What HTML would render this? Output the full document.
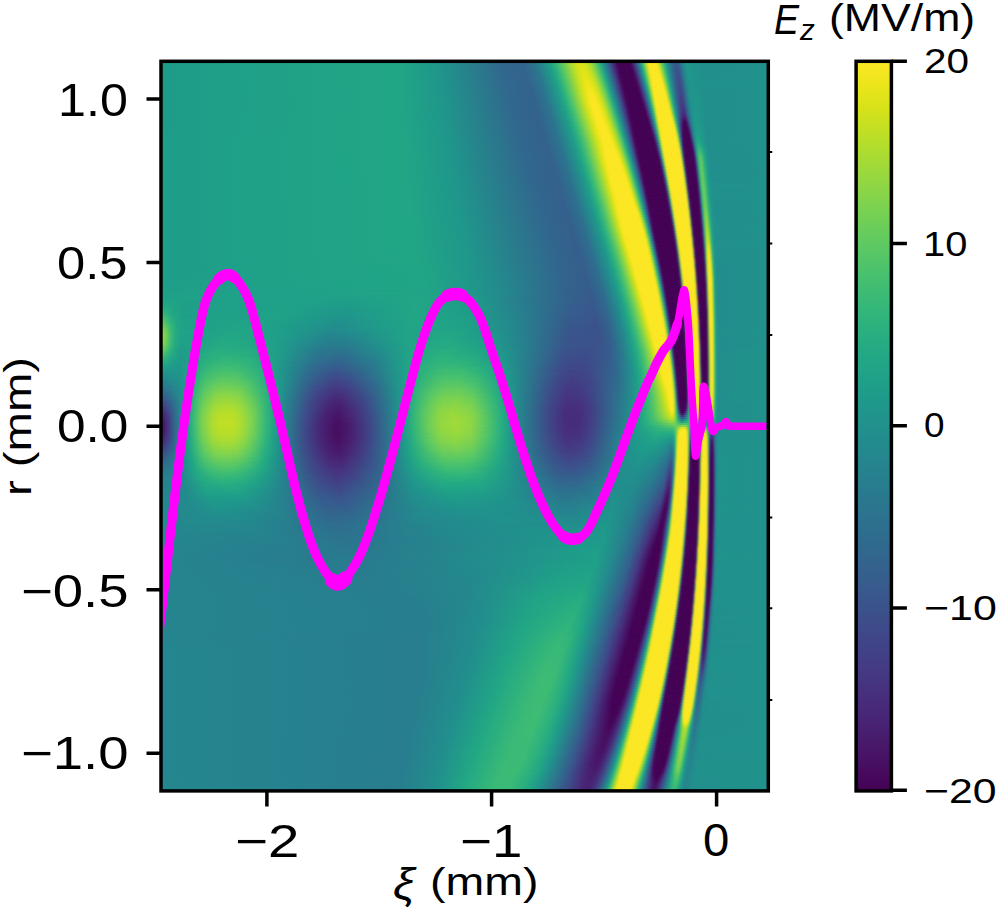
<!DOCTYPE html>
<html><head><meta charset="utf-8"><style>
html,body{margin:0;padding:0;background:#fff}
body{width:1000px;height:910px;position:relative;overflow:hidden;font-family:"Liberation Sans",sans-serif;color:#000}
#hm{position:absolute;left:161px;top:61px;width:608px;height:731px;overflow:hidden}
#hm i{display:block;width:100%}
.t{position:absolute;white-space:nowrap;line-height:1}
.yl{font-size:44px;right:0}
.xl{font-size:44px}
.cl{font-size:35px}
svg{position:absolute;left:0;top:0}
</style></head><body>
<div id="hm">
<i style="height:2px;background:linear-gradient(90deg,#1e9c89 0px,#21a685 236px,#1f958b 278px,#31688e 339px,#33638d 360px,#2b758e 373px,#1fa088 388px,#2cb07e 393px,#48c06e 398px,#a5db36 409px,#cfe11d 415px,#dae319 419px,#d2e21b 423px,#b8de29 427px,#8cd646 431px,#39b876 437px,#26aa82 439px,#21918c 442px,#38588c 448px,#462c7a 452px,#450458 456px,#440154 467px,#450658 469px,#462a78 472px,#375a8c 475px,#24888c 478px,#239888 479px,#29a882 480px,#39b677 481px,#72ce54 483px,#b7de2d 485px,#d6e222 486px,#ede520 487px,#f8e622 488px,#fde725 491px,#fce724 494px,#f6e622 495px,#e6e420 496px,#cee023 497px,#94d641 499px,#44be70 502px,#26a882 504px,#21948b 506px,#31688e 511px,#39568c 515px,#365c8c 517px,#238a8d 522px,#1f968b 525px,#21908c 541px,#21918c 607px)"></i>
<i style="height:2px;background:linear-gradient(90deg,#1e9c89 0px,#21a685 236px,#1f968b 277px,#31678e 341px,#32648e 362px,#2a768e 374px,#1f9e88 388px,#28ae80 393px,#4cc26c 399px,#a9dc33 410px,#d2e21c 416px,#dce319 420px,#d2e21c 424px,#b6de2a 428px,#88d448 432px,#34b679 438px,#24a784 440px,#228d8c 443px,#3a528a 449px,#46327d 452px,#46085a 456px,#440154 460px,#440456 469px,#471466 471px,#404285 474px,#2d728e 477px,#23918a 479px,#25a085 480px,#31b07c 481px,#48be6e 482px,#88d448 484px,#cce024 486px,#e7e420 487px,#f6e622 488px,#fde725 490px,#fae724 495px,#f0e620 496px,#dce220 497px,#c0de28 498px,#4ec26a 502px,#2aac80 504px,#22a286 505px,#26828e 508px,#365c8d 513px,#39568c 516px,#34618d 518px,#24888d 522px,#1f968b 525px,#21908c 541px,#21918c 607px)"></i>
<i style="height:2px;background:linear-gradient(90deg,#1e9c89 0px,#21a685 236px,#1f968b 277px,#31688e 341px,#32648e 362px,#2a788e 376px,#1f9e88 389px,#2ab07f 394px,#4ec46a 400px,#b5de2c 412px,#d6e21a 417px,#dee318 421px,#d3e21c 425px,#b4de2c 429px,#84d44a 433px,#3dba74 438px,#28ac81 440px,#209c88 442px,#2e6d8e 447px,#404286 451px,#482071 454px,#450458 457px,#440154 468px,#450558 470px,#47196a 472px,#3e4887 475px,#2a788e 478px,#249988 480px,#2aa881 481px,#3cb776 482px,#79d051 484px,#c0de2a 486px,#dfe321 487px,#f3e622 488px,#fce724 489px,#fce724 495px,#f8e622 496px,#e9e420 497px,#d1e223 498px,#94d640 500px,#5ac664 502px,#30b27c 504px,#25a684 505px,#22908c 507px,#33638d 512px,#39558c 515px,#38568c 517px,#228c8d 523px,#1f978b 526px,#21908d 540px,#21918c 607px)"></i>
<i style="height:2px;background:linear-gradient(90deg,#1e9c89 0px,#21a685 236px,#1f958b 279px,#31688e 340px,#33638d 362px,#2b758e 375px,#1fa088 390px,#2cb07e 395px,#51c46a 401px,#b1dd2e 412px,#d9e219 418px,#dfe318 422px,#d2e21c 426px,#b3dd2c 430px,#72cf56 435px,#39b876 439px,#26aa82 441px,#22908c 444px,#3a548b 450px,#472676 454px,#45075a 457px,#440154 461px,#440256 470px,#461163 472px,#423e83 475px,#2e708e 478px,#24908a 480px,#26a185 481px,#32b07c 482px,#4abe6d 483px,#b2dc30 486px,#d4e223 487px,#ede520 488px,#f9e623 489px,#fde725 493px,#fce724 496px,#f4e622 497px,#e0e420 498px,#c5e028 499px,#68cb5c 502px,#38b678 504px,#29ab81 505px,#21948b 507px,#32648d 512px,#3a548c 515px,#3a548c 517px,#32648d 519px,#238a8d 523px,#1f968b 526px,#21908d 540px,#21918c 607px)"></i>
<i style="height:2px;background:linear-gradient(90deg,#1e9c89 0px,#21a685 236px,#1f968b 278px,#31688e 342px,#33638d 363px,#2a788e 377px,#20a088 391px,#2db27e 396px,#54c668 402px,#bddf26 414px,#dce319 419px,#e0e318 423px,#d2e21c 427px,#b1dc2e 431px,#5ec962 437px,#2aae7f 441px,#209e88 443px,#2a788e 447px,#404486 452px,#471668 456px,#450458 458px,#440254 470px,#460a5c 472px,#44367e 475px,#31678d 478px,#24888c 480px,#249888 481px,#2aa980 482px,#3eb874 483px,#5ac663 484px,#a3da38 486px,#c8e027 487px,#e5e420 488px,#f6e622 489px,#fde725 491px,#f9e623 497px,#eee520 498px,#d6e222 499px,#b7dd2d 500px,#59c664 503px,#40bb72 504px,#2eb07d 505px,#24a484 506px,#228d8c 508px,#355e8d 513px,#3b528b 516px,#38568c 518px,#24888d 523px,#1f968b 526px,#21908c 541px,#21918c 607px)"></i>
<i style="height:2px;background:linear-gradient(90deg,#1e9c89 0px,#21a685 236px,#1f968b 278px,#31678e 343px,#33648d 364px,#2a788e 378px,#1f9e88 391px,#2ab07e 396px,#4fc46a 402px,#b1dd2e 413px,#d6e21a 418px,#e2e418 422px,#dce319 426px,#c3e023 430px,#95d840 434px,#4cc16c 439px,#28ac81 442px,#209a8a 444px,#306a8e 449px,#423e84 453px,#461062 457px,#440256 459px,#440255 471px,#460e60 473px,#423c82 476px,#2e6f8e 479px,#24908a 481px,#26a185 482px,#33b07a 483px,#4cc06c 484px,#bade2d 487px,#dce222 488px,#f2e622 489px,#fce724 490px,#fce724 497px,#f6e622 498px,#e4e420 499px,#c8e026 500px,#66ca5c 503px,#35b479 505px,#28a882 506px,#229c88 507px,#30688e 512px,#3b518b 516px,#3a548b 518px,#228c8d 524px,#1f978b 527px,#21908c 541px,#21918c 607px)"></i>
<i style="height:2px;background:linear-gradient(90deg,#1e9c89 0px,#21a685 236px,#1f968b 278px,#31678e 344px,#33638d 364px,#2b748e 377px,#1fa088 392px,#2cb07e 397px,#52c468 403px,#b5de2c 414px,#dae21a 419px,#e4e419 423px,#dde319 427px,#c2e024 431px,#92d742 435px,#46bf6f 440px,#2eb17d 442px,#20988a 445px,#365c8c 451px,#462e7b 455px,#460b5e 458px,#440254 460px,#440256 472px,#461264 474px,#404485 477px,#2b768e 480px,#249888 482px,#2ca980 483px,#3fb874 484px,#83d24a 486px,#abda34 487px,#d0e025 488px,#ebe421 489px,#f9e623 490px,#fde725 494px,#fae724 498px,#f0e622 499px,#d9e222 500px,#bade2c 501px,#58c565 504px,#3eba74 505px,#2cae7e 506px,#24a186 507px,#24898d 509px,#375a8c 514px,#3c4f8a 517px,#38588c 519px,#238a8d 524px,#1f968b 527px,#21908c 541px,#21918c 607px)"></i>
<i style="height:2px;background:linear-gradient(90deg,#1e9c89 0px,#21a685 236px,#1f968b 279px,#31688e 342px,#33638d 365px,#2a788e 379px,#20a088 393px,#2db27d 398px,#55c667 404px,#b9de28 415px,#dce319 420px,#e6e419 424px,#dee319 428px,#c0df24 432px,#8ed644 436px,#42bd72 441px,#2aae7f 443px,#209d88 445px,#2e6c8e 450px,#424084 454px,#461062 458px,#440256 460px,#450456 473px,#471869 475px,#423a80 477px,#2e6e8d 480px,#24908a 482px,#26a185 483px,#34b17a 484px,#4ec06a 485px,#c2de2a 488px,#e2e422 489px,#f5e622 490px,#fde725 492px,#fce724 498px,#f8e622 499px,#e8e421 500px,#cce026 501px,#86d349 503px,#48be6e 505px,#33b27a 506px,#26a684 507px,#228d8c 509px,#365c8c 514px,#3c4e8a 517px,#3a548b 519px,#24888d 524px,#1f968b 527px,#21908c 541px,#21918c 607px)"></i>
<i style="height:2px;background:linear-gradient(90deg,#1e9c89 0px,#21a685 237px,#20948c 282px,#31688e 344px,#33648d 366px,#2a788e 380px,#1f9e88 393px,#2ab07e 398px,#50c46a 404px,#acdc31 414px,#d4e21b 419px,#e7e419 423px,#e5e419 427px,#d1e21c 431px,#a7dc34 435px,#4cc26c 441px,#28ab81 444px,#209a8a 446px,#365e8c 452px,#443a82 455px,#460b5e 459px,#440254 461px,#440255 473px,#461062 475px,#404084 478px,#2b768d 481px,#249888 483px,#2caa80 484px,#42ba72 485px,#62c85e 486px,#b3dc31 488px,#d8e224 489px,#f0e622 490px,#fbe724 491px,#fce724 499px,#f2e622 500px,#dce222 501px,#bcde2c 502px,#55c466 505px,#3cb876 506px,#2aab80 507px,#229e88 508px,#2a7a8e 511px,#39568c 515px,#3d4d8a 518px,#365a8c 520px,#24868e 524px,#1f968b 527px,#20938c 533px,#21918c 607px)"></i>
<i style="height:2px;background:linear-gradient(90deg,#1e9c89 0px,#21a685 237px,#1f968b 279px,#31678e 345px,#33648d 367px,#2a778e 380px,#1fa088 394px,#2cb27e 399px,#53c668 405px,#c2e024 417px,#dee319 421px,#eae51a 424px,#e3e419 429px,#c7e021 433px,#96d840 437px,#46bf6e 442px,#25a883 445px,#20968a 447px,#32648d 452px,#424185 455px,#471c6d 458px,#45075a 460px,#440154 464px,#440456 474px,#46095c 475px,#462474 477px,#3e4887 479px,#287e8d 482px,#24908a 483px,#27a184 484px,#36b279 485px,#52c268 486px,#a3d939 488px,#cce028 489px,#eae422 490px,#f8e623 491px,#fde725 495px,#fce724 499px,#f8e623 500px,#eae422 501px,#cee026 502px,#86d34a 504px,#46be70 506px,#30b07c 507px,#25a384 508px,#24898d 510px,#355e8d 514px,#3d4d8a 517px,#3c4e8a 519px,#228a8d 525px,#1f978b 528px,#21908c 541px,#21918c 607px)"></i>
<i style="height:2px;background:linear-gradient(90deg,#1e9c89 0px,#21a685 237px,#1f958b 281px,#31688e 344px,#33638d 367px,#2a788e 381px,#20a188 395px,#2eb27c 400px,#57c666 406px,#bedf26 417px,#dce319 421px,#ece51b 425px,#e8e41a 429px,#cfe11d 433px,#a0da39 437px,#51c468 442px,#2aae80 445px,#209c88 447px,#2c748e 451px,#3e4888 455px,#472272 458px,#460b5e 460px,#440254 462px,#440254 474px,#460d5f 476px,#413e82 479px,#2c748d 482px,#249888 484px,#2eaa7f 485px,#45bb70 486px,#68ca5c 487px,#bcde2e 489px,#e0e322 490px,#f5e622 491px,#fde725 493px,#fce724 500px,#f4e622 501px,#dfe422 502px,#bede2c 503px,#52c268 506px,#38b677 507px,#28a882 508px,#229a88 509px,#306a8e 513px,#3b528b 516px,#3e4b89 518px,#3a538b 520px,#24888d 525px,#1f968b 528px,#21908c 541px,#21918c 607px)"></i>
<i style="height:2px;background:linear-gradient(90deg,#1e9c89 0px,#21a685 237px,#1f968b 280px,#31688e 344px,#33638d 368px,#2a788e 382px,#1f9e88 395px,#2bb07e 400px,#52c468 406px,#b0dd2e 416px,#d3e21c 420px,#ebe51a 424px,#eee51c 428px,#dee319 432px,#c3e023 435px,#8dd645 439px,#3eba74 444px,#28aa82 446px,#20988a 448px,#32668d 453px,#404286 456px,#471c6e 459px,#45075a 461px,#440154 465px,#440255 475px,#45075a 476px,#462271 478px,#3e4686 480px,#287e8d 483px,#24908a 484px,#28a284 485px,#38b378 486px,#58c465 487px,#acda35 489px,#d4e226 490px,#f0e523 491px,#fbe724 492px,#fae624 501px,#ede522 502px,#d2e126 503px,#addb34 504px,#61c860 506px,#42bc72 507px,#2eae7e 508px,#24a086 509px,#26858d 511px,#375a8c 515px,#3e4a89 518px,#3c4f8a 520px,#24868e 525px,#1f968b 528px,#21918c 544px,#21918c 607px)"></i>
<i style="height:2px;background:linear-gradient(90deg,#1e9c89 0px,#21a685 237px,#1f968b 280px,#31688e 346px,#33638d 368px,#2b748e 381px,#1fa088 396px,#2cb27e 401px,#55c666 407px,#b6de2b 417px,#d8e21a 421px,#eee51b 425px,#efe51c 429px,#dde31a 433px,#c1e024 436px,#88d448 440px,#39b877 445px,#25a884 447px,#21948b 449px,#3a548b 455px,#46307c 458px,#460b5e 461px,#440254 463px,#440456 476px,#460a5c 477px,#462976 479px,#3c4e88 481px,#26868c 484px,#269888 485px,#2fab7e 486px,#48bc6e 487px,#9ad73e 489px,#c7e02a 490px,#e8e423 491px,#f8e624 492px,#fde725 495px,#fce724 501px,#f6e622 502px,#e2e423 503px,#c1de2c 504px,#71cd56 506px,#4ec06a 507px,#35b47a 508px,#27a484 509px,#22968a 510px,#32668d 514px,#3d4e8a 517px,#3f4989 519px,#39568b 521px,#26848e 525px,#20958b 528px,#20938c 534px,#21918c 607px)"></i>
<i style="height:2px;background:linear-gradient(90deg,#1e9c89 0px,#21a685 237px,#1f968b 280px,#31678e 347px,#33638d 369px,#2c738e 381px,#1f9e88 396px,#2ab080 401px,#48c06e 406px,#9cd93b 415px,#cce11e 420px,#e3e419 423px,#f2e61e 427px,#ede51c 431px,#d4e21c 435px,#b2dc2e 438px,#62ca60 443px,#34b57a 446px,#22a486 448px,#22908c 450px,#365b8c 455px,#443680 458px,#45075a 462px,#440154 466px,#440255 476px,#460f61 478px,#404485 481px,#297c8d 484px,#25908a 485px,#29a283 486px,#3cb576 487px,#5dc562 488px,#b6dc31 490px,#dde224 491px,#f4e623 492px,#fce724 493px,#fae724 502px,#efe623 503px,#d4e226 504px,#addb34 505px,#5ec662 507px,#3fb874 508px,#2caa80 509px,#239c88 510px,#2c748e 513px,#39558b 516px,#3f4888 519px,#3a528a 521px,#238a8d 526px,#1f968b 529px,#21908c 542px,#21918c 607px)"></i>
<i style="height:2px;background:linear-gradient(90deg,#1e9c89 0px,#21a685 237px,#1f968b 281px,#31688e 347px,#33638d 370px,#2a768e 383px,#1f9f88 397px,#2cb07e 402px,#54c668 408px,#bfdf25 419px,#e0e319 423px,#f4e61e 427px,#f2e61e 431px,#dce31a 435px,#bcde28 438px,#7ed24e 442px,#3cba74 446px,#26aa82 448px,#20968a 450px,#34628d 455px,#423d84 458px,#460b5e 462px,#440254 464px,#440256 477px,#461466 479px,#423880 481px,#34608c 483px,#26868c 485px,#269a87 486px,#31ac7c 487px,#4cbe6c 488px,#75ce54 489px,#a4d93a 490px,#d0e028 491px,#eee524 492px,#fae724 493px,#fce724 502px,#f6e623 503px,#e4e423 504px,#c2de2c 505px,#6ecc57 507px,#4cbe6c 508px,#32b07c 509px,#26a285 510px,#26848d 512px,#38568c 516px,#404688 519px,#3c4e8a 521px,#287e8e 525px,#20938c 528px,#1f968b 532px,#21908c 542px,#21918c 607px)"></i>
<i style="height:2px;background:linear-gradient(90deg,#1e9c89 0px,#21a685 237px,#1f968b 281px,#31678e 348px,#33638d 371px,#2a768e 384px,#1fa088 398px,#2db27e 403px,#58c666 409px,#c4e022 420px,#e4e419 424px,#f6e620 428px,#f2e61e 432px,#dae21a 436px,#b8de2a 439px,#68cc5c 444px,#38b878 447px,#24a684 449px,#24888d 452px,#3b508a 457px,#462a78 460px,#45075a 463px,#440154 467px,#450457 478px,#460c5e 479px,#404184 482px,#30688d 484px,#25908a 486px,#2aa482 487px,#3fb674 488px,#62c75e 489px,#c0de2e 491px,#e6e424 492px,#f8e624 493px,#fde725 496px,#fbe724 503px,#f0e623 504px,#d6e226 505px,#aedb34 506px,#5ac464 508px,#3cb676 509px,#29a882 510px,#239888 511px,#2e6e8e 514px,#3c508a 517px,#404688 520px,#3a548b 522px,#25848e 526px,#1f958b 529px,#1f968b 533px,#21908c 542px,#21918c 607px)"></i>
<i style="height:2px;background:linear-gradient(90deg,#1e9c89 0px,#21a685 238px,#1f968b 281px,#31688e 348px,#33628d 370px,#2c738e 383px,#1f9e88 398px,#2ab07e 403px,#4ac26d 408px,#96d83f 416px,#d1e21c 422px,#e8e41a 425px,#f8e621 429px,#f2e61e 433px,#e1e419 436px,#c2e024 439px,#74d054 444px,#33b47a 448px,#22a286 450px,#26848e 453px,#3e4b88 458px,#472474 461px,#460c5e 463px,#440254 465px,#440255 478px,#450759 479px,#462271 481px,#3d4a87 483px,#26868c 486px,#269a87 487px,#34ae7c 488px,#52c068 489px,#aedb35 491px,#dae226 492px,#f2e623 493px,#fce724 494px,#fce724 503px,#f8e624 504px,#e6e424 505px,#c4de2c 506px,#6cca5a 508px,#48bc6e 509px,#2fae7e 510px,#249e86 511px,#287f8e 513px,#3b518b 517px,#414487 520px,#3c508a 522px,#26828e 526px,#20948c 529px,#1f958c 534px,#21908c 543px,#21918c 607px)"></i>
<i style="height:2px;background:linear-gradient(90deg,#1e9c89 0px,#21a685 238px,#1f958b 283px,#31688e 347px,#33628d 371px,#2a768e 385px,#1fa088 399px,#2cb17e 404px,#56c666 410px,#c4e022 421px,#dee319 424px,#f6e620 428px,#f8e622 432px,#e8e41a 436px,#cce01f 439px,#a2da38 442px,#4bc16c 447px,#2eb27d 449px,#219e88 451px,#2c748e 455px,#404586 459px,#471e6e 462px,#45075a 464px,#440154 468px,#440456 479px,#460a5c 480px,#462a77 482px,#3a548a 484px,#297c8d 486px,#26908a 487px,#2ca482 488px,#42b872 489px,#6aca5a 490px,#9cd63e 491px,#cce02a 492px,#ede524 493px,#fae724 494px,#fce724 504px,#f1e623 505px,#d6e226 506px,#addb36 507px,#56c266 509px,#38b478 510px,#27a484 511px,#23938a 512px,#365c8c 516px,#404587 519px,#404487 521px,#38588c 523px,#24888d 527px,#1f968b 530px,#21908c 543px,#21918c 607px)"></i>
<i style="height:2px;background:linear-gradient(90deg,#1e9c89 0px,#21a685 238px,#1f968b 282px,#31688e 349px,#33628d 372px,#2b748e 385px,#1f9d89 399px,#2aae80 404px,#50c46a 410px,#bedf26 421px,#e2e419 425px,#f9e622 429px,#fae622 433px,#e6e41a 437px,#d4e21c 439px,#acdc30 442px,#56c566 447px,#2aae7f 450px,#219a88 452px,#2e708e 456px,#423f84 460px,#471668 463px,#450458 465px,#440154 478px,#450558 480px,#461f6e 482px,#3e4886 484px,#2d728d 486px,#26868c 487px,#289c86 488px,#36b07a 489px,#58c264 490px,#bbdd31 492px,#e4e425 493px,#f7e624 494px,#fde725 496px,#fce724 504px,#f8e624 505px,#e6e424 506px,#c3de2d 507px,#67c85c 509px,#43ba71 510px,#2caa80 511px,#249888 512px,#306b8e 515px,#3e4b89 518px,#424086 520px,#404788 522px,#287b8e 526px,#20928c 529px,#1f978b 533px,#21908c 543px,#21918c 607px)"></i>
<i style="height:2px;background:linear-gradient(90deg,#1e9c89 0px,#21a685 238px,#1f968b 282px,#31688e 348px,#33628d 372px,#2c748e 385px,#1f9a8a 399px,#26ac81 404px,#44be70 409px,#8fd644 417px,#cde11e 423px,#e6e41a 426px,#fbe723 430px,#fae722 434px,#e4e41a 438px,#c4e022 441px,#86d44a 445px,#40bc73 449px,#27aa82 451px,#21968a 453px,#34608c 458px,#443881 461px,#45075a 465px,#440154 469px,#440256 480px,#45085a 481px,#462775 483px,#3a5288 485px,#2a7c8d 487px,#26928a 488px,#2ea680 489px,#48ba6e 490px,#73cc55 491px,#a7d93a 492px,#d6e227 493px,#f2e623 494px,#fce724 495px,#fce724 505px,#f2e623 506px,#d7e227 507px,#abda36 508px,#51c069 510px,#34b07a 511px,#269e86 512px,#287e8e 514px,#39568b 517px,#404487 519px,#423e85 521px,#3c4e8a 523px,#26828e 527px,#20948b 530px,#1f958c 535px,#21908c 544px,#21918c 607px)"></i>
<i style="height:2px;background:linear-gradient(90deg,#1e9c89 0px,#21a685 238px,#1f968b 282px,#31678e 351px,#33628d 373px,#2c748e 386px,#1fa088 401px,#2cb27e 406px,#58c666 412px,#bedf26 422px,#e3e419 426px,#fae722 430px,#fae722 435px,#e3e41a 439px,#c2e024 442px,#80d24d 446px,#3ab876 450px,#25a684 452px,#22928c 454px,#375a8c 459px,#45327d 462px,#460b5e 465px,#440254 467px,#440457 481px,#460c5e 482px,#44307a 484px,#365c8a 486px,#26868c 488px,#289c85 489px,#3ab277 490px,#60c560 491px,#c6de2d 493px,#ebe424 494px,#fae724 495px,#fde725 502px,#fde724 505px,#f8e624 506px,#e8e424 507px,#c2de2e 508px,#62c65e 510px,#3eb674 511px,#2aa582 512px,#24948a 513px,#32658d 516px,#404587 519px,#433d84 521px,#424086 522px,#38588b 524px,#277f8e 527px,#20948c 530px,#1f968b 534px,#21908c 544px,#21918c 607px)"></i>
<i style="height:2px;background:linear-gradient(90deg,#1e9c89 0px,#21a685 238px,#1f968b 283px,#31688e 349px,#33628d 373px,#2b748e 387px,#1f9e89 401px,#26ac82 405px,#42be72 410px,#78d152 416px,#cce11e 424px,#e6e41a 427px,#fce724 431px,#fae722 436px,#e1e41a 440px,#bcde26 443px,#67cb5c 448px,#34b679 451px,#22a286 453px,#26838e 456px,#3a548a 460px,#462c79 463px,#45075a 466px,#440154 469px,#440255 481px,#450659 482px,#461264 483px,#423a80 485px,#32668c 487px,#269288 489px,#30a87e 490px,#4ebd6c 491px,#7dce50 492px,#b3db35 493px,#e0e226 494px,#f6e624 495px,#fde725 497px,#fce724 506px,#f2e624 507px,#d7e227 508px,#aada38 509px,#76ce53 510px,#4cbe6c 511px,#30ac7e 512px,#249a88 513px,#30688d 516px,#404587 519px,#443b84 521px,#433c84 522px,#3a528a 524px,#287c8e 527px,#20928c 530px,#1f978b 534px,#21908c 544px,#21918c 607px)"></i>
<i style="height:2px;background:linear-gradient(90deg,#1e9c89 0px,#21a685 238px,#1f968b 283px,#31678e 351px,#33628d 374px,#2b768e 388px,#1f9e88 402px,#2cb07e 407px,#4cc26c 412px,#9cd93b 420px,#d0e11c 425px,#e9e41a 428px,#fae722 431px,#fce724 436px,#efe51c 439px,#d3e21c 442px,#a9dc33 445px,#4ec26a 450px,#30b27c 452px,#229e88 454px,#287e8e 457px,#3c4e8a 461px,#472474 464px,#460b5e 466px,#440254 468px,#440456 482px,#450a5c 483px,#442e78 485px,#365a8a 487px,#28888c 489px,#2a9e84 490px,#3eb474 491px,#68c85c 492px,#9ed63e 493px,#d1e02a 494px,#f0e524 495px,#fce724 496px,#fde725 506px,#f9e624 507px,#e8e426 508px,#c2de2f 509px,#5dc462 511px,#3ab378 512px,#28a084 513px,#258e8b 514px,#3b508a 518px,#433e84 520px,#443982 522px,#423f84 523px,#2a788e 527px,#20928c 530px,#1f978b 534px,#21908c 544px,#21918c 607px)"></i>
<i style="height:2px;background:linear-gradient(90deg,#1e9c89 0px,#21a685 238px,#1f978b 281px,#31688e 350px,#33628d 375px,#2a788e 390px,#1fa088 403px,#2db27e 408px,#58c865 414px,#cae020 425px,#e5e41a 428px,#fce724 432px,#fce724 437px,#ede51c 440px,#cfe11e 443px,#a3da37 446px,#48c06e 451px,#2cae7f 453px,#219a89 455px,#2e6e8e 459px,#3e4888 462px,#471e6e 465px,#450659 467px,#440154 470px,#440254 482px,#450558 483px,#461061 484px,#42377e 486px,#32658c 488px,#289488 490px,#34aa7c 491px,#55c066 492px,#c0de30 494px,#e8e426 495px,#fae624 496px,#fde725 503px,#fce724 507px,#f2e624 508px,#d6e228 509px,#a6d83a 510px,#72cb56 511px,#46ba70 512px,#2da780 513px,#25948a 514px,#34608c 517px,#433d84 520px,#453680 522px,#443a82 523px,#2c748e 527px,#238a8d 529px,#1f978b 532px,#21908c 545px,#21918c 607px)"></i>
<i style="height:2px;background:linear-gradient(90deg,#1e9c89 0px,#21a685 238px,#1f968b 284px,#31678e 352px,#33628d 376px,#2a788e 390px,#20a287 404px,#2fb47c 409px,#54c668 414px,#c4e022 425px,#e0e31a 428px,#fae622 432px,#fce724 437px,#f2e61e 440px,#d8e21c 443px,#bede26 445px,#65cb5e 450px,#32b47a 453px,#22a086 455px,#26808e 458px,#3c4f8a 462px,#44337e 464px,#460a5d 467px,#440254 469px,#440256 483px,#45085a 484px,#461666 485px,#3f4282 487px,#2e718c 489px,#28888a 490px,#2ca082 491px,#44b671 492px,#72ca56 493px,#acd939 494px,#dce228 495px,#f6e624 496px,#fce724 497px,#fde725 507px,#f9e624 508px,#e8e426 509px,#bfdd30 510px,#57c266 512px,#36ae7a 513px,#269a86 514px,#2c748d 516px,#3f4888 519px,#453681 521px,#453680 523px,#3b508a 525px,#287d8e 528px,#20938c 531px,#1f988b 534px,#21908c 545px,#21918c 607px)"></i>
<i style="height:2px;background:linear-gradient(90deg,#1e9c89 0px,#21a685 238px,#1f968b 284px,#31688e 351px,#33628d 376px,#2c748e 389px,#1f9f88 404px,#2cb17e 409px,#4ec26b 414px,#93d841 421px,#d2e21c 427px,#eae41b 430px,#fae723 433px,#fae722 439px,#dfe31a 443px,#b8de2a 446px,#5ec862 451px,#2eb07d 454px,#219c88 456px,#2e708e 460px,#423a82 464px,#461062 467px,#440255 469px,#440456 484px,#460c5e 485px,#42347c 487px,#3c4c87 488px,#2a7d8c 490px,#289587 491px,#38ac7a 492px,#5ec262 493px,#96d443 494px,#cce02c 495px,#eee524 496px,#fbe724 497px,#fce724 508px,#f2e624 509px,#d5e129 510px,#a3d83d 511px,#6cc95a 512px,#42b673 513px,#2aa283 514px,#268d8a 515px,#38578b 518px,#433c84 520px,#46307d 522px,#46307d 523px,#443881 524px,#306b8e 527px,#228c8d 530px,#1f988b 533px,#21908c 545px,#21918c 607px)"></i>
<i style="height:2px;background:linear-gradient(90deg,#1e9c89 0px,#21a685 236px,#1f988b 280px,#31678e 354px,#33628d 376px,#2c728e 389px,#1f9c89 404px,#29ae80 409px,#48c06e 414px,#8cd646 421px,#cce01f 427px,#e6e41a 430px,#fce724 434px,#fce724 439px,#eee51c 442px,#d0e21e 445px,#a2da38 448px,#45be70 453px,#2aac80 455px,#21988a 457px,#365d8c 462px,#44337e 465px,#460a5c 468px,#440254 470px,#440255 484px,#450659 485px,#461264 486px,#404082 488px,#2e718c 490px,#28898a 491px,#2ea280 492px,#4cba6d 493px,#7ece50 494px,#badc34 495px,#e6e427 496px,#f9e625 497px,#fde725 501px,#fde725 508px,#f9e624 509px,#e8e426 510px,#bedd32 511px,#52be69 513px,#32a97e 514px,#269488 515px,#306b8d 517px,#433c82 520px,#472b7a 522px,#472a79 523px,#46307c 524px,#32658c 527px,#238a8d 530px,#1f978b 533px,#21908c 546px,#21918c 607px)"></i>
<i style="height:2px;background:linear-gradient(90deg,#1e9c89 0px,#21a685 236px,#1f988b 281px,#31678e 354px,#33628d 377px,#2c738e 390px,#1f9e88 405px,#2ab07e 410px,#4cc26c 415px,#9bd93c 423px,#cee11e 428px,#e8e41a 431px,#fae722 434px,#fce724 440px,#ece51c 443px,#cce01f 446px,#8ad547 450px,#3ebb74 454px,#26a882 456px,#21948b 458px,#38568b 463px,#462b78 466px,#460e61 468px,#440255 470px,#440456 485px,#450a5c 486px,#461a6a 487px,#3c4a86 489px,#2a7e8c 491px,#2a9786 492px,#3db076 493px,#69c65c 494px,#a4d83e 495px,#dae22a 496px,#f4e624 497px,#fce724 498px,#fce724 509px,#f2e624 510px,#d6e12a 511px,#a2d73e 512px,#68c75c 513px,#3eb276 514px,#299b85 515px,#28848c 516px,#3e4a88 519px,#462d7b 521px,#482273 523px,#472675 524px,#44347d 525px,#365d8c 527px,#287c8e 529px,#21908c 531px,#1f988a 534px,#21908d 545px,#21918c 607px)"></i>
<i style="height:2px;background:linear-gradient(90deg,#1e9c89 0px,#21a685 236px,#1f988b 281px,#31678e 355px,#33628d 378px,#2a788e 393px,#1fa088 406px,#2cb27e 411px,#4ec46a 416px,#aadc33 425px,#d2e21c 429px,#f2e61e 433px,#fde724 436px,#fae723 441px,#eae41b 444px,#d4e21c 446px,#a8dc34 449px,#4ac06e 454px,#2cae7f 456px,#219a8a 458px,#306a8e 462px,#404285 465px,#461466 468px,#440256 470px,#440254 485px,#450558 486px,#461061 487px,#403c80 489px,#385689 490px,#298b8a 492px,#32a57e 493px,#55be68 494px,#8ed248 495px,#c8de2e 496px,#eee524 497px,#fae724 498px,#fde725 509px,#fae624 510px,#e8e426 511px,#bfdc32 512px,#84cf4d 513px,#4ebb6b 514px,#2fa480 515px,#288c8a 516px,#355e8c 518px,#472877 521px,#48186a 523px,#471a6c 524px,#462774 525px,#395489 527px,#2a788e 529px,#228e8d 531px,#1f998a 534px,#21908c 546px,#21918c 607px)"></i>
<i style="height:2px;background:linear-gradient(90deg,#1e9c89 0px,#21a685 236px,#1f988b 281px,#31678e 355px,#33628d 378px,#2b748e 392px,#1f9e89 406px,#2aaf80 411px,#4ac16e 416px,#8dd645 423px,#cce11e 429px,#e6e41a 432px,#fce724 436px,#fae722 442px,#e7e41a 445px,#d1e21d 447px,#a2da37 450px,#55c566 454px,#33b47a 456px,#22a086 458px,#248a8d 460px,#38578b 464px,#462a78 467px,#460c5f 469px,#440254 471px,#440255 486px,#45085a 487px,#461666 488px,#3d4884 490px,#2a7e8b 492px,#2c9984 493px,#44b472 494px,#78ca54 495px,#b6db36 496px,#e6e428 497px,#fae625 498px,#fde725 505px,#fce724 510px,#f4e625 511px,#d9e12b 512px,#a3d63f 513px,#66c45e 514px,#3aac78 515px,#2a9387 516px,#2b7a8c 517px,#3d4a87 519px,#472473 521px,#460e60 523px,#460e60 524px,#461868 525px,#3d4784 527px,#2d718e 529px,#238a8d 531px,#1f9a8a 534px,#21908d 545px,#21918c 607px)"></i>
<i style="height:2px;background:linear-gradient(90deg,#1e9c89 0px,#21a685 236px,#1f998a 280px,#31678e 356px,#33628d 379px,#2b768e 393px,#1f9e88 407px,#2cb07e 412px,#4cc26c 417px,#a6db34 426px,#d0e11c 430px,#e9e41a 433px,#fae722 436px,#fce724 442px,#eee51c 445px,#cde11f 448px,#8ad547 452px,#3cba74 456px,#25a684 458px,#22908c 460px,#355e8c 464px,#45317c 467px,#45075a 470px,#440154 473px,#440456 487px,#450c5e 488px,#451f6e 489px,#385588 491px,#2e718c 492px,#2a8d88 493px,#38a87b 494px,#62c261 495px,#a0d642 496px,#d9e22c 497px,#f6e625 498px,#fce724 499px,#fae725 511px,#eae426 512px,#c0dc32 513px,#82cd4f 514px,#4bb66e 515px,#2e9c82 516px,#2a818b 517px,#3c4c87 519px,#461f6f 521px,#450659 523px,#440457 524px,#450c5d 525px,#441e6c 526px,#395388 528px,#297a8e 530px,#21908c 532px,#1f9a8a 534px,#21908d 546px,#21918c 607px)"></i>
<i style="height:2px;background:linear-gradient(90deg,#1e9c89 0px,#21a685 236px,#1f998a 280px,#31678e 356px,#33628d 380px,#2b748e 393px,#1f9c89 407px,#28ae80 412px,#47c06e 417px,#95d840 425px,#d3e21c 431px,#f2e61e 435px,#fde724 438px,#fce724 443px,#ece51c 446px,#d6e21c 448px,#a8dc34 451px,#5ac764 455px,#36b678 457px,#23a286 459px,#248a8c 461px,#38578b 465px,#443980 467px,#460b5e 470px,#440254 472px,#440254 487px,#450659 488px,#451364 489px,#3d4682 491px,#34628a 492px,#2b808a 493px,#309c82 494px,#4eb86c 495px,#88cf4c 496px,#c6de30 497px,#eee426 498px,#fae724 499px,#fce725 511px,#f5e625 512px,#dae12c 513px,#a2d540 514px,#62c061 515px,#37a67c 516px,#2a8988 517px,#306c8b 518px,#3a5087 519px,#461c6c 521px,#450b5d 522px,#440254 524px,#440558 525px,#451262 526px,#3d4684 528px,#2c748e 530px,#228e8c 532px,#1f9a8a 534px,#1f988b 538px,#21908d 546px,#21918c 607px)"></i>
<i style="height:2px;background:linear-gradient(90deg,#1e9c89 0px,#21a685 236px,#1f998a 280px,#31678e 356px,#33628d 380px,#2c738e 393px,#1f9e89 408px,#2ab07e 413px,#4ac26d 418px,#99d83d 426px,#cee11e 431px,#efe51c 435px,#fce724 438px,#fce724 444px,#e8e41b 447px,#d2e21d 449px,#a3da37 452px,#53c468 456px,#31b27c 458px,#229e88 460px,#2a798e 463px,#3c508a 466px,#45307c 468px,#461062 470px,#450658 471px,#440154 475px,#440256 488px,#450a5c 489px,#451c6a 490px,#385487 492px,#2e728b 493px,#2c9087 494px,#3ead76 495px,#70c658 496px,#b2da39 497px,#e4e429 498px,#f9e625 499px,#fde725 503px,#fae725 512px,#ebe427 513px,#c0dc34 514px,#7eca52 515px,#46b072 516px,#2e9285 517px,#2e738b 518px,#385487 519px,#451a6a 521px,#450a5c 522px,#440154 524px,#450a5c 526px,#441c6a 527px,#385588 529px,#287e8d 531px,#20958b 533px,#1f9c89 536px,#21908d 544px,#21918c 607px)"></i>
<i style="height:2px;background:linear-gradient(90deg,#1e9c89 0px,#21a685 236px,#1f988b 282px,#31688e 355px,#33628d 381px,#2a788e 396px,#1f9e88 409px,#2cb07e 414px,#4dc26c 419px,#9dda3a 427px,#d2e21c 432px,#eae41b 435px,#fae722 438px,#fae722 445px,#e6e41a 448px,#cee11e 450px,#9cd93b 453px,#4cc16c 457px,#2cae7e 459px,#21988a 461px,#32668d 465px,#443880 468px,#46095c 471px,#440254 473px,#440254 488px,#440457 489px,#451061 490px,#442672 491px,#3e4381 492px,#34628a 493px,#2c828a 494px,#34a07e 495px,#5bbc65 496px,#9bd444 497px,#d7e12d 498px,#f6e625 499px,#fce725 500px,#fce725 512px,#f6e626 513px,#dae12c 514px,#9ed444 515px,#5cbc65 516px,#359c7f 517px,#2e7b8a 518px,#365887 519px,#451b69 521px,#45095b 522px,#440154 524px,#440456 526px,#451060 527px,#422872 528px,#3c4882 529px,#32648c 530px,#24888d 532px,#1f9a8a 534px,#1f9c89 537px,#21908d 545px,#21918c 607px)"></i>
<i style="height:2px;background:linear-gradient(90deg,#1e9c89 0px,#21a685 236px,#1f988b 283px,#31678e 357px,#33628d 381px,#2b748e 395px,#1f9c89 409px,#29ae80 414px,#48c06e 419px,#96d83f 427px,#cbe01f 432px,#e6e41a 435px,#fce724 439px,#fae622 446px,#e3e41a 449px,#cae020 451px,#96d83f 454px,#44be70 458px,#28aa81 460px,#22938a 462px,#355e8c 466px,#423f84 468px,#460e60 471px,#450558 472px,#440154 480px,#440255 489px,#45085a 490px,#451868 491px,#395286 493px,#2f728a 494px,#2e9284 495px,#48b170 496px,#82cc50 497px,#c4dc32 498px,#ece426 499px,#fae724 500px,#fae725 513px,#eae427 514px,#bcda36 515px,#78c656 516px,#41a876 517px,#2f8487 518px,#346088 519px,#441c6a 521px,#45095b 522px,#440154 524px,#440255 526px,#45085a 527px,#441a68 528px,#40397c 529px,#365888 530px,#26848d 532px,#1f9a8a 534px,#1f9e88 537px,#21908d 545px,#21918c 607px)"></i>
<i style="height:2px;background:linear-gradient(90deg,#1e9c89 0px,#21a685 240px,#1f968b 287px,#31688e 356px,#33628d 382px,#2b768e 396px,#1f9e88 410px,#2ab07e 415px,#4cc26c 420px,#90d644 427px,#cee11e 433px,#e8e41a 436px,#fae722 439px,#fce724 446px,#eae41c 449px,#d4e21c 451px,#a2da37 454px,#50c36a 458px,#2fb07d 460px,#25a684 461px,#228e8c 463px,#38578b 467px,#44367f 469px,#461466 471px,#45085a 472px,#440154 474px,#440456 490px,#450d5e 491px,#44236e 492px,#3e4280 493px,#346389 494px,#2d8488 495px,#3aa47a 496px,#68c25e 497px,#acd83c 498px,#e2e22a 499px,#f8e626 500px,#fde725 503px,#fce725 513px,#f5e626 514px,#d6e02f 515px,#96d048 516px,#54b46b 517px,#349082 518px,#346888 519px,#3e407e 520px,#441e6b 521px,#450a5c 522px,#440154 524px,#440456 527px,#441060 528px,#422a72 529px,#3b4c84 530px,#30688c 531px,#287e8d 532px,#20988a 534px,#1fa088 537px,#21908c 544px,#21918c 607px)"></i>
<i style="height:2px;background:linear-gradient(90deg,#1e9d89 0px,#21a685 240px,#1f978b 285px,#31678e 358px,#33628d 382px,#2c728e 395px,#1f9c8a 410px,#28ae80 415px,#4ec36b 421px,#9eda3a 429px,#d2e21c 434px,#f2e61e 438px,#fde724 441px,#fce724 447px,#e8e41b 450px,#d0e21e 452px,#9cd83b 455px,#49c06e 459px,#2aac80 461px,#22948a 463px,#355f8c 467px,#423e83 469px,#460c5e 472px,#440254 474px,#440255 490px,#450659 491px,#451565 492px,#385285 494px,#2f748a 495px,#329682 496px,#54b76a 497px,#94d049 498px,#d4e02f 499px,#f4e626 500px,#fce725 501px,#fae625 514px,#e7e428 515px,#b4d83a 516px,#6dbf5c 517px,#3c9c7b 518px,#327286 519px,#3c4780 520px,#43226c 521px,#450b5c 522px,#440355 523px,#440255 527px,#44085a 528px,#441c6a 529px,#345e89 531px,#2a788d 532px,#20978a 534px,#20a287 536px,#21908d 546px,#21918c 607px)"></i>
<i style="height:2px;background:linear-gradient(90deg,#1e9d89 0px,#21a685 241px,#1f978b 285px,#31678e 359px,#33628d 383px,#2b758e 397px,#1f9e89 411px,#2aaf80 416px,#49c06e 421px,#8dd645 428px,#cce11e 434px,#e6e41a 437px,#fce724 441px,#fae723 448px,#e5e41a 451px,#cce020 453px,#95d840 456px,#42bc72 460px,#26a883 462px,#228f8c 464px,#38578b 468px,#44357e 470px,#461264 472px,#45065a 473px,#440154 476px,#440456 491px,#450c5e 492px,#44206e 493px,#3e407f 494px,#346488 495px,#2f8786 496px,#42aa76 497px,#7ac854 498px,#bedc34 499px,#ebe426 500px,#fae724 501px,#fce725 514px,#f3e626 515px,#d0de32 516px,#8aca50 517px,#4ca872 518px,#347e84 519px,#3a5080 520px,#422870 521px,#440d5e 522px,#440356 523px,#440456 528px,#441262 529px,#412e74 530px,#385285 531px,#2e708c 532px,#26868c 533px,#209e88 535px,#20a486 537px,#21908c 545px,#21918c 607px)"></i>
<i style="height:2px;background:linear-gradient(90deg,#1e9d89 0px,#21a685 241px,#1f958b 289px,#31678e 359px,#33628d 384px,#2a788e 399px,#1f9e88 412px,#2cb07e 417px,#4cc26c 422px,#a6db34 431px,#d0e11c 435px,#eae41a 438px,#fce724 442px,#fae622 449px,#e2e41a 452px,#c6e022 454px,#78d052 458px,#3ab876 461px,#24a286 463px,#248a8c 465px,#355f8c 468px,#423e82 470px,#460a5d 473px,#440254 475px,#440254 491px,#440658 492px,#441463 493px,#422f76 494px,#385284 495px,#307788 496px,#379b7e 497px,#61bc62 498px,#a6d540 499px,#e0e22c 500px,#f8e626 501px,#fde725 503px,#fde725 514px,#f9e626 515px,#e2e22b 516px,#a8d340 517px,#61b564 518px,#3a8a80 519px,#385b82 520px,#402e72 521px,#441060 522px,#440456 523px,#440256 528px,#440a5c 529px,#42206c 530px,#3c447f 531px,#31668a 532px,#28808c 533px,#22928b 534px,#20a486 536px,#20a188 539px,#21908c 545px,#21918c 607px)"></i>
<i style="height:2px;background:linear-gradient(90deg,#1e9d89 0px,#21a685 241px,#1f968b 288px,#31678e 360px,#33628d 384px,#2b748e 398px,#1fa088 413px,#2db27e 418px,#58c665 424px,#c0df25 434px,#dce31a 437px,#f8e622 441px,#fde725 446px,#f8e622 450px,#eae41c 452px,#d0e21e 454px,#afdc30 456px,#5ac664 460px,#34b47a 462px,#28a982 463px,#22908c 465px,#38578a 469px,#44347e 471px,#461062 473px,#450658 474px,#440154 480px,#440256 492px,#450a5c 493px,#44206c 494px,#3e407e 495px,#346688 496px,#328c84 497px,#4cb070 498px,#8ccc4e 499px,#d0de31 500px,#f3e626 501px,#fce725 502px,#fce725 515px,#f0e427 516px,#c6da36 517px,#7cc258 518px,#449878 519px,#376782 520px,#3e3676 521px,#441362 522px,#440456 523px,#440254 528px,#440558 529px,#441564 530px,#355b87 532px,#2a798c 533px,#238e8b 534px,#209c88 535px,#22a684 537px,#21908d 546px,#21918c 607px)"></i>
<i style="height:2px;background:linear-gradient(90deg,#1e9d89 0px,#21a685 241px,#1f978b 286px,#31678e 361px,#33628d 385px,#2b768e 399px,#1f9e88 413px,#2ab07e 418px,#4ac26d 423px,#9ad83d 431px,#cee11e 436px,#e8e41a 439px,#fae722 442px,#fce724 450px,#f0e61e 452px,#dae21c 454px,#bbde28 456px,#68cb5c 460px,#3eba74 462px,#2eb07d 463px,#22988a 465px,#2e6e8e 468px,#423c82 471px,#461768 473px,#45095c 474px,#440154 476px,#440254 492px,#440558 493px,#441262 494px,#412e74 495px,#385484 496px,#307a87 497px,#3ea07a 498px,#72c25a 499px,#b8d938 500px,#e9e427 501px,#fae725 502px,#fde725 515px,#f7e626 516px,#dae02f 517px,#98cc4a 518px,#54a66d 519px,#397480 520px,#3c3e78 521px,#421662 522px,#440557 523px,#440154 528px,#440456 529px,#440d5e 530px,#422770 531px,#394c82 532px,#2d708a 533px,#248a8b 534px,#219a89 535px,#24a884 537px,#20a286 540px,#20918c 545px,#21918c 607px)"></i>
<i style="height:2px;background:linear-gradient(90deg,#1e9d89 0px,#21a685 241px,#1f968b 289px,#31678e 361px,#33628d 385px,#2b748e 399px,#1fa088 414px,#2cb17e 419px,#4ec26b 424px,#9eda3a 432px,#d2e21c 437px,#f2e61e 441px,#fde724 444px,#fae723 451px,#eee51d 453px,#d6e21c 455px,#b6de2c 457px,#5fc861 461px,#37b678 463px,#2aab80 464px,#229f87 465px,#26848d 467px,#38578a 470px,#44327c 472px,#460e60 474px,#450558 475px,#440154 483px,#440256 493px,#450a5c 494px,#441e6a 495px,#3d407d 496px,#336886 497px,#369080 498px,#5ab668 499px,#9ed245 500px,#dce12e 501px,#f8e626 502px,#fde725 504px,#fae725 516px,#eae428 517px,#b8d63c 518px,#6eb660 519px,#40827a 520px,#3c4978 521px,#421a64 522px,#440657 523px,#440154 527px,#440658 530px,#431865 531px,#3d3c7a 532px,#326488 533px,#27838b 534px,#229889 535px,#24a584 536px,#27ad81 538px,#1f988a 543px,#218f8d 548px,#21918c 607px)"></i>
<i style="height:2px;background:linear-gradient(90deg,#1e9d89 0px,#21a685 241px,#1f968b 289px,#30688e 359px,#33628d 386px,#2c738e 399px,#1f9a8a 413px,#26ac82 418px,#41be72 423px,#82d44c 430px,#cee11e 437px,#e8e41a 440px,#fae723 443px,#fae722 452px,#ece51c 454px,#d3e21e 456px,#b0dc2f 458px,#56c666 462px,#31b27c 464px,#26a684 465px,#248c8c 467px,#345f8c 470px,#423c81 472px,#461566 474px,#45085a 475px,#440154 477px,#440254 493px,#440457 494px,#441261 495px,#412e74 496px,#385584 497px,#327e86 498px,#48a774 499px,#85c852 500px,#ccdd33 501px,#f2e626 502px,#fce725 503px,#fce725 516px,#f4e627 517px,#d0dc34 518px,#89c253 519px,#4c9273 520px,#3b5678 521px,#402167 522px,#440858 523px,#440154 525px,#440456 530px,#440f5e 531px,#402c72 532px,#365583 533px,#2a7a8a 534px,#249589 535px,#26a584 536px,#2cb17e 538px,#209f88 542px,#21908c 546px,#21918c 607px)"></i>
<i style="height:2px;background:linear-gradient(90deg,#1e9d89 0px,#21a685 241px,#1f978b 287px,#31678e 362px,#33628d 387px,#2b768e 401px,#1f9e88 415px,#2cb07e 420px,#4cc26c 425px,#92d742 432px,#d3e21c 438px,#ede51c 441px,#fce724 444px,#fae722 453px,#eae41c 455px,#cfe11f 457px,#93d741 460px,#3ab876 464px,#2cac7f 465px,#24a086 466px,#26858d 468px,#38568a 471px,#44307c 473px,#460c5e 475px,#440456 476px,#440255 494px,#440a5b 495px,#441e6a 496px,#3d427c 497px,#346c86 498px,#3c967d 499px,#6abc5e 500px,#b3d73b 501px,#e7e428 502px,#fae625 503px,#fde725 510px,#fde725 516px,#f9e626 517px,#e3e12c 518px,#a8ce42 519px,#60a367 520px,#3f6678 521px,#402c6c 522px,#440c5c 523px,#440355 524px,#440254 530px,#440859 531px,#421c67 532px,#3a447c 533px,#2e6f88 534px,#269089 535px,#28a583 536px,#2eb07e 537px,#31b47b 539px,#209d88 543px,#21908d 547px,#21918c 607px)"></i>
<i style="height:2px;background:linear-gradient(90deg,#1e9d89 0px,#21a685 242px,#1f968b 290px,#31678e 362px,#33628d 387px,#2c728e 400px,#1f988a 414px,#24aa82 419px,#40bc72 424px,#78d053 430px,#cee11e 438px,#eae41b 441px,#fce724 444px,#fce724 453px,#f2e61f 455px,#dae21c 457px,#b8de2b 459px,#5cc863 463px,#34b47a 465px,#27a882 466px,#229a88 467px,#2e6f8e 470px,#3c4d88 472px,#462674 474px,#45075a 476px,#440154 479px,#440254 494px,#440456 495px,#441261 496px,#402e74 497px,#385883 498px,#368482 499px,#54ae6c 500px,#98ce49 501px,#dae030 502px,#f7e626 503px,#fde725 505px,#fce725 517px,#f1e428 518px,#c4d73a 519px,#79b35d 520px,#487675 521px,#403870 522px,#44125f 523px,#440456 524px,#440254 530px,#440456 531px,#441361 532px,#3e3575 533px,#326285 534px,#288988 535px,#2aa483 536px,#32b27c 537px,#39b976 538px,#33b67a 540px,#20a088 543px,#21908c 547px,#21918c 607px)"></i>
<i style="height:2px;background:linear-gradient(90deg,#1e9d89 0px,#21a685 242px,#1f968b 290px,#31688e 361px,#33628d 387px,#2c738e 401px,#1f9e88 416px,#2ab07e 421px,#4cc26c 426px,#9eda3a 434px,#d4e21c 439px,#efe51c 442px,#fde724 445px,#fce724 454px,#f1e61e 456px,#d6e21d 458px,#b0dc2e 460px,#54c468 464px,#2eae7e 466px,#24a285 467px,#25868d 469px,#38568a 472px,#442e7a 474px,#450b5d 476px,#440254 478px,#440255 495px,#440a5a 496px,#431e6a 497px,#3c447c 498px,#347184 499px,#449e78 500px,#7ec457 501px,#c8dc36 502px,#f1e427 503px,#fce725 504px,#fde725 517px,#f7e626 518px,#d7de32 519px,#93c14e 520px,#548a6e 521px,#414872 522px,#421862 523px,#440557 524px,#440154 530px,#440255 531px,#440a5c 532px,#40256c 533px,#36527f 534px,#2b8088 535px,#2aa083 536px,#35b37a 537px,#40bc73 538px,#42be72 539px,#22a486 543px,#20908c 547px,#21918c 607px)"></i>
<i style="height:2px;background:linear-gradient(90deg,#1e9d89 0px,#21a685 242px,#1f968b 290px,#31678e 363px,#33628d 389px,#2a788e 404px,#1fa088 417px,#2cb27e 422px,#50c46a 427px,#a4da37 435px,#d0e11d 439px,#ece51c 442px,#fce724 445px,#fce724 455px,#efe51e 457px,#d2e21e 459px,#aadc32 461px,#4ac06c 465px,#28aa81 467px,#229c88 468px,#287f8d 470px,#3c4c88 473px,#462472 475px,#461162 476px,#450658 477px,#440154 481px,#440254 495px,#440456 496px,#441261 497px,#403074 498px,#375c82 499px,#3a8b7e 500px,#64b663 501px,#acd43e 502px,#e4e22a 503px,#fae625 504px,#fde725 511px,#fae625 518px,#e9e22a 519px,#b1cd41 520px,#679c65 521px,#435772 522px,#411f63 523px,#440657 524px,#440154 527px,#440658 532px,#421a64 533px,#39447a 534px,#2e7586 535px,#2c9a83 536px,#38b279 537px,#46be70 538px,#4bc26c 539px,#3bb976 541px,#24a884 543px,#20948c 546px,#218f8d 551px,#21918c 607px)"></i>
<i style="height:2px;background:linear-gradient(90deg,#1e9d89 0px,#21a685 242px,#1f968b 290px,#31678e 364px,#33628d 389px,#2b748e 403px,#1f9e89 417px,#26ac82 421px,#42be72 426px,#7cd250 432px,#cce01f 439px,#e8e41a 442px,#fce724 445px,#fce724 456px,#ece51e 458px,#cde020 460px,#a2da38 462px,#42bc72 466px,#30b07c 467px,#25a484 468px,#24878c 470px,#39568a 473px,#442e78 475px,#450a5c 477px,#440154 479px,#440255 496px,#440a5a 497px,#42206a 498px,#3b487c 499px,#367782 500px,#4ea671 501px,#90ca4e 502px,#d5df32 503px,#f6e626 504px,#fde725 505px,#fce725 518px,#f2e428 519px,#c7d63b 520px,#7cad5c 521px,#4a686e 522px,#412864 523px,#430858 524px,#440154 526px,#440456 532px,#431261 533px,#3d3874 534px,#326884 535px,#2c9484 536px,#38b079 537px,#49bf6e 538px,#52c468 539px,#4fc36a 540px,#28ab81 543px,#1f9c89 545px,#21908c 548px,#21918c 607px)"></i>
<i style="height:2px;background:linear-gradient(90deg,#1e9d89 0px,#21a685 242px,#1f968b 291px,#31678e 364px,#33628d 390px,#2b768e 404px,#1f9e88 418px,#2cb07e 423px,#4ec46a 428px,#98d83e 435px,#d1e21c 440px,#eee51c 443px,#fde724 446px,#fae724 457px,#eae41c 459px,#c8e022 461px,#68cb5c 465px,#3ab876 467px,#2aab80 468px,#249e87 469px,#27808d 471px,#3c4c88 474px,#462270 476px,#460f62 477px,#450558 478px,#440154 486px,#440456 497px,#441262 498px,#3f3475 499px,#386282 500px,#42937a 501px,#76be5c 502px,#c1d938 503px,#efe428 504px,#fce725 505px,#fde725 518px,#f7e626 519px,#d8dc32 520px,#95bc4d 521px,#577c68 522px,#433769 523px,#430f5c 524px,#440456 525px,#440256 532px,#440c5c 533px,#3f2a6c 534px,#345a7f 535px,#2e8b84 536px,#36ac7a 537px,#4abe6e 538px,#56c666 539px,#56c666 540px,#2cae7e 543px,#209e88 545px,#21908c 548px,#21918c 607px)"></i>
<i style="height:2px;background:linear-gradient(90deg,#1e9d89 0px,#21a685 242px,#1f968b 291px,#31688e 363px,#33628d 390px,#2c748e 404px,#1f9c89 418px,#2aae80 423px,#4ac26e 428px,#86d449 434px,#cce01f 440px,#eae41b 443px,#fce724 446px,#fce724 457px,#f2e61f 459px,#d4e21e 461px,#aadc33 463px,#5ec862 466px,#32b27a 468px,#26a583 469px,#24888c 471px,#39558a 474px,#442c77 476px,#45085b 478px,#440154 480px,#440256 497px,#440a5c 498px,#42226c 499px,#3a4c7e 500px,#3a7e80 501px,#5cae68 502px,#a3d044 503px,#e0e12c 504px,#f8e626 505px,#fde725 508px,#fae625 519px,#e9e12a 520px,#b2ca42 521px,#679264 522px,#464a6f 523px,#431861 524px,#440456 525px,#440254 532px,#440658 533px,#401e66 534px,#374e7a 535px,#2e8284 536px,#34a67c 537px,#48bc70 538px,#57c666 539px,#5ac864 540px,#3fbb74 542px,#24a884 544px,#20948c 547px,#218f8d 552px,#21918c 607px)"></i>
<i style="height:2px;background:linear-gradient(90deg,#1e9d89 0px,#21a685 243px,#1f978b 289px,#31678e 366px,#34618d 390px,#2c728e 404px,#1f9a8a 418px,#26ac82 423px,#45c070 428px,#80d24d 434px,#d1e21c 441px,#eee51c 444px,#fde724 447px,#fce724 458px,#eee51e 460px,#cee020 462px,#a0da38 464px,#54c468 467px,#2cac7f 469px,#249f86 470px,#27808d 472px,#3d4a87 475px,#46206e 477px,#460e60 478px,#440456 479px,#440254 497px,#440558 498px,#441462 499px,#3e3876 500px,#386a81 501px,#4a9c75 502px,#86c454 503px,#d0dc34 504px,#f4e627 505px,#fce725 506px,#fce725 519px,#f2e42a 520px,#c4d33c 521px,#78a45f 522px,#4a5e6e 523px,#422163 524px,#440657 525px,#440154 528px,#440657 533px,#421864 534px,#3a4378 535px,#307684 536px,#32a080 537px,#44b972 538px,#56c566 539px,#5cc863 540px,#54c468 541px,#26aa82 544px,#1f9a8a 546px,#218e8d 550px,#21918c 607px)"></i>
<i style="height:2px;background:linear-gradient(90deg,#1e9d89 0px,#21a685 243px,#1f948c 294px,#31688e 364px,#34618d 391px,#2c748e 405px,#1f9c8a 419px,#28ae80 424px,#48c06e 429px,#86d44a 435px,#cce01f 441px,#eae41c 444px,#fae622 446px,#fde724 458px,#f6e621 460px,#dbe21e 462px,#b0dc2f 464px,#4ac06d 468px,#35b47a 469px,#28a683 470px,#24898c 472px,#39548a 475px,#452a76 477px,#461566 478px,#45075a 479px,#440154 482px,#440356 498px,#440c5c 499px,#42276e 500px,#3a547e 501px,#3f887c 502px,#6db660 503px,#b8d63b 504px,#eae428 505px,#fae725 506px,#fde725 519px,#f6e628 520px,#d2da34 521px,#8eb551 522px,#547067 523px,#422a62 524px,#430958 525px,#440154 527px,#440456 533px,#431260 534px,#3e3774 535px,#326a82 536px,#309881 537px,#40b574 538px,#54c468 539px,#5ec962 540px,#58c666 541px,#29ac80 544px,#209a8a 546px,#218f8d 550px,#21918c 607px)"></i>
<i style="height:2px;background:linear-gradient(90deg,#1e9d89 0px,#21a685 243px,#1f968b 292px,#31678e 367px,#34618d 392px,#2b748e 406px,#1f9e89 420px,#26ac82 424px,#3cba74 428px,#7ed24e 435px,#d0e21c 442px,#efe51c 445px,#fde724 448px,#fae724 460px,#e6e41d 462px,#d4e21e 463px,#a8db34 465px,#58c665 468px,#2eae7e 470px,#24a086 471px,#27818d 473px,#3d4a86 476px,#461e6d 478px,#450c5e 479px,#440254 481px,#440254 498px,#440658 499px,#421864 500px,#3d3f78 501px,#3a7280 502px,#55a66e 503px,#99cc4a 504px,#dae030 505px,#f7e626 506px,#fde725 508px,#fae626 520px,#e5e02c 521px,#abc343 522px,#648462 523px,#463b68 524px,#44105c 525px,#440456 526px,#440255 533px,#440c5c 534px,#3e2a6c 535px,#345e7e 536px,#2f8e82 537px,#3cb077 538px,#51c26a 539px,#5ec962 540px,#5bc864 541px,#2cae7e 544px,#22a485 545px,#20928c 548px,#218f8d 554px,#21918c 607px)"></i>
<i style="height:2px;background:linear-gradient(90deg,#1e9d89 0px,#21a685 243px,#1f968b 292px,#31678e 367px,#34618d 392px,#2c738e 406px,#1f9e88 421px,#2cb17e 426px,#50c46a 431px,#9cd93c 438px,#cce01f 442px,#eae41c 445px,#fce724 448px,#fce724 460px,#f0e61e 462px,#cee021 464px,#9ed93a 466px,#4ec26b 469px,#38b678 470px,#28a882 471px,#239988 472px,#2a798d 474px,#39548a 476px,#452874 478px,#461364 479px,#450759 480px,#440154 483px,#440456 499px,#440f5e 500px,#402d70 501px,#3a5e7f 502px,#469278 503px,#7ebf59 504px,#c9da38 505px,#f2e528 506px,#fce725 507px,#fce725 520px,#f0e32a 521px,#bece3f 522px,#729961 523px,#49506e 524px,#431a61 525px,#440656 526px,#440154 530px,#440254 533px,#430758 534px,#401f66 535px,#36507a 536px,#308483 537px,#38aa7a 538px,#4ec06c 539px,#5ec862 540px,#5ec962 541px,#52c468 542px,#2eb07c 544px,#24a684 545px,#20938c 548px,#218f8d 554px,#21918c 607px)"></i>
<i style="height:2px;background:linear-gradient(90deg,#1e9d89 0px,#21a685 243px,#1f958b 294px,#31678e 368px,#34618d 393px,#2c748e 407px,#1fa088 422px,#2eb27c 427px,#54c668 432px,#a2da38 439px,#d0e21c 443px,#efe51e 446px,#fce724 448px,#fce724 461px,#f7e622 462px,#dbe21e 464px,#aedc31 466px,#5cc762 469px,#30b07c 471px,#25a185 472px,#26828d 474px,#355e8c 476px,#44327b 478px,#450a5d 480px,#440154 482px,#440254 499px,#440859 500px,#421c67 501px,#3c477a 502px,#3e7c7e 503px,#64af65 504px,#aed23f 505px,#e6e22a 506px,#fae625 507px,#fce725 520px,#f4e428 521px,#ccd738 522px,#84ac58 523px,#50646a 524px,#432462 525px,#440857 526px,#440154 528px,#440657 534px,#421a64 535px,#3a4678 536px,#307a83 537px,#36a47c 538px,#4abc6e 539px,#5cc862 540px,#60ca60 541px,#44be70 543px,#26a882 545px,#1f988a 547px,#218e8d 551px,#21918c 607px)"></i>
<i style="height:2px;background:linear-gradient(90deg,#1e9d89 0px,#21a685 243px,#1f978b 291px,#31678e 368px,#34618d 394px,#2b748e 408px,#1f9e88 422px,#2cb07e 427px,#4ec46a 432px,#9ad83c 439px,#d6e21c 444px,#f4e620 447px,#fde725 450px,#fae724 462px,#f4e620 463px,#d4e21f 465px,#a4da36 467px,#51c269 470px,#3ab776 471px,#2aa981 472px,#249a88 473px,#2a798d 475px,#3a5289 477px,#452672 479px,#461162 480px,#450658 481px,#440154 485px,#440254 499px,#440456 500px,#441260 501px,#3f3473 502px,#3a667f 503px,#4f9c71 504px,#90c74f 505px,#d6de32 506px,#f6e626 507px,#fde725 508px,#fde725 520px,#f8e626 521px,#dede2e 522px,#a0bc47 523px,#5e7661 524px,#442d62 525px,#430a58 526px,#440254 527px,#440154 533px,#440456 534px,#431461 535px,#3c3a74 536px,#326f82 537px,#329c7e 538px,#46b970 539px,#5ac664 540px,#62ca60 541px,#59c764 542px,#28aa82 545px,#1f9a8a 547px,#218e8d 551px,#21918c 607px)"></i>
<i style="height:2px;background:linear-gradient(90deg,#1e9d89 0px,#21a685 244px,#1f968b 293px,#31678e 369px,#34618d 394px,#2c718e 407px,#20948c 420px,#24aa82 426px,#41be72 431px,#7cd24f 437px,#d0e21d 444px,#e6e41a 446px,#fce724 449px,#fce724 462px,#f0e620 464px,#e1e41d 465px,#cce022 466px,#99d83e 468px,#46be6f 471px,#32b17c 472px,#26a384 473px,#23938a 474px,#355c8c 477px,#44307a 479px,#450a5c 481px,#440154 483px,#440255 500px,#440a5a 501px,#42226a 502px,#3b507c 503px,#44887a 504px,#77b95d 505px,#c3d83a 506px,#f0e428 507px,#fce725 508px,#fce725 521px,#ede22a 522px,#b8c840 523px,#6c8a60 524px,#473e67 525px,#44105c 526px,#440456 527px,#440356 534px,#440e5c 535px,#3e2e6e 536px,#34627f 537px,#309480 538px,#41b474 539px,#58c466 540px,#62ca5f 541px,#5cc862 542px,#2aac80 545px,#209a8a 547px,#218f8d 550px,#21918c 607px)"></i>
<i style="height:2px;background:linear-gradient(90deg,#1e9d89 0px,#21a685 244px,#1f958b 295px,#31678e 369px,#34618d 395px,#2c728e 408px,#1f9a8a 422px,#26ac82 427px,#45c070 432px,#82d44c 438px,#cae020 444px,#eae41c 447px,#fae722 449px,#fde725 462px,#f8e622 464px,#ece51e 465px,#dae21e 466px,#c4e026 467px,#71ce56 470px,#3cb875 472px,#2caa80 473px,#249b88 474px,#2a7a8d 476px,#3a5288 478px,#452471 480px,#461062 481px,#450558 482px,#440154 490px,#440254 500px,#440556 501px,#421662 502px,#3e3c76 503px,#3c727e 504px,#5ea868 505px,#a6cf43 506px,#e2e12c 507px,#f9e626 508px,#fde725 512px,#fce725 521px,#f2e42a 522px,#c4d23c 523px,#7a9e5d 524px,#4c546c 525px,#441c60 526px,#440656 527px,#440154 533px,#430858 535px,#3f2266 536px,#35567b 537px,#308a82 538px,#3dae76 539px,#54c268 540px,#62ca60 541px,#60c960 542px,#3dba74 544px,#2cae7e 545px,#23a485 546px,#20928c 549px,#21908d 555px,#21918c 607px)"></i>
<i style="height:2px;background:linear-gradient(90deg,#1e9d89 0px,#21a685 244px,#1f958c 296px,#31678e 370px,#34618d 395px,#2c728e 409px,#1f9e88 424px,#2cb27e 429px,#52c469 434px,#93d841 440px,#d0e11e 445px,#f0e51e 448px,#fce724 450px,#fce724 464px,#f4e620 465px,#d2e220 467px,#9fd93a 469px,#4abf6d 472px,#34b27a 473px,#27a484 474px,#23948a 475px,#365c8b 478px,#3e4685 479px,#461868 481px,#45095b 482px,#440154 484px,#440356 501px,#440d5c 502px,#402a6e 503px,#3b5c7c 504px,#4c9474 505px,#89c254 506px,#d1dc34 507px,#f5e628 508px,#fde725 509px,#fde725 521px,#f6e628 522px,#d4da34 523px,#92b150 524px,#586866 525px,#442561 526px,#440857 527px,#440154 529px,#440254 534px,#440657 535px,#401c64 536px,#384c7a 537px,#308082 538px,#39a87a 539px,#50c06a 540px,#61ca60 541px,#62ca60 542px,#55c566 543px,#2fb07c 545px,#209d88 547px,#21908c 550px,#21918c 607px)"></i>
<i style="height:2px;background:linear-gradient(90deg,#1e9d89 0px,#21a685 244px,#1f978b 292px,#31678e 371px,#34618d 396px,#2c728e 409px,#1f988a 423px,#26ac82 428px,#44be70 433px,#80d34d 439px,#cae020 445px,#e1e41a 447px,#fae723 450px,#fae622 465px,#f0e620 466px,#e0e41e 467px,#cae024 468px,#94d641 470px,#3fba74 473px,#2cac7f 474px,#249c87 475px,#2a7a8d 477px,#3a5188 479px,#452270 481px,#450e60 482px,#440457 483px,#440254 501px,#440658 502px,#421a64 503px,#3c4678 504px,#427e7b 505px,#70b360 506px,#bcd63c 507px,#eee428 508px,#fce725 509px,#fae626 522px,#e7df2b 523px,#afbf42 524px,#667a5e 525px,#462f60 526px,#430a58 527px,#440254 528px,#440254 534px,#440557 535px,#421662 536px,#3b4077 537px,#327682 538px,#36a27c 539px,#4bbc6d 540px,#60c861 541px,#64cb5e 542px,#59c664 543px,#32b27a 545px,#26a883 546px,#1f988a 548px,#218e8d 552px,#21918c 607px)"></i>
<i style="height:2px;background:linear-gradient(90deg,#1e9d89 0px,#21a685 244px,#1f968b 295px,#31678e 371px,#34618d 396px,#2d708e 409px,#1f968b 423px,#24aa83 428px,#3fbc73 433px,#6ece58 438px,#d0e11e 446px,#f1e61e 449px,#fce724 451px,#fce724 465px,#f8e622 466px,#ece41e 467px,#d8e220 468px,#c0de27 469px,#68cb5a 472px,#36b37a 474px,#28a483 475px,#23948a 476px,#365c8a 479px,#3e4484 480px,#461666 482px,#45085a 483px,#440154 485px,#440456 502px,#441160 503px,#403472 504px,#3c687c 505px,#59a16b 506px,#9ecb46 507px,#dee02e 508px,#f8e626 509px,#fde725 511px,#fce725 522px,#f0e22a 523px,#beca40 524px,#708d5e 525px,#494066 526px,#44125c 527px,#440456 528px,#440456 535px,#43105f 536px,#3e3572 537px,#326a80 538px,#349a7e 539px,#47b870 540px,#5dc862 541px,#65cb5e 542px,#5cc862 543px,#28aa82 546px,#1f988a 548px,#218e8d 552px,#21918c 607px)"></i>
<i style="height:2px;background:linear-gradient(90deg,#1e9d89 0px,#21a685 245px,#1f978b 293px,#31678e 372px,#34618d 397px,#2d708e 410px,#1f9c8a 425px,#29ae80 430px,#4bc26c 435px,#8cd646 441px,#cae020 446px,#e1e41a 448px,#fae723 451px,#fbe724 466px,#f4e620 467px,#e6e41e 468px,#d0e221 469px,#98d83e 471px,#41ba72 474px,#2ead7e 475px,#249d87 476px,#2a798d 478px,#3b5088 480px,#451f6e 482px,#450c5e 483px,#440456 484px,#440255 502px,#44095a 503px,#412168 504px,#3c527a 505px,#4a8c76 506px,#84be58 507px,#cddc37 508px,#f4e528 509px,#fce725 510px,#fce725 522px,#f3e428 523px,#c9d43a 524px,#80a259 525px,#505669 526px,#451c60 527px,#440656 528px,#440154 534px,#440255 535px,#430a5a 536px,#3e286a 537px,#345e7c 538px,#329280 539px,#42b473 540px,#5ac664 541px,#65cb5e 542px,#60c960 543px,#2aac80 546px,#22a286 547px,#20918c 550px,#21918c 594px,#21918c 607px)"></i>
<i style="height:2px;background:linear-gradient(90deg,#1e9d89 0px,#21a685 245px,#1f958b 297px,#31678e 372px,#34608d 397px,#2c728e 411px,#1f9a8a 425px,#26ac82 430px,#3ebc74 434px,#78d152 440px,#d0e11e 447px,#e6e41b 449px,#f8e622 451px,#fde725 457px,#fae622 467px,#f0e620 468px,#dee31e 469px,#c7e024 470px,#8cd545 472px,#50c26a 474px,#38b478 475px,#28a583 476px,#24948a 477px,#2e708d 479px,#3f4283 481px,#461464 483px,#450659 484px,#440154 488px,#440254 502px,#440456 503px,#421562 504px,#3e3e74 505px,#42767a 506px,#6cae63 507px,#b8d43e 508px,#ece32a 509px,#fbe725 510px,#fde725 522px,#f8e626 523px,#dbdc30 524px,#9cb44a 525px,#5e6a62 526px,#462660 527px,#440857 528px,#440154 530px,#440254 535px,#430658 536px,#402066 537px,#36527a 538px,#318882 539px,#3eae76 540px,#56c466 541px,#65cb5e 542px,#62ca60 543px,#2cae7e 546px,#22a486 547px,#20918c 550px,#21918c 607px)"></i>
<i style="height:2px;background:linear-gradient(90deg,#1e9d89 0px,#21a685 245px,#1f968b 296px,#31678e 373px,#34608d 398px,#2d708e 411px,#1f988b 425px,#24aa82 430px,#41be72 435px,#7ed24e 441px,#d6e21c 448px,#f5e620 451px,#fde725 454px,#fce724 467px,#f8e622 468px,#eae41f 469px,#d6e220 470px,#9ed93a 472px,#44bc71 475px,#2fae7e 476px,#259e86 477px,#2a788d 479px,#3b4e87 481px,#451c6c 483px,#450b5d 484px,#440154 486px,#440356 503px,#440d5c 504px,#402b6c 505px,#3c607a 506px,#569b6d 507px,#9ac84a 508px,#dbe02f 509px,#f8e626 510px,#fde725 512px,#fce625 523px,#ece02a 524px,#b6c140 525px,#6b7b5c 526px,#463060 527px,#430a58 528px,#440254 529px,#440254 535px,#440657 536px,#401a64 537px,#394878 538px,#328082 539px,#3aa87a 540px,#52c069 541px,#64ca5e 542px,#64cb5e 543px,#56c666 544px,#2eb07e 546px,#24a484 547px,#20928c 550px,#21918c 607px)"></i>
<i style="height:2px;background:linear-gradient(90deg,#1e9d89 0px,#21a685 245px,#1f968b 296px,#31678e 373px,#34608d 398px,#2d718e 412px,#1f9c89 427px,#26ac82 431px,#44bf70 436px,#84d44b 442px,#cfe11e 448px,#e6e41b 450px,#f8e622 452px,#fde725 458px,#fbe724 468px,#f4e620 469px,#e4e41f 470px,#cde023 471px,#92d642 473px,#53c268 475px,#3ab677 476px,#2aa682 477px,#249589 478px,#2e6e8d 480px,#404082 482px,#451162 484px,#450558 485px,#440154 493px,#440254 503px,#440658 504px,#421b64 505px,#3e4a77 506px,#488676 507px,#80ba5a 508px,#cada38 509px,#f4e528 510px,#fce725 511px,#fce725 523px,#f0e22a 524px,#c0cc3e 525px,#728e5c 526px,#4a4064 527px,#44105a 528px,#440456 529px,#440254 535px,#440456 536px,#421662 537px,#3c3e76 538px,#327482 539px,#37a27c 540px,#4dbd6c 541px,#62ca60 542px,#66cc5d 543px,#5ac664 544px,#32b27c 546px,#26a684 547px,#20968b 549px,#218f8d 553px,#21918c 607px)"></i>
<i style="height:2px;background:linear-gradient(90deg,#1e9d89 0px,#21a685 245px,#1f968b 297px,#31678e 374px,#34608d 399px,#2c728e 413px,#1f9e88 428px,#2cb27e 433px,#52c468 438px,#a2da38 445px,#d6e21c 449px,#f5e620 452px,#fde725 455px,#fce724 468px,#f9e622 469px,#eee520 470px,#dce220 471px,#c2df27 472px,#64ca5e 475px,#46bd6f 476px,#30ae7c 477px,#269e86 478px,#248c8c 479px,#33648c 481px,#42337a 483px,#451a6a 484px,#45095c 485px,#440154 487px,#440456 504px,#441260 505px,#403672 506px,#406f7a 507px,#68aa64 508px,#b4d23e 509px,#eae22a 510px,#fae625 511px,#fce725 523px,#f4e428 524px,#ccd538 525px,#84a356 526px,#545666 527px,#461c60 528px,#440656 529px,#440154 533px,#440456 536px,#43105e 537px,#3e3370 538px,#336980 539px,#349a7e 540px,#49b96f 541px,#60c860 542px,#67cc5c 543px,#5ec862 544px,#35b47a 546px,#26a882 547px,#20988a 549px,#218f8d 552px,#21918c 607px)"></i>
<i style="height:2px;background:linear-gradient(90deg,#1e9d89 0px,#21a685 245px,#1f978b 295px,#31678e 375px,#34608d 400px,#2c728e 414px,#1f9c89 428px,#2aae80 433px,#4cc26c 438px,#8ed644 444px,#cee11e 449px,#e6e41b 451px,#f8e622 453px,#fde725 459px,#fce724 469px,#f6e622 470px,#e9e41f 471px,#d3e221 472px,#b7dd2c 473px,#56c466 476px,#3bb676 477px,#2aa682 478px,#249589 479px,#2e6e8d 481px,#403e80 483px,#450e60 485px,#440456 486px,#440154 499px,#440255 504px,#440a5a 505px,#402468 506px,#3d5878 507px,#54966e 508px,#96c64c 509px,#d9de30 510px,#f7e626 511px,#fde725 513px,#fde725 523px,#f8e626 524px,#dfdc2e 525px,#a3b547 526px,#626a60 527px,#462660 528px,#440857 529px,#440154 531px,#440255 536px,#430a5a 537px,#3e2668 538px,#345d7c 539px,#32927f 540px,#45b572 541px,#5dc662 542px,#68cc5c 543px,#61ca60 544px,#28aa81 547px,#21a087 548px,#21908c 551px,#21918c 607px)"></i>
<i style="height:2px;background:linear-gradient(90deg,#1e9d89 0px,#21a685 246px,#1f968b 297px,#31678e 375px,#34608d 401px,#2c728e 414px,#1f9a8a 428px,#26ac81 433px,#3fbc74 437px,#7cd250 443px,#d4e21c 450px,#f5e620 453px,#fde725 456px,#fbe724 470px,#f3e620 471px,#e2e41f 472px,#c8e024 473px,#89d447 475px,#49be6e 477px,#32af7c 478px,#269e86 479px,#258c8c 480px,#33628c 482px,#3c4a85 483px,#451767 485px,#45085a 486px,#440154 488px,#440254 504px,#440657 505px,#421862 506px,#3e4475 507px,#488076 508px,#7eb75c 509px,#c9d939 510px,#f3e428 511px,#fce725 512px,#fce625 524px,#eee02a 525px,#bac240 526px,#6d7b5c 527px,#472f5f 528px,#430a57 529px,#440254 530px,#440254 536px,#430658 537px,#3f2065 538px,#36537a 539px,#328a80 540px,#41b074 541px,#5ac464 542px,#68cc5c 543px,#64ca5e 544px,#2bac80 547px,#22a286 548px,#21918c 551px,#21918c 607px)"></i>
<i style="height:2px;background:linear-gradient(90deg,#1e9d89 0px,#21a685 246px,#1f968b 298px,#31678e 376px,#34608d 401px,#2c728e 415px,#1f988a 428px,#24aa82 433px,#42be72 438px,#80d34d 444px,#cee11e 450px,#e6e41b 452px,#f8e622 454px,#fde725 460px,#fce724 470px,#f9e622 471px,#eee520 472px,#d9e220 473px,#bdde2a 474px,#5ac564 477px,#3eb874 478px,#2ba881 479px,#249689 480px,#2f6c8c 482px,#403b7e 484px,#44206e 485px,#450c5e 486px,#440456 487px,#440456 505px,#440e5e 506px,#40306e 507px,#426978 508px,#68a665 509px,#b3d03f 510px,#eae22a 511px,#fae625 512px,#fce725 524px,#f1e22a 525px,#c0cb3e 526px,#728c5a 527px,#4a3d62 528px,#440f5a 529px,#440255 530px,#440254 536px,#440657 537px,#401b64 538px,#384a79 539px,#328182 540px,#3daa78 541px,#56c266 542px,#68cc5c 543px,#67cc5c 544px,#41bb72 546px,#2eae7e 547px,#23a486 548px,#20918c 551px,#21918c 595px,#21918c 607px)"></i>
<i style="height:2px;background:linear-gradient(90deg,#1e9d89 0px,#21a685 246px,#1f968b 298px,#31678e 376px,#34608d 402px,#2c728e 416px,#1f9c89 430px,#26ac82 434px,#3ebc74 438px,#6ece58 443px,#c8e021 450px,#e0e41b 452px,#f5e620 454px,#fde725 457px,#fce724 471px,#f6e622 472px,#e8e420 473px,#d0e123 474px,#b1dc30 475px,#4cbf6c 478px,#34b07b 479px,#279e85 480px,#268c8b 481px,#34608b 483px,#3d4784 484px,#451464 486px,#450659 487px,#440154 491px,#440254 505px,#440758 506px,#411f66 507px,#3e5276 508px,#54916e 509px,#95c44c 510px,#d8de30 511px,#f7e626 512px,#fde725 514px,#fce725 524px,#f4e428 525px,#ccd438 526px,#86a255 527px,#545364 528px,#461a5e 529px,#440556 530px,#440254 536px,#440457 537px,#421662 538px,#3c4076 539px,#337882 540px,#3aa47a 541px,#52c06a 542px,#66cb5c 543px,#6acc5b 544px,#5bc863 545px,#30b07c 547px,#24a684 548px,#20928c 551px,#21908d 557px,#21918c 607px)"></i>
<i style="height:2px;background:linear-gradient(90deg,#1e9d89 0px,#21a685 246px,#1f978b 296px,#31678e 377px,#34608d 403px,#2c748e 417px,#1f9e88 431px,#2cb27e 436px,#4ac26d 440px,#8cd646 446px,#cee11e 451px,#e6e41b 453px,#f8e622 455px,#fde725 461px,#fae724 472px,#f2e620 473px,#e0e420 474px,#c4e027 475px,#80d24c 477px,#40b973 479px,#2ca880 480px,#259688 481px,#306b8c 483px,#395288 484px,#451d6c 486px,#450a5c 487px,#440154 489px,#440254 505px,#440456 506px,#421461 507px,#403e72 508px,#497c76 509px,#7db55c 510px,#c8d83a 511px,#f3e428 512px,#fce725 513px,#fde725 524px,#f8e626 525px,#e0dc2e 526px,#a5b446 527px,#646860 528px,#482460 529px,#440857 530px,#440154 532px,#440456 537px,#43105f 538px,#3e3572 539px,#346c80 540px,#369e7c 541px,#4ebc6c 542px,#66ca5e 543px,#6ccd5a 544px,#60c960 545px,#34b47a 547px,#26a683 548px,#20968b 550px,#218e8d 553px,#21918c 607px)"></i>
<i style="height:2px;background:linear-gradient(90deg,#1e9d89 0px,#21a685 246px,#1f968b 299px,#31678e 377px,#34608d 403px,#2d708e 416px,#20948b 429px,#22a884 434px,#35b878 438px,#62ca5f 443px,#d4e21c 452px,#f5e620 455px,#fde725 458px,#fce724 472px,#f9e622 473px,#ede520 474px,#d6e222 475px,#b8dd2c 476px,#72ce56 478px,#50c06a 479px,#36b17a 480px,#279f85 481px,#268c8a 482px,#355e8a 484px,#3e4382 485px,#451060 487px,#440457 488px,#440154 501px,#440255 506px,#440c5c 507px,#402a6a 508px,#426476 509px,#68a364 510px,#b4d040 511px,#eae22a 512px,#fbe625 513px,#fce625 525px,#eee02a 526px,#bac040 527px,#6e785c 528px,#482d5f 529px,#430a57 530px,#440254 531px,#440255 537px,#430a5a 538px,#3e2a6a 539px,#34617c 540px,#34967e 541px,#4ab86e 542px,#64c95e 543px,#6ece58 544px,#65ca5e 545px,#38b678 547px,#28aa82 548px,#20978a 550px,#218f8d 554px,#21918c 607px)"></i>
<i style="height:2px;background:linear-gradient(90deg,#1e9d89 0px,#21a685 247px,#1f968b 299px,#31678e 378px,#34608d 404px,#2d718e 417px,#1f9a8a 431px,#28ad80 436px,#49c06e 441px,#8bd646 447px,#cee11e 452px,#e6e41b 454px,#fae622 456px,#fde725 470px,#fce724 473px,#f6e622 474px,#e6e420 475px,#cde024 476px,#acdb33 477px,#62c85f 479px,#42ba72 480px,#2da880 481px,#269688 482px,#31688c 484px,#3a4e86 485px,#451868 487px,#45085a 488px,#440154 490px,#440254 506px,#440658 507px,#421c64 508px,#404e74 509px,#568e6d 510px,#98c44c 511px,#dade30 512px,#f7e626 513px,#fde725 515px,#fce725 525px,#f1e22a 526px,#bfc93f 527px,#71885a 528px,#483860 529px,#440c58 530px,#440254 531px,#440254 537px,#430858 538px,#3e2266 539px,#36567a 540px,#348e7e 541px,#46b471 542px,#62c860 543px,#70ce57 544px,#6acc5a 545px,#2aac80 548px,#22a087 549px,#21908c 552px,#21918c 607px)"></i>
<i style="height:2px;background:linear-gradient(90deg,#1e9d89 0px,#21a685 247px,#1f978b 297px,#31678e 379px,#34608d 404px,#2d708e 417px,#1f988a 431px,#26aa82 436px,#3cba74 440px,#6cce59 445px,#d4e21c 453px,#f6e620 456px,#fde724 458px,#fbe724 474px,#f2e622 475px,#dfe320 476px,#c2df29 477px,#54c267 480px,#38b279 481px,#28a084 482px,#268a8a 483px,#365a8a 485px,#403e80 486px,#44216e 487px,#450c5e 488px,#440356 489px,#440456 507px,#441260 508px,#403970 509px,#4a7874 510px,#7eb45b 511px,#cad83a 512px,#f3e428 513px,#fce725 514px,#fce725 525px,#f3e428 526px,#cad239 527px,#829c55 528px,#534c62 529px,#46165c 530px,#440456 531px,#440154 536px,#440657 538px,#401d64 539px,#384e79 540px,#348680 541px,#44b074 542px,#60c660 543px,#72ce56 544px,#6ece58 545px,#5cc663 546px,#2dae7e 548px,#22a286 549px,#21908c 552px,#21918c 607px)"></i>
<i style="height:2px;background:linear-gradient(90deg,#1e9d89 0px,#21a685 247px,#1f968b 300px,#31678e 379px,#34608d 405px,#2d708e 418px,#1f968b 431px,#24a884 436px,#3fbc73 441px,#72cf56 446px,#cee11e 453px,#e8e41c 455px,#fae622 457px,#fde725 471px,#fae624 475px,#eee521 476px,#d6e223 477px,#b5dd2f 478px,#68ca5b 480px,#46bb70 481px,#2eaa7e 482px,#269588 483px,#32668c 485px,#3c4984 486px,#451262 488px,#440558 489px,#440154 497px,#440254 507px,#440a59 508px,#412667 509px,#436074 510px,#6ba264 511px,#b8d03f 512px,#ece229 513px,#fce725 514px,#fde725 525px,#f8e626 526px,#ddda30 527px,#a1af48 528px,#636260 529px,#48205f 530px,#440657 531px,#440154 534px,#440557 538px,#421863 539px,#3a4578 540px,#347d80 541px,#40aa76 542px,#5dc462 543px,#72cf56 544px,#73d055 545px,#62c95f 546px,#30b07c 548px,#24a485 549px,#20948b 551px,#218f8d 556px,#21918c 607px)"></i>
<i style="height:2px;background:linear-gradient(90deg,#1e9d89 0px,#21a685 247px,#1f968b 300px,#31678e 380px,#34608d 405px,#2e6d8e 417px,#20948c 431px,#22a685 436px,#34b67a 440px,#60ca60 445px,#d4e21c 454px,#f6e620 457px,#fde724 459px,#fce724 475px,#f7e622 476px,#e8e421 477px,#cce026 478px,#a7da36 479px,#58c464 481px,#3ab477 482px,#29a084 483px,#268a8a 484px,#385588 486px,#451a6a 488px,#45095b 489px,#440154 491px,#440254 507px,#440657 508px,#421a62 509px,#414a72 510px,#5a8d6a 511px,#9dc448 512px,#dedf2e 513px,#f8e626 514px,#fde725 516px,#fce625 526px,#eddf2a 527px,#b9bd40 528px,#6e745c 529px,#482a5f 530px,#440857 531px,#440154 533px,#440456 538px,#431360 539px,#3c3b74 540px,#357480 541px,#3ea478 542px,#5ac264 543px,#73ce55 544px,#78d052 545px,#68cc5c 546px,#34b27a 548px,#26a684 549px,#20958b 551px,#218f8d 555px,#21918c 607px)"></i>
<i style="height:2px;background:linear-gradient(90deg,#1e9d89 0px,#21a685 247px,#1f968b 299px,#31678e 380px,#34608d 406px,#2d708e 419px,#1f9c89 434px,#26ac82 438px,#46c06f 443px,#8ad647 449px,#cee11e 454px,#e8e41c 456px,#fae722 458px,#fde725 472px,#fce724 476px,#f4e622 477px,#e0e322 478px,#bfde2b 479px,#6ecc58 481px,#4abc6e 482px,#30aa7e 483px,#269488 484px,#33628a 486px,#3d4481 487px,#442470 488px,#450e5f 489px,#440456 490px,#440456 508px,#43105d 509px,#42346c 510px,#4e7670 511px,#84b458 512px,#ccd938 513px,#f4e528 514px,#fde725 515px,#fce725 526px,#f0e22a 527px,#bec640 528px,#6f825b 529px,#48335e 530px,#430a57 531px,#440254 532px,#440356 538px,#430e5c 539px,#3e2f6d 540px,#35687c 541px,#3a9e7a 542px,#57be66 543px,#74ce55 544px,#7cd250 545px,#6fce57 546px,#39b677 548px,#28a882 549px,#20968b 551px,#218e8d 554px,#21918c 607px)"></i>
<i style="height:2px;background:linear-gradient(90deg,#1e9d89 0px,#21a685 248px,#1f968b 301px,#31678e 381px,#345f8d 406px,#2d708e 420px,#1f9a8a 434px,#28ae80 439px,#4ac26c 444px,#82d44c 449px,#c6e022 454px,#e2e41b 456px,#f7e620 458px,#fde725 462px,#fae624 477px,#eee522 478px,#d5e224 479px,#b0dc32 480px,#5ec562 482px,#3cb476 483px,#2aa084 484px,#28888a 485px,#2f6e8c 486px,#395086 487px,#441464 489px,#440658 490px,#440154 494px,#440254 508px,#430858 509px,#412365 510px,#455e72 511px,#70a262 512px,#bed13f 513px,#f0e42a 514px,#fce725 515px,#fce725 526px,#f2e42a 527px,#c4cf3c 528px,#7a9356 529px,#4e415f 530px,#451059 531px,#440255 532px,#440254 538px,#430858 539px,#3e2566 540px,#355e7a 541px,#38967a 542px,#54bb68 543px,#74ce55 544px,#81d34c 545px,#77d052 546px,#3eb874 548px,#2aaa80 549px,#229e88 550px,#218f8d 553px,#21918c 607px)"></i>
<i style="height:2px;background:linear-gradient(90deg,#1e9d89 0px,#21a685 248px,#1f968b 302px,#31678e 381px,#345f8d 407px,#2e6f8e 420px,#1f988a 434px,#26ac82 439px,#3dbc74 443px,#70ce57 448px,#cee11e 455px,#e8e41c 457px,#fae722 459px,#fde725 466px,#fce724 477px,#f6e622 478px,#e6e422 479px,#c8e028 480px,#a0d83a 481px,#4dbe6c 483px,#32aa7d 484px,#289388 485px,#2b7a8c 486px,#355d89 487px,#3f3d7e 488px,#441e6c 489px,#450a5c 490px,#440154 492px,#440254 508px,#440456 509px,#421861 510px,#434870 511px,#608d68 512px,#a6c645 513px,#e2e02c 514px,#f9e626 515px,#fde725 519px,#fde725 526px,#f6e527 527px,#d6d832 528px,#96a74c 529px,#5e5860 530px,#481b5e 531px,#440656 532px,#440154 536px,#430757 539px,#3f2065 540px,#365579 541px,#388f7c 542px,#50b76a 543px,#73cc55 544px,#85d44a 545px,#7ed24e 546px,#65ca5d 547px,#45bc70 548px,#2dac7e 549px,#22a086 550px,#20928c 552px,#218f8d 556px,#21918c 607px)"></i>
<i style="height:2px;background:linear-gradient(90deg,#1e9d89 0px,#21a685 248px,#1f978b 300px,#31678e 382px,#34608d 408px,#2e6e8e 420px,#1f968b 434px,#24a884 439px,#39b976 443px,#69cc5b 448px,#d4e21c 456px,#eee51e 458px,#fce724 460px,#fce724 478px,#f2e622 479px,#dce224 480px,#b9dd2e 481px,#62c65e 483px,#3fb474 484px,#2a9f84 485px,#28868a 486px,#306a8b 487px,#3b4a83 488px,#422972 489px,#441060 490px,#440456 491px,#440256 509px,#430e5c 510px,#423269 511px,#52756c 512px,#8ab654 513px,#d0da36 514px,#f5e628 515px,#fde725 516px,#fae625 527px,#eade2b 528px,#b4b741 529px,#6e6b5c 530px,#49265f 531px,#440857 532px,#440154 534px,#440254 538px,#440657 539px,#401c64 540px,#394d78 541px,#38877e 542px,#4eb36e 543px,#72cc56 544px,#88d448 545px,#86d44a 546px,#6dcc58 547px,#4cbe6c 548px,#31b07c 549px,#24a286 550px,#20938c 552px,#218f8d 556px,#21918c 607px)"></i>
<i style="height:2px;background:linear-gradient(90deg,#1e9d89 0px,#21a685 248px,#1f978b 300px,#31678e 383px,#355f8d 408px,#2e6e8e 421px,#1f988b 435px,#24aa82 440px,#3cba74 444px,#6ece58 449px,#cde11f 456px,#e8e41c 458px,#fae722 460px,#fde724 478px,#f9e624 479px,#ece422 480px,#d0e126 481px,#a8da37 482px,#50be69 484px,#34aa7c 485px,#289288 486px,#2c778b 487px,#365887 488px,#441866 490px,#440759 491px,#440154 494px,#440254 509px,#440858 510px,#422264 511px,#485e70 512px,#75a460 513px,#c2d23e 514px,#f1e42a 515px,#fce725 516px,#fce725 527px,#f0e02a 528px,#bec240 529px,#707a5c 530px,#482e5f 531px,#430a57 532px,#440254 533px,#440557 539px,#421762 540px,#3c4476 541px,#387e7e 542px,#4aae70 543px,#70ca57 544px,#8bd546 545px,#8cd645 546px,#76ce53 547px,#35b27a 549px,#25a484 550px,#20948c 552px,#218e8d 555px,#21918c 607px)"></i>
<i style="height:2px;background:linear-gradient(90deg,#1e9d89 0px,#21a685 249px,#1f968b 303px,#31678e 383px,#355f8d 409px,#2d708e 422px,#1f988a 436px,#26ac82 441px,#40bc73 445px,#74d055 450px,#d4e21c 457px,#eee51e 459px,#fce724 461px,#fce724 479px,#f6e623 480px,#e4e423 481px,#c1de2c 482px,#66c85c 484px,#41b574 485px,#2c9e83 486px,#2a848a 487px,#32668a 488px,#3c4480 489px,#44236e 490px,#450c5d 491px,#440356 492px,#440254 509px,#440456 510px,#421861 511px,#45486e 512px,#668f64 513px,#b0c842 514px,#e8e12a 515px,#fae625 516px,#fce725 527px,#f1e22a 528px,#c0ca3e 529px,#728858 530px,#48385e 531px,#440c57 532px,#440254 533px,#440456 539px,#431260 540px,#3e3972 541px,#38747c 542px,#47a872 543px,#6ec858 544px,#8ed544 545px,#92d641 546px,#7ed14e 547px,#3ab576 549px,#27a682 550px,#20948b 552px,#218f8d 557px,#21918c 607px)"></i>
<i style="height:2px;background:linear-gradient(90deg,#1e9d89 0px,#21a685 249px,#1f978b 301px,#31678e 384px,#345f8d 410px,#2d708e 423px,#1f9a8a 437px,#24aa82 441px,#3bba76 445px,#6dce59 450px,#cde11f 457px,#e8e41c 459px,#fae722 461px,#fbe724 480px,#f0e623 481px,#d7e225 482px,#aedb34 483px,#53c068 485px,#34aa7c 486px,#299088 487px,#2d748b 488px,#385285 489px,#441262 491px,#440458 492px,#440154 499px,#440255 510px,#430d5a 511px,#443267 512px,#577768 513px,#94b94e 514px,#d6dc32 515px,#f6e626 516px,#fde725 517px,#fce725 527px,#f4e428 528px,#ccd238 529px,#869a52 530px,#56485e 531px,#47125a 532px,#440456 533px,#440255 539px,#430c5b 540px,#3e2e6b 541px,#386a7a 542px,#44a273 543px,#6ac55a 544px,#8fd544 545px,#9ad83d 546px,#88d448 547px,#40b873 549px,#2aa882 550px,#219c88 551px,#218f8d 554px,#21918c 607px)"></i>
<i style="height:2px;background:linear-gradient(90deg,#1e9d89 0px,#21a685 249px,#1f978b 301px,#31678e 385px,#345f8d 411px,#2d718e 424px,#1f9c8a 438px,#26ac82 442px,#3ebc74 446px,#72d056 451px,#d3e21c 458px,#eee51e 460px,#fce724 462px,#fce724 480px,#f8e624 481px,#e8e423 482px,#c7df2a 483px,#69c85a 485px,#42b573 486px,#2c9d83 487px,#2a828a 488px,#336288 489px,#3e3e7d 490px,#441d6a 491px,#45095b 492px,#440154 494px,#440254 510px,#440858 511px,#422363 512px,#4b616e 513px,#7ba85d 514px,#c6d53c 515px,#f2e429 516px,#fce725 517px,#fde725 527px,#f8e626 528px,#e0da2e 529px,#a6ad45 530px,#685d5c 531px,#4a1e5e 532px,#440656 533px,#440154 538px,#430858 540px,#3e2666 541px,#376077 542px,#419c74 543px,#68c25c 544px,#90d442 545px,#a0da39 546px,#90d642 547px,#46bb6f 549px,#2cac80 550px,#229e88 551px,#21918c 553px,#21918c 597px,#21918c 607px)"></i>
<i style="height:2px;background:linear-gradient(90deg,#1e9d89 0px,#21a685 249px,#1f968b 304px,#31678e 385px,#355f8d 411px,#2d708e 424px,#1f9a8a 438px,#28ae80 443px,#4bc26c 448px,#85d44a 453px,#cce020 458px,#e8e41c 460px,#fae722 462px,#fde725 469px,#fce724 481px,#f4e623 482px,#dce225 483px,#b4dc32 484px,#54c068 486px,#34a97c 487px,#2a8e88 488px,#2f708a 489px,#3a4d83 490px,#422a72 491px,#440e5f 492px,#440456 493px,#440254 510px,#440556 511px,#421861 512px,#464c6e 513px,#6c9463 514px,#b9cb40 515px,#eee22a 516px,#fce725 517px,#fce625 528px,#eedf2a 529px,#bcba40 530px,#726f5c 531px,#4a285f 532px,#440857 533px,#440154 535px,#440254 539px,#430757 540px,#3f2164 541px,#385877 542px,#409477 543px,#64bf5e 544px,#90d442 545px,#a5da35 546px,#9ad83c 547px,#78ce51 548px,#4ebe6a 549px,#30ae7d 550px,#23a086 551px,#20928c 553px,#21908c 559px,#21918c 607px)"></i>
<i style="height:2px;background:linear-gradient(90deg,#1e9d89 0px,#21a685 249px,#1f978b 302px,#31678e 386px,#355f8d 412px,#2e6e8e 424px,#20948c 437px,#22a684 442px,#36b878 446px,#5ac864 450px,#a6db34 456px,#d2e21e 459px,#eee51e 461px,#fce724 463px,#fde724 481px,#f9e624 482px,#ece423 483px,#cce02a 484px,#9dd63e 485px,#6bc85a 486px,#42b472 487px,#2c9c84 488px,#2c7e8a 489px,#355c87 490px,#441765 492px,#440658 493px,#440154 496px,#440256 511px,#430e5c 512px,#443567 513px,#5e7c64 514px,#a0be48 515px,#dede2e 516px,#f8e626 517px,#fde725 519px,#fce725 528px,#f1e12a 529px,#bec340 530px,#707e5c 531px,#48305e 532px,#430a57 533px,#440254 534px,#440254 539px,#440657 540px,#401d64 541px,#3a5077 542px,#3e8d78 543px,#61bb61 544px,#90d243 545px,#aadb32 546px,#a4da36 547px,#83d14a 548px,#56c266 549px,#34b07a 550px,#24a286 551px,#20928c 553px,#218f8d 557px,#21918c 607px)"></i>
<i style="height:2px;background:linear-gradient(90deg,#1e9d89 0px,#21a685 250px,#1f968b 305px,#31678e 386px,#355f8d 412px,#2e6f8e 425px,#1f9c89 440px,#2cb07e 445px,#54c568 450px,#90d643 455px,#cae020 459px,#e6e41c 461px,#fae622 463px,#fde725 477px,#fce724 482px,#f5e623 483px,#dee224 484px,#b6dc32 485px,#54bf67 487px,#34a87c 488px,#2a8c88 489px,#306c8a 490px,#3b4780 491px,#42246e 492px,#440c5d 493px,#440356 494px,#440254 511px,#430858 512px,#422662 513px,#50666a 514px,#84ae58 515px,#ccd838 516px,#f4e428 517px,#fce725 518px,#fce725 528px,#f2e22a 529px,#c1cc3d 530px,#748b57 531px,#4a395c 532px,#440c56 533px,#440254 534px,#440557 540px,#421862 541px,#3c4776 542px,#3e847a 543px,#5db664 544px,#8ed244 545px,#aedc30 546px,#addc30 547px,#8ed444 548px,#5fc460 549px,#38b378 550px,#26a484 551px,#20928c 553px,#218f8d 557px,#21918c 607px)"></i>
<i style="height:2px;background:linear-gradient(90deg,#1e9d89 0px,#21a685 250px,#1f968b 305px,#31678e 387px,#355f8d 413px,#2d708e 426px,#1f9a8a 440px,#24aa82 444px,#3cba75 448px,#63ca5f 452px,#c2e024 459px,#dfe31b 461px,#f6e620 463px,#fde724 465px,#fae724 483px,#ede424 484px,#cee02a 485px,#9ed63d 486px,#6bc85a 487px,#42b474 488px,#2c9a84 489px,#2c7a8a 490px,#365786 491px,#403276 492px,#441362 493px,#440457 494px,#440154 507px,#440657 512px,#431b62 513px,#48526e 514px,#729a62 515px,#bfce3f 516px,#f0e42a 517px,#fce725 518px,#fde725 528px,#f4e428 529px,#cfd436 530px,#8b9c4e 531px,#59485b 532px,#471259 533px,#440456 534px,#440456 540px,#431460 541px,#3e3e72 542px,#3e7c79 543px,#5ab166 544px,#8cd045 545px,#b2dc2e 546px,#b6dd2b 547px,#98d63e 548px,#68c85a 549px,#3eb674 550px,#28a682 551px,#20938c 553px,#218f8d 557px,#21918c 607px)"></i>
<i style="height:2px;background:linear-gradient(90deg,#1e9d89 0px,#21a685 250px,#1f978b 303px,#31678e 387px,#355f8d 413px,#2e6c8e 425px,#20908c 438px,#22a884 444px,#37b878 448px,#68cc5c 453px,#c8e021 460px,#e4e41c 462px,#f9e622 464px,#fde725 472px,#fce724 483px,#f6e623 484px,#e0e324 485px,#b7dc32 486px,#53be68 488px,#34a67d 489px,#2b8a88 490px,#326788 491px,#3c427e 492px,#431e6a 493px,#440a5b 494px,#440154 496px,#440456 512px,#44105c 513px,#463c68 514px,#668462 515px,#aec442 516px,#e7e02b 517px,#fae625 518px,#fde725 528px,#f9e626 529px,#e3da2c 530px,#acae42 531px,#6b5d5b 532px,#4a1e5d 533px,#440656 534px,#440154 539px,#440356 540px,#430e5c 541px,#3e326c 542px,#3c7177 543px,#56ac68 544px,#8ace46 545px,#b4dc2c 546px,#bede27 547px,#a2d838 548px,#44b871 550px,#2aa882 551px,#219c88 552px,#218e8d 555px,#21918c 607px)"></i>
<i style="height:2px;background:linear-gradient(90deg,#1e9d89 0px,#21a685 250px,#1f978b 304px,#31678e 388px,#355f8d 414px,#2e6d8e 426px,#1f968b 440px,#24aa83 445px,#3aba76 449px,#6cce59 454px,#cee11f 461px,#eae41c 463px,#fae724 465px,#fae724 484px,#eee524 485px,#cde02a 486px,#9dd63e 487px,#69c85a 488px,#40b274 489px,#2c9684 490px,#2d778a 491px,#385284 492px,#412c73 493px,#441060 494px,#440456 495px,#440254 512px,#430958 513px,#442a62 514px,#566e66 515px,#91b550 516px,#d4da34 517px,#f6e628 518px,#fde725 519px,#fce625 529px,#f0de2a 530px,#beba40 531px,#726e5c 532px,#4a275f 533px,#440857 534px,#440154 536px,#440254 540px,#430958 541px,#3e2966 542px,#3b6774 543px,#51a46a 544px,#86cb4a 545px,#b6dc2c 546px,#c5e024 547px,#adda32 548px,#4abc6d 550px,#2caa80 551px,#229c88 552px,#21908c 554px,#21918c 607px)"></i>
<i style="height:2px;background:linear-gradient(90deg,#1e9d89 0px,#21a685 251px,#1f968b 306px,#31678e 388px,#355f8d 414px,#2f6c8e 426px,#20948c 440px,#22a784 445px,#36b878 449px,#66cc5d 454px,#c6e022 461px,#e2e41b 463px,#f8e622 465px,#fde725 470px,#fce724 484px,#f6e623 485px,#dfe224 486px,#b6dc32 487px,#51bc6a 489px,#32a47e 490px,#2b8688 491px,#336288 492px,#3e3c7b 493px,#441a67 494px,#440859 495px,#440154 497px,#440254 512px,#440657 513px,#431f62 514px,#4b5a6d 515px,#78a35e 516px,#c5d33d 517px,#f2e42a 518px,#fce725 519px,#fce725 529px,#f1e02a 530px,#bec340 531px,#707c5c 532px,#482f5e 533px,#430a57 534px,#440254 535px,#440254 540px,#430857 541px,#3e2464 542px,#3a6075 543px,#4e9e6e 544px,#83c84c 545px,#b9dc2c 546px,#cde020 547px,#b9dc2c 548px,#52be68 550px,#30ac7e 551px,#229e87 552px,#21908c 554px,#21918c 607px)"></i>
<i style="height:2px;background:linear-gradient(90deg,#1e9d89 0px,#21a685 251px,#1f968b 305px,#31678e 389px,#355e8d 414px,#2e6c8e 427px,#1f998a 442px,#24a884 446px,#39b976 450px,#6acc5a 455px,#cce020 462px,#e8e41c 464px,#fae722 466px,#fae724 485px,#ece424 486px,#cce02a 487px,#9ad640 488px,#66c65c 489px,#3eb076 490px,#2c9485 491px,#2e738a 492px,#3a4e82 493px,#422870 494px,#440e5e 495px,#440456 496px,#440154 512px,#440456 513px,#44145f 514px,#47446c 515px,#6c8e62 516px,#b9c940 517px,#eee22a 518px,#fce725 519px,#fce725 529px,#f2e22a 530px,#c0cb3e 531px,#728a57 532px,#4a385c 533px,#440c56 534px,#440254 535px,#440254 540px,#430657 541px,#402064 542px,#3b5875 543px,#4c9870 544px,#80c64e 545px,#bcdb2d 546px,#d6e220 547px,#c7de27 548px,#96d441 549px,#5cc262 550px,#34af7a 551px,#24a086 552px,#21918c 554px,#21918c 598px,#21918c 607px)"></i>
<i style="height:2px;background:linear-gradient(90deg,#1e9d89 0px,#21a685 251px,#1f978b 305px,#31668e 392px,#355e8d 415px,#2e6e8e 428px,#1f968b 442px,#24aa82 447px,#3cba74 451px,#64ca5f 455px,#b4de2c 461px,#d2e21e 463px,#ede51e 465px,#fce724 467px,#fce724 485px,#f4e623 486px,#dde226 487px,#b2db34 488px,#7dce50 489px,#4eba6c 490px,#31a180 491px,#2c8289 492px,#345e86 493px,#441664 495px,#440658 496px,#440154 500px,#440255 513px,#440c5a 514px,#443164 515px,#5f7862 516px,#a2bc46 517px,#dfde2e 518px,#f8e626 519px,#fde725 521px,#fce725 529px,#f4e428 530px,#ccd236 531px,#88984d 532px,#564358 533px,#471057 534px,#440254 535px,#440254 540px,#440657 541px,#421c64 542px,#3c5075 543px,#4a9171 544px,#7ec250 545px,#bedb30 546px,#e0e222 547px,#d6e225 548px,#a6d73a 549px,#68c65c 550px,#3ab277 551px,#26a285 552px,#21918c 554px,#21918c 598px,#21918c 607px)"></i>
<i style="height:2px;background:linear-gradient(90deg,#1e9d89 0px,#21a685 251px,#1f968b 308px,#31678e 390px,#355e8d 416px,#2f6c8e 428px,#228e8d 440px,#20a486 446px,#31b47c 450px,#5cc862 455px,#acdc32 461px,#d7e21c 464px,#f2e61e 466px,#fce724 468px,#fde725 485px,#fae624 486px,#ebe424 487px,#c8df2c 488px,#96d442 489px,#62c460 490px,#3bad78 491px,#2c9086 492px,#306e89 493px,#3b4880 494px,#42236d 495px,#440c5c 496px,#440356 497px,#440254 513px,#440857 514px,#432462 515px,#50656a 516px,#85ad57 517px,#cdd838 518px,#f4e428 519px,#fce725 520px,#fde725 529px,#f8e626 530px,#e2da2d 531px,#aaa941 532px,#6a5658 533px,#4b1a5b 534px,#450456 535px,#440254 540px,#440456 541px,#421662 542px,#3e4672 543px,#4a8872 544px,#7ebe54 545px,#c0da32 546px,#e8e424 547px,#e4e425 548px,#b7da35 549px,#74c956 550px,#40b574 551px,#27a484 552px,#21928c 554px,#21908c 559px,#21918c 607px)"></i>
<i style="height:2px;background:linear-gradient(90deg,#1e9d89 0px,#21a685 252px,#1f978b 306px,#31668e 393px,#355e8d 417px,#2e6d8e 429px,#20928c 442px,#22a685 447px,#33b67a 451px,#61ca60 456px,#c0df25 463px,#dee31b 465px,#f5e620 467px,#fde724 469px,#fce724 486px,#f4e623 487px,#dbe226 488px,#aeda36 489px,#79cc52 490px,#4ab86e 491px,#309e82 492px,#2c7e89 493px,#365985 494px,#403276 495px,#441362 496px,#440456 497px,#440154 510px,#440657 514px,#431a62 515px,#49526e 516px,#739a61 517px,#c0d03f 518px,#f1e42a 519px,#fce725 520px,#fce625 530px,#f0de2a 531px,#bfb640 532px,#75685b 533px,#4c235e 534px,#440657 535px,#440154 538px,#440456 541px,#43105e 542px,#403a6c 543px,#4a7e70 544px,#7bba55 545px,#c0da33 546px,#eae425 547px,#ece425 548px,#c6de32 549px,#82cd50 550px,#47b870 551px,#2aa682 552px,#21988a 553px,#218e8d 556px,#21918c 607px)"></i>
<i style="height:2px;background:linear-gradient(90deg,#1e9d89 0px,#21a685 252px,#1f978b 306px,#31678e 391px,#355e8d 417px,#2e6e8e 430px,#1f988b 444px,#26ac82 449px,#3ebc74 453px,#66cc5d 457px,#b8de2a 463px,#d5e21c 465px,#f0e51e 467px,#fce724 469px,#fde724 486px,#f9e624 487px,#e9e424 488px,#c5de2d 489px,#91d444 490px,#5cc262 491px,#38aa7a 492px,#2c8c87 493px,#316988 494px,#3c427d 495px,#431e6a 496px,#440a5a 497px,#440154 499px,#440456 514px,#44105c 515px,#463c68 516px,#688662 517px,#b2c542 518px,#eae12a 519px,#fbe625 520px,#fce725 530px,#f1e02b 531px,#c0bf41 532px,#72765d 533px,#482c5f 534px,#440857 535px,#440154 537px,#440254 541px,#430b59 542px,#402f66 543px,#48746c 544px,#78b456 545px,#bfd834 546px,#ece426 547px,#f2e526 548px,#d2e031 549px,#90d04c 550px,#50bb6c 551px,#2ca880 552px,#229a89 553px,#218f8d 555px,#21918c 607px)"></i>
<i style="height:2px;background:linear-gradient(90deg,#1e9d89 0px,#21a685 252px,#1f968b 309px,#31668e 394px,#355e8d 418px,#2e6e8e 431px,#1f9a8a 445px,#24a884 449px,#39ba76 453px,#6bcd5a 458px,#cce020 465px,#e9e41c 467px,#fae723 469px,#fce724 487px,#f2e623 488px,#d7e227 489px,#a8d938 490px,#72ca56 491px,#46b571 492px,#2e9a83 493px,#2d7989 494px,#385384 495px,#412c73 496px,#441060 497px,#440456 498px,#440254 514px,#430958 515px,#442b62 516px,#5a7264 517px,#98b84c 518px,#d9dc31 519px,#f7e626 520px,#fde725 522px,#fce725 530px,#f1e22a 531px,#bec73f 532px,#70845a 533px,#48345e 534px,#430a56 535px,#440254 536px,#440254 541px,#430857 542px,#402963 543px,#476c6c 544px,#75b058 545px,#bdd636 546px,#ece426 547px,#f4e626 548px,#dae12f 549px,#9cd446 550px,#58be66 551px,#30aa7e 552px,#229c88 553px,#218f8d 555px,#21918c 607px)"></i>
<i style="height:2px;background:linear-gradient(90deg,#1e9d89 0px,#21a685 252px,#1f978b 307px,#31678e 392px,#355e8d 419px,#2d708e 432px,#1f9a8a 446px,#25aa82 450px,#3cbb74 454px,#70ce57 459px,#d2e21e 466px,#eee51e 468px,#fce724 470px,#fce724 487px,#f8e624 488px,#e6e424 489px,#c0dd2f 490px,#8ad248 491px,#57c066 492px,#36a67c 493px,#2c8888 494px,#326488 495px,#3d3c7a 496px,#431966 497px,#440759 498px,#440154 501px,#440254 514px,#440657 515px,#432262 516px,#4e606c 517px,#7ea85b 518px,#c8d53b 519px,#f3e428 520px,#fce725 521px,#fce725 530px,#f3e428 531px,#c7cf39 532px,#7e9150 533px,#503c58 534px,#450c56 535px,#440254 536px,#440254 541px,#430857 542px,#402563 543px,#46656e 544px,#72aa5c 545px,#bad438 546px,#ece426 547px,#f6e625 548px,#e0e22b 549px,#a7d63f 550px,#62c260 551px,#34ac7b 552px,#249c88 553px,#218f8d 555px,#21918c 607px)"></i>
<i style="height:2px;background:linear-gradient(90deg,#1e9d89 0px,#21a685 253px,#1f968b 310px,#31668e 395px,#355e8d 420px,#2d708e 433px,#1f988a 446px,#26ac82 451px,#40bc72 455px,#75d054 460px,#cae020 466px,#e6e41c 468px,#fae722 470px,#fde725 477px,#fce724 488px,#f0e624 489px,#d3e128 490px,#a3d83b 491px,#6cc859 492px,#42b274 493px,#2d9684 494px,#2e7489 495px,#394d82 496px,#422870 497px,#440e5e 498px,#440456 499px,#440254 514px,#440456 515px,#431860 516px,#484c6d 517px,#709562 518px,#becd40 519px,#f0e22a 520px,#fce725 521px,#fde725 530px,#f7e526 531px,#dad62e 532px,#9e9e40 533px,#644650 534px,#4a1056 535px,#440254 536px,#440254 541px,#440657 542px,#422163 543px,#465e6f 544px,#6ea45e 545px,#b7d23a 546px,#eae326 547px,#f8e624 548px,#e7e428 549px,#b4d938 550px,#6dc55a 551px,#39b078 552px,#249e86 553px,#218f8d 555px,#21918c 607px)"></i>
<i style="height:2px;background:linear-gradient(90deg,#1e9d89 0px,#21a685 253px,#1f968b 310px,#31668e 395px,#355e8d 420px,#2e6f8e 433px,#1f968b 446px,#24aa82 451px,#3bba76 455px,#6ece58 460px,#d0e21e 467px,#ece51d 469px,#fce724 471px,#fce724 488px,#f6e624 489px,#e2e424 490px,#badc31 491px,#84d04c 492px,#52bc69 493px,#33a27e 494px,#2c8288 495px,#345d86 496px,#3f3677 497px,#441464 498px,#440558 499px,#440154 507px,#440356 515px,#440e5c 516px,#463866 517px,#668161 518px,#aec242 519px,#e7e02b 520px,#fae625 521px,#fce625 531px,#eddb29 532px,#bcac3c 533px,#765854 534px,#4e1a5a 535px,#450456 536px,#440254 541px,#440657 542px,#421c62 543px,#46546e 544px,#6a9c60 545px,#b3cf3a 546px,#eae227 547px,#f8e624 548px,#eee426 549px,#c2dc34 550px,#79c856 551px,#3eb276 552px,#26a086 553px,#218f8c 555px,#21918c 607px)"></i>
<i style="height:2px;background:linear-gradient(90deg,#1e9d89 0px,#21a685 253px,#1f968b 311px,#31678e 393px,#355e8d 421px,#2d708e 434px,#1f988a 447px,#26ac82 452px,#3ebc74 456px,#73d055 461px,#c8e021 467px,#e4e41c 469px,#f9e622 471px,#fde725 479px,#fae724 489px,#eee524 490px,#cee02a 491px,#9cd63f 492px,#66c55d 493px,#3dae77 494px,#2c9086 495px,#306e88 496px,#3b467f 497px,#42226c 498px,#440a5c 499px,#440256 500px,#440254 515px,#430858 516px,#442a62 517px,#586e66 518px,#93b64e 519px,#d6db32 520px,#f6e627 521px,#fde725 522px,#fce625 531px,#f2de2a 532px,#c2b740 533px,#76695c 534px,#4c245e 535px,#440657 536px,#440154 539px,#440456 542px,#441660 543px,#46496c 544px,#669460 545px,#afcb3c 546px,#e8e228 547px,#f9e625 548px,#f3e527 549px,#cdde35 550px,#84cc54 551px,#44b472 552px,#28a284 553px,#21968b 554px,#218e8d 557px,#21918c 607px)"></i>
<i style="height:2px;background:linear-gradient(90deg,#1e9d89 0px,#21a685 254px,#1f968b 311px,#31668e 396px,#355e8d 421px,#2e6c8e 433px,#1f9a8a 448px,#28ae80 453px,#4bc26c 458px,#93d841 464px,#cee11f 468px,#eae41c 470px,#fae724 472px,#fce724 489px,#f6e623 490px,#dee226 491px,#b3db34 492px,#7ccd50 493px,#4cb86d 494px,#309e80 495px,#2c7c89 496px,#365784 497px,#403074 498px,#441261 499px,#440456 500px,#440154 513px,#440657 516px,#432062 517px,#4c5e6c 518px,#7ca65c 519px,#c7d43c 520px,#f2e429 521px,#fce725 522px,#fce725 531px,#f1e02b 532px,#bfc041 533px,#71785c 534px,#482c5f 535px,#440857 536px,#440154 538px,#440356 542px,#44105c 543px,#443d65 544px,#62895e 545px,#aac73e 546px,#e5e128 547px,#f9e625 548px,#f5e627 549px,#d2df34 550px,#8cce50 551px,#4ab770 552px,#2aa282 553px,#21968a 554px,#218e8d 556px,#21918c 607px)"></i>
<i style="height:2px;background:linear-gradient(90deg,#1e9d89 0px,#20a386 172px,#20a586 262px,#20928c 320px,#31668e 396px,#355e8d 421px,#2e6d8e 434px,#1f988b 448px,#26aa82 453px,#3dbc74 457px,#71ce56 462px,#d4e21c 469px,#f0e51e 471px,#fce724 473px,#fae724 490px,#ece424 491px,#c8df2c 492px,#94d443 493px,#5ec261 494px,#38aa7a 495px,#2c8b87 496px,#326788 497px,#3d3f7c 498px,#431b68 499px,#44085a 500px,#440154 502px,#440456 516px,#441860 517px,#484b6d 518px,#6f9462 519px,#bdcc40 520px,#f0e22a 521px,#fce725 522px,#fce725 531px,#f1e22a 532px,#bfc83e 533px,#708659 534px,#48355d 535px,#440a56 536px,#440254 537px,#440254 542px,#430b58 543px,#433460 544px,#60805c 545px,#a6c340 546px,#e2e02a 547px,#f8e625 548px,#f6e627 549px,#d7e031 550px,#94d04b 551px,#50ba6c 552px,#2ca482 553px,#22978a 554px,#218e8d 556px,#21918c 607px)"></i>
<i style="height:2px;background:linear-gradient(90deg,#1e9d89 0px,#20a386 172px,#20a586 262px,#20928c 320px,#32668e 397px,#355e8d 422px,#2f6c8e 434px,#20948b 448px,#24a884 453px,#38b876 457px,#6acc5b 462px,#cce020 469px,#e8e41c 471px,#fae723 473px,#fce724 490px,#f3e623 491px,#d9e227 492px,#abda38 493px,#74ca54 494px,#46b470 495px,#2e9883 496px,#2e7689 497px,#385082 498px,#422a71 499px,#440e5e 500px,#440456 501px,#440356 516px,#440e5c 517px,#463866 518px,#668161 519px,#aec242 520px,#e8e02b 521px,#fae625 522px,#fce725 531px,#f3e428 532px,#cad138 533px,#84934c 534px,#543e56 535px,#460c54 536px,#440254 537px,#440254 542px,#430a57 543px,#432f60 544px,#5c7a5e 545px,#a0bf44 546px,#dfde2c 547px,#f8e626 548px,#f7e626 549px,#dce12e 550px,#9cd246 551px,#56bc68 552px,#2ea680 553px,#229889 554px,#218e8d 556px,#21918c 607px)"></i>
<i style="height:2px;background:linear-gradient(90deg,#1e9d89 0px,#20a386 172px,#20a586 263px,#20928c 321px,#31668e 397px,#355e8d 423px,#2e6e8e 436px,#1f9a8a 450px,#24aa82 454px,#3cba75 458px,#63ca5f 462px,#b4de2c 468px,#e0e41b 471px,#f7e622 473px,#fde725 477px,#fde724 490px,#f9e624 491px,#e8e424 492px,#c1de2f 493px,#8cd248 494px,#58be66 495px,#36a57d 496px,#2c8488 497px,#346086 498px,#3e3778 499px,#441664 500px,#440658 501px,#440154 507px,#440254 516px,#430858 517px,#442a62 518px,#586f65 519px,#94b64e 520px,#d6dc32 521px,#f6e626 522px,#fde725 523px,#fde725 531px,#f8e626 532px,#e0d72c 533px,#a69e3a 534px,#68444b 535px,#4a0e53 536px,#440254 537px,#440254 542px,#430957 543px,#432c60 544px,#5a7462 545px,#9bba48 546px,#dbde2f 547px,#f7e626 548px,#f8e626 549px,#e0e22b 550px,#a5d440 551px,#5ebe63 552px,#30a87e 553px,#229989 554px,#218e8d 556px,#21918c 607px)"></i>
<i style="height:2px;background:linear-gradient(90deg,#1e9d89 0px,#20a386 171px,#20a586 263px,#20928c 321px,#31668e 397px,#365d8d 423px,#2f6c8e 435px,#228e8d 447px,#20a486 453px,#30b47c 457px,#52c468 461px,#8fd644 466px,#cae020 470px,#e6e41c 472px,#fae722 474px,#fde725 481px,#fce724 491px,#f1e623 492px,#d4e128 493px,#a3d83c 494px,#6cc859 495px,#40b074 496px,#2d9285 497px,#306f88 498px,#3b477f 499px,#42226c 500px,#440a5c 501px,#440256 502px,#440254 516px,#440657 517px,#432162 518px,#4d5f6c 519px,#7ea75c 520px,#c8d53b 521px,#f3e428 522px,#fce725 523px,#fce625 532px,#f0da28 533px,#c1a838 534px,#7a504f 535px,#4e1457 536px,#450455 537px,#440254 542px,#430857 543px,#442861 544px,#586e64 545px,#94b64d 546px,#d7dc32 547px,#f6e627 548px,#f9e625 549px,#e5e328 550px,#aed63b 551px,#65c15f 552px,#34aa7c 553px,#239a88 554px,#218e8d 556px,#21918c 607px)"></i>
<i style="height:2px;background:linear-gradient(90deg,#1e9d89 0px,#20a387 171px,#20a586 264px,#20928c 322px,#31668e 397px,#365d8d 424px,#2f6c8e 436px,#1f9a8a 451px,#28ae80 456px,#42be71 460px,#7ad251 465px,#d0e21e 471px,#ece51e 473px,#fce724 475px,#fce724 491px,#f8e624 492px,#e4e425 493px,#badc32 494px,#83cf4c 495px,#50ba6a 496px,#329f80 497px,#2c7e88 498px,#365784 499px,#403074 500px,#441160 501px,#440456 502px,#440254 516px,#440556 517px,#431861 518px,#484e6e 519px,#709662 520px,#becd40 521px,#f0e22a 522px,#fce725 523px,#fce625 532px,#f2de2a 533px,#c4b23f 534px,#7a6259 535px,#4e205d 536px,#440656 537px,#440154 541px,#440757 543px,#442461 544px,#566666 545px,#8eb052 546px,#d2da35 547px,#f5e528 548px,#fae625 549px,#eae426 550px,#b7d838 551px,#6cc45c 552px,#36ac7a 553px,#249a88 554px,#218e8d 556px,#21918c 607px)"></i>
<i style="height:2px;background:linear-gradient(90deg,#1e9d89 0px,#20a387 163px,#20a586 264px,#20928c 322px,#32658e 400px,#365d8d 425px,#2e6f8e 438px,#1f988b 451px,#26ac82 456px,#3ebc74 460px,#66cc5d 464px,#b9de29 470px,#d7e21c 472px,#f2e61e 474px,#fce724 476px,#fae724 492px,#eee524 493px,#cee02a 494px,#9bd63f 495px,#64c45e 496px,#3cab78 497px,#2c8c86 498px,#326788 499px,#3d3e7b 500px,#431a66 501px,#440859 502px,#440154 504px,#440456 517px,#44105c 518px,#463a68 519px,#698461 520px,#b4c441 521px,#ebe02a 522px,#fbe625 523px,#fce625 532px,#f1e02b 533px,#c0bc41 534px,#74725c 535px,#4a295f 536px,#440857 537px,#440154 539px,#440254 542px,#440657 543px,#452061 544px,#545f68 545px,#88aa56 546px,#ced838 547px,#f4e528 548px,#fae725 549px,#eee426 550px,#c0da36 551px,#73c65a 552px,#3aae78 553px,#249c87 554px,#218e8d 556px,#21918c 607px)"></i>
<i style="height:2px;background:linear-gradient(90deg,#1e9d89 0px,#20a287 156px,#20a586 264px,#20938c 321px,#32658e 399px,#365c8d 425px,#2e6e8e 438px,#20968b 451px,#24a984 456px,#3aba76 460px,#60ca60 464px,#b0dc2e 470px,#cee11e 472px,#ebe41c 474px,#fce724 476px,#fce724 492px,#f6e624 493px,#dfe226 494px,#b3db34 495px,#7acc51 496px,#4ab66e 497px,#309982 498px,#2e7689 499px,#394e82 500px,#422870 501px,#440e5e 502px,#440456 503px,#440254 517px,#430958 518px,#442c62 519px,#5c7262 520px,#9cb949 521px,#dcdc30 522px,#f8e626 523px,#fde725 525px,#fce725 532px,#f1e22a 533px,#bec540 534px,#6f805b 535px,#47325e 536px,#430a57 537px,#440254 538px,#440254 542px,#440657 543px,#451c60 544px,#525669 545px,#82a35a 546px,#c9d43a 547px,#f3e429 548px,#fce725 549px,#f2e528 550px,#c7dc38 551px,#7ac859 552px,#3daf78 553px,#259c87 554px,#218e8d 556px,#21918c 607px)"></i>
<i style="height:2px;background:linear-gradient(90deg,#1f9e89 0px,#1fa287 152px,#20a586 265px,#20928c 323px,#32658e 400px,#365c8d 426px,#2e6e8e 439px,#1f9a8a 453px,#26aa82 457px,#3dbc74 461px,#71ce56 466px,#d5e21c 473px,#f8e622 476px,#fde725 480px,#fae724 493px,#ece424 494px,#c8df2c 495px,#92d444 496px,#5cc063 497px,#37a57c 498px,#2d8488 499px,#345e86 500px,#3f3476 501px,#441462 502px,#440457 503px,#440154 516px,#440757 518px,#432362 519px,#50636a 520px,#84ac58 521px,#ccd839 522px,#f4e428 523px,#fce725 524px,#fce725 532px,#f2e42a 533px,#c3cd3b 534px,#788e54 535px,#4d3a5a 536px,#440c56 537px,#440254 538px,#440456 543px,#45165e 544px,#4f4c67 545px,#7a9b5b 546px,#c5d23c 547px,#f2e429 548px,#fce725 549px,#f4e528 550px,#ccdd38 551px,#7fc958 552px,#40b076 553px,#269e86 554px,#218e8d 556px,#21918c 607px)"></i>
<i style="height:2px;background:linear-gradient(90deg,#1f9e89 0px,#1fa287 152px,#20a586 265px,#20938c 322px,#32648e 402px,#365c8d 427px,#2c728e 441px,#1f9c89 454px,#2cb07e 459px,#54c668 464px,#92d742 469px,#cce020 473px,#e9e41c 475px,#fae723 477px,#fce724 493px,#f4e624 494px,#dae227 495px,#aad938 496px,#71c956 497px,#43b174 498px,#2e9284 499px,#306d88 500px,#3b447d 501px,#421e69 502px,#44085a 503px,#440154 505px,#440254 517px,#440657 518px,#431b62 519px,#49536e 520px,#749c61 521px,#c1d03f 522px,#f2e42a 523px,#fce725 524px,#fde725 532px,#f6e427 533px,#d4d431 534px,#949943 535px,#5e4050 536px,#480e54 537px,#440254 538px,#440355 543px,#44115b 544px,#4b4263 545px,#74925a 546px,#c1ce3e 547px,#f1e32a 548px,#fce725 549px,#f4e528 550px,#cede37 551px,#82ca56 552px,#42b274 553px,#269e86 554px,#21938b 555px,#218e8d 558px,#21918c 607px)"></i>
<i style="height:2px;background:linear-gradient(90deg,#1f9e89 0px,#1fa287 153px,#20a586 266px,#20928c 324px,#32648e 402px,#365c8d 427px,#2f6c8e 439px,#1f968b 453px,#24aa82 458px,#3cba74 462px,#64ca5f 466px,#c4e023 473px,#e2e41b 475px,#f8e622 477px,#fde725 482px,#fde725 493px,#f9e624 494px,#e8e426 495px,#c0dd30 496px,#88d04a 497px,#54bc68 498px,#339f7f 499px,#2e7c88 500px,#375483 501px,#412b72 502px,#440e5f 503px,#440456 504px,#440456 518px,#44135e 519px,#48426a 520px,#6d8c62 521px,#bbc841 522px,#efe22a 523px,#fce725 524px,#fae625 533px,#e9d828 534px,#b6a035 535px,#724648 536px,#4d0f52 537px,#450254 538px,#440254 543px,#440c58 544px,#48395e 545px,#6f8a5a 546px,#becb3e 547px,#f1e32a 548px,#fce725 549px,#f5e628 550px,#d0de36 551px,#86cc54 552px,#44b474 553px,#289f85 554px,#21948b 555px,#218e8d 558px,#21918c 607px)"></i>
<i style="height:2px;background:linear-gradient(90deg,#1f9e89 0px,#1fa287 152px,#20a586 266px,#20938c 323px,#33648d 403px,#365c8d 427px,#306a8e 439px,#20948c 453px,#23a884 458px,#38b878 462px,#68cc5b 467px,#bcde28 473px,#dae21c 475px,#f3e620 477px,#fde724 479px,#fce724 494px,#f1e624 495px,#d4e129 496px,#a0d63d 497px,#68c55c 498px,#3dab78 499px,#2e8a86 500px,#336386 501px,#3e3878 502px,#431664 503px,#440658 504px,#440154 510px,#440254 518px,#440c59 519px,#463263 520px,#647a60 521px,#aabe43 522px,#e4df2c 523px,#fae626 524px,#fde725 531px,#fce625 533px,#f2db28 534px,#c5a838 535px,#7c514f 536px,#4f1557 537px,#450455 538px,#440254 543px,#430b57 544px,#46355e 545px,#6c855a 546px,#bcc83f 547px,#f0e22a 548px,#fce725 549px,#f5e628 550px,#d2de34 551px,#8acd52 552px,#47b472 553px,#28a084 554px,#21948b 555px,#218e8d 558px,#21918c 607px)"></i>
<i style="height:2px;background:linear-gradient(90deg,#1f9e89 0px,#1fa287 146px,#21a685 224px,#1fa287 283px,#23898e 341px,#33638d 403px,#365c8d 428px,#2f6b8e 440px,#1f968b 454px,#24aa82 459px,#3bba76 463px,#6ece58 468px,#d1e21e 475px,#eee51e 477px,#fce724 479px,#fce724 494px,#f8e624 495px,#e4e426 496px,#b8dc33 497px,#7ecd4f 498px,#4bb66e 499px,#309882 500px,#307288 501px,#3a487e 502px,#42206b 503px,#440a5b 504px,#440154 506px,#440254 518px,#430857 519px,#442762 520px,#566c66 521px,#90b350 522px,#d4da34 523px,#f6e628 524px,#fde725 525px,#fce625 533px,#f2de2a 534px,#c4b23f 535px,#7a615a 536px,#4e205d 537px,#440656 538px,#440154 542px,#440254 543px,#430a57 544px,#46325e 545px,#6a805a 546px,#b8c53e 547px,#ede128 548px,#fbe625 549px,#f6e627 550px,#d4df34 551px,#8dce50 552px,#4ab670 553px,#29a184 554px,#21948b 555px,#228e8d 557px,#21918c 607px)"></i>
<i style="height:2px;background:linear-gradient(90deg,#1f9f88 0px,#1fa188 158px,#21a585 264px,#1f958c 320px,#33628d 405px,#365b8d 429px,#2e6e8e 442px,#1f988a 455px,#26ac82 460px,#3ebc74 464px,#73d055 469px,#c9e021 475px,#e6e41c 477px,#fae722 479px,#fde725 486px,#fae724 495px,#eee524 496px,#cce02c 497px,#96d443 498px,#5dc063 499px,#38a47c 500px,#2e8088 501px,#365884 502px,#402e72 503px,#441060 504px,#440456 505px,#440254 518px,#440657 519px,#432062 520px,#4d5e6d 521px,#7ca65c 522px,#c7d43c 523px,#f2e429 524px,#fce725 525px,#fce625 533px,#f2e02b 534px,#c1bc41 535px,#74705c 536px,#4a285f 537px,#440857 538px,#440154 540px,#440254 543px,#430a57 544px,#45305e 545px,#677c5a 546px,#b2c23c 547px,#e9e028 548px,#fae625 549px,#f6e627 550px,#d6e032 551px,#91d04d 552px,#4cb86e 553px,#2aa283 554px,#22958a 555px,#218e8d 557px,#21918c 607px)"></i>
<i style="height:2px;background:linear-gradient(90deg,#1f9f88 0px,#1fa188 150px,#20a486 220px,#20a387 279px,#228d8d 335px,#33628d 405px,#365b8d 430px,#2e6f8e 443px,#1f9a8a 456px,#28ae80 461px,#42be72 465px,#79d152 470px,#cfe11e 476px,#ece51c 478px,#fce724 480px,#fce724 495px,#f6e624 496px,#dde227 497px,#aeda38 498px,#72c956 499px,#44b074 500px,#2f8e84 501px,#326786 502px,#3d3c78 503px,#431764 504px,#440658 505px,#440154 509px,#440254 518px,#440556 519px,#431962 520px,#484e6e 521px,#709862 522px,#bece40 523px,#f0e32a 524px,#fce725 525px,#fce725 533px,#f1e22a 534px,#bec440 535px,#6f7e5c 536px,#48305e 537px,#430a57 538px,#440254 539px,#440254 543px,#430957 544px,#452c5f 545px,#64775c 546px,#aabe3e 547px,#e5df2a 548px,#f9e625 549px,#f6e627 550px,#d8e030 551px,#95d04a 552px,#50b86c 553px,#2ba382 554px,#22968a 555px,#218e8d 557px,#21918c 607px)"></i>
<i style="height:2px;background:linear-gradient(90deg,#1fa088 0px,#1fa088 157px,#21a685 230px,#1fa188 289px,#24868e 348px,#33628d 405px,#375a8c 429px,#306a8e 441px,#20948c 455px,#22a784 460px,#36b878 464px,#66cc5d 469px,#b8de2a 475px,#d6e21c 477px,#f0e61e 479px,#fce724 481px,#fde725 495px,#fae724 496px,#eae425 497px,#c3de2f 498px,#8ad049 499px,#54ba69 500px,#349c80 501px,#307687 502px,#394b80 503px,#42236c 504px,#440a5c 505px,#440256 506px,#440456 519px,#44115e 520px,#473e69 521px,#6a8861 522px,#b6c640 523px,#ece22a 524px,#fce625 525px,#fce725 533px,#f2e22a 534px,#c0cc3d 535px,#738a57 536px,#4a385c 537px,#440c56 538px,#440254 539px,#440254 543px,#430857 544px,#452a60 545px,#62725e 546px,#a4ba43 547px,#e0de2c 548px,#f8e626 549px,#f7e626 550px,#dae130 551px,#99d248 552px,#53ba6a 553px,#2ca482 554px,#22968a 555px,#218e8d 557px,#21918c 607px)"></i>
<i style="height:2px;background:linear-gradient(90deg,#1fa188 0px,#1fa088 150px,#1fa287 205px,#20a586 268px,#20928c 326px,#34618d 407px,#375a8d 431px,#2e6e8e 444px,#1f9c89 458px,#28ad80 462px,#42be72 466px,#78d052 471px,#cee11f 477px,#eae41c 479px,#fae724 481px,#fce724 496px,#f2e624 497px,#d6e128 498px,#a2d63d 499px,#67c45d 500px,#3ca878 501px,#2e8486 502px,#355b84 503px,#403074 504px,#441060 505px,#440456 506px,#440254 519px,#440b59 520px,#442f63 521px,#607861 522px,#a3bc45 523px,#e0de2d 524px,#f8e626 525px,#fde725 528px,#fce725 533px,#f4e428 534px,#ccd236 535px,#86964b 536px,#563e54 537px,#460d54 538px,#440254 539px,#440254 543px,#440857 544px,#452760 545px,#5e6c61 546px,#9eb648 547px,#dcdc2e 548px,#f7e626 549px,#f7e626 550px,#dce12e 551px,#9dd246 552px,#56bb68 553px,#2ea580 554px,#22968a 555px,#218e8d 557px,#21918c 607px)"></i>
<i style="height:2px;background:linear-gradient(90deg,#20a287 0px,#1fa088 41px,#1fa088 145px,#1fa088 200px,#21a685 258px,#1f988b 316px,#2b748e 373px,#34608d 411px,#375a8c 430px,#2f6a8e 443px,#1f968b 457px,#26aa82 462px,#3dbc74 466px,#70ce57 471px,#c5e023 477px,#e3e41c 479px,#f8e622 481px,#fde725 485px,#fde724 496px,#f8e624 497px,#e5e426 498px,#b8dc34 499px,#7dcc50 500px,#4ab470 501px,#319283 502px,#326a86 503px,#3c3e7a 504px,#421864 505px,#440658 506px,#440154 510px,#440254 519px,#430857 520px,#432662 521px,#546a68 522px,#8cb252 523px,#d2da35 524px,#f5e528 525px,#fde725 526px,#fde725 533px,#f8e626 534px,#ded62c 535px,#a49c3a 536px,#68434a 537px,#4a0e52 538px,#440254 539px,#440254 543px,#440757 544px,#462460 545px,#5c6864 546px,#98b24c 547px,#d8da32 548px,#f6e627 549px,#f8e626 550px,#dee22c 551px,#a1d442 552px,#5abc66 553px,#2ea680 554px,#22978a 555px,#218e8d 557px,#21918c 607px)"></i>
<i style="height:2px;background:linear-gradient(90deg,#20a486 0px,#1fa088 32px,#1fa088 141px,#1f9f88 197px,#21a685 258px,#1f988b 316px,#2b758e 372px,#345f8d 412px,#375a8c 431px,#2f6c8e 444px,#20948c 457px,#24a884 462px,#39b976 466px,#6acc5b 471px,#bcde27 477px,#dae21c 479px,#f4e620 481px,#fde724 483px,#fae724 497px,#efe524 498px,#ccdf2c 499px,#94d244 500px,#5abe64 501px,#369f7e 502px,#307987 503px,#394d80 504px,#42246c 505px,#440b5c 506px,#440256 507px,#440254 519px,#440657 520px,#432062 521px,#4c5e6e 522px,#7aa65e 523px,#c6d43c 524px,#f2e429 525px,#fce725 526px,#fce625 534px,#eeda27 535px,#bea233 536px,#784848 537px,#4e1053 538px,#450254 539px,#440254 543px,#440657 544px,#462161 545px,#5a6266 546px,#92ad50 547px,#d3d934 548px,#f5e528 549px,#f8e626 550px,#e0e22b 551px,#a5d440 552px,#5dbe64 553px,#30a67e 554px,#229889 555px,#218e8d 557px,#21918c 607px)"></i>
<i style="height:2px;background:linear-gradient(90deg,#21a686 0px,#1f9f88 27px,#1fa188 132px,#1f9e89 191px,#21a685 258px,#1f988b 317px,#2b768e 371px,#345f8d 410px,#37598c 432px,#2e6c8e 445px,#1f968b 458px,#24aa82 463px,#44bf70 468px,#7cd250 473px,#d2e21e 479px,#eee51e 481px,#fce724 483px,#fce724 497px,#f6e624 498px,#dee228 499px,#acd83a 500px,#70c758 501px,#40ab76 502px,#308885 503px,#355d84 504px,#403174 505px,#441260 506px,#440456 507px,#440254 519px,#440657 520px,#431a62 521px,#48506f 522px,#709864 523px,#bece40 524px,#f0e32a 525px,#fce725 526px,#fce625 534px,#f2dc2a 535px,#c6aa3a 536px,#7c5552 537px,#4f1859 538px,#450456 539px,#440254 543px,#440657 544px,#461d60 545px,#585a66 546px,#8ca854 547px,#d0d836 548px,#f4e528 549px,#f8e625 550px,#e2e22a 551px,#a9d63e 552px,#60be62 553px,#31a87e 554px,#239889 555px,#218e8d 557px,#21918c 607px)"></i>
<i style="height:2px;background:linear-gradient(90deg,#22a884 0px,#1f9f88 24px,#1fa188 130px,#1e9c89 188px,#21a685 258px,#1f998a 315px,#2a788e 369px,#355f8d 409px,#38588c 432px,#30688e 444px,#21908c 457px,#20a486 462px,#31b47a 466px,#5ec862 471px,#9dda3a 476px,#cae020 479px,#e7e41c 481px,#fae722 483px,#fde725 497px,#fae724 498px,#eae426 499px,#c1dd30 500px,#86ce4c 501px,#4fb66c 502px,#329582 503px,#326c86 504px,#3c3e7a 505px,#421864 506px,#440658 507px,#440154 511px,#440456 520px,#44145f 521px,#46426c 522px,#6a8b62 523px,#b6c740 524px,#ece22a 525px,#fce625 526px,#fce625 534px,#f2de2a 535px,#c4b440 536px,#78645a 537px,#4d215e 538px,#440656 539px,#440154 542px,#440556 544px,#461a60 545px,#565466 546px,#86a256 547px,#ccd638 548px,#f4e428 549px,#f9e625 550px,#e4e328 551px,#add63c 552px,#63c060 553px,#32a87d 554px,#239889 555px,#218e8d 557px,#21918c 607px)"></i>
<i style="height:2px;background:linear-gradient(90deg,#24aa82 0px,#1f9f88 23px,#1fa188 128px,#1e9b8a 188px,#21a685 258px,#1f998a 316px,#297a8e 366px,#355e8d 410px,#38588c 432px,#31688e 444px,#228e8d 457px,#22a685 463px,#34b67a 467px,#62ca5f 472px,#a4da36 477px,#d1e21e 480px,#ede51e 482px,#fce724 484px,#fce724 498px,#f2e624 499px,#d4e02a 500px,#9ed640 501px,#62c060 502px,#3aa27b 503px,#307b86 504px,#384e7f 505px,#42246c 506px,#440a5c 507px,#440256 508px,#440255 520px,#440e5b 521px,#443466 522px,#5f7c62 523px,#a2be45 524px,#e0de2c 525px,#f8e626 526px,#fde725 529px,#fce625 534px,#f1e02b 535px,#c0bc41 536px,#74705c 537px,#4a285f 538px,#440857 539px,#440154 541px,#440456 544px,#46165e 545px,#524d64 546px,#809c58 547px,#c8d23a 548px,#f3e429 549px,#f9e625 550px,#e6e328 551px,#b1d73a 552px,#66c15e 553px,#34a97c 554px,#239989 555px,#218e8d 557px,#21918c 607px)"></i>
<i style="height:2px;background:linear-gradient(90deg,#28ae80 0px,#1f9f88 20px,#1fa188 126px,#1f9a8a 186px,#21a685 258px,#1f9a8a 315px,#287c8e 364px,#355e8d 409px,#38588c 433px,#30688e 445px,#228c8d 457px,#20a486 463px,#31b47b 467px,#5cc863 472px,#9cd93c 477px,#c9e021 480px,#e6e41c 482px,#fae622 484px,#fde724 498px,#f8e624 499px,#e4e427 500px,#b4da36 501px,#76c954 502px,#44ae73 503px,#308a84 504px,#355e84 505px,#403174 506px,#441060 507px,#440456 508px,#440254 520px,#430858 521px,#422a62 522px,#546f68 523px,#8eb551 524px,#d3db34 525px,#f6e628 526px,#fde725 527px,#fce725 534px,#f1e02a 535px,#bec240 536px,#6f7c5c 537px,#482f5f 538px,#430a57 539px,#440254 540px,#440456 544px,#46125b 545px,#4f4562 546px,#7a9658 547px,#c4d03c 548px,#f2e429 549px,#fae625 550px,#e8e426 551px,#b5d838 552px,#6ac25c 553px,#36aa7b 554px,#239a88 555px,#218e8d 557px,#21918c 607px)"></i>
<i style="height:2px;background:linear-gradient(90deg,#2cb17e 0px,#1fa088 16px,#1fa088 129px,#1f988a 185px,#21a685 257px,#1e9b8a 313px,#287d8e 363px,#365d8d 409px,#38578c 433px,#31668e 445px,#20928c 459px,#22a685 464px,#34b67a 468px,#61ca60 473px,#b1dc2e 479px,#dee31b 482px,#f6e620 484px,#fde724 486px,#fae724 499px,#ede424 500px,#c8de2e 501px,#8ed048 502px,#54b869 503px,#349680 504px,#326c86 505px,#3c3e79 506px,#421764 507px,#440658 508px,#440154 514px,#440254 520px,#430857 521px,#422462 522px,#4c646d 523px,#7eaa5c 524px,#c8d63b 525px,#f4e429 526px,#fce725 527px,#fce725 534px,#f1e22a 535px,#bec83f 536px,#6f865a 537px,#48365e 538px,#430b56 539px,#440254 540px,#440254 544px,#440e58 545px,#4b3e5d 546px,#759057 547px,#c2ce3c 548px,#f1e32a 549px,#fae625 550px,#eae426 551px,#b9d936 552px,#6ec35b 553px,#36ab7a 554px,#249a88 555px,#218e8d 557px,#21918c 607px)"></i>
<i style="height:2px;background:linear-gradient(90deg,#32b57a 0px,#20a386 14px,#1f9f88 32px,#1fa287 121px,#1f978b 181px,#21a685 257px,#1e9b8a 314px,#287c8e 365px,#365c8d 409px,#38578c 434px,#31688e 446px,#228c8d 458px,#20a486 464px,#37b878 469px,#66cc5d 474px,#b8de2a 480px,#d6e21c 482px,#f0e61e 484px,#fce724 486px,#fce724 499px,#f4e624 500px,#dae228 501px,#a5d63d 502px,#67c25e 503px,#3ca37a 504px,#307c86 505px,#384d7e 506px,#42226b 507px,#440a5b 508px,#440154 510px,#440254 520px,#440657 521px,#421e63 522px,#485870 523px,#72a062 524px,#c0d13f 525px,#f2e42a 526px,#fce725 527px,#fce725 534px,#f2e42a 535px,#c4ce3a 536px,#799052 537px,#4e3b59 538px,#440c56 539px,#440254 540px,#440254 544px,#440c56 545px,#48395c 546px,#718c58 547px,#c0cc3e 548px,#f1e32a 549px,#fae625 550px,#ece426 551px,#bdda36 552px,#70c45a 553px,#38ac7a 554px,#249a88 555px,#218e8d 557px,#21918c 607px)"></i>
<i style="height:2px;background:linear-gradient(90deg,#39b976 0px,#22a685 12px,#1f9f88 24px,#1fa287 121px,#1f968b 180px,#21a685 255px,#1e9c89 312px,#287d8e 364px,#365c8d 409px,#39568c 434px,#32668e 446px,#228a8d 458px,#20a287 464px,#2eb27c 468px,#56c666 473px,#a1da38 479px,#cee11f 482px,#eae41c 484px,#fce724 486px,#fde725 499px,#fae624 500px,#e8e426 501px,#bbdc34 502px,#7cca51 503px,#48af71 504px,#328a83 505px,#365d82 506px,#403072 507px,#441060 508px,#440456 509px,#440254 520px,#440557 521px,#431962 522px,#464d70 523px,#6c9464 524px,#bacc40 525px,#eee22a 526px,#fce725 527px,#fde725 534px,#f4e428 535px,#d0d334 536px,#8c9848 537px,#594052 538px,#470d54 539px,#440254 540px,#440254 544px,#430b56 545px,#47375d 546px,#6e8958 547px,#beca3e 548px,#f0e32a 549px,#fae625 550px,#eee426 551px,#c0da36 552px,#74c55a 553px,#3aac79 554px,#249b88 555px,#218e8d 557px,#21918c 607px)"></i>
<i style="height:2px;background:linear-gradient(90deg,#42be72 0px,#24aa83 11px,#1f9f88 22px,#1fa287 118px,#20948c 179px,#21a685 255px,#1e9d89 311px,#277e8e 363px,#365b8d 409px,#39568c 434px,#32648e 446px,#228c8d 459px,#20a486 465px,#30b47c 469px,#5bc864 474px,#9ad83d 479px,#d5e21c 483px,#f9e622 486px,#fde725 494px,#fce724 500px,#f0e524 501px,#cedf2c 502px,#93d246 503px,#58ba67 504px,#36977f 505px,#326c84 506px,#3c3c78 507px,#421663 508px,#440557 509px,#440154 517px,#440456 521px,#441460 522px,#45416d 523px,#628864 524px,#aac442 525px,#e5e02a 526px,#fae625 527px,#fde725 534px,#f8e526 535px,#ded62c 536px,#a49d3a 537px,#67444a 538px,#4a0e52 539px,#440254 540px,#440254 544px,#430b57 545px,#46365e 546px,#6d865a 547px,#bdc840 548px,#f0e22a 549px,#fbe625 550px,#f0e527 551px,#c4db37 552px,#77c65a 553px,#3aae79 554px,#249b87 555px,#218e8d 557px,#21918c 607px)"></i>
<i style="height:2px;background:linear-gradient(90deg,#4cc26c 0px,#26ac82 11px,#1f9f88 21px,#1fa287 116px,#20938c 179px,#21a685 255px,#1f9e89 310px,#26818e 360px,#365b8d 407px,#39558c 435px,#32668e 447px,#228a8d 459px,#20a287 465px,#2eb27c 469px,#56c666 474px,#92d742 479px,#cde11f 483px,#eae41c 485px,#fae724 487px,#fce724 500px,#f6e624 501px,#dee228 502px,#aad83c 503px,#6ac35c 504px,#3ea478 505px,#317a84 506px,#394a7c 507px,#422069 508px,#44085a 509px,#440154 511px,#440356 521px,#440e5c 522px,#443668 523px,#5a7c67 524px,#98bd4b 525px,#dadd30 526px,#f7e626 527px,#fde725 529px,#fae625 535px,#ebda27 536px,#baa334 537px,#754a49 538px,#4e1154 539px,#450354 540px,#440254 544px,#430a57 545px,#46345e 546px,#6d835c 547px,#bdc640 548px,#f0e22a 549px,#fbe725 550px,#f2e528 551px,#c8dc38 552px,#7ac759 553px,#3cae78 554px,#259c87 555px,#218e8d 557px,#21918c 607px)"></i>
<i style="height:2px;background:linear-gradient(90deg,#57c766 0px,#2ab07f 10px,#1fa287 18px,#20a287 51px,#1fa088 123px,#20928c 178px,#21a685 254px,#1f9f88 307px,#25838e 357px,#375a8c 408px,#3a548c 435px,#32648e 447px,#24888e 459px,#20a486 466px,#37b878 471px,#66cc5d 476px,#b6de2b 482px,#d4e21c 484px,#f0e51e 486px,#fce724 488px,#fde725 500px,#fae724 501px,#e9e426 502px,#bedc32 503px,#80cb4f 504px,#4ab070 505px,#328882 506px,#365a82 507px,#402c71 508px,#440e5e 509px,#440456 510px,#440254 521px,#430a58 522px,#422b64 523px,#506f6a 524px,#88b455 525px,#d0da36 526px,#f4e528 527px,#fde725 528px,#fce625 535px,#f2dc28 536px,#c5ab3a 537px,#7c5652 538px,#4f185a 539px,#450456 540px,#440254 544px,#430a57 545px,#46325f 546px,#6d805c 547px,#bdc640 548px,#f0e22a 549px,#fce725 550px,#f4e528 551px,#cadc38 552px,#7cc859 553px,#3eaf78 554px,#259c87 555px,#218e8d 557px,#21918c 607px)"></i>
<i style="height:2px;background:linear-gradient(90deg,#63cb5f 0px,#2cb27e 10px,#20a486 16px,#1f9f88 27px,#20a486 94px,#1e9c8a 133px,#20908c 180px,#21a685 254px,#1fa088 307px,#25858e 355px,#375a8c 407px,#3a548b 435px,#33628d 447px,#228a8d 460px,#20a287 466px,#2eb27c 470px,#4bc26c 474px,#84d44b 479px,#cde120 484px,#e9e41c 486px,#fae723 488px,#fce724 501px,#f1e624 502px,#d0e02b 503px,#96d244 504px,#5aba66 505px,#36967e 506px,#346a84 507px,#3d3976 508px,#431462 509px,#440456 510px,#440154 520px,#430857 522px,#412563 523px,#4a656e 524px,#7bab5d 525px,#c7d63c 526px,#f2e429 527px,#fce725 528px,#fce625 535px,#f2de2a 536px,#c4b23f 537px,#7a625a 538px,#4e205e 539px,#450656 540px,#440254 544px,#430a57 545px,#46305f 546px,#6e7e5c 547px,#bcc440 548px,#f0e12a 549px,#fbe625 550px,#f4e528 551px,#ccdd38 552px,#7ec858 553px,#3fb077 554px,#269d86 555px,#21928c 556px,#218e8d 559px,#21918c 607px)"></i>
<i style="height:2px;background:linear-gradient(90deg,#70ce57 0px,#30b47c 10px,#21a586 16px,#1f9f88 28px,#20a486 95px,#1e9c8a 131px,#218e8d 179px,#21a685 253px,#1fa188 305px,#24868e 355px,#37598c 407px,#3a538b 436px,#32648e 448px,#24888e 460px,#20a486 467px,#30b47c 471px,#50c46a 475px,#8ad646 480px,#d4e21d 485px,#f0e51e 487px,#fce724 489px,#fce724 501px,#f7e624 502px,#e0e228 503px,#add83a 504px,#6dc35b 505px,#3ea378 506px,#327884 507px,#3a467b 508px,#421c66 509px,#440758 510px,#440154 513px,#440254 521px,#430657 522px,#412063 523px,#465c70 524px,#72a262 525px,#c0d23f 526px,#f2e42a 527px,#fce725 528px,#fce625 535px,#f2de2a 536px,#c2b840 537px,#766c5c 538px,#4c265f 539px,#440857 540px,#440154 542px,#440254 544px,#430957 545px,#472e5f 546px,#6c7a5b 547px,#b8c13e 548px,#eee028 549px,#fbe625 550px,#f4e528 551px,#ccdd38 552px,#80c958 553px,#40b076 554px,#269d86 555px,#218e8d 557px,#21918c 607px)"></i>
<i style="height:2px;background:linear-gradient(90deg,#7cd250 0px,#57c666 5px,#32b67a 10px,#21a685 16px,#1f9f88 26px,#20a486 88px,#1e9d89 127px,#228d8d 175px,#1f9f88 228px,#22a785 270px,#1e9b8a 321px,#287e8e 364px,#38588c 408px,#3a528b 435px,#34608d 447px,#24868e 460px,#20a287 467px,#2eb27c 471px,#4bc26c 475px,#84d44b 480px,#cce020 485px,#e8e41c 487px,#fae723 489px,#fae724 502px,#ebe426 503px,#c1dd31 504px,#82cc4e 505px,#4aae70 506px,#348682 507px,#37567f 508px,#40286d 509px,#440c5c 510px,#440356 511px,#440254 521px,#440657 522px,#421c63 523px,#445271 524px,#6b9864 525px,#bace40 526px,#eee22a 527px,#fce725 528px,#fce725 535px,#f1e02b 536px,#c0be41 537px,#72755d 538px,#482b5f 539px,#440857 540px,#440154 542px,#440254 544px,#430957 545px,#472c5f 546px,#6a775a 547px,#b5be3c 548px,#eae028 549px,#fae625 550px,#f4e528 551px,#cddd37 552px,#82ca56 553px,#41b176 554px,#269e86 555px,#218e8d 557px,#21918c 607px)"></i>
<i style="height:2px;background:linear-gradient(90deg,#87d449 0px,#68cc5c 4px,#35b778 10px,#23a884 15px,#1f9f88 25px,#21a586 87px,#1e9c89 127px,#228c8d 175px,#1e9d89 225px,#22a785 262px,#1f9f88 313px,#25838e 358px,#38578c 408px,#3a528b 436px,#34628d 448px,#24888e 461px,#1fa088 467px,#30b47c 472px,#5ac864 477px,#98d83e 482px,#d3e21e 486px,#eee51e 488px,#fce724 490px,#fce724 502px,#f2e624 503px,#d4e02c 504px,#99d244 505px,#5aba66 506px,#38947e 507px,#346482 508px,#3e3474 509px,#441260 510px,#440456 511px,#440254 521px,#440557 522px,#431862 523px,#444970 524px,#638e66 525px,#acc840 526px,#e6e02a 527px,#fae625 528px,#fde725 534px,#fce725 535px,#f1e12b 536px,#bec340 537px,#6e7d5c 538px,#47305f 539px,#430a57 540px,#440254 541px,#440254 544px,#430957 545px,#472b5f 546px,#68745a 547px,#b1bc3c 548px,#e8df28 549px,#fae625 550px,#f4e528 551px,#cede37 552px,#82ca56 553px,#42b275 554px,#269e86 555px,#218e8d 557px,#21918c 607px)"></i>
<i style="height:2px;background:linear-gradient(90deg,#92d842 0px,#6fce58 4px,#38b878 10px,#23a984 15px,#1f9f88 25px,#21a685 83px,#1e9c89 126px,#238a8d 173px,#1f9a8a 221px,#21a685 255px,#20a287 304px,#23888e 353px,#38578c 407px,#3a528b 437px,#33628d 449px,#228a8d 462px,#20a287 468px,#2eb27d 472px,#4ac26c 476px,#83d44c 481px,#cbe020 486px,#e8e41c 488px,#fae723 490px,#fde725 502px,#f8e625 503px,#e2e229 504px,#afd83a 505px,#6ec25a 506px,#3ea078 507px,#337483 508px,#3c4078 509px,#421864 510px,#440657 511px,#440154 517px,#440456 522px,#441360 523px,#44406e 524px,#5b8469 525px,#9cc148 526px,#dcde2e 527px,#f8e626 528px,#fde725 530px,#fce725 535px,#f0e22a 536px,#bdc840 537px,#6e845a 538px,#46345e 539px,#430a57 540px,#440254 541px,#440254 544px,#430857 545px,#472a5f 546px,#66715c 547px,#adba3e 548px,#e6de29 549px,#f9e625 550px,#f4e528 551px,#cede36 552px,#84cb55 553px,#43b274 554px,#279e85 555px,#218e8d 557px,#21918c 607px)"></i>
<i style="height:2px;background:linear-gradient(90deg,#9ad83c 0px,#80d34d 3px,#42be72 9px,#29af80 13px,#1fa287 19px,#1fa287 38px,#21a685 89px,#1e9b8a 127px,#24888e 173px,#1f988b 218px,#21a685 253px,#20a486 299px,#218e8d 346px,#39568c 408px,#3b528b 437px,#34628d 449px,#228c8d 463px,#21a486 469px,#30b47c 473px,#59c864 478px,#97d83e 483px,#d1e21e 487px,#eee51e 489px,#fce724 491px,#fae724 503px,#ece426 504px,#c3dd30 505px,#82cb4e 506px,#4aac70 507px,#348282 508px,#384e7c 509px,#412068 510px,#440859 511px,#440154 513px,#440356 522px,#440f5d 523px,#42366b 524px,#547a6c 525px,#8eba52 526px,#d3dc34 527px,#f6e628 528px,#fde725 529px,#fce725 535px,#f1e32a 536px,#c0cc3e 537px,#728c57 538px,#49395c 539px,#440c56 540px,#440254 541px,#440254 544px,#440857 545px,#47285f 546px,#666e5c 547px,#a9b840 548px,#e3de2a 549px,#f8e625 550px,#f5e628 551px,#d0de36 552px,#86cc54 553px,#44b374 554px,#279f85 555px,#21938b 556px,#228d8d 558px,#21918c 574px,#21918c 607px)"></i>
<i style="height:2px;background:linear-gradient(90deg,#a0da38 0px,#85d44a 3px,#43be71 9px,#2aaf7f 13px,#1fa287 19px,#1fa088 33px,#22a784 79px,#1e9c8a 125px,#24868e 169px,#228b8d 195px,#20a486 246px,#22a785 291px,#1f958c 336px,#2a798e 369px,#39558c 409px,#3a528b 438px,#32658e 451px,#20928c 465px,#22a684 470px,#33b67a 474px,#5ec862 479px,#9dda3a 484px,#d8e21c 488px,#f2e620 490px,#fde724 492px,#fce724 503px,#f4e624 504px,#d5e02c 505px,#9ad244 506px,#5ab866 507px,#38907e 508px,#365e80 509px,#402d70 510px,#440e5e 511px,#440456 512px,#440255 522px,#440b5a 523px,#422d66 524px,#4d706e 525px,#82b358 526px,#ccd939 527px,#f4e528 528px,#fde725 529px,#fce725 535px,#f2e429 536px,#c6d03a 537px,#7c9252 538px,#4e3c58 539px,#450c56 540px,#440254 541px,#440254 544px,#440857 545px,#472660 546px,#646c5e 547px,#a5b644 548px,#e0dc2c 549px,#f8e626 550px,#f5e628 551px,#d0de35 552px,#88cc53 553px,#46b473 554px,#289f85 555px,#21938b 556px,#228d8d 558px,#21918c 574px,#21918c 607px)"></i>
<i style="height:2px;background:linear-gradient(90deg,#a4da36 0px,#88d548 3px,#44bf70 9px,#2aaf7f 13px,#20a387 18px,#1f9f88 28px,#22a884 73px,#1e9c89 124px,#25848e 168px,#23888e 194px,#20a386 243px,#22a884 289px,#1f968b 335px,#287d8e 365px,#39558c 408px,#3b528b 438px,#32648e 451px,#20948b 466px,#24a884 471px,#36b878 475px,#62ca5f 480px,#c1df25 487px,#dfe31c 489px,#f6e620 491px,#fde725 494px,#fde725 503px,#f8e625 504px,#e2e229 505px,#afd83a 506px,#6cc15b 507px,#3e9c79 508px,#346c82 509px,#3d3a76 510px,#431462 511px,#440456 512px,#440254 522px,#430858 523px,#402664 524px,#48676e 525px,#79ac5e 526px,#c6d63c 527px,#f2e429 528px,#fce725 529px,#fde725 535px,#f4e428 536px,#cdd236 537px,#88964a 538px,#564054 539px,#460d54 540px,#440254 541px,#440254 544px,#440757 545px,#472460 546px,#626860 547px,#a1b446 548px,#dedc2e 549px,#f7e626 550px,#f5e628 551px,#d1de35 552px,#88cc52 553px,#46b472 554px,#28a084 555px,#21948b 556px,#218e8d 559px,#21918c 607px)"></i>
<i style="height:2px;background:linear-gradient(90deg,#a4db36 0px,#94d741 2px,#44bf70 9px,#2aaf7f 13px,#20a387 18px,#1f9e89 27px,#23a884 66px,#1f9e89 121px,#24868e 160px,#26828e 184px,#20a287 241px,#23a984 285px,#1e9b8a 328px,#27808e 363px,#39558c 407px,#3b528b 437px,#34608d 449px,#25848e 462px,#20a286 470px,#2db27e 474px,#53c468 479px,#8ed644 484px,#c8e021 488px,#e5e41c 490px,#fae622 492px,#fde725 503px,#fae724 504px,#ece426 505px,#c2dc31 506px,#81ca50 507px,#49a972 508px,#357a82 509px,#3a4679 510px,#421a64 511px,#440658 512px,#440154 518px,#440254 522px,#430757 523px,#402264 524px,#456071 525px,#72a462 526px,#c0d23e 527px,#f2e42a 528px,#fce725 529px,#fde725 535px,#f6e527 536px,#d6d630 537px,#969c42 538px,#5f4450 539px,#480e54 540px,#440254 541px,#440254 544px,#440757 545px,#472360 546px,#606662 547px,#9db249 548px,#dbdb30 549px,#f6e626 550px,#f5e628 551px,#d2df34 552px,#8acd52 553px,#47b472 554px,#28a084 555px,#21948b 556px,#218e8d 559px,#21918c 607px)"></i>
<i style="height:2px;background:linear-gradient(90deg,#a0da38 0px,#86d44a 3px,#42be71 9px,#29af80 13px,#1fa188 19px,#1fa187 33px,#24aa83 71px,#1e9c8a 123px,#25848e 160px,#26808e 184px,#1fa088 237px,#24aa83 282px,#1e9d89 325px,#26818e 362px,#3a548c 407px,#3b528b 438px,#34618d 450px,#24868e 463px,#20a188 470px,#30b47c 475px,#58c666 480px,#94d840 485px,#cee11e 489px,#ebe41c 491px,#fce724 493px,#fce724 504px,#f4e624 505px,#d4e02c 506px,#98d146 507px,#58b468 508px,#38887e 509px,#38547c 510px,#402369 511px,#44095a 512px,#440154 514px,#440254 522px,#440657 523px,#411f64 524px,#435872 525px,#6a9e64 526px,#b8cf3e 527px,#eee228 528px,#fce725 529px,#fde725 535px,#f8e626 536px,#ded82c 537px,#a4a33e 538px,#684c52 539px,#4b1457 540px,#450455 541px,#440254 544px,#440657 545px,#472260 546px,#5e6262 547px,#99b04c 548px,#d8da32 549px,#f6e527 550px,#f5e628 551px,#d2df34 552px,#48b571 554px,#28a084 555px,#21948b 556px,#218e8d 559px,#21918c 607px)"></i>
<i style="height:2px;background:linear-gradient(90deg,#9bd93c 0px,#76d054 4px,#40bd72 9px,#28ae80 13px,#1fa088 19px,#1fa187 33px,#24aa82 66px,#1fa287 109px,#20948c 132px,#277e8e 168px,#26808e 189px,#1fa287 242px,#24aa83 284px,#1e9e89 326px,#26828e 361px,#3a538b 408px,#3a538b 440px,#31668e 453px,#1f988b 468px,#24aa82 473px,#41be72 478px,#74d055 483px,#d5e21c 490px,#f0e61e 492px,#fce724 494px,#fde725 504px,#f8e625 505px,#e2e229 506px,#acd73c 507px,#6abe5e 508px,#3d967a 509px,#366380 510px,#3e3070 511px,#44105e 512px,#440456 513px,#440254 522px,#440657 523px,#421c63 524px,#425272 525px,#629665 526px,#acca40 527px,#e6e228 528px,#fae625 529px,#fde725 535px,#fae625 536px,#e5da29 537px,#b0aa3c 538px,#6f5756 539px,#4c1a5a 540px,#450456 541px,#440254 544px,#440657 545px,#472060 546px,#5c6064 547px,#96ad4e 548px,#d6da33 549px,#f6e527 550px,#f5e627 551px,#d3df34 552px,#8cce50 553px,#49b670 554px,#29a084 555px,#22948b 556px,#218e8d 559px,#21918c 607px)"></i>
<i style="height:2px;background:linear-gradient(90deg,#94d841 0px,#70ce57 4px,#3ebc74 9px,#27ad81 13px,#1f9e89 21px,#25ab82 66px,#1fa287 109px,#21908c 135px,#287c8e 170px,#26808e 194px,#1fa287 243px,#25ab82 285px,#1f9e88 325px,#25838e 360px,#3a538b 407px,#3a538b 440px,#32668e 453px,#20928c 467px,#24a884 473px,#36b878 477px,#62ca60 482px,#a1da38 487px,#cde11f 490px,#eae41c 492px,#fae724 494px,#fae724 505px,#ebe426 506px,#c0dc32 507px,#7cc752 508px,#46a374 509px,#367281 510px,#3c3c76 511px,#421562 512px,#440456 513px,#440254 522px,#440557 523px,#421962 524px,#424a72 525px,#5a8e69 526px,#9fc646 527px,#dee02c 528px,#f8e626 529px,#fde725 532px,#fbe625 536px,#ecdc28 537px,#b9b03c 538px,#736058 539px,#4c1f5d 540px,#450656 541px,#440254 544px,#440657 545px,#471e60 546px,#5c5e64 547px,#92aa50 548px,#d4d834 549px,#f5e528 550px,#f5e627 551px,#d4df33 552px,#8ece4f 553px,#4ab670 554px,#29a184 555px,#22948b 556px,#218e8d 559px,#21918c 607px)"></i>
<i style="height:2px;background:linear-gradient(90deg,#89d647 0px,#72d056 3px,#3aba76 9px,#26ac82 13px,#1f9e89 20px,#20a486 36px,#26ac82 71px,#1f9e89 118px,#287e8e 159px,#297a8e 184px,#1f968b 226px,#23a984 260px,#23a984 304px,#20938c 343px,#29798e 369px,#3b528b 408px,#3b528b 438px,#34618d 451px,#238a8d 465px,#20a386 472px,#2eb27d 476px,#52c468 481px,#8cd646 486px,#d5e21c 491px,#f0e51e 493px,#fce724 495px,#fce724 505px,#f2e625 506px,#d1df2e 507px,#92ce48 508px,#54ae6c 509px,#38807f 510px,#3a4878 511px,#421a64 512px,#440657 513px,#440154 519px,#440456 523px,#431662 524px,#424472 525px,#56876d 526px,#94c04e 527px,#d8de31 528px,#f6e626 529px,#fde725 530px,#fce625 536px,#f0de2a 537px,#c0b63f 538px,#76685b 539px,#4c235e 540px,#440757 541px,#440154 543px,#440657 545px,#471e60 546px,#5a5a66 547px,#8ea852 548px,#d2d836 549px,#f4e528 550px,#f5e627 551px,#d4df33 552px,#8ece4e 553px,#4bb66f 554px,#2aa183 555px,#22948b 556px,#218e8d 559px,#21918c 607px)"></i>
<i style="height:2px;background:linear-gradient(90deg,#7dd24f 0px,#60c961 4px,#36b878 9px,#22a884 14px,#1e9c89 22px,#26ad81 59px,#22a785 98px,#1f978b 125px,#297a8e 161px,#2a778e 183px,#21908c 221px,#21a586 250px,#26ac81 290px,#1f9e88 328px,#26828e 361px,#3a528b 405px,#3c508b 430px,#375a8c 447px,#2a788e 460px,#1f9e88 471px,#2cb07e 476px,#45c070 480px,#78d152 485px,#cde11f 491px,#e9e41c 493px,#fae723 495px,#fde725 505px,#f8e625 506px,#e0e22b 507px,#a7d440 508px,#64ba62 509px,#3c8e7c 510px,#38567b 511px,#402368 512px,#44095a 513px,#440154 515px,#440456 523px,#441260 524px,#423c70 525px,#517f70 526px,#8abc54 527px,#d2dc35 528px,#f6e628 529px,#fde725 530px,#fce625 536px,#f1df2a 537px,#c1ba41 538px,#746e5d 539px,#4a275f 540px,#440857 541px,#440154 543px,#440657 545px,#471c60 546px,#585866 547px,#8ba654 548px,#d0d637 549px,#f4e528 550px,#f5e627 551px,#d5e032 552px,#90cf4e 553px,#4cb76e 554px,#2aa183 555px,#22948b 556px,#218e8d 559px,#21918c 607px)"></i>
<i style="height:2px;background:linear-gradient(90deg,#70cf57 0px,#56c666 4px,#2cb27e 10px,#1fa287 16px,#1e9d89 25px,#28ae80 56px,#24aa83 94px,#1f968b 125px,#2a788e 160px,#2b748e 183px,#218f8d 221px,#21a685 251px,#28ae80 289px,#1fa287 325px,#25848e 360px,#3b528b 405px,#3c508b 431px,#365b8d 448px,#297a8e 461px,#1fa088 472px,#2eb27c 477px,#52c468 482px,#7fd24e 486px,#d4e21c 492px,#eee51e 494px,#fce724 496px,#fae724 506px,#e9e427 507px,#bada36 508px,#75c256 509px,#429a76 510px,#37657e 511px,#3e3070 512px,#440e5e 513px,#440456 514px,#440356 523px,#44105e 524px,#42366d 525px,#4d7871 526px,#82b659 527px,#ccda38 528px,#f4e528 529px,#fde725 530px,#fce725 536px,#f1e02b 537px,#c0be41 538px,#72745d 539px,#492a5f 540px,#440857 541px,#440154 543px,#440557 545px,#471a60 546px,#565666 547px,#88a455 548px,#ced638 549px,#f4e528 550px,#f5e627 551px,#d5e032 552px,#90cf4d 553px,#4cb76e 554px,#2aa283 555px,#22958b 556px,#228d8d 558px,#21918c 578px,#21918c 607px)"></i>
<i style="height:2px;background:linear-gradient(90deg,#62ca5f 0px,#2db27d 9px,#20a287 15px,#1e9c89 24px,#28ae80 53px,#27ad81 86px,#1f9a8a 122px,#297a8e 155px,#2c718e 180px,#23898e 216px,#20a287 245px,#29af80 281px,#21a685 319px,#218e8d 351px,#3b518b 405px,#3c4e8a 427px,#375a8c 447px,#2c738e 459px,#1f9e88 472px,#2cb07e 477px,#4ec36a 482px,#86d44a 487px,#cde120 492px,#e8e41c 494px,#fae723 496px,#fce724 506px,#f0e525 507px,#ccde2f 508px,#89ca4d 509px,#4da770 510px,#38747f 511px,#3d3d75 512px,#421462 513px,#440456 514px,#440154 522px,#440355 523px,#440c5c 524px,#41306a 525px,#497072 526px,#7cb15d 527px,#c8d83c 528px,#f3e529 529px,#fce725 530px,#fce725 536px,#f1e02b 537px,#bec041 538px,#70785d 539px,#482d5f 540px,#430957 541px,#440154 543px,#440556 545px,#471a5f 546px,#565466 547px,#86a256 548px,#ccd539 549px,#f3e429 550px,#f6e627 551px,#d6e032 552px,#92d04c 553px,#4db86e 554px,#2aa283 555px,#22958a 556px,#228d8d 558px,#21918c 578px,#21918c 607px)"></i>
<i style="height:2px;background:linear-gradient(90deg,#54c667 0px,#26ac82 10px,#1e9d89 18px,#1f9f88 28px,#2ab07f 52px,#2ab07f 83px,#1e9b8a 120px,#2a768e 156px,#2e6e8e 181px,#24888e 216px,#1fa287 245px,#2ab07f 281px,#22a784 319px,#20918c 348px,#3c508b 405px,#3d4e8a 426px,#365b8d 448px,#2a788e 461px,#1fa188 473px,#2eb27c 478px,#53c568 483px,#9ad83d 489px,#d4e21c 493px,#eee51e 495px,#fce724 497px,#fce725 506px,#f6e625 507px,#dae12c 508px,#9ed244 509px,#5bb268 510px,#3a827e 511px,#3a4978 512px,#421a64 513px,#440657 514px,#440154 520px,#440255 523px,#430a59 524px,#402a66 525px,#466971 526px,#76ac60 527px,#c4d63e 528px,#f2e429 529px,#fce725 530px,#fce725 536px,#f1e12b 537px,#bec341 538px,#6e7d5c 539px,#47305f 540px,#430a57 541px,#440254 542px,#440556 545px,#46185f 546px,#545267 547px,#84a058 548px,#cad43a 549px,#f3e429 550px,#f6e627 551px,#d6e032 552px,#92d04c 553px,#4eb86d 554px,#2ba282 555px,#22958a 556px,#228d8d 558px,#21918c 578px,#21918c 607px)"></i>
<i style="height:2px;background:linear-gradient(90deg,#48c06e 0px,#24aa84 10px,#1e9a8a 20px,#26ac82 42px,#2eb37c 68px,#22a884 100px,#1f968b 124px,#2c748e 157px,#2e6c8e 181px,#25848e 215px,#1fa287 245px,#2cb17e 280px,#24aa83 316px,#1f948c 345px,#3c4f8a 405px,#3d4c8a 425px,#375b8d 448px,#2a778e 461px,#1fa088 473px,#2cb17e 478px,#46c070 482px,#7ad251 487px,#cde11f 493px,#e9e41c 495px,#fae723 497px,#fde725 506px,#fae625 507px,#e4e329 508px,#b0d73a 509px,#6bbc5e 510px,#3e8e79 511px,#38567a 512px,#402266 513px,#440858 514px,#440154 516px,#440254 523px,#430858 524px,#402464 525px,#446271 526px,#70a662 527px,#bed33e 528px,#f0e428 529px,#fce725 530px,#fce725 536px,#f0e22a 537px,#bdc640 538px,#6e815c 539px,#46325f 540px,#430a57 541px,#440254 542px,#440556 545px,#46185f 546px,#535067 547px,#819e58 548px,#c8d43a 549px,#f2e429 550px,#f6e627 551px,#d7e031 552px,#93d04c 553px,#4eb86d 554px,#2ba282 555px,#22958a 556px,#228d8d 558px,#21918c 578px,#21918c 607px)"></i>
<i style="height:2px;background:linear-gradient(90deg,#3cba74 0px,#22a684 10px,#1f9a8a 20px,#24aa83 38px,#30b47c 63px,#2ab07f 89px,#1e9c89 119px,#2c748e 154px,#30688e 179px,#26808e 212px,#1fa188 243px,#2cb27d 278px,#28ae80 309px,#1f9a8a 339px,#297a8e 367px,#3c4e8a 405px,#3d4c8a 426px,#365c8d 449px,#297a8e 462px,#1f9e88 473px,#2ab07e 478px,#4bc26c 483px,#80d34d 488px,#d4e21c 494px,#f0e51e 496px,#fce724 498px,#fae724 507px,#ece426 508px,#c2db32 509px,#7cc454 510px,#469c74 511px,#38647c 512px,#3f2e6e 513px,#440e5c 514px,#440356 515px,#440254 523px,#430757 524px,#402264 525px,#425e72 526px,#68a262 527px,#b5d03c 528px,#ebe228 529px,#fbe725 530px,#fce725 536px,#f0e22a 537px,#bdc840 538px,#6d845b 539px,#46345e 540px,#430b57 541px,#440254 542px,#440456 545px,#46175e 546px,#524e66 547px,#7e9d59 548px,#c7d33b 549px,#f2e429 550px,#f6e627 551px,#d7e031 552px,#94d04b 553px,#4fb96c 554px,#2ba382 555px,#22958a 556px,#228d8d 558px,#21918c 578px,#21918c 607px)"></i>
<i style="height:2px;background:linear-gradient(90deg,#32b67a 0px,#1fa088 12px,#1f9a8a 22px,#25ac82 38px,#33b67a 63px,#2cb27e 87px,#1f9f88 115px,#2c748e 151px,#32668e 179px,#277e8e 212px,#1fa187 244px,#2eb47c 278px,#2ab07e 309px,#1e9b8a 339px,#277f8e 364px,#3d4d8a 404px,#3e4a89 425px,#365c8d 449px,#287c8e 463px,#1fa088 474px,#2eb27d 479px,#50c46a 484px,#94d840 490px,#cee11e 494px,#eae41c 496px,#fae723 498px,#fce724 507px,#f4e625 508px,#d2df2e 509px,#90cc4b 510px,#51a86e 511px,#3a727e 512px,#3e3a74 513px,#431461 514px,#440456 515px,#440254 523px,#430757 524px,#402064 525px,#405972 526px,#629c64 527px,#accd3e 528px,#e6e228 529px,#fae625 530px,#fce725 536px,#f1e22a 537px,#beca3f 538px,#6e885a 539px,#46365d 540px,#430b56 541px,#440254 542px,#440456 545px,#46165e 546px,#504c66 547px,#7c9c5a 548px,#c6d23c 549px,#f2e429 550px,#f6e627 551px,#d8e031 552px,#95d04a 553px,#50b96c 554px,#2ba382 555px,#22958a 556px,#228d8d 558px,#21918c 578px,#21918c 607px)"></i>
<i style="height:2px;background:linear-gradient(90deg,#2ab07f 0px,#1e9c8a 14px,#1e9b8a 24px,#2ab07e 43px,#36b878 64px,#2eb37c 87px,#1fa088 113px,#26808e 138px,#32668e 167px,#32648e 183px,#26808e 215px,#1fa188 243px,#30b47c 277px,#2eb27d 307px,#1e9c8a 339px,#287c8e 366px,#3e4b8a 405px,#3e4a89 425px,#365c8d 449px,#287c8e 463px,#1fa088 474px,#2cb07e 479px,#4dc26c 484px,#82d44c 489px,#d6e21c 495px,#f0e61e 497px,#fce724 499px,#fde725 507px,#f8e626 508px,#dee22c 509px,#a2d242 510px,#5eb266 511px,#3c807c 512px,#3c4678 513px,#421964 514px,#440657 515px,#440154 521px,#440657 524px,#411e64 525px,#405473 526px,#5d9867 527px,#a4ca42 528px,#e2e12a 529px,#f9e625 530px,#fde725 534px,#fce725 536px,#f1e32a 537px,#becc3e 538px,#708b58 539px,#48385c 540px,#440c56 541px,#440254 542px,#440456 545px,#46155e 546px,#504a66 547px,#7b9a5a 548px,#c5d23c 549px,#f2e429 550px,#f6e627 551px,#d8e030 552px,#96d14a 553px,#50b96c 554px,#2ca382 555px,#22958a 556px,#228d8d 558px,#21918c 578px,#21918c 607px)"></i>
<i style="height:2px;background:linear-gradient(90deg,#24aa83 0px,#1f988b 18px,#24aa83 35px,#38b878 56px,#36b878 80px,#1fa187 112px,#238a8d 130px,#306a8e 158px,#34608d 179px,#287a8e 212px,#1fa088 242px,#30b47b 274px,#34b67a 296px,#22a884 326px,#1f948c 347px,#3c508b 398px,#404688 416px,#3a548c 441px,#31678e 455px,#218e8d 469px,#21a586 476px,#34b679 481px,#5cc863 486px,#96d83f 491px,#d0e11e 495px,#ebe41c 497px,#fce724 499px,#fde725 507px,#fae625 508px,#e6e428 509px,#b2d739 510px,#6dbc5c 511px,#408d78 512px,#385278 513px,#401e64 514px,#430658 515px,#440154 518px,#440254 523px,#440657 524px,#421c63 525px,#405074 526px,#59926a 527px,#9dc747 528px,#dde02d 529px,#f8e626 530px,#fde725 532px,#fce725 536px,#f2e32a 537px,#c1ce3c 538px,#748f56 539px,#4b3c5c 540px,#440c56 541px,#440254 542px,#440456 545px,#46145d 546px,#4e4a66 547px,#7a985b 548px,#c4d13c 549px,#f2e42a 550px,#f6e627 551px,#d8e030 552px,#96d14a 553px,#51b96b 554px,#2ca382 555px,#22958a 556px,#228d8d 558px,#21918c 578px,#21918c 607px)"></i>
<i style="height:2px;background:linear-gradient(90deg,#20a486 0px,#1f978b 18px,#23a983 34px,#39ba76 53px,#3cba74 75px,#25ab82 101px,#1f988b 121px,#2e6c8e 152px,#365c8d 177px,#2a788e 211px,#1f9f88 242px,#32b67a 272px,#37b878 293px,#28ae80 319px,#1e9c8a 341px,#2a788e 368px,#3f4889 405px,#3f4889 426px,#34618d 452px,#25848e 466px,#1fa088 475px,#2cb27e 480px,#4ec46a 485px,#84d44b 490px,#c9e020 495px,#e4e41b 497px,#f9e622 499px,#fde725 507px,#fbe724 508px,#eee426 509px,#c3db32 510px,#7ec453 511px,#469974 512px,#385f7a 513px,#3f286a 514px,#440a5a 515px,#440255 516px,#440254 523px,#440557 524px,#421a63 525px,#404b73 526px,#568e6c 527px,#96c44b 528px,#dade30 529px,#f7e626 530px,#fde725 532px,#fce725 536px,#f2e429 537px,#c4d03c 538px,#7a9456 539px,#4e425f 540px,#461059 541px,#440355 542px,#440456 545px,#45145d 546px,#4e4866 547px,#78985b 548px,#c3d03d 549px,#f1e42a 550px,#f6e627 551px,#d8e030 552px,#96d14a 553px,#52ba6b 554px,#2ca482 555px,#22968a 556px,#228d8d 558px,#21918c 578px,#21918c 607px)"></i>
<i style="height:2px;background:linear-gradient(90deg,#1f9f88 0px,#1f968b 19px,#24aa83 34px,#3aba76 51px,#41be72 69px,#32b67a 90px,#20a386 110px,#218e8d 126px,#32668e 156px,#38598c 177px,#2b748e 210px,#1f9e89 241px,#2cb17e 262px,#3aba76 287px,#30b47c 314px,#1f9f88 338px,#26818e 362px,#3f4888 404px,#3f4888 426px,#33638d 453px,#24868e 467px,#20a386 476px,#30b47c 481px,#53c668 486px,#8ad647 491px,#d0e21e 496px,#ebe51c 498px,#fbe724 500px,#fce724 508px,#f4e626 509px,#d2df30 510px,#90cc4c 511px,#50a46e 512px,#3a6e7c 513px,#3e3470 514px,#44105f 515px,#440456 516px,#440254 523px,#440557 524px,#421862 525px,#404773 526px,#53896e 527px,#91c14f 528px,#d6de32 529px,#f6e627 530px,#fde725 531px,#fce725 536px,#f3e429 537px,#c7d23a 538px,#7f9a56 539px,#524862 540px,#46145c 541px,#440456 542px,#440456 545px,#45145d 546px,#4d4766 547px,#77965c 548px,#c2d03d 549px,#f1e42a 550px,#f6e627 551px,#d9e130 552px,#97d149 553px,#52ba6a 554px,#2ca481 555px,#22968a 556px,#228d8d 558px,#21918c 578px,#21918c 607px)"></i>
<i style="height:2px;background:linear-gradient(90deg,#1f9a8a 0px,#1f968b 20px,#24a983 33px,#3ebc74 51px,#45c070 69px,#38b878 88px,#20a486 110px,#228c8d 127px,#32658e 155px,#39568c 177px,#2c728e 209px,#1f9e89 241px,#2ab07f 259px,#3cbc74 283px,#3aba76 303px,#23a884 330px,#1f958c 348px,#3b508b 395px,#414387 412px,#3e4b8a 430px,#33638d 453px,#24868e 467px,#20a287 476px,#2eb27c 481px,#50c46a 486px,#79d152 490px,#cae020 496px,#e4e41b 498px,#f8e622 500px,#fde725 506px,#fde725 508px,#f8e626 509px,#dde22d 510px,#a0d244 511px,#5cb067 512px,#3c7b7c 513px,#3c4076 514px,#421662 515px,#440457 516px,#440154 523px,#440456 524px,#431662 525px,#414272 526px,#508470 527px,#8cbe53 528px,#d2dc34 529px,#f6e627 530px,#fde725 531px,#fde725 536px,#f4e429 537px,#cad43a 538px,#849e56 539px,#544e64 540px,#47165e 541px,#440456 542px,#440456 545px,#45135d 546px,#4c4666 547px,#76965c 548px,#c2cf3e 549px,#f1e32a 550px,#f6e627 551px,#d9e130 552px,#97d149 553px,#52ba6a 554px,#2ca481 555px,#22968a 556px,#228d8d 558px,#21918c 578px,#21918c 607px)"></i>
<i style="height:2px;background:linear-gradient(90deg,#20958c 0px,#1f968b 20px,#23a884 32px,#3ebc74 48px,#49c26e 63px,#43be72 81px,#21a586 109px,#218f8d 125px,#32648e 154px,#3a528b 176px,#31668e 202px,#1f9b8a 239px,#27ad81 255px,#40bc72 282px,#3dbc74 303px,#23a884 331px,#20948c 349px,#3b508b 394px,#414286 411px,#3f4989 429px,#32658e 454px,#228c8d 469px,#20a486 477px,#36b878 483px,#68cc5c 489px,#b4de2c 495px,#dee31b 498px,#f4e620 500px,#fde724 502px,#fae625 509px,#e4e329 510px,#b0d63b 511px,#6ab85e 512px,#408779 513px,#3a4c78 514px,#401b64 515px,#440657 516px,#440154 520px,#440456 524px,#431460 525px,#413e71 526px,#4e8072 527px,#87bb56 528px,#d0dc36 529px,#f5e528 530px,#fde725 531px,#fde725 536px,#f4e528 537px,#ced638 538px,#89a354 539px,#585465 540px,#471a5f 541px,#440556 542px,#440154 544px,#440456 545px,#45135d 546px,#4c4666 547px,#75955c 548px,#c1cf3e 549px,#f1e32a 550px,#f6e627 551px,#d9e130 552px,#97d149 553px,#52ba6a 554px,#2ca481 555px,#22968a 556px,#228d8d 558px,#21918c 578px,#21918c 607px)"></i>
<i style="height:2px;background:linear-gradient(90deg,#20908c 0px,#1f968b 21px,#24a983 32px,#3ebc74 46px,#4ec26b 60px,#4ac26e 78px,#28ae80 102px,#1e9c89 117px,#2e6e8e 144px,#3a528b 170px,#3a528b 183px,#2b748e 214px,#1f9e89 242px,#2bb07e 258px,#43be70 283px,#41be72 302px,#2bb07e 324px,#1e9c89 343px,#2f6c8e 375px,#414487 405px,#414387 423px,#32658e 454px,#20918c 471px,#22a685 478px,#34b778 483px,#5ac864 488px,#92d742 493px,#c8e021 497px,#e3e41b 499px,#f8e622 501px,#fde725 506px,#fae724 509px,#ece426 510px,#beda34 511px,#78c056 512px,#449375 513px,#395678 514px,#402066 515px,#430858 516px,#440154 518px,#440456 524px,#44125f 525px,#413a70 526px,#4c7b72 527px,#83b859 528px,#ccda38 529px,#f4e528 530px,#fde725 531px,#fde725 536px,#f5e528 537px,#d0d736 538px,#8ea752 539px,#5a5865 540px,#471c60 541px,#440657 542px,#440154 544px,#440456 545px,#45135d 546px,#4b4666 547px,#74945d 548px,#c0cf3e 549px,#f1e32a 550px,#f6e627 551px,#d9e130 552px,#97d149 553px,#52ba6a 554px,#2ca481 555px,#22968a 556px,#228d8d 558px,#21918c 578px,#21918c 607px)"></i>
<i style="height:2px;background:linear-gradient(90deg,#228c8d 0px,#1f968b 21px,#24aa83 32px,#42be72 46px,#52c468 60px,#4fc46a 77px,#32b67a 96px,#20a486 111px,#228c8d 126px,#355e8d 154px,#3e4c8a 176px,#365e8d 198px,#1f988a 238px,#25ab82 252px,#45c070 279px,#47c06e 297px,#38b878 316px,#1fa287 339px,#25848e 360px,#404688 401px,#424086 417px,#3e4b89 431px,#31688e 455px,#1f968b 473px,#26ac82 480px,#40bc73 485px,#69cc5b 490px,#cfe11e 498px,#e8e41c 500px,#fae722 502px,#fce724 509px,#f2e525 510px,#ccde30 511px,#87c84f 512px,#4c9e70 513px,#39627a 514px,#3f2a6a 515px,#440b5b 516px,#440255 517px,#440356 524px,#44105e 525px,#41366e 526px,#4a7773 527px,#7fb55c 528px,#cad93a 529px,#f4e528 530px,#fde725 531px,#fde725 536px,#f6e527 537px,#d4d834 538px,#92aa50 539px,#5c5d64 540px,#471e60 541px,#440657 542px,#440154 544px,#440456 545px,#45135d 546px,#4b4567 547px,#73945d 548px,#c0ce3e 549px,#f1e32a 550px,#f6e627 551px,#d8e130 552px,#97d149 553px,#52ba6a 554px,#2ca581 555px,#22968a 556px,#228d8d 558px,#21918c 578px,#21918c 607px)"></i>
<i style="height:2px;background:linear-gradient(90deg,#24878e 0px,#1f968b 22px,#25ab82 32px,#45c070 46px,#56c666 58px,#56c666 75px,#39ba76 94px,#21a685 109px,#218f8d 124px,#365e8d 153px,#3e4989 175px,#3a548c 191px,#2a788e 218px,#1f9e89 242px,#2ab07e 256px,#49c26e 281px,#4bc26c 297px,#3cbc74 315px,#20a486 338px,#23898d 357px,#3d4c8a 395px,#433e85 410px,#404688 428px,#306a8e 456px,#1f998a 474px,#26ab82 480px,#44be70 486px,#70ce58 491px,#c8e021 498px,#e2e41b 500px,#f6e620 502px,#fde724 504px,#fce725 509px,#f6e626 510px,#d8e02e 511px,#97ce48 512px,#55a86c 513px,#3b707b 514px,#3e3670 515px,#44105f 516px,#440456 517px,#440356 524px,#440e5c 525px,#41336c 526px,#487373 527px,#7cb25e 528px,#c8d83b 529px,#f3e529 530px,#fce725 531px,#fde725 536px,#f6e527 537px,#d6da32 538px,#96ae4e 539px,#5d6164 540px,#472060 541px,#440657 542px,#440154 544px,#440456 545px,#45135d 546px,#4a4567 547px,#73945e 548px,#c0ce3f 549px,#f1e32a 550px,#f6e627 551px,#d8e030 552px,#96d14a 553px,#52ba6b 554px,#2ca581 555px,#22968a 556px,#228d8d 558px,#21918c 578px,#21918c 607px)"></i>
<i style="height:2px;background:linear-gradient(90deg,#26828e 0px,#1f968b 22px,#24aa83 31px,#48c06e 45px,#5cc862 59px,#5bc864 75px,#3ebc74 93px,#22a884 108px,#21908c 123px,#365c8d 152px,#404688 173px,#3e4b8a 186px,#2d708e 214px,#1f9e89 242px,#28ae80 254px,#4cc26c 279px,#50c46a 296px,#40bc72 315px,#21a685 337px,#228b8d 356px,#3e4b8a 395px,#433e84 410px,#404588 428px,#2e6c8e 457px,#1f9b8a 475px,#28ae80 481px,#48c06e 487px,#76d054 492px,#cee11e 499px,#e6e41b 501px,#f8e622 503px,#fde725 508px,#f8e626 510px,#e0e22b 511px,#a5d341 512px,#61b164 513px,#3e7c7a 514px,#3e4175 515px,#421662 516px,#440457 517px,#440154 523px,#440355 524px,#440c5c 525px,#412f6a 526px,#486f73 527px,#78b05e 528px,#c6d63c 529px,#f3e429 530px,#fce725 531px,#fde725 536px,#f7e627 537px,#d8da31 538px,#9ab04c 539px,#5e6462 540px,#472260 541px,#440757 542px,#440154 544px,#440456 545px,#44145e 546px,#4a4668 547px,#72945e 548px,#bfce3f 549px,#f0e32a 550px,#f6e627 551px,#d8e031 552px,#96d14a 553px,#51ba6b 554px,#2ca481 555px,#22968a 556px,#228d8d 558px,#21918c 578px,#21918c 607px)"></i>
<i style="height:2px;background:linear-gradient(90deg,#287e8e 0px,#1f968b 22px,#24aa83 31px,#49c26e 44px,#60ca61 56px,#62ca5f 72px,#50c46a 86px,#24aa83 107px,#1f968b 120px,#375a8c 152px,#414286 174px,#3e4989 187px,#2d708e 215px,#1f9f88 243px,#2eb37c 257px,#51c469 281px,#54c668 297px,#43be70 315px,#21a685 338px,#228b8d 356px,#3d4c8a 393px,#433c84 409px,#414287 427px,#38588c 443px,#2c738e 460px,#1f9e89 476px,#2ab07f 482px,#4cc26c 488px,#7cd250 493px,#d4e21c 500px,#eae41c 502px,#fae722 504px,#fde725 509px,#fae625 510px,#e6e328 511px,#b2d73a 512px,#6cb95d 513px,#418878 514px,#3c4c77 515px,#411b64 516px,#440657 517px,#440154 523px,#440255 524px,#440a5a 525px,#402c68 526px,#466b72 527px,#76ad60 528px,#c4d63d 529px,#f2e429 530px,#fce725 531px,#fde725 536px,#f7e626 537px,#dbdc30 538px,#9db248 539px,#606862 540px,#462460 541px,#440757 542px,#440154 544px,#440456 545px,#44145e 546px,#4a4668 547px,#72935f 548px,#bfce3f 549px,#f0e32a 550px,#f6e627 551px,#d7e031 552px,#94d14b 553px,#50ba6c 554px,#2ca481 555px,#22968a 556px,#228d8d 558px,#21918c 578px,#21918c 607px)"></i>
<i style="height:2px;background:linear-gradient(90deg,#2a798e 0px,#1f968b 22px,#23a884 30px,#4ac26c 43px,#66cc5e 56px,#69cc5b 71px,#57c666 85px,#26ac82 106px,#1f9a8a 118px,#32648e 144px,#424286 170px,#424086 181px,#31668e 211px,#1f9c89 241px,#28ae80 253px,#52c468 277px,#59c864 294px,#49c16e 314px,#22a884 337px,#228b8d 356px,#3e4c8a 393px,#443c84 408px,#424186 426px,#2c728e 459px,#1fa088 477px,#2db27d 483px,#51c46a 489px,#8ed645 495px,#cde11e 500px,#eee51c 503px,#fae723 505px,#fae724 510px,#ece426 511px,#beda34 512px,#78c056 513px,#459275 514px,#3a5577 515px,#401f64 516px,#430657 517px,#440154 520px,#440255 524px,#430a58 525px,#402866 526px,#446872 527px,#72aa60 528px,#c0d43c 529px,#f0e428 530px,#fce725 531px,#fde725 536px,#f8e626 537px,#dedc2e 538px,#a0b446 539px,#606a60 540px,#462660 541px,#440857 542px,#440154 544px,#440456 545px,#44145e 546px,#494669 547px,#70935f 548px,#becd3f 549px,#f0e32a 550px,#f5e627 551px,#d7e031 552px,#94d14b 553px,#50ba6c 554px,#2ca481 555px,#22968a 556px,#228d8d 558px,#21918c 578px,#21918c 607px)"></i>
<i style="height:2px;background:linear-gradient(90deg,#2c748e 0px,#228e8d 18px,#22a685 29px,#3aba76 37px,#5eca62 49px,#6ece58 60px,#6cce59 74px,#57c666 87px,#25ab82 107px,#1f968b 120px,#3a548c 152px,#443c84 174px,#414387 187px,#306a8e 214px,#1f9d89 242px,#2bb07e 254px,#55c666 277px,#5dc862 290px,#56c666 307px,#26ac82 335px,#1f988b 348px,#3b508b 389px,#443a84 407px,#423f85 425px,#355e8d 447px,#287d8e 464px,#1fa088 477px,#2cb17e 483px,#4ec36a 489px,#7dd24f 494px,#d2e21c 501px,#f1e61e 504px,#fde724 507px,#fce724 510px,#f0e525 511px,#cadd30 512px,#86c650 513px,#4a9c71 514px,#395e78 515px,#3f2667 516px,#430959 517px,#440154 519px,#440254 524px,#430858 525px,#402664 526px,#426471 527px,#6ea860 528px,#bcd33c 529px,#eee428 530px,#fce725 531px,#fde725 536px,#f8e626 537px,#dedd2c 538px,#a2b644 539px,#626c5f 540px,#462760 541px,#440857 542px,#440154 544px,#440456 545px,#44145e 546px,#49476a 547px,#70935f 548px,#bccd3e 549px,#eee329 550px,#f5e627 551px,#d6e032 552px,#92d04c 553px,#4fba6c 554px,#2ca482 555px,#22968a 556px,#228d8d 558px,#21918c 578px,#21918c 607px)"></i>
<i style="height:2px;background:linear-gradient(90deg,#2e6f8e 0px,#20918c 20px,#22a784 29px,#38b877 36px,#5ec962 47px,#74d055 58px,#74d055 73px,#62ca60 84px,#2cb17e 104px,#1f9f88 115px,#297a8e 132px,#3e4a89 158px,#453882 176px,#404487 190px,#306a8e 215px,#1f9d89 242px,#2ab07f 253px,#58c766 276px,#62ca60 287px,#5ec962 303px,#50c46a 314px,#24aa83 337px,#1f968b 350px,#3c508b 389px,#443a83 406px,#433c84 422px,#2e6c8e 456px,#1f9c89 476px,#28ae80 482px,#45bf70 488px,#6ece58 493px,#cce01f 501px,#ece51c 504px,#fde724 507px,#fce724 510px,#f5e626 511px,#d4e02e 512px,#93cc4a 513px,#53a56c 514px,#3a6a7a 515px,#3f306c 516px,#440e5d 517px,#440356 518px,#440254 524px,#430857 525px,#3f2464 526px,#426271 527px,#6aa661 528px,#b7d23b 529px,#ece327 530px,#fbe724 531px,#fde725 536px,#f9e625 537px,#e0dd2c 538px,#a4b842 539px,#62705e 540px,#462860 541px,#430857 542px,#440154 544px,#440456 545px,#44155f 546px,#48486a 547px,#6e935f 548px,#b9cc3c 549px,#ede228 550px,#f4e627 551px,#d6e032 552px,#92d04d 553px,#4eb96d 554px,#2ba482 555px,#22968a 556px,#228d8d 558px,#21918c 578px,#21918c 607px)"></i>
<i style="height:2px;background:linear-gradient(90deg,#306a8e 0px,#1f978b 23px,#27ad81 31px,#57c666 43px,#76d054 55px,#7cd250 68px,#70ce57 80px,#44bf70 96px,#25ab82 108px,#1f958b 120px,#3c508b 152px,#453682 172px,#453782 182px,#34608d 210px,#1f978b 239px,#25ac82 250px,#53c568 271px,#65cc5e 284px,#66cc5e 299px,#56c666 313px,#23a983 338px,#20928c 352px,#3c508b 388px,#443882 406px,#443b84 422px,#3d4d8a 434px,#2c738e 459px,#1f9f88 477px,#2ab07f 483px,#4ac16e 489px,#7fd24e 495px,#d0e21c 502px,#e6e41a 504px,#fce724 507px,#fde725 510px,#f8e626 511px,#dce22d 512px,#9fd144 513px,#5cad67 514px,#3e767a 515px,#3e3a72 516px,#431260 517px,#440456 518px,#440254 524px,#430757 525px,#3f2364 526px,#406072 527px,#66a362 528px,#b2d03c 529px,#eae227 530px,#fbe724 531px,#fde725 536px,#f9e625 537px,#e2de2b 538px,#a6ba42 539px,#63725d 540px,#462a5f 541px,#430857 542px,#440154 544px,#440456 545px,#441660 546px,#48486b 547px,#6b935f 548px,#b6cc3c 549px,#ece228 550px,#f4e527 551px,#d4e032 552px,#90d04e 553px,#4db96e 554px,#2ba482 555px,#22968a 556px,#228d8d 558px,#21918c 578px,#21918c 607px)"></i>
<i style="height:2px;background:linear-gradient(90deg,#32648e 0px,#25848e 15px,#1fa088 26px,#2bb07e 32px,#5eca62 44px,#7cd250 55px,#82d44c 69px,#74d055 81px,#3aba76 100px,#22a884 110px,#228d8d 123px,#3d4c8a 153px,#46327e 173px,#453680 184px,#34628d 212px,#1f978b 239px,#24aa83 249px,#50c46a 268px,#69cc5c 283px,#6bce5a 297px,#5dc862 311px,#28ae80 335px,#1f9d89 346px,#2e6e8e 371px,#443a83 402px,#453681 417px,#404488 430px,#2b768e 460px,#1f9f88 477px,#2db27d 484px,#4ec36a 490px,#86d44a 496px,#cce01f 502px,#eae41c 505px,#fde724 508px,#f9e625 511px,#e2e22a 512px,#aad43e 513px,#66b462 514px,#40807a 515px,#3d4376 516px,#421762 517px,#440557 518px,#440154 523px,#430757 525px,#3f2264 526px,#405e72 527px,#64a062 528px,#aecf3c 529px,#e8e228 530px,#fae725 531px,#fde725 536px,#f9e625 537px,#e3de2a 538px,#a8bc40 539px,#64745c 540px,#462a5f 541px,#430957 542px,#440154 544px,#440456 545px,#441660 546px,#46496c 547px,#689460 548px,#b3cc3c 549px,#eae227 550px,#f3e527 551px,#d4df33 552px,#8ecf4e 553px,#4cb86e 554px,#2aa482 555px,#22968a 556px,#228d8d 558px,#21918c 574px,#21918c 607px)"></i>
<i style="height:2px;background:linear-gradient(90deg,#355e8d 0px,#238a8d 18px,#21a685 28px,#3aba76 35px,#63ca5f 44px,#82d44c 55px,#89d648 66px,#7ed24f 79px,#4dc26c 95px,#28ae80 107px,#1f9b8a 117px,#33628d 141px,#443a84 163px,#472e7c 178px,#404688 198px,#25858e 230px,#20a287 245px,#32b57a 255px,#62ca60 275px,#6ece58 284px,#6ece58 300px,#5ec962 313px,#26ac81 337px,#1f9a8a 348px,#34608d 378px,#453682 404px,#453882 420px,#404688 431px,#287c8e 463px,#1fa187 478px,#30b47b 485px,#54c668 491px,#8cd646 497px,#d0e11c 503px,#eee51d 506px,#fce724 508px,#fae725 511px,#e7e428 512px,#b4d838 513px,#6eba5c 514px,#428978 515px,#3c4c77 516px,#411b64 517px,#440657 518px,#440154 523px,#430757 525px,#402264 526px,#3f5c72 527px,#60a064 528px,#abce3e 529px,#e6e228 530px,#fae625 531px,#fde725 536px,#f9e625 537px,#e4de2a 538px,#a9bc40 539px,#64745c 540px,#452c5f 541px,#430957 542px,#440254 543px,#440556 545px,#441760 546px,#464a6d 547px,#669460 548px,#b0cb3c 549px,#e8e228 550px,#f3e527 551px,#d2df34 552px,#8ccf50 553px,#4ab86f 554px,#2aa382 555px,#22968a 556px,#228d8d 558px,#21918c 570px,#21918c 607px)"></i>
<i style="height:2px;background:linear-gradient(90deg,#38588c 0px,#287e8e 14px,#1fa088 26px,#2db27d 32px,#5eca62 42px,#82d44c 53px,#8ed644 62px,#8ad647 74px,#76d054 84px,#36b878 102px,#22a784 111px,#228c8d 123px,#3e4c8a 151px,#472e7c 171px,#472d7c 181px,#38588c 209px,#1f968b 239px,#25ab82 249px,#56c666 268px,#70cf57 281px,#76d054 296px,#66cc5d 311px,#2cb27d 334px,#1fa088 345px,#29798e 365px,#414387 394px,#463480 408px,#443a83 424px,#34618d 448px,#218f8d 471px,#21a685 480px,#39ba76 487px,#62ca60 493px,#aadc32 500px,#d4e21c 504px,#eae41c 506px,#fce724 508px,#fae724 511px,#ebe426 512px,#bdda34 513px,#78c056 514px,#459175 515px,#3a5477 516px,#401f64 517px,#430657 518px,#440154 521px,#440254 524px,#430757 525px,#402164 526px,#3f5a73 527px,#5e9e66 528px,#a7cc40 529px,#e4e12a 530px,#f9e625 531px,#fde725 535px,#f9e625 537px,#e4df29 538px,#a9bd3f 539px,#64765c 540px,#452c5f 541px,#430957 542px,#440254 543px,#440557 545px,#431861 546px,#454c6e 547px,#649462 548px,#accb3e 549px,#e6e128 550px,#f2e527 551px,#d2df34 552px,#4ab770 554px,#2aa383 555px,#22968a 556px,#228d8d 558px,#21918c 570px,#21918c 607px)"></i>
<i style="height:2px;background:linear-gradient(90deg,#3b528b 0px,#277e8e 15px,#1fa088 26px,#2eb37c 32px,#62ca60 42px,#8cd646 54px,#95d840 65px,#8cd646 77px,#6acd5a 89px,#2eb37c 105px,#1fa187 114px,#277f8e 128px,#404688 153px,#472c7a 171px,#482a78 180px,#3a528b 207px,#1f988b 240px,#25ab82 249px,#56c666 267px,#74d055 280px,#7bd250 295px,#6acd5a 311px,#2eb37c 334px,#1fa088 345px,#287d8e 363px,#414487 393px,#46327f 407px,#453782 422px,#3f4788 432px,#277f8e 464px,#1fa187 478px,#2cb17e 484px,#4ac16e 490px,#7cd250 496px,#d0e11c 504px,#e5e41b 506px,#fae723 508px,#fbe724 511px,#eee524 512px,#c5dc30 513px,#81c550 514px,#489972 515px,#395c77 516px,#3f2466 517px,#430858 518px,#440154 520px,#440254 524px,#430757 525px,#402164 526px,#3e5a74 527px,#5b9c68 528px,#a3cc42 529px,#e1e12a 530px,#f9e625 531px,#fde725 535px,#f9e625 537px,#e4df2a 538px,#a8be40 539px,#62785c 540px,#452e5f 541px,#430957 542px,#440254 543px,#440557 545px,#431962 546px,#444c70 547px,#629464 548px,#a8ca40 549px,#e4e129 550px,#f1e528 551px,#d0de34 552px,#89ce52 553px,#48b770 554px,#29a383 555px,#21968a 556px,#228d8d 558px,#21918c 570px,#21918c 607px)"></i>
<i style="height:2px;background:linear-gradient(90deg,#3e4b8a 0px,#2e6e8e 11px,#1f9a8a 24px,#27ad81 30px,#4cc26c 37px,#77d053 46px,#94d840 56px,#9ad93c 68px,#8fd644 78px,#66cc5c 91px,#2cb17e 106px,#1f9f88 115px,#2b748e 132px,#433c84 157px,#482676 173px,#482878 182px,#3a548c 209px,#1f988b 240px,#25ac82 249px,#5cc864 268px,#7ad251 282px,#80d34e 295px,#6fce58 311px,#30b47c 334px,#1fa088 345px,#287d8e 363px,#414387 393px,#46317e 407px,#453782 423px,#3f4889 433px,#27808e 464px,#1fa187 478px,#2bb07e 484px,#48c16e 490px,#78d152 496px,#cce11e 504px,#ede51e 507px,#fce724 509px,#fce724 511px,#f0e524 512px,#ccde2e 513px,#89c94c 514px,#4ea16e 515px,#3a677a 516px,#3f2d6c 517px,#440c5c 518px,#440256 519px,#440254 524px,#430758 525px,#3f2264 526px,#3c5a74 527px,#589c6a 528px,#9ecb46 529px,#dee02c 530px,#f8e626 531px,#fde725 533px,#f9e625 537px,#e2df2a 538px,#a6be41 539px,#617a5e 540px,#453062 541px,#430a58 542px,#440254 543px,#440557 545px,#421a62 546px,#424e70 547px,#5e9566 548px,#a4ca42 549px,#e0e12a 550px,#efe427 551px,#ccde34 552px,#86cc52 553px,#46b672 554px,#28a284 555px,#21968a 556px,#228d8d 558px,#21918c 570px,#21918c 607px)"></i>
<i style="height:2px;background:linear-gradient(90deg,#404487 0px,#32638e 9px,#1f9a8a 24px,#25aa82 29px,#40bd72 35px,#6ece58 43px,#98d83e 55px,#a1da38 67px,#94d840 78px,#6acd5a 91px,#30b47c 105px,#1fa287 114px,#26828e 126px,#404688 151px,#482676 171px,#482474 180px,#3e4889 204px,#23888e 233px,#20a386 245px,#33b67a 254px,#6acd5b 272px,#7ed24e 282px,#84d44a 295px,#73d056 311px,#30b47b 334px,#1fa188 345px,#287d8e 363px,#414286 393px,#46307e 407px,#453580 422px,#424186 430px,#2d708e 456px,#1f9c89 476px,#25ab82 482px,#41be72 489px,#6ece58 495px,#d1e21c 505px,#e9e41d 507px,#fce724 509px,#fce724 511px,#f2e524 512px,#d0df2c 513px,#91cd48 514px,#53a96c 515px,#3a727c 516px,#3e3972 517px,#431260 518px,#440456 519px,#440254 524px,#440959 525px,#3f2467 526px,#3c5e76 527px,#549c6c 528px,#98ca49 529px,#dae02e 530px,#f8e626 531px,#fde725 533px,#fde725 536px,#f8e626 537px,#e0df2c 538px,#a2c044 539px,#5f7d62 540px,#453666 541px,#440e5b 542px,#440355 543px,#440657 545px,#421a63 546px,#425072 547px,#5c9568 548px,#a0c944 549px,#dee02c 550px,#ece426 551px,#c8dd32 552px,#80cc52 553px,#44b572 554px,#28a284 555px,#21958a 556px,#228d8d 558px,#21918c 570px,#21918c 607px)"></i>
<i style="height:2px;background:linear-gradient(90deg,#443c84 0px,#32648e 10px,#1f978b 23px,#25ab82 29px,#42be71 35px,#6dce59 42px,#99d83e 53px,#a6db35 64px,#9eda3a 76px,#79d152 88px,#34b779 104px,#21a685 112px,#228e8d 122px,#3d4e8a 147px,#482676 168px,#482072 179px,#424286 201px,#2a778e 225px,#1fa188 244px,#30b47b 253px,#6acd5a 271px,#81d44c 281px,#88d548 295px,#79d152 310px,#38b877 332px,#21a585 343px,#228b8d 356px,#3e4c8a 387px,#46307e 405px,#46327e 419px,#424086 430px,#33628d 448px,#20928c 472px,#23a884 481px,#3bba75 488px,#62ca5f 494px,#cde11e 505px,#e4e41c 507px,#fae724 509px,#fce724 511px,#f3e624 512px,#d4e02a 513px,#97d045 514px,#58b068 515px,#3a7e7d 516px,#3c4477 517px,#421863 518px,#440557 519px,#440154 523px,#440356 524px,#440d5d 525px,#3f2c6d 526px,#3a647b 527px,#509e6f 528px,#92ca4d 529px,#d7df31 530px,#f6e627 531px,#fde725 532px,#fde725 536px,#f8e626 537px,#ddde2e 538px,#9ec047 539px,#5c8166 540px,#443a6b 541px,#44115e 542px,#440456 543px,#440657 545px,#421c63 546px,#405273 547px,#58966a 548px,#9cc947 549px,#dae02e 550px,#e8e426 551px,#c2dc33 552px,#7bca54 553px,#41b474 554px,#27a184 555px,#218f8d 557px,#21918c 607px)"></i>
<i style="height:2px;background:linear-gradient(90deg,#463681 0px,#365c8d 9px,#20948c 22px,#23a884 28px,#38b877 33px,#6bcd5a 41px,#9ad83d 52px,#a9dc33 60px,#a8dc34 72px,#96d840 81px,#62ca5f 94px,#2eb37c 106px,#1fa287 114px,#26828e 126px,#404488 150px,#482273 170px,#481e70 179px,#424086 201px,#2a768e 225px,#1f9e88 243px,#2bb17e 251px,#67cc5c 269px,#85d44a 281px,#8cd646 294px,#7fd34e 309px,#39ba76 332px,#21a685 343px,#228b8d 356px,#3d4d8a 386px,#47307d 404px,#47307d 418px,#433d84 429px,#33628d 448px,#1f978b 474px,#25ab82 482px,#45bf70 490px,#72cf56 496px,#c8e020 505px,#eee51e 508px,#f8e622 509px,#fce724 511px,#f3e624 512px,#d6e02a 513px,#9cd242 514px,#5cb665 515px,#3a887d 516px,#38507a 517px,#401e66 518px,#440758 519px,#440154 522px,#440456 524px,#441260 525px,#3e3674 526px,#386b7f 527px,#4ca072 528px,#8cc950 529px,#d4de33 530px,#f6e627 531px,#fde725 532px,#fde725 536px,#f7e626 537px,#dade30 538px,#98c04b 539px,#58846b 540px,#42406f 541px,#441460 542px,#440456 543px,#440657 545px,#411d64 546px,#3e5474 547px,#55966c 548px,#96c84a 549px,#d6df2f 550px,#e4e327 551px,#bbda34 552px,#76c856 553px,#3eb274 554px,#26a085 555px,#218f8d 557px,#21918c 607px)"></i>
<i style="height:2px;background:linear-gradient(90deg,#462e7c 0px,#3a538b 8px,#228c8d 20px,#21a486 27px,#33b67a 32px,#73d056 42px,#a1da38 53px,#aedc30 62px,#aadc32 74px,#93d842 83px,#5bc864 96px,#2fb37c 106px,#20a287 114px,#25848e 125px,#404688 149px,#482072 170px,#481c6e 179px,#424086 202px,#2c738e 224px,#1f9e88 243px,#29af80 250px,#62cb5f 267px,#88d548 281px,#90d744 295px,#80d34e 310px,#3aba76 332px,#21a685 343px,#228b8d 356px,#3d4c8a 386px,#472e7c 405px,#47307d 419px,#423f85 430px,#30698e 452px,#1f998a 475px,#27ad81 483px,#44bf70 490px,#78d152 497px,#cce11e 506px,#e8e41e 508px,#f5e620 509px,#fce724 510px,#fce724 511px,#f2e623 512px,#d6e128 513px,#9ed43e 514px,#60bb62 515px,#3a927c 516px,#365f7e 517px,#3f2c6e 518px,#440e5e 519px,#440456 520px,#440254 523px,#440658 524px,#421864 525px,#3c4078 526px,#357482 527px,#48a474 528px,#86c852 529px,#cede34 530px,#f4e626 531px,#fce725 532px,#fde725 536px,#f6e627 537px,#d6dd32 538px,#91c050 539px,#54866f 540px,#404573 541px,#431762 542px,#440557 543px,#440254 544px,#430657 545px,#401e64 546px,#3c5675 547px,#50966e 548px,#8ec64c 549px,#cede2f 550px,#dce228 551px,#b2da37 552px,#6fc758 553px,#3cb276 554px,#26a086 555px,#218f8d 557px,#21918c 607px)"></i>
<i style="height:2px;background:linear-gradient(90deg,#482878 0px,#3c4f8a 8px,#24888e 19px,#1fa187 26px,#2eb37c 31px,#70cf57 41px,#a2da38 52px,#b1dd2e 60px,#b1dd2e 72px,#9dda3a 81px,#68cc5c 94px,#33b67a 105px,#20a486 113px,#238a8d 123px,#3e4c8a 146px,#482272 167px,#481a6c 178px,#472a7a 191px,#3a528b 211px,#1f978b 240px,#24aa82 248px,#5cc863 264px,#8ad648 280px,#94d840 293px,#88d548 308px,#5ac864 323px,#28ae80 339px,#1f9a8a 349px,#34608d 376px,#46317e 401px,#472c7b 415px,#433c84 429px,#32668e 450px,#1f9a8a 475px,#27ad81 483px,#42be71 490px,#74d054 497px,#d2e21e 507px,#f0e51e 509px,#f8e622 510px,#fae724 511px,#f1e522 512px,#d4e128 513px,#9fd63e 514px,#64bf60 515px,#3a9c7b 516px,#336e84 517px,#3c3e78 518px,#421764 519px,#440658 520px,#440254 522px,#440456 523px,#440e5e 524px,#42276f 525px,#395080 526px,#327e84 527px,#43a676 528px,#7cc754 529px,#c2dc34 530px,#ede426 531px,#fbe724 532px,#fde725 536px,#f6e628 537px,#d1dc36 538px,#8abf54 539px,#4e8973 540px,#3e4a76 541px,#421a64 542px,#440658 543px,#440255 544px,#430758 545px,#402064 546px,#3a5876 547px,#4c9770 548px,#84c64e 549px,#c0dc2e 550px,#d0e028 551px,#a8d83a 552px,#68c55c 553px,#38b078 554px,#259f86 555px,#218f8d 557px,#21918c 607px)"></i>
<i style="height:2px;background:linear-gradient(90deg,#482272 0px,#3e4b8a 8px,#277e8e 17px,#1fa187 26px,#2fb37c 31px,#72d056 41px,#a2da38 51px,#b2dd2c 58px,#b6de2a 70px,#a6db34 79px,#74d056 92px,#34b67a 105px,#20a486 113px,#23898d 123px,#3d4d8a 145px,#482475 164px,#481668 177px,#482676 189px,#3c4f8a 210px,#218f8d 237px,#21a585 246px,#36b878 254px,#70cf56 270px,#8cd646 280px,#96d83e 292px,#8cd646 306px,#78d152 315px,#33b67a 335px,#20a387 345px,#24878e 358px,#404588 389px,#472c7b 405px,#472f7d 420px,#433c84 429px,#32668e 450px,#1f9a8a 475px,#27ad81 483px,#47c06e 491px,#79d252 498px,#cae020 507px,#f2e61e 510px,#f4e620 511px,#eae420 512px,#cee026 513px,#9ed63c 514px,#66c35c 515px,#3ca579 516px,#307e86 517px,#385280 518px,#412870 519px,#440e5e 520px,#440457 521px,#440456 522px,#440a5c 523px,#441c6a 524px,#3e3c7c 525px,#346287 526px,#2e8886 527px,#3eaa77 528px,#70c658 529px,#b3da38 530px,#e4e428 531px,#f9e625 532px,#fde725 535px,#fce725 536px,#f3e528 537px,#cada37 538px,#80be58 539px,#488c77 540px,#3c527a 541px,#41226a 542px,#440a5a 543px,#440456 544px,#44095a 545px,#402568 546px,#395c79 547px,#469773 548px,#78c254 549px,#afd932 550px,#bede2a 551px,#99d440 552px,#5fc260 553px,#35ae7a 554px,#249e86 555px,#218f8d 557px,#21918c 607px)"></i>
<i style="height:2px;background:linear-gradient(90deg,#481c6e 0px,#424186 7px,#2c738e 15px,#1f9a8a 24px,#26ac81 29px,#49c16e 35px,#74d054 41px,#a4db36 51px,#b6de2a 58px,#bade28 69px,#acdc30 78px,#82d44c 89px,#38b977 104px,#21a685 112px,#228c8d 122px,#3e4c8a 145px,#482070 166px,#481668 178px,#482a79 192px,#3a538b 212px,#1f968b 240px,#24aa82 248px,#52c568 261px,#8ed645 279px,#9ad93e 292px,#8ed644 307px,#76d054 316px,#2eb37c 337px,#1fa188 346px,#297a8e 364px,#414387 390px,#472c7b 405px,#472e7c 419px,#443c84 429px,#30688e 451px,#1f9a8a 475px,#26ac81 483px,#40bd72 490px,#74d054 498px,#c2e024 507px,#e6e41a 510px,#e8e41b 511px,#dfe31d 512px,#c6df26 513px,#9cd63c 514px,#68c65b 515px,#3eac76 516px,#2e8c86 517px,#326788 518px,#3c427e 519px,#44236e 520px,#451263 521px,#451364 522px,#44226e 523px,#385687 525px,#2e748a 526px,#2a9286 527px,#3bae78 528px,#65c45e 529px,#a0d63f 530px,#d6e12a 531px,#f2e624 532px,#fce724 533px,#fae725 536px,#ebe428 537px,#bad838 538px,#72bb5c 539px,#418e7b 540px,#395a80 541px,#402d72 542px,#441060 543px,#440658 544px,#440e5e 545px,#402e6f 546px,#38627e 547px,#409878 548px,#6ac05a 549px,#9cd63c 550px,#aada34 551px,#89d247 552px,#56c066 553px,#31ac7c 554px,#239e87 555px,#218f8d 557px,#21918c 607px)"></i>
<i style="height:2px;background:linear-gradient(90deg,#481669 0px,#404487 8px,#2a788e 16px,#1f9a8a 24px,#23a884 28px,#42be71 34px,#76d054 41px,#a6db34 51px,#bade28 59px,#bade28 72px,#a6db36 81px,#72cf56 93px,#34b779 105px,#20a486 113px,#23888e 123px,#404688 147px,#481c6e 167px,#481466 178px,#472c7a 194px,#3a548c 213px,#1f968b 240px,#24aa82 248px,#4cc26c 259px,#8cd645 278px,#9cd93c 291px,#92d742 306px,#7cd250 315px,#34b779 335px,#21a585 344px,#228b8d 356px,#3d4d8a 385px,#472c7b 404px,#472d7b 418px,#443c84 429px,#30688e 451px,#1f9c89 476px,#28ae80 484px,#48c06e 492px,#7ed24e 500px,#c0e025 508px,#d6e21c 510px,#d9e21a 511px,#d2e21e 512px,#bcde29 513px,#98d63e 514px,#6ac85a 515px,#41b474 516px,#2c9884 517px,#2c7b8a 518px,#3e4482 520px,#42357c 521px,#42377e 522px,#385889 524px,#28848b 526px,#289b86 527px,#38b079 528px,#5ac464 529px,#bcdd30 531px,#e1e324 532px,#f3e623 533px,#fae624 535px,#f4e624 536px,#dbe12a 537px,#a2d440 538px,#60b864 539px,#39907f 540px,#356486 541px,#3e3c7a 542px,#441b68 543px,#440c5e 544px,#441665 545px,#3e3876 546px,#356983 547px,#3a997c 548px,#5cbd63 549px,#86d149 550px,#92d641 551px,#78ce52 552px,#4cbc6c 553px,#2eaa7e 554px,#229c88 555px,#218f8d 557px,#21918c 607px)"></i>
<i style="height:2px;background:linear-gradient(90deg,#471264 0px,#443a82 7px,#32658e 13px,#218f8d 21px,#21a486 27px,#35b778 32px,#77d153 41px,#a8db34 51px,#bcde27 59px,#bcdf26 71px,#aadc32 80px,#7cd250 91px,#34b779 105px,#20a486 113px,#24888e 123px,#3e4a89 145px,#482273 163px,#471264 176px,#482071 188px,#3e4989 209px,#24878e 234px,#20a387 245px,#30b47c 252px,#6acd5b 267px,#92d742 280px,#9dd93b 294px,#8ed644 309px,#5cc863 324px,#2cb27d 338px,#1f9f88 347px,#2d718e 368px,#423f85 392px,#472c7a 405px,#472d7b 418px,#433c84 429px,#30698e 451px,#1f9c89 476px,#28ae80 484px,#45c070 492px,#7ed24e 501px,#b2dd2e 508px,#c4e023 510px,#c7e022 511px,#c1df24 512px,#afdc30 513px,#91d642 514px,#45ba70 516px,#2ea481 517px,#278e8a 518px,#32658c 520px,#365b8a 521px,#365c8b 522px,#27828c 525px,#24938a 526px,#28a483 527px,#36b479 528px,#50c26a 529px,#98d740 531px,#b8dd2e 532px,#cce026 533px,#dce224 535px,#d4e126 536px,#b6db34 537px,#80cc4e 538px,#4cb26e 539px,#319184 540px,#306e8a 541px,#423279 543px,#452471 544px,#442c76 545px,#3b4981 546px,#317287 547px,#349a80 548px,#4db86c 549px,#6dcb58 550px,#76cf52 551px,#62c85e 552px,#40b873 553px,#2aa882 554px,#229b88 555px,#218f8d 557px,#21918c 607px)"></i>
<i style="height:2px;background:linear-gradient(90deg,#460d60 0px,#443882 7px,#32648d 13px,#218e8d 21px,#21a486 27px,#35b778 32px,#78d152 41px,#aadc32 51px,#bcdf26 59px,#bedf26 71px,#acdc32 80px,#81d34d 90px,#34b779 105px,#20a486 113px,#24888e 123px,#3e4989 145px,#481f70 164px,#471063 177px,#482273 190px,#3e4b89 210px,#24878e 234px,#20a287 245px,#30b47c 252px,#6bcd5a 267px,#94d840 281px,#9eda3a 294px,#92d742 308px,#70cf57 319px,#2db27d 338px,#1fa187 346px,#297a8e 364px,#414387 390px,#472c7b 404px,#472d7b 418px,#433c84 429px,#33638d 447px,#1f988b 474px,#25ab82 483px,#40be72 492px,#94d840 507px,#acdc31 510px,#afdc2f 511px,#abdc32 512px,#9ed93a 513px,#88d448 514px,#4bbe6c 516px,#33b07c 517px,#279f86 518px,#26848c 520px,#297d8d 521px,#26848c 523px,#25a384 526px,#38b778 528px,#5ac664 530px,#82d24c 532px,#92d642 534px,#97d640 535px,#92d542 536px,#7ccf4f 537px,#59c264 538px,#38ac7a 539px,#2a9287 540px,#2b7a8c 541px,#3a5088 543px,#3e4484 544px,#3c4a86 545px,#355e8a 546px,#2c7c8a 547px,#2c9a84 548px,#3cb276 549px,#50c16a 550px,#56c566 551px,#48be6e 552px,#34b17b 553px,#25a484 554px,#20928c 556px,#218f8d 560px,#21918c 607px)"></i>
<i style="height:2px;background:linear-gradient(90deg,#460a5c 0px,#453680 7px,#365c8d 12px,#238a8d 20px,#1fa088 26px,#2bb07f 30px,#4ac16d 35px,#78d152 41px,#aedc30 52px,#bfdf25 60px,#bedf26 72px,#acdc31 80px,#81d34d 90px,#34b679 105px,#20a486 113px,#24878e 123px,#3f4889 145px,#482071 163px,#470e62 177px,#482677 193px,#3d4d8a 211px,#228e8d 237px,#22a784 247px,#3fbc73 256px,#7cd250 272px,#95d840 281px,#9fda3a 294px,#8ed645 310px,#48c16e 330px,#2ab07f 339px,#1f9f88 347px,#2d718e 368px,#443b84 394px,#472b7a 406px,#472f7d 420px,#423f85 430px,#30698e 450px,#1f9c89 476px,#28ae80 485px,#47c06e 495px,#84d44b 508px,#92d842 511px,#92d642 512px,#8ad547 513px,#6acc5b 515px,#40ba72 517px,#32b07c 518px,#26a084 520px,#269f86 522px,#31b27b 526px,#50c26a 532px,#50c16a 536px,#46bc6f 537px,#29a383 539px,#24928a 540px,#2f6c8e 543px,#32658c 544px,#31678c 545px,#2c738d 546px,#249988 548px,#34b47a 550px,#37b678 551px,#26a882 553px,#20968a 555px,#218e8d 558px,#21918c 576px,#21918c 607px)"></i>
<i style="height:2px;background:linear-gradient(90deg,#46085b 0px,#453480 7px,#365c8c 12px,#238a8d 20px,#1fa088 26px,#30b47c 31px,#5bc864 37px,#84d44b 43px,#aedc30 52px,#c0df25 61px,#bcdf27 73px,#a8db33 81px,#7cd250 91px,#34b679 105px,#21a685 112px,#228d8d 121px,#3d4d8a 143px,#482475 160px,#470e62 175px,#481669 185px,#424086 206px,#2b768e 227px,#1f9f88 244px,#2fb47c 252px,#6acd5b 267px,#93d741 280px,#9fda3a 293px,#8ed645 310px,#48c16e 330px,#2ab07f 339px,#1f9f88 347px,#2d718e 368px,#443c84 394px,#472c7b 405px,#472e7c 418px,#433d84 429px,#30688e 449px,#1f9c89 476px,#2ab07f 487px,#50c46a 500px,#76d053 512px,#70ce57 514px,#4ec26b 518px,#47bc6f 520px,#4ec26a 525px,#41bd72 528px,#2fb17d 531px,#28a483 534px,#27a484 537px,#21928c 540px,#26838d 545px,#22a088 549px,#24a484 551px,#218f8d 557px,#21918c 607px)"></i>
<i style="height:2px;background:linear-gradient(90deg,#45075a 0px,#45347f 7px,#375b8c 12px,#228e8d 21px,#20a486 27px,#35b779 32px,#77d153 41px,#aadc32 51px,#bddf26 59px,#bddf26 72px,#acdc32 80px,#7cd250 91px,#33b67a 105px,#21a585 112px,#228d8d 121px,#3d4d8a 143px,#482475 160px,#470e60 175px,#48186a 186px,#414487 208px,#297a8e 229px,#1fa287 245px,#32b67a 253px,#6dce59 268px,#94d840 281px,#9eda3a 293px,#92d742 308px,#69cd5c 321px,#2fb47c 337px,#1fa187 346px,#297a8e 364px,#414387 390px,#472d7b 405px,#472e7c 418px,#433e85 429px,#2e6d8e 451px,#1f9c89 476px,#28ae80 487px,#5ac864 511px,#70ce56 517px,#96d641 522px,#96d640 523px,#82d24c 525px,#48bf6e 528px,#35b47a 529px,#28a982 530px,#23968a 532px,#26868c 534px,#21948c 540px,#27a484 543px,#20948c 549px,#21908c 558px,#21918c 607px)"></i>
<i style="height:2px;background:linear-gradient(90deg,#45075a 0px,#45347f 7px,#375b8c 12px,#23898d 20px,#20a486 27px,#34b679 32px,#76d053 41px,#a8dc33 51px,#bcdf27 59px,#bddf26 71px,#aadc32 80px,#76d054 92px,#32b67a 105px,#21a586 112px,#228c8d 121px,#3d4c8a 143px,#482474 160px,#470d60 175px,#48196b 187px,#414487 208px,#297a8e 229px,#1fa187 245px,#2eb37c 252px,#6cce5a 268px,#93d741 281px,#9dd93b 294px,#8cd646 310px,#43be71 331px,#26ac82 341px,#1f9b8a 349px,#355f8d 376px,#46317e 401px,#472c7b 414px,#443c84 428px,#30688e 448px,#1f9b8a 475px,#26ac81 488px,#42be72 509px,#49c16e 512px,#59c764 514px,#78d052 516px,#c0de2c 519px,#d2e127 520px,#dee325 521px,#e2e324 522px,#dee324 523px,#d1e126 524px,#badd2f 525px,#98d73f 526px,#4dbe6c 528px,#32ac7d 529px,#269a87 530px,#2a7a8d 532px,#32648c 534px,#32648c 535px,#287e8e 538px,#249888 540px,#2ea87f 541px,#3fb774 542px,#4abe6c 543px,#4bbe6c 544px,#32af7c 546px,#26a284 547px,#24888d 549px,#287c8e 551px,#21908c 557px,#21918c 607px)"></i>
<i style="height:2px;background:linear-gradient(90deg,#46085c 0px,#453480 7px,#375b8c 12px,#23898d 20px,#20a386 27px,#34b679 32px,#74d054 41px,#a8db34 51px,#bade28 59px,#bade28 72px,#a5db36 81px,#6acd5a 94px,#36b878 104px,#22a784 111px,#228c8d 121px,#3d4c8a 143px,#482576 159px,#470d60 175px,#48196b 187px,#414487 208px,#29798e 229px,#1fa188 245px,#31b57b 253px,#6ece58 269px,#92d742 281px,#9cd93c 295px,#8ed645 309px,#5cc863 324px,#2ab07f 339px,#1f9f88 347px,#2a788e 365px,#424086 392px,#472d7c 406px,#46327e 420px,#424286 430px,#2e6f8e 451px,#1e9c89 476px,#30b47c 498px,#36b778 511px,#42be72 513px,#51c469 514px,#67cb5c 515px,#86d44a 516px,#d0e128 518px,#eae423 519px,#f6e624 520px,#fce724 522px,#f4e624 524px,#e0e326 525px,#b8dc32 526px,#83d04c 527px,#51bc6a 528px,#31a480 529px,#288a8a 530px,#355e8a 532px,#3c4b86 533px,#404082 534px,#404183 535px,#365c8a 537px,#28868c 539px,#2d9e82 540px,#48b670 541px,#70ca56 542px,#8cd446 543px,#8ed446 544px,#76cd53 545px,#52be68 546px,#34a87c 547px,#289188 548px,#2a7c8d 549px,#2f6e8e 550px,#30688e 551px,#2a778e 553px,#228e8d 556px,#20928c 562px,#21918c 607px)"></i>
<i style="height:2px;background:linear-gradient(90deg,#460a5e 0px,#453680 7px,#365b8c 12px,#23898d 20px,#20a386 27px,#33b67a 32px,#74d055 41px,#a4db36 51px,#b6de2a 58px,#bade28 69px,#acdc31 78px,#82d34c 89px,#39ba76 103px,#23a984 110px,#20928c 119px,#3b518b 141px,#482777 158px,#470e61 174px,#471063 181px,#443a83 204px,#306a8e 223px,#1f9e89 244px,#2ab07f 251px,#62ca5f 266px,#90d744 281px,#9ad93d 295px,#8ad648 310px,#42be72 331px,#25ac82 341px,#1f968b 351px,#3c508b 384px,#472f7d 404px,#46307e 418px,#424086 429px,#2e6e8e 450px,#1e9c89 476px,#2ab07e 498px,#2aaf80 511px,#38b878 513px,#4ac06d 514px,#68ca5c 515px,#92d644 516px,#c2de2e 517px,#e8e425 518px,#f8e624 519px,#fde725 523px,#fce724 524px,#f0e625 525px,#cee02e 526px,#92d148 527px,#55b969 528px,#329a81 529px,#2e7a8a 530px,#365b88 531px,#442873 533px,#461a6a 534px,#461d6c 535px,#442c76 536px,#34628a 538px,#2c8289 539px,#3aa27c 540px,#68c05e 541px,#a6d63c 542px,#cfe02a 543px,#d3e128 544px,#b4da36 545px,#7bca52 546px,#46ae72 547px,#2f8e86 548px,#30708c 549px,#365c8c 550px,#39568b 551px,#365e8c 552px,#24868e 555px,#20928c 558px,#21918c 607px)"></i>
<i style="height:2px;background:linear-gradient(90deg,#470e60 0px,#443882 7px,#33628d 13px,#228d8d 21px,#22a685 28px,#38b977 33px,#72cf56 41px,#a2da38 51px,#b5de2c 59px,#b5de2c 72px,#a0da39 81px,#6cce5a 93px,#30b47b 105px,#1fa187 113px,#277f8e 125px,#414487 146px,#481a6c 165px,#470d60 178px,#482676 194px,#3d4e8a 212px,#228e8d 238px,#22a884 248px,#42be72 258px,#84d44a 277px,#95d840 288px,#94d840 300px,#84d44a 311px,#3ebc74 332px,#22a784 343px,#228c8d 356px,#3d4d8a 386px,#46307d 404px,#46307e 417px,#424086 429px,#2b748e 453px,#1f998a 474px,#26ac82 496px,#23a884 511px,#30b27c 513px,#44bc70 514px,#69ca5b 515px,#d2e02b 517px,#f1e624 518px,#fce724 519px,#fde725 524px,#f6e626 525px,#dae12e 526px,#9cd246 527px,#58b668 528px,#359081 529px,#336987 530px,#3d437f 531px,#44236e 532px,#450e5f 533px,#440658 534px,#45085a 535px,#451564 536px,#423076 537px,#385584 538px,#327e86 539px,#46a674 540px,#84c852 541px,#cadd33 542px,#f0e426 543px,#f4e625 544px,#d9e02c 545px,#9cd045 546px,#58b269 547px,#368a82 548px,#356489 549px,#3d4c87 550px,#404586 551px,#3b5089 552px,#2a778e 554px,#228c8d 556px,#20928c 560px,#21918c 607px)"></i>
<i style="height:2px;background:linear-gradient(90deg,#471264 0px,#443a82 7px,#306a8e 14px,#21908c 22px,#22a685 28px,#37b878 33px,#75d054 42px,#a6db36 53px,#b4dd2c 62px,#b0dd2e 73px,#99d93e 82px,#60ca61 95px,#33b67a 104px,#21a685 111px,#228b8d 121px,#3d4c8a 143px,#482676 159px,#470e60 175px,#48186a 186px,#424186 207px,#2b748e 227px,#1f9f88 245px,#2bb07e 252px,#64cc5e 268px,#88d548 280px,#94d840 293px,#8ad548 308px,#5cc863 323px,#29af80 339px,#1f9a8a 349px,#34618d 376px,#46327e 403px,#46327e 417px,#424286 429px,#2d708e 450px,#1f988b 473px,#24aa84 494px,#20a486 508px,#20a088 511px,#2bad80 513px,#41ba72 514px,#6ac95b 515px,#a6d83e 516px,#dce22c 517px,#f6e625 518px,#fde725 520px,#fde725 524px,#f8e626 525px,#dee22c 526px,#a1d244 527px,#5cb268 528px,#388880 529px,#385982 530px,#402e74 531px,#441161 532px,#440557 533px,#440256 535px,#440a5c 536px,#42216a 537px,#3a4a7e 538px,#377a82 539px,#52a96e 540px,#97cd4a 541px,#dae02f 542px,#f6e626 543px,#fae625 544px,#e6e228 545px,#b0d43c 546px,#66b462 547px,#3c8780 548px,#395c86 549px,#413e81 550px,#44367f 551px,#3e4684 552px,#2c748d 554px,#228c8d 556px,#20938c 559px,#21918c 607px)"></i>
<i style="height:2px;background:linear-gradient(90deg,#481669 0px,#433c84 7px,#306a8e 14px,#20938c 23px,#24a983 29px,#44be71 35px,#78d152 43px,#a2da38 53px,#b0dd2e 62px,#acdc30 73px,#96d840 82px,#57c666 96px,#2eb37c 105px,#20a287 112px,#24888e 122px,#3e4989 144px,#481f70 163px,#470e60 177px,#482273 191px,#3e4b89 211px,#23888e 236px,#20a486 247px,#38b877 256px,#70ce58 272px,#88d548 282px,#91d742 295px,#82d44c 310px,#3ebc73 331px,#23a884 342px,#20928c 353px,#3c508b 385px,#46327e 405px,#463480 419px,#404688 430px,#26808e 458px,#1e9b8a 476px,#22a684 493px,#1fa088 507px,#1f9a8a 511px,#209e88 512px,#28a882 513px,#3eb674 514px,#6cc85a 515px,#acd93c 516px,#e1e32a 517px,#f8e626 518px,#fde725 521px,#fde725 524px,#f8e625 525px,#e0e22b 526px,#a4d242 527px,#5eaf66 528px,#3a7e7e 529px,#3b4a7c 530px,#42206a 531px,#44085a 532px,#440154 534px,#440658 536px,#421864 537px,#3c4078 538px,#3c777e 539px,#5eac66 540px,#a7d040 541px,#e3e22a 542px,#fae625 543px,#fce725 544px,#efe428 545px,#bfd63a 546px,#72b660 547px,#42847e 548px,#3c5482 549px,#44327a 550px,#452c77 551px,#403d80 552px,#2c728d 554px,#26828e 555px,#21918c 557px,#21918c 607px)"></i>
<i style="height:2px;background:linear-gradient(90deg,#481c6e 0px,#404688 8px,#27808e 18px,#20a187 27px,#2fb37c 32px,#6acd5b 41px,#9bd93c 52px,#acdc32 61px,#a8dc34 73px,#92d742 82px,#54c667 96px,#2ab07f 106px,#1f9e89 114px,#30688e 133px,#453882 151px,#481466 171px,#471063 179px,#472e7c 198px,#375b8d 217px,#1f978b 242px,#24aa82 250px,#5ac864 266px,#84d44b 281px,#8dd645 295px,#7dd250 311px,#3aba76 332px,#20a486 344px,#24878e 358px,#404688 391px,#46327f 406px,#443882 421px,#404688 430px,#277f8e 457px,#1e9b8a 476px,#20a486 495px,#1f988a 508px,#20948c 511px,#20988a 512px,#27a484 513px,#3eb474 514px,#70c858 515px,#b2da39 516px,#e4e328 517px,#f9e625 518px,#fde725 522px,#f9e625 525px,#e2e22a 526px,#a8d140 527px,#60ab66 528px,#3c767c 529px,#3e3e76 530px,#431663 531px,#440557 532px,#440154 535px,#440456 536px,#431462 537px,#3e3b74 538px,#40747b 539px,#69ad62 540px,#b6d43c 541px,#ebe328 542px,#fae725 543px,#fce725 544px,#f2e529 545px,#c7d83b 546px,#7ab65e 547px,#46827c 548px,#3e4d7e 549px,#442873 550px,#46206f 551px,#41357a 552px,#385486 553px,#2e708c 554px,#26818d 555px,#21918c 557px,#21918c 607px)"></i>
<i style="height:2px;background:linear-gradient(90deg,#482273 0px,#3e4a89 8px,#27808e 18px,#1fa088 27px,#2eb27c 32px,#6cce5a 42px,#96d83f 52px,#a6db35 61px,#a3da37 73px,#8ad647 83px,#52c468 96px,#2cb17e 105px,#1f9f88 113px,#277e8e 125px,#414287 147px,#48186a 168px,#471064 178px,#482878 194px,#3b518b 213px,#1f968b 242px,#24aa83 250px,#5ac864 267px,#7ed24e 280px,#8ad648 294px,#79d152 311px,#39ba76 332px,#21a685 343px,#228c8d 356px,#3d4c8a 388px,#463480 405px,#453882 419px,#404688 429px,#27808e 457px,#1f9a8a 475px,#20a287 494px,#1f968b 507px,#228c8d 510px,#22948b 512px,#269f85 513px,#3eb275 514px,#73c856 515px,#b8da36 516px,#e8e426 517px,#fae725 518px,#fde725 524px,#fae625 525px,#e4e229 526px,#aad03e 527px,#60a765 528px,#3e6c7a 529px,#403471 530px,#44105f 531px,#440456 532px,#440456 536px,#441160 537px,#403771 538px,#447278 539px,#72ae62 540px,#c0d63c 541px,#f1e428 542px,#fce725 543px,#fce725 544px,#f4e529 545px,#cad93a 546px,#7db75e 547px,#488078 548px,#40467a 549px,#44206b 550px,#451867 551px,#422e75 552px,#395084 553px,#2e6e8c 554px,#27808d 555px,#21918c 557px,#21918c 607px)"></i>
<i style="height:2px;background:linear-gradient(90deg,#482878 0px,#3c4e8a 8px,#23898d 20px,#20a486 28px,#32b57a 33px,#68cc5c 42px,#92d742 52px,#a1da38 61px,#9eda3a 73px,#82d44c 84px,#3ebc74 100px,#24aa83 108px,#1f958b 117px,#3c508b 142px,#482576 161px,#471264 176px,#481f70 188px,#404588 208px,#287d8e 231px,#1fa088 246px,#2cb27d 254px,#60ca60 270px,#7cd250 281px,#85d44a 296px,#76d054 311px,#34b779 333px,#20a486 344px,#24868e 359px,#404688 393px,#453681 406px,#443c84 421px,#3e4a89 430px,#24888e 461px,#1e9c89 479px,#1f9f88 496px,#20928c 507px,#24868e 510px,#238e8c 512px,#279c86 513px,#3eb075 514px,#77c855 515px,#bedb34 516px,#ece426 517px,#fbe724 518px,#fae625 525px,#e6e228 526px,#accf3e 527px,#61a364 528px,#3f6476 529px,#402a6a 530px,#440c5b 531px,#440255 532px,#440356 536px,#440e5e 537px,#41326d 538px,#467075 539px,#77b060 540px,#c5d63c 541px,#f2e429 542px,#fce725 543px,#fde725 544px,#f4e528 545px,#cada3a 546px,#80b75c 547px,#4a7e76 548px,#404175 549px,#441965 550px,#451262 551px,#422972 552px,#3a4c83 553px,#2f6c8c 554px,#27808d 555px,#21918c 557px,#21918c 607px)"></i>
<i style="height:2px;background:linear-gradient(90deg,#462f7d 0px,#38568c 9px,#228c8d 21px,#22a685 29px,#36b878 34px,#64cb5e 42px,#8cd646 52px,#9cd93c 61px,#98d83f 74px,#77d053 86px,#38b878 101px,#22a685 109px,#228d8d 120px,#3d4e8a 143px,#482475 162px,#481466 176px,#482273 189px,#3d4d8a 211px,#218e8d 239px,#21a685 249px,#3ebc74 260px,#76d054 280px,#80d34e 295px,#72cf56 311px,#2eb37c 335px,#1fa187 345px,#297a8e 365px,#424086 397px,#453682 409px,#414287 426px,#287c8e 454px,#1f978b 472px,#1f9e88 492px,#228d8d 507px,#26818e 510px,#24898c 512px,#289887 513px,#40af75 514px,#7cc955 515px,#c6dc34 516px,#f0e526 517px,#fce724 518px,#fae625 525px,#e6e228 526px,#acce3d 527px,#629e64 528px,#405c73 529px,#402264 530px,#430858 531px,#440154 533px,#440255 536px,#440c5a 537px,#412e69 538px,#4a6e71 539px,#7cb05d 540px,#c8d83b 541px,#f3e529 542px,#fce725 543px,#fde725 544px,#f4e528 545px,#ccda38 546px,#83b75a 547px,#4e7c74 548px,#423d72 549px,#441662 550px,#451060 551px,#42266e 552px,#3a4a82 553px,#306a8b 554px,#277f8d 555px,#21918c 557px,#21918c 607px)"></i>
<i style="height:2px;background:linear-gradient(90deg,#463681 0px,#375a8c 9px,#20928c 23px,#22a685 29px,#3aba76 35px,#6acd5a 44px,#8cd646 54px,#96d83f 65px,#8ed644 76px,#6acd5a 88px,#2bb07e 104px,#1fa088 112px,#277e8e 125px,#404488 147px,#481e6f 167px,#481668 178px,#472e7c 195px,#375a8c 216px,#1f978b 243px,#26ac82 252px,#55c666 269px,#72d056 281px,#7bd250 297px,#6dce59 311px,#2fb47c 334px,#1fa188 345px,#297a8e 365px,#424086 399px,#443982 411px,#3f4888 428px,#25848e 458px,#1f988b 474px,#1e9c8a 492px,#228b8d 506px,#287c8e 510px,#287c8e 511px,#26858d 512px,#299687 513px,#42ae75 514px,#82ca55 515px,#ccde36 516px,#f4e527 517px,#fce725 518px,#fae625 525px,#e7e228 526px,#adcc3e 527px,#629a64 528px,#415672 529px,#411e64 530px,#440657 531px,#440154 535px,#440254 536px,#430a58 537px,#412a65 538px,#4c6e6d 539px,#80b25a 540px,#cad83a 541px,#f4e528 542px,#fde725 543px,#fde725 544px,#f4e528 545px,#ceda38 546px,#86b758 547px,#507a72 548px,#423a70 549px,#441462 550px,#450e5e 551px,#42226c 552px,#3b4680 553px,#30688b 554px,#287e8d 555px,#238b8d 556px,#20938c 558px,#21918c 607px)"></i>
<i style="height:2px;background:linear-gradient(90deg,#443c84 0px,#34628d 10px,#20928c 23px,#23a884 30px,#42be71 37px,#6dce59 46px,#88d548 55px,#90d643 67px,#84d44b 78px,#53c568 93px,#2ab07f 104px,#1f9d89 113px,#2b768e 128px,#424086 149px,#481a6c 171px,#48186a 179px,#472e7c 194px,#39568c 214px,#1f978b 243px,#24aa82 252px,#54c668 270px,#6ece58 282px,#76d054 297px,#68cc5c 311px,#2cb17e 335px,#1f9f88 346px,#2b748e 368px,#433e85 402px,#433e84 417px,#3e4c8a 429px,#218e8d 464px,#1e9c8a 482px,#1f968b 497px,#26848e 507px,#2a768e 510px,#2a788e 511px,#28818d 512px,#2a9487 513px,#45ae74 514px,#87ca54 515px,#d0de36 516px,#f5e628 517px,#fde725 518px,#fae625 525px,#e7e128 526px,#acca3e 527px,#629564 528px,#425072 529px,#421b63 530px,#440657 531px,#440154 535px,#430857 537px,#412962 538px,#4f6d6a 539px,#86b256 540px,#ceda38 541px,#f4e528 542px,#fde725 543px,#fde725 544px,#f5e528 545px,#d0da36 546px,#88b756 547px,#517870 548px,#43386e 549px,#441260 550px,#440c5c 551px,#42206a 552px,#3b447e 553px,#30668a 554px,#287e8d 555px,#21918c 557px,#21918c 592px,#21918c 607px)"></i>
<i style="height:2px;background:linear-gradient(90deg,#404486 0px,#30688e 11px,#1f9a8a 26px,#28ae80 32px,#59c864 42px,#80d34d 54px,#8ad647 65px,#82d44c 76px,#60ca60 88px,#28ae80 104px,#1f9e89 112px,#277e8e 125px,#404688 147px,#481e70 169px,#481a6c 178px,#472e7c 194px,#365d8d 217px,#1f988a 244px,#26ac82 253px,#50c46a 270px,#69cc5c 282px,#70ce58 297px,#64cb5e 311px,#2ab07e 335px,#1f9e89 346px,#2b758e 368px,#423e85 403px,#424286 419px,#3c508b 430px,#21908d 465px,#1e9a8a 486px,#21908c 499px,#287f8e 507px,#2d708e 510px,#2c738e 511px,#2a7d8d 512px,#2c9287 513px,#48ae72 514px,#8bcc52 515px,#d2df34 516px,#f6e627 517px,#fde725 518px,#fae625 525px,#e6e128 526px,#acc83e 527px,#639064 528px,#444a70 529px,#431862 530px,#440557 531px,#440254 536px,#430857 537px,#422962 538px,#526e68 539px,#8cb453 540px,#d1da36 541px,#f5e528 542px,#fde725 543px,#fde725 544px,#f5e528 545px,#d1db36 546px,#8ab754 547px,#52766e 548px,#43346c 549px,#44105e 550px,#440a5b 551px,#421c68 552px,#3b427c 553px,#31668a 554px,#287d8d 555px,#21918c 557px,#21918c 592px,#21918c 607px)"></i>
<i style="height:2px;background:linear-gradient(90deg,#3e4a89 0px,#2c728e 13px,#1f9d89 27px,#2ab07f 33px,#54c668 42px,#7ad251 54px,#82d44c 64px,#7bd250 76px,#58c865 89px,#27ad80 104px,#1f9c8a 113px,#2e6f8e 131px,#443982 154px,#481e70 172px,#481d6e 180px,#414387 205px,#297a8e 230px,#1fa088 248px,#32b57a 259px,#62ca5f 281px,#6acd5a 296px,#5dc862 312px,#28ae80 336px,#1f9c89 347px,#2f6b8e 374px,#424286 403px,#414287 418px,#3b528b 430px,#218f8d 464px,#1f998a 484px,#218e8d 498px,#277f8e 506px,#306b8e 510px,#2e6e8e 511px,#2a7a8d 512px,#2e9086 513px,#4bae70 514px,#90cc4e 515px,#d6e032 516px,#f6e627 517px,#fde725 518px,#fae625 525px,#e6e028 526px,#acc63f 527px,#638a62 528px,#45436d 529px,#441460 530px,#440456 531px,#440254 536px,#430857 537px,#432961 538px,#566f66 539px,#92b64f 540px,#d5dc33 541px,#f6e627 542px,#fde725 543px,#fde725 544px,#f6e527 545px,#d2db34 546px,#8eb752 547px,#54746c 548px,#44326a 549px,#440e5c 550px,#44085a 551px,#421a66 552px,#3c407c 553px,#31648a 554px,#287c8d 555px,#238a8d 556px,#20938c 558px,#21918c 607px)"></i>
<i style="height:2px;background:linear-gradient(90deg,#3c508a 0px,#20938c 24px,#23a884 31px,#4fc46a 42px,#74d055 54px,#7cd250 66px,#72d055 77px,#4ac26d 92px,#26ac82 104px,#1f9a8a 113px,#30688e 134px,#453580 157px,#482072 172px,#482072 182px,#3e4a89 208px,#23888e 237px,#20a486 250px,#38ba76 263px,#5eca62 282px,#64cc5e 298px,#58c865 312px,#24aa83 338px,#1f968b 350px,#3c508b 392px,#424286 408px,#3d4c8a 426px,#218e8d 463px,#1f988b 479px,#20928c 494px,#287c8e 506px,#32668e 510px,#306a8e 511px,#2c788d 512px,#308f86 513px,#50b06e 514px,#96ce4a 515px,#d9e030 516px,#f7e626 517px,#fde725 519px,#fae625 525px,#e4e029 526px,#aac440 527px,#628462 528px,#453c69 529px,#44115e 530px,#440456 531px,#440254 536px,#430857 537px,#442a60 538px,#5b7062 539px,#9ab84a 540px,#dadc30 541px,#f7e626 542px,#fde725 544px,#f6e627 545px,#d4db34 546px,#90b650 547px,#56726a 548px,#442f68 549px,#440c5b 550px,#440758 551px,#421864 552px,#3c3e7a 553px,#316489 554px,#287c8d 555px,#238a8d 556px,#20938c 558px,#21918c 607px)"></i>
<i style="height:2px;background:linear-gradient(90deg,#39568c 0px,#1f968b 25px,#24aa82 32px,#4ec46a 43px,#6ece58 55px,#74d055 68px,#68cc5c 79px,#36b878 97px,#20a586 107px,#23888e 121px,#404688 149px,#482474 170px,#482072 179px,#414487 204px,#2a788e 229px,#1fa088 249px,#31b47a 261px,#58c666 281px,#5eca61 297px,#53c668 312px,#23a984 338px,#20928c 353px,#3a548c 391px,#404488 407px,#3e4c8a 423px,#21908d 464px,#1f968b 483px,#228a8d 497px,#2a788e 506px,#32648e 509px,#34628d 510px,#32678d 511px,#2e768c 512px,#328f84 513px,#56b26b 514px,#9ed046 515px,#dee12d 516px,#f8e626 517px,#fde725 519px,#fde725 524px,#f9e625 525px,#e2df2a 526px,#a7c040 527px,#627e60 528px,#453464 529px,#440d5a 530px,#440255 531px,#440254 536px,#430857 537px,#452a60 538px,#60725f 539px,#a2ba44 540px,#dfde2c 541px,#f8e626 542px,#fde725 544px,#f6e627 545px,#d6db32 546px,#93b64e 547px,#587068 548px,#442c64 549px,#440a5a 550px,#440658 551px,#421864 552px,#3c3d7a 553px,#326389 554px,#287c8d 555px,#238a8d 556px,#20938c 558px,#21918c 607px)"></i>
<i style="height:2px;background:linear-gradient(90deg,#365c8c 0px,#24868e 19px,#20a486 30px,#30b47c 36px,#5ec962 50px,#6cce59 60px,#68cc5c 75px,#4ac26e 89px,#24aa83 104px,#1f958b 115px,#3b528b 144px,#482a78 167px,#482374 179px,#414487 203px,#287c8e 231px,#1fa188 250px,#34b678 264px,#54c668 283px,#58c665 300px,#4bc26c 314px,#22a884 338px,#20928c 353px,#39568c 391px,#404688 407px,#3c508b 426px,#218f8d 463px,#1f968b 482px,#24888e 497px,#2c748e 506px,#345f8d 509px,#365d8d 510px,#33638d 511px,#2e748c 512px,#349083 513px,#5cb467 514px,#a6d240 515px,#e2e22a 516px,#f9e625 517px,#fde725 521px,#f9e625 525px,#e0de2c 526px,#a4be42 527px,#60785e 528px,#442e60 529px,#430a58 530px,#440254 531px,#440254 536px,#430957 537px,#462a5f 538px,#66745c 539px,#acbc3f 540px,#e6de2a 541px,#fae625 542px,#fde725 544px,#f6e627 545px,#d8dc32 546px,#96b64c 547px,#5a6e64 548px,#442862 549px,#430958 550px,#440657 551px,#421764 552px,#3c3c7a 553px,#326289 554px,#297c8d 555px,#238a8d 556px,#20938c 558px,#21918c 607px)"></i>
<i style="height:2px;background:linear-gradient(90deg,#34608d 0px,#20928c 24px,#22a884 32px,#45c070 43px,#60ca60 55px,#66cc5d 69px,#5ac864 80px,#2eb27c 98px,#1fa088 108px,#277e8e 125px,#404688 150px,#482878 171px,#482878 182px,#3b528b 210px,#1f968b 245px,#26ac82 257px,#4cc26c 280px,#53c668 299px,#47c06e 314px,#22a684 338px,#228b8d 357px,#3a548c 394px,#3e4889 409px,#39568c 428px,#218e8d 462px,#1f958c 477px,#228c8d 493px,#2b768e 505px,#375a8c 509px,#38598c 510px,#34608c 511px,#30728c 512px,#369082 513px,#64b663 514px,#b2d43c 515px,#e8e328 516px,#fae725 517px,#fde725 524px,#f8e626 525px,#dede2e 526px,#a0ba45 527px,#5e7360 528px,#442b60 529px,#430957 530px,#440154 532px,#440254 536px,#430957 537px,#482b5f 538px,#6c745b 539px,#b6be3e 540px,#ecdf28 541px,#fbe625 542px,#fde725 544px,#f7e626 545px,#dadc30 546px,#99b54a 547px,#5c6c62 548px,#442760 549px,#430857 550px,#440657 551px,#421764 552px,#326289 554px,#297b8d 555px,#23898d 556px,#20938c 558px,#21918c 607px)"></i>
<i style="height:2px;background:linear-gradient(90deg,#32658e 0px,#218f8d 23px,#22a685 32px,#44be70 44px,#5cc863 57px,#5dc862 72px,#48c06e 86px,#22a884 103px,#20928c 116px,#3c508b 146px,#472c7a 169px,#482a78 181px,#3b508b 209px,#1f988b 246px,#26ac82 258px,#4ac26e 283px,#4cc26c 302px,#3ebc74 317px,#20a486 339px,#238a8d 358px,#39568c 394px,#3e4c8a 410px,#38588c 428px,#228d8d 461px,#20948c 477px,#228c8d 492px,#2c728e 505px,#3a558c 509px,#3a558c 510px,#365e8c 511px,#30728b 512px,#3a9280 513px,#6eb862 514px,#bdd63a 515px,#eee428 516px,#fce725 517px,#fde725 524px,#f8e626 525px,#dbdc30 526px,#9bb849 527px,#5c6f62 528px,#442860 529px,#430857 530px,#440154 532px,#440254 536px,#430957 537px,#482c5f 538px,#70765c 539px,#bdbf40 540px,#f0e02a 541px,#fce725 542px,#fde725 544px,#f8e626 545px,#dcdc2f 546px,#9db548 547px,#5e6c62 548px,#462660 549px,#440857 550px,#440657 551px,#421663 552px,#3d3b79 553px,#326188 554px,#297b8d 555px,#23898d 556px,#20938c 558px,#21918c 607px)"></i>
<i style="height:2px;background:linear-gradient(90deg,#30698e 0px,#20918c 24px,#22a884 33px,#41be72 45px,#56c667 57px,#56c666 73px,#3ebc74 88px,#22a684 103px,#228c8d 119px,#3e4c8a 149px,#472c7c 171px,#472c7b 182px,#3a548c 210px,#1f978b 246px,#26ac82 259px,#45c070 284px,#46c06f 303px,#3bba76 316px,#20a486 339px,#23888e 359px,#385a8c 393px,#3c4e8a 407px,#38588c 427px,#228e8d 461px,#20938c 478px,#24868e 494px,#2e6f8e 505px,#3c508a 509px,#3c518a 510px,#375c8c 511px,#32728a 512px,#3e947e 513px,#76bc60 514px,#c5d83c 515px,#f2e529 516px,#fce725 517px,#fde725 524px,#f6e627 525px,#d7db32 526px,#96b44d 527px,#5a6a64 528px,#452661 529px,#440857 530px,#440154 532px,#440254 536px,#430957 537px,#482c5f 538px,#70785d 539px,#bfc041 540px,#f1e02b 541px,#fce725 542px,#fde725 544px,#f8e626 545px,#dedc2e 546px,#a0b546 547px,#606b60 548px,#462660 549px,#440857 550px,#440657 551px,#421663 552px,#3d3a79 553px,#326188 554px,#297b8d 555px,#23898d 556px,#20938c 558px,#21918c 607px)"></i>
<i style="height:2px;background:linear-gradient(90deg,#2e6d8e 0px,#218e8d 23px,#22a685 33px,#3cbc74 45px,#50c46a 58px,#4ec46b 74px,#32b67a 92px,#20a287 105px,#24878e 121px,#404688 153px,#472e7c 173px,#46327e 185px,#38598c 212px,#1f988b 247px,#26ac82 261px,#40be72 285px,#40be72 306px,#22a884 334px,#20938c 352px,#355e8d 390px,#3c508b 408px,#365c8d 428px,#218e8d 461px,#20928c 475px,#24888e 491px,#306b8e 505px,#3e4b8a 509px,#3d4d8a 510px,#385a8b 511px,#32728a 512px,#41977c 513px,#7cbf5c 514px,#cada3a 515px,#f4e528 516px,#fde725 517px,#fde725 524px,#f6e527 525px,#d4da34 526px,#90b050 527px,#586466 528px,#452361 529px,#440757 530px,#440154 533px,#440254 536px,#430957 537px,#482e5f 538px,#707a5d 539px,#bec141 540px,#f1e02b 541px,#fce725 542px,#fde725 544px,#f8e626 545px,#e0dc2c 546px,#a4b544 547px,#646a5e 548px,#472560 549px,#440857 550px,#440557 551px,#431663 552px,#3d3a79 553px,#336088 554px,#297b8d 555px,#23898d 556px,#20938c 558px,#21918c 607px)"></i>
<i style="height:2px;background:linear-gradient(90deg,#2c718e 0px,#218e8d 23px,#22a684 34px,#38b877 45px,#4ac26d 59px,#46c06f 76px,#25ac82 98px,#1f968b 112px,#3c508b 148px,#46327e 171px,#46327e 182px,#38588c 211px,#1f988b 248px,#27ae80 264px,#3cbb74 286px,#3aba76 309px,#1fa287 339px,#25838e 363px,#38588c 399px,#3a558c 415px,#33628d 430px,#228e8d 460px,#20928c 476px,#24868e 491px,#2e6c8e 504px,#3e4a89 508px,#404688 509px,#3e4988 510px,#39588a 511px,#347488 512px,#469a79 513px,#84c358 514px,#cedc36 515px,#f4e528 516px,#fde725 517px,#fde725 524px,#f4e528 525px,#cfd836 526px,#8aaa54 527px,#565e68 528px,#462061 529px,#440657 530px,#440154 534px,#440254 536px,#430957 537px,#472e5f 538px,#6f7a5d 539px,#bec241 540px,#f1e12b 541px,#fce725 542px,#f9e625 545px,#e1dc2c 546px,#a7b442 547px,#66685e 548px,#48245f 549px,#440857 550px,#440557 551px,#431663 552px,#3d3a79 553px,#336088 554px,#297b8d 555px,#238a8d 556px,#20938c 558px,#21918c 607px)"></i>
<i style="height:2px;background:linear-gradient(90deg,#2c748e 0px,#228c8d 22px,#22a884 35px,#3aba76 49px,#44bf70 62px,#3ebc74 78px,#22a685 100px,#228c8d 118px,#3e4a8a 152px,#46327e 175px,#443c84 189px,#365d8d 213px,#1f988a 249px,#28ae80 268px,#38b977 288px,#35b878 311px,#1fa088 339px,#25848e 363px,#365a8c 398px,#38588c 415px,#32648e 430px,#228d8d 459px,#20928c 473px,#25848e 491px,#30698e 504px,#404688 508px,#424186 509px,#404687 510px,#39578a 511px,#347688 512px,#4c9f74 513px,#8ec751 514px,#d4de33 515px,#f6e627 516px,#fde725 517px,#fde725 524px,#f4e428 525px,#cbd63a 526px,#84a458 527px,#545768 528px,#461c60 529px,#440657 530px,#440154 535px,#440254 536px,#430a57 537px,#47305f 538px,#6e7d5d 539px,#bec341 540px,#f1e12b 541px,#fce725 542px,#f9e625 545px,#e2dc2a 546px,#aab440 547px,#68685c 548px,#48245f 549px,#440757 550px,#440557 551px,#431663 552px,#3d3979 553px,#336088 554px,#297b8d 555px,#238a8d 556px,#20938c 558px,#21918c 607px)"></i>
<i style="height:2px;background:linear-gradient(90deg,#2a778e 0px,#228d8d 23px,#21a685 35px,#37b878 50px,#3fbc73 66px,#34b67a 83px,#1f9f88 104px,#27808e 124px,#3f4889 155px,#463480 175px,#424086 191px,#306a8e 220px,#1f9c8a 252px,#2cb07e 274px,#35b878 297px,#2cb07e 318px,#1e9b8a 344px,#33628d 392px,#38588c 409px,#31668e 430px,#218e8d 460px,#21908c 475px,#26808e 492px,#32668e 504px,#424086 508px,#433c84 509px,#404486 510px,#3a5789 511px,#367886 512px,#53a46e 513px,#9acb48 514px,#dce02e 515px,#f8e626 516px,#fde725 518px,#fce725 524px,#f2e429 525px,#c6d23c 526px,#7e9e5a 527px,#504f68 528px,#46185e 529px,#440456 530px,#440154 535px,#440254 536px,#430a57 537px,#46325f 538px,#6e805c 539px,#bdc440 540px,#f0e12b 541px,#fce725 542px,#f9e625 545px,#e4dc2a 546px,#acb440 547px,#6a665c 548px,#49235f 549px,#440757 550px,#440557 551px,#431663 552px,#336088 554px,#297b8d 555px,#238a8d 556px,#20938c 558px,#21918c 607px)"></i>
<i style="height:2px;background:linear-gradient(90deg,#297a8e 0px,#228b8d 22px,#21a685 36px,#37b878 55px,#37b878 75px,#21a686 98px,#228b8d 118px,#3e4c8a 154px,#453782 175px,#414387 192px,#2f6c8e 221px,#1e9c8a 253px,#2db27e 280px,#30b47c 307px,#1fa088 338px,#25838e 364px,#355e8d 400px,#345e8d 419px,#2e6e8e 434px,#218f8d 460px,#218e8d 477px,#287c8e 493px,#34628d 504px,#443a82 508px,#443882 509px,#414284 510px,#3a5888 511px,#387c84 512px,#5ca869 513px,#a8cf40 514px,#e4e22a 515px,#fae625 516px,#fde725 523px,#fce725 524px,#f2e42a 525px,#c2d03d 526px,#77965b 527px,#4d4665 528px,#45135c 529px,#440456 530px,#440254 536px,#430a57 537px,#46335e 538px,#6d825c 539px,#bdc640 540px,#f0e22a 541px,#fce725 542px,#f9e625 545px,#e5dc29 546px,#aeb33e 547px,#6b655b 548px,#4a225e 549px,#440757 550px,#440557 551px,#431663 552px,#336088 554px,#297b8d 555px,#238a8d 556px,#20938c 558px,#21918c 607px)"></i>
<i style="height:2px;background:linear-gradient(90deg,#287c8e 0px,#228c8d 23px,#22a884 38px,#34b67a 58px,#2fb47c 80px,#1f9e88 102px,#27808e 124px,#3d4c8a 155px,#443a83 175px,#414387 190px,#2e6c8e 221px,#1e9c8a 254px,#2ab07e 282px,#2ab07e 312px,#1e9c8a 342px,#32648e 396px,#345e8d 413px,#2f6a8e 430px,#218e8d 458px,#218e8d 475px,#287e8e 491px,#32648e 503px,#3a548b 505px,#453580 508px,#453580 509px,#414084 510px,#3a5a88 511px,#3c8082 512px,#68ae66 513px,#b8d33e 514px,#ede428 515px,#fce725 516px,#fce725 524px,#f1e32a 525px,#bfcc3e 526px,#718d5a 527px,#493c60 528px,#440e58 529px,#440255 530px,#440254 536px,#430b57 537px,#46345e 538px,#6d855a 539px,#bdc840 540px,#f0e22a 541px,#fce725 542px,#fae625 545px,#e5dc29 546px,#aeb23e 547px,#6c645a 548px,#4a215e 549px,#440757 550px,#440557 551px,#431663 552px,#336088 554px,#297b8d 555px,#238a8d 556px,#20938c 558px,#21918c 607px)"></i>
<i style="height:2px;background:linear-gradient(90deg,#287e8e 0px,#228c8d 23px,#22a884 39px,#30b47c 61px,#2ab07f 82px,#1f9a8a 104px,#277e8e 125px,#3c4e8a 155px,#443c84 176px,#3c508a 200px,#218f8d 245px,#22a884 270px,#2ab07e 296px,#24aa83 321px,#1f948c 349px,#32648e 397px,#34628d 415px,#2d708e 432px,#228e8d 457px,#218f8d 472px,#287c8e 491px,#34608d 503px,#3c4e8a 505px,#443680 507px,#46307d 508px,#46327e 509px,#414082 510px,#3a5c87 511px,#3f8680 512px,#72b463 513px,#c2d63e 514px,#f2e429 515px,#fce725 516px,#fce725 524px,#f0e22a 525px,#bdc940 526px,#6e865a 527px,#46365e 528px,#430b57 529px,#440254 530px,#440254 536px,#430b56 537px,#47365d 538px,#6e8958 539px,#beca3e 540px,#f1e22a 541px,#fce725 542px,#fae625 545px,#e5dc29 546px,#afb23e 547px,#6c625a 548px,#4a205e 549px,#440757 550px,#440557 551px,#431663 552px,#326088 554px,#297c8d 555px,#238a8d 556px,#20938c 558px,#21918c 607px)"></i>
<i style="height:2px;background:linear-gradient(90deg,#27808e 0px,#238a8d 22px,#20a486 38px,#2cb27e 59px,#26ac82 83px,#1f968b 106px,#277e8e 125px,#3d4c8a 158px,#423e85 177px,#375a8c 207px,#1f968b 252px,#26ac82 282px,#24aa82 315px,#1f948c 349px,#31668e 397px,#32668e 418px,#297a8e 438px,#21908d 460px,#228c8d 476px,#2a788e 492px,#365d8c 503px,#46307d 507px,#472b7a 508px,#46307c 509px,#414082 510px,#396086 511px,#438c7d 512px,#7aba5e 513px,#c8d93b 514px,#f4e529 515px,#fce725 516px,#fce725 524px,#f0e22a 525px,#bdc640 526px,#6d825c 527px,#46325e 528px,#430a57 529px,#440254 530px,#440254 536px,#440c56 537px,#493a5c 538px,#728c56 539px,#c0cc3d 540px,#f1e32a 541px,#fce725 542px,#f9e625 545px,#e5dc2a 546px,#aeb03e 547px,#6c625a 548px,#4b205e 549px,#440657 550px,#440557 551px,#431663 552px,#326188 554px,#287c8d 555px,#238b8d 556px,#20938c 558px,#21918c 607px)"></i>
<i style="height:2px;background:linear-gradient(90deg,#26818e 0px,#228b8d 23px,#22a684 43px,#29ae80 64px,#22a685 89px,#228e8d 114px,#3c508a 157px,#424286 178px,#34608d 211px,#1f958b 252px,#22a884 280px,#22a884 316px,#20938c 351px,#2f6c8e 393px,#32668e 412px,#2c748e 432px,#218f8d 457px,#228e8d 472px,#2a798e 490px,#355e8d 502px,#3c4e8a 504px,#472b79 507px,#482777 508px,#462e7a 509px,#404282 510px,#396486 511px,#489378 512px,#85c057 513px,#cfdc36 514px,#f4e628 515px,#fde725 516px,#fce725 524px,#f1e12b 525px,#bec341 526px,#6e7c5d 527px,#47305f 528px,#430a57 529px,#440254 530px,#440254 536px,#440c56 537px,#4d3c5a 538px,#789053 539px,#c4ce3b 540px,#f2e429 541px,#fce725 542px,#f9e625 545px,#e4dc2a 546px,#acb03f 547px,#6c605a 548px,#4b1f5e 549px,#440657 550px,#440557 551px,#431663 552px,#3d3a79 553px,#326188 554px,#287c8d 555px,#238b8d 556px,#20938c 558px,#21918c 607px)"></i>
<i style="height:2px;background:linear-gradient(90deg,#26828e 0px,#228b8d 23px,#21a686 44px,#26ac82 67px,#1fa088 94px,#27808e 124px,#3a528b 156px,#404488 177px,#38578c 202px,#20948c 252px,#22a884 284px,#21a686 318px,#218e8d 357px,#2e6e8e 393px,#30688e 413px,#2b768e 432px,#218e8d 456px,#228c8d 472px,#2a788e 489px,#365a8c 502px,#3e4888 504px,#482676 507px,#482474 508px,#462d79 509px,#3f4482 510px,#3a6a84 511px,#509a72 512px,#93c64e 513px,#d8de30 514px,#f6e626 515px,#fde725 516px,#fce725 524px,#f1e02b 525px,#bfc041 526px,#70775d 527px,#482c5f 528px,#440957 529px,#440154 531px,#440254 536px,#460d55 537px,#523e56 538px,#80944e 539px,#c8d038 540px,#f3e429 541px,#fce725 542px,#f9e625 545px,#e2db2b 546px,#aaae40 547px,#6a5e5a 548px,#4b1e5e 549px,#440657 550px,#440557 551px,#431663 552px,#3d3a79 553px,#326288 554px,#287c8d 555px,#238b8d 556px,#20938c 558px,#21918c 607px)"></i>
<i style="height:2px;background:linear-gradient(90deg,#25848e 0px,#238a8d 23px,#20a486 45px,#24aa84 72px,#1f988a 100px,#277e8e 125px,#3a528b 158px,#404788 178px,#34628d 210px,#20928c 251px,#20a686 284px,#20a486 319px,#228b8d 360px,#2e6c8e 398px,#2e6e8e 420px,#26828e 440px,#21908c 460px,#24888e 477px,#2d708e 492px,#38568c 502px,#404286 504px,#472877 506px,#482172 507px,#482272 508px,#452e79 509px,#3e4882 510px,#3a7182 511px,#5aa26b 512px,#a4cc44 513px,#e2e02b 514px,#f9e626 515px,#fde725 519px,#fce625 524px,#f0e02a 525px,#bebc40 526px,#72725c 527px,#49295f 528px,#440857 529px,#440154 531px,#440254 536px,#460d54 537px,#584053 538px,#8a9749 539px,#ced435 540px,#f4e428 541px,#fde725 542px,#f8e626 545px,#e0da2c 546px,#a7ad42 547px,#685c5c 548px,#4a1d5e 549px,#440657 550px,#440557 551px,#421663 552px,#3d3b79 553px,#326288 554px,#287d8d 555px,#238b8d 556px,#20938c 558px,#21918c 607px)"></i>
<i style="height:2px;background:linear-gradient(90deg,#25848e 0px,#228b8d 24px,#20a486 47px,#22a685 75px,#1f948c 103px,#277e8e 125px,#3a548c 159px,#3e4a89 179px,#32658e 212px,#20918c 251px,#20a286 283px,#1fa288 320px,#238a8d 361px,#2e6e8e 401px,#2c728e 426px,#218f8d 454px,#228c8d 471px,#2b748e 489px,#3a528b 502px,#462e7b 505px,#481d6e 507px,#472070 508px,#443079 509px,#3d4e83 510px,#3d7981 511px,#66aa66 512px,#b6d23e 513px,#ece228 514px,#fce725 515px,#fae625 524px,#e9de29 525px,#b4b63e 526px,#6d6a5b 527px,#49255f 528px,#440857 529px,#440154 531px,#440254 536px,#480e54 537px,#5e424f 538px,#959a42 539px,#d5d431 540px,#f6e527 541px,#fde725 542px,#fde725 544px,#f8e626 545px,#deda2e 546px,#a3ac44 547px,#665b5c 548px,#4a1c5e 549px,#450657 550px,#440557 551px,#421663 552px,#3c3b79 553px,#326288 554px,#287d8d 555px,#238b8d 556px,#20938c 558px,#21918c 607px)"></i>
<i style="height:2px;background:linear-gradient(90deg,#25858e 0px,#228b8d 24px,#1fa288 47px,#1fa288 82px,#25848e 121px,#38588c 156px,#3e4c8a 178px,#32658e 211px,#218f8d 250px,#1fa287 287px,#1f9e88 324px,#238a8d 362px,#2e708e 402px,#2a768e 427px,#218f8d 453px,#228c8d 470px,#2c728e 489px,#3a548b 501px,#404286 503px,#481c6e 506px,#48196a 507px,#471f6f 508px,#44327a 509px,#3c5484 510px,#408280 511px,#72b264 512px,#c2d63e 513px,#f2e429 514px,#fce725 515px,#fde725 523px,#f8e626 524px,#e0dc2d 525px,#a4b044 526px,#66635e 527px,#49215f 528px,#440657 529px,#440154 532px,#440254 536px,#4a0e52 537px,#66444a 538px,#a29d3a 539px,#dcd62c 540px,#f8e526 541px,#fde725 543px,#f7e626 545px,#dbd930 546px,#9faa47 547px,#645a5e 548px,#4a1c5e 549px,#440657 550px,#440557 551px,#421763 552px,#3c3c79 553px,#326388 554px,#287d8d 555px,#238b8d 556px,#20938c 558px,#21918c 607px)"></i>
<i style="height:2px;background:linear-gradient(90deg,#24868e 0px,#238a8d 23px,#1fa088 48px,#1fa088 82px,#26818e 123px,#385a8c 157px,#3c4e8a 178px,#31688e 212px,#20918c 254px,#1fa088 291px,#1e9b8a 330px,#238a8d 363px,#2c728e 403px,#2a788e 427px,#21908d 453px,#238a8d 471px,#2d708e 489px,#3c4f8a 501px,#423c82 503px,#472071 505px,#48186a 506px,#481668 507px,#46206f 508px,#42367c 509px,#3b5b84 510px,#448a7c 511px,#7cba5e 512px,#c8d93a 513px,#f4e528 514px,#fce725 515px,#fde725 523px,#f6e527 524px,#d6d834 525px,#95a94e 526px,#5e5a62 527px,#481d5f 528px,#440657 529px,#440154 535px,#450254 536px,#4c1052 537px,#6e4648 538px,#aea034 539px,#e4d828 540px,#fae625 541px,#fde725 544px,#f6e527 545px,#d8d832 546px,#9aa84a 547px,#625860 548px,#491b5e 549px,#440557 550px,#440557 551px,#421763 552px,#316489 554px,#287e8d 555px,#228c8d 556px,#20938c 559px,#21918c 607px)"></i>
<i style="height:2px;background:linear-gradient(90deg,#24868e 0px,#228b8d 25px,#1f9e89 48px,#1e9e89 82px,#26818e 123px,#375a8c 158px,#3b528b 179px,#2f6a8e 214px,#21908d 253px,#1f9e88 292px,#1f9a8a 330px,#23888e 365px,#2c728e 405px,#287c8e 430px,#21908c 453px,#238a8d 471px,#2d708e 488px,#3e4b89 501px,#472676 504px,#471366 506px,#471466 507px,#462270 508px,#403c7e 509px,#3a6384 510px,#4a9477 511px,#88c256 512px,#d1dc36 513px,#f6e628 514px,#fde725 515px,#fde725 523px,#f4e428 524px,#ccd538 525px,#86a054 526px,#565064 527px,#47185e 528px,#440456 529px,#440154 535px,#450455 536px,#4e1355 537px,#764d4b 538px,#bca634 539px,#ecda26 540px,#fbe625 541px,#fde725 544px,#f6e527 545px,#d5d834 546px,#96a64c 547px,#5f5660 548px,#491a5e 549px,#440557 550px,#440557 551px,#421764 552px,#316489 554px,#287e8d 555px,#228c8d 556px,#20928c 559px,#21918c 607px)"></i>
<i style="height:2px;background:linear-gradient(90deg,#24868e 0px,#238a8d 24px,#1e9c89 50px,#1e9c8a 82px,#26818e 123px,#365d8d 157px,#3a548c 179px,#2e6c8e 215px,#228d8d 251px,#1e9c89 291px,#1f988a 331px,#238a8d 364px,#2b758e 406px,#277f8e 431px,#21908c 452px,#228a8d 469px,#2d708e 487px,#3e4c8a 500px,#443a82 502px,#471567 505px,#471062 506px,#471466 507px,#452572 508px,#3e4280 509px,#3a6c83 510px,#529e70 511px,#97c84b 512px,#dae030 513px,#f8e626 514px,#fde725 516px,#fce725 523px,#f2e429 524px,#c4d03c 525px,#7a9858 526px,#4f4664 527px,#46135c 528px,#440456 529px,#450456 536px,#501759 537px,#7c5452 538px,#c5aa3a 539px,#f2dc28 540px,#fce625 541px,#fde725 544px,#f5e528 545px,#d2d734 546px,#91a450 547px,#5c5462 548px,#48195e 549px,#440556 550px,#440557 551px,#421764 552px,#3c3d7a 553px,#316489 554px,#277e8d 555px,#228c8d 556px,#20928c 559px,#21918c 607px)"></i>
<i style="height:2px;background:linear-gradient(90deg,#24878e 0px,#238a8d 25px,#1e9a8a 50px,#1f9a8a 82px,#26818e 123px,#355e8d 158px,#39568c 180px,#2e6e8e 216px,#228d8d 252px,#1e9c8a 296px,#20948c 345px,#2a788e 404px,#27808e 430px,#20908c 451px,#238a8d 469px,#2e6e8e 487px,#404788 500px,#44337e 502px,#471063 505px,#460e60 506px,#461667 507px,#442a74 508px,#3e4a82 509px,#3a7682 510px,#5ea668 511px,#a8ce41 512px,#e4e22a 513px,#fae625 514px,#fde725 521px,#fce725 523px,#f1e32a 524px,#bfcc3e 525px,#718c5a 526px,#493c60 527px,#440e58 528px,#440255 529px,#440254 535px,#450556 536px,#4f1b5c 537px,#7c5a57 538px,#c6ae3e 539px,#f2dc2a 540px,#fce625 541px,#fde725 544px,#f4e528 545px,#d0d636 546px,#8ca252 547px,#5a5262 548px,#48185e 549px,#440556 550px,#440657 551px,#421864 552px,#3c3e7a 553px,#316589 554px,#277f8d 555px,#228c8d 556px,#20928c 559px,#21918c 607px)"></i>
<i style="height:2px;background:linear-gradient(90deg,#24878e 0px,#238a8d 25px,#1f9a8a 53px,#1f958c 89px,#277f8e 124px,#355e8d 161px,#38588c 182px,#2c738e 220px,#218e8d 256px,#1f9a8a 298px,#20918c 354px,#297a8e 402px,#26808e 429px,#20918c 451px,#24888e 470px,#306b8e 487px,#414286 500px,#471e70 503px,#460c5f 505px,#460d60 506px,#461868 507px,#433078 508px,#3c5384 509px,#3e8080 510px,#6cb064 511px,#bad43d 512px,#eee428 513px,#fce725 514px,#fce725 523px,#f0e22a 524px,#bdc840 525px,#6e845b 526px,#46355e 527px,#430b57 528px,#440254 529px,#440254 535px,#450656 536px,#4e1f5e 537px,#7a605a 538px,#c4b240 539px,#f2dd2a 540px,#fce625 541px,#fde725 544px,#f4e528 545px,#ccd438 546px,#88a054 547px,#575063 548px,#47175e 549px,#440556 550px,#440657 551px,#421864 552px,#3b3e7a 553px,#306689 554px,#277f8d 555px,#228c8d 556px,#20928c 559px,#21918c 607px)"></i>
<i style="height:2px;background:linear-gradient(90deg,#24878e 0px,#238a8d 26px,#1f988b 53px,#20948c 90px,#277f8e 124px,#345f8d 162px,#365a8d 182px,#2b758e 222px,#228c8d 253px,#1f988a 301px,#218f8d 358px,#287c8e 403px,#26838e 430px,#20928c 451px,#24878e 470px,#30688e 487px,#404386 499px,#46327d 501px,#460e61 504px,#460a5c 505px,#460d60 506px,#461c6c 507px,#42377b 508px,#3a5c84 509px,#428a7e 510px,#77b960 511px,#c6d83c 512px,#f2e429 513px,#fce725 514px,#fce725 523px,#f0e12a 524px,#bdc440 525px,#6e7e5c 526px,#46315f 527px,#430a57 528px,#440254 529px,#440254 535px,#440657 536px,#4c225e 537px,#78665c 538px,#c4b640 539px,#f2de2a 540px,#fce625 541px,#fce725 544px,#f3e429 545px,#cad43a 546px,#839e56 547px,#544c64 548px,#47165d 549px,#440456 550px,#440657 551px,#421864 552px,#3b3f7a 553px,#306689 554px,#27808d 555px,#228c8d 556px,#20938c 558px,#21918c 607px)"></i>
<i style="height:2px;background:linear-gradient(90deg,#24878e 0px,#228b8d 28px,#1f968b 57px,#21908d 96px,#277e8e 125px,#34608d 162px,#365c8d 182px,#2b758e 221px,#228d8d 257px,#1f978b 308px,#228e8d 361px,#287e8e 405px,#24868e 431px,#20928c 450px,#23888e 468px,#30688e 486px,#423e84 499px,#471e6e 502px,#460a5d 504px,#46085b 505px,#460f62 506px,#45226f 507px,#403f7e 508px,#386685 509px,#469679 510px,#82c158 511px,#cedc38 512px,#f4e528 513px,#fde725 514px,#fce625 523px,#eee02a 524px,#bac040 525px,#6d785c 526px,#472d5f 527px,#430957 528px,#440154 530px,#440254 535px,#440857 536px,#4b265f 537px,#756c5c 538px,#c2b941 539px,#f2df2b 540px,#fce625 541px,#fce725 544px,#f3e429 545px,#c7d23a 546px,#7f9a58 547px,#524a64 548px,#46145d 549px,#440456 550px,#440657 551px,#421964 552px,#3b407a 553px,#306789 554px,#27808d 555px,#228c8d 556px,#20938c 558px,#21918c 607px)"></i>
<i style="height:2px;background:linear-gradient(90deg,#24878e 0px,#238a8d 28px,#1f948c 58px,#228e8d 98px,#287d8e 126px,#34608d 165px,#34608d 187px,#297a8e 226px,#218e8d 264px,#1f968b 322px,#228d8d 363px,#27808e 406px,#24888e 431px,#20938c 451px,#25848e 471px,#32648d 487px,#443882 499px,#460d60 503px,#45065a 504px,#45085b 505px,#461364 506px,#442874 507px,#3c4882 508px,#377284 509px,#4da073 510px,#90c84f 511px,#d6de32 512px,#f6e627 513px,#fde725 514px,#fde725 522px,#fae625 523px,#e4de2b 524px,#aaba41 525px,#66705d 526px,#462960 527px,#430857 528px,#440154 530px,#440254 535px,#440857 536px,#4a2a5f 537px,#72725d 538px,#c0bd41 539px,#f1e02b 540px,#fce625 541px,#fce725 544px,#f2e429 545px,#c4d03c 546px,#7a9859 547px,#4f4864 548px,#46145c 549px,#440456 550px,#440657 551px,#411964 552px,#3a407a 553px,#306889 554px,#27808d 555px,#228d8d 556px,#20938c 558px,#21918c 607px)"></i>
<i style="height:2px;background:linear-gradient(90deg,#24878e 0px,#238a8d 27px,#20948c 61px,#23898e 106px,#297b8e 129px,#34628d 167px,#33638d 189px,#27808e 234px,#20928c 285px,#20928c 352px,#26808e 407px,#238a8d 432px,#20938c 451px,#25848e 470px,#32648e 486px,#443a82 498px,#471c6e 501px,#46085c 503px,#450658 504px,#460a5c 505px,#461868 506px,#423078 507px,#3a5284 508px,#387c83 509px,#58aa6b 510px,#a0ce44 511px,#dfe02c 512px,#f8e626 513px,#fde725 516px,#fde725 522px,#f6e626 523px,#d8db31 524px,#98b34c 525px,#5c6963 526px,#462560 527px,#440857 528px,#440154 530px,#440254 535px,#430957 536px,#482d5f 537px,#70785d 538px,#bec041 539px,#f1e02b 540px,#fce725 541px,#fce725 544px,#f2e42a 545px,#c2d03d 546px,#76945a 547px,#4c4464 548px,#45125c 549px,#440456 550px,#440657 551px,#411a64 552px,#3a417b 553px,#2f6889 554px,#26818d 555px,#228d8d 556px,#20938c 558px,#21918c 607px)"></i>
<i style="height:2px;background:linear-gradient(90deg,#24878e 0px,#238a8d 28px,#20928c 64px,#25858e 116px,#32648e 165px,#32648e 189px,#23898e 254px,#20948c 317px,#218e8d 363px,#26828e 410px,#228c8d 432px,#20948c 450px,#26828e 470px,#32648e 485px,#443a82 497px,#472272 500px,#450658 503px,#450558 504px,#460d60 505px,#461e6d 506px,#40397c 507px,#385c86 508px,#3a8780 509px,#64b264 510px,#b0d43c 511px,#e8e228 512px,#fae625 513px,#fde725 522px,#f4e528 523px,#ced738 524px,#88aa56 525px,#546069 526px,#442162 527px,#440657 528px,#440154 531px,#440254 535px,#430a57 536px,#46305f 537px,#6e7e5c 538px,#bec440 539px,#f1e12b 540px,#fce725 541px,#fce725 544px,#f1e32a 545px,#c0ce3e 546px,#73925b 547px,#4a4263 548px,#44105b 549px,#440456 550px,#440657 551px,#411a64 552px,#3a427b 553px,#2f6989 554px,#26818d 555px,#228d8d 556px,#20938c 558px,#21918c 607px)"></i>
<i style="height:2px;background:linear-gradient(90deg,#24878e 0px,#238a8d 29px,#20908c 68px,#26818e 123px,#31678e 162px,#32668e 188px,#238a8d 258px,#20928c 326px,#228e8d 365px,#25848e 411px,#228e8d 433px,#20948c 450px,#26808e 471px,#355e8d 486px,#453580 497px,#471c6c 500px,#46085b 502px,#450457 503px,#45065a 504px,#461263 505px,#452672 506px,#3e4280 507px,#366887 508px,#3e927e 509px,#74bb5f 510px,#c2d83a 511px,#f0e428 512px,#fce725 513px,#fce725 522px,#f2e429 523px,#c6d33c 524px,#7ba25e 525px,#4e566c 526px,#441c62 527px,#440657 528px,#440154 534px,#440254 535px,#430a57 536px,#46345e 537px,#6d845a 538px,#bdc740 539px,#f0e22a 540px,#fce725 541px,#fce725 544px,#f1e32a 545px,#becc3f 546px,#708e5c 547px,#483e62 548px,#44105a 549px,#440355 550px,#440657 551px,#411a64 552px,#3a437b 553px,#2f6a8a 554px,#26828d 555px,#20928c 557px,#21918c 607px)"></i>
<i style="height:2px;background:linear-gradient(90deg,#24878e 0px,#238a8d 30px,#218f8d 73px,#277f8e 125px,#31668e 166px,#30688e 192px,#24888e 255px,#20928c 327px,#228e8d 366px,#24868e 412px,#218e8d 432px,#1f958c 449px,#277f8e 471px,#355e8d 485px,#463580 496px,#482070 499px,#450658 502px,#450457 503px,#460a5c 504px,#461868 505px,#442e78 506px,#3c4c84 507px,#347287 508px,#449c7a 509px,#80c359 510px,#ccdc38 511px,#f4e528 512px,#fde725 513px,#fce725 522px,#f1e32a 523px,#c0cf40 524px,#729860 525px,#4a4c6c 526px,#441860 527px,#440456 528px,#440254 535px,#440c56 536px,#48385c 537px,#708a58 538px,#becb3e 539px,#f1e32a 540px,#fce725 541px,#fce725 544px,#f1e22a 545px,#beca3f 546px,#6e8a5c 547px,#483a62 548px,#440e59 549px,#440355 550px,#440657 551px,#411b65 552px,#39447b 553px,#2e6b8a 554px,#26828d 555px,#228e8d 556px,#20928c 559px,#21918c 607px)"></i>
<i style="height:2px;background:linear-gradient(90deg,#24878e 0px,#23898d 31px,#228e8d 73px,#277f8e 125px,#30688e 165px,#306a8e 192px,#24888e 257px,#20928c 341px,#24888e 414px,#20908c 433px,#1f958c 450px,#287e8e 471px,#365c8d 485px,#463580 495px,#482474 498px,#46085a 501px,#450558 503px,#460e60 504px,#461e6e 505px,#42367c 506px,#385686 507px,#337c86 508px,#4aa673 509px,#8cca50 510px,#d4de33 511px,#f6e627 512px,#fde725 513px,#fce725 522px,#f0e22a 523px,#bcca40 524px,#6e8e62 525px,#48426a 526px,#44135e 527px,#440456 528px,#440254 535px,#440c56 536px,#4c3b59 537px,#789054 538px,#c4ce3b 539px,#f2e429 540px,#fce725 541px,#fce725 544px,#f0e22a 545px,#bdc840 546px,#6d875c 547px,#463760 548px,#430c58 549px,#440355 550px,#440658 551px,#411c65 552px,#39447c 553px,#2e6c8a 554px,#26838d 555px,#228e8d 556px,#20928c 559px,#21918c 607px)"></i>
<i style="height:2px;background:linear-gradient(90deg,#24878e 0px,#238a8d 33px,#228b8d 84px,#277e8e 126px,#30688e 170px,#2d708e 205px,#24878e 255px,#20928c 349px,#238a8d 413px,#20928c 433px,#1f958c 450px,#297a8e 472px,#38598c 485px,#46317e 495px,#481e6e 498px,#450458 501px,#45085a 503px,#461264 504px,#452672 505px,#404081 506px,#366288 507px,#348884 508px,#55af6c 509px,#9bd048 510px,#dbe02e 511px,#f8e626 512px,#fde725 514px,#fae625 522px,#e8e029 523px,#b0c43f 524px,#66825e 525px,#463864 526px,#440e5a 527px,#440255 528px,#440254 535px,#460d54 536px,#543e55 537px,#84964c 538px,#cbd236 539px,#f4e428 540px,#fce725 541px,#fce725 544px,#f0e22a 545px,#bdc640 546px,#6d845c 547px,#46345f 548px,#430b57 549px,#440355 550px,#440758 551px,#411c66 552px,#39467c 553px,#2e6c8a 554px,#26838d 555px,#228e8d 556px,#20928c 559px,#21918c 607px)"></i>
<i style="height:2px;background:linear-gradient(90deg,#24878e 0px,#238a8d 37px,#23888e 94px,#287d8e 128px,#306a8e 172px,#2a768e 216px,#24878e 257px,#20928c 355px,#228b8d 415px,#1f978b 446px,#26838e 466px,#32648d 481px,#443982 492px,#482071 497px,#45075a 500px,#450457 502px,#460a5d 503px,#461869 504px,#3c4a84 506px,#336c89 507px,#389280 508px,#62b863 509px,#abd43e 510px,#e4e229 511px,#fae625 512px,#fde725 519px,#fde725 521px,#f8e626 522px,#dede2e 523px,#9fbd46 524px,#5c7860 525px,#442e61 526px,#430a58 527px,#440254 528px,#440254 535px,#480e54 536px,#5e4250 537px,#959a42 538px,#d5d530 539px,#f6e527 540px,#fde725 541px,#fce725 544px,#f0e22a 545px,#bdc640 546px,#6e805c 547px,#46325f 548px,#430a57 549px,#440355 550px,#440859 551px,#411e68 552px,#38487d 553px,#2e6e8a 554px,#25848d 555px,#20928c 557px,#21918c 607px)"></i>
<i style="height:2px;background:linear-gradient(90deg,#24878e 0px,#228a8d 46px,#25848e 108px,#2c748e 145px,#2f6b8e 182px,#26818e 237px,#21908c 329px,#218e8d 373px,#218e8d 425px,#1f978b 445px,#26828e 466px,#32648e 480px,#443a82 491px,#482273 496px,#450458 500px,#450658 502px,#460e61 503px,#42367c 505px,#3a5486 506px,#317688 507px,#3c9c7c 508px,#72c05c 509px,#bcd937 510px,#ece426 511px,#fae725 512px,#fde725 521px,#f6e628 522px,#d4db34 523px,#8eb650 524px,#546f66 525px,#422a62 526px,#430857 527px,#440154 529px,#450354 535px,#4c1155 536px,#6a484d 537px,#a8a13a 538px,#e0d82a 539px,#f8e626 540px,#fde725 543px,#fce725 544px,#f1e12b 545px,#bec441 546px,#6e7e5c 547px,#47305f 548px,#430a57 549px,#440355 550px,#44085a 551px,#412068 552px,#384a7e 553px,#2d6e8a 554px,#25848d 555px,#218e8c 556px,#20928c 559px,#21918c 607px)"></i>
<i style="height:2px;background:linear-gradient(90deg,#24878e 0px,#24888e 89px,#287c8e 130px,#2f6c8e 175px,#297b8e 224px,#238a8d 280px,#21908c 364px,#218e8d 420px,#1f988b 445px,#26818e 466px,#34628d 480px,#443a84 490px,#481e6e 496px,#450659 499px,#440356 501px,#45085a 502px,#461365 503px,#462673 504px,#365d88 506px,#308088 507px,#44a576 508px,#82c756 509px,#ccdd35 510px,#f3e527 511px,#fce725 512px,#fde725 521px,#f4e528 522px,#cbd83a 523px,#81ae59 524px,#4e676c 525px,#422562 526px,#430857 527px,#440154 529px,#450456 535px,#4e1659 536px,#765451 537px,#baa938 538px,#ecda28 539px,#fae625 540px,#fce725 544px,#f1e12b 545px,#bec241 546px,#6f7c5d 547px,#472e5f 548px,#430a57 549px,#440355 550px,#440a5a 551px,#41226a 552px,#384c7f 553px,#2d708b 554px,#25858d 555px,#218f8c 556px,#20918c 560px,#21918c 607px)"></i>
<i style="height:2px;background:linear-gradient(90deg,#24878e 0px,#23888e 39px,#25848e 109px,#2e6d8e 176px,#287c8e 226px,#238a8d 286px,#20918c 365px,#20918c 425px,#1f998a 443px,#25848e 463px,#32668e 478px,#443c84 489px,#482071 495px,#440456 499px,#450456 501px,#460a5c 502px,#461869 503px,#3e4784 505px,#34668a 506px,#328a85 507px,#4eae6f 508px,#92ce4c 509px,#d6e032 510px,#f6e627 511px,#fde725 512px,#fce725 521px,#f2e42a 522px,#c4d43e 523px,#77a560 524px,#495e6f 525px,#422163 526px,#440657 527px,#440154 530px,#440254 534px,#450656 535px,#4e1c5c 536px,#7b5c58 537px,#c4b03d 538px,#f2dc2a 539px,#fce625 540px,#fce725 544px,#f1e02b 545px,#bec041 546px,#70785d 547px,#482e5f 548px,#430957 549px,#440355 550px,#440a5c 551px,#41246c 552px,#384d80 553px,#2c708b 554px,#25858d 555px,#218f8c 556px,#20918c 560px,#21918c 607px)"></i>
<i style="height:2px;background:linear-gradient(90deg,#24868e 0px,#24868e 94px,#287c8e 132px,#2e6e8e 178px,#26808e 236px,#20928c 362px,#20928c 424px,#1f998a 444px,#277f8e 466px,#365d8d 480px,#463380 490px,#481a6c 495px,#450458 498px,#450457 501px,#460c5f 502px,#461c6c 503px,#3a5086 505px,#32708a 506px,#369481 507px,#5db866 508px,#a4d442 509px,#e0e22c 510px,#f8e626 511px,#fde725 514px,#fce725 521px,#f0e32a 522px,#becf40 523px,#6f9c63 524px,#465370 525px,#421c62 526px,#440657 527px,#440154 533px,#440657 535px,#4c225e 536px,#78655c 537px,#c4b440 538px,#f2de2a 539px,#fce625 540px,#fce725 544px,#f1e02b 545px,#bfbe41 546px,#71765d 547px,#482c5f 548px,#440957 549px,#440356 550px,#440c5c 551px,#41266d 552px,#374e81 553px,#2c728b 554px,#25868d 555px,#20928c 557px,#21918c 607px)"></i>
<i style="height:2px;background:linear-gradient(90deg,#24868e 0px,#25858e 97px,#297b8e 134px,#2d708e 181px,#24868e 266px,#20928c 366px,#20948c 426px,#1f9a8a 443px,#26828e 463px,#34628d 478px,#443982 488px,#481c6e 494px,#440256 498px,#450658 501px,#461062 502px,#403b7f 504px,#385888 505px,#307a88 506px,#3c9e7c 507px,#6fc05c 508px,#b8d838 509px,#eae427 510px,#fae725 511px,#fae625 521px,#eae229 522px,#b2ca3f 523px,#679063 524px,#46486e 525px,#431660 526px,#440456 527px,#440154 533px,#440857 535px,#4a265f 536px,#756d5c 537px,#c2ba41 538px,#f2df2b 539px,#fce625 540px,#fce725 544px,#f1e02b 545px,#c0be41 546px,#72735d 547px,#492a5f 548px,#440857 549px,#440456 550px,#440c5d 551px,#41286e 552px,#375082 553px,#2c728b 554px,#24868d 555px,#20928c 557px,#21918c 607px)"></i>
<i style="height:2px;background:linear-gradient(90deg,#24868e 0px,#25848e 103px,#2a798e 140px,#2d718e 184px,#24868e 269px,#20928c 372px,#1f968b 426px,#1f9a8a 443px,#277e8e 465px,#365c8d 479px,#453680 488px,#48186a 494px,#440456 497px,#440255 500px,#45085a 501px,#461465 502px,#3e4282 504px,#346289 505px,#308487 506px,#45a875 507px,#83c854 508px,#ccdd34 509px,#f2e526 510px,#fce725 511px,#fde725 520px,#f8e626 521px,#e0e02c 522px,#a2c244 523px,#5e8464 524px,#443c6a 525px,#44105d 526px,#440456 527px,#440254 534px,#440857 535px,#482b5f 536px,#72755d 537px,#c0be41 538px,#f1e02b 539px,#fce725 540px,#fce625 544px,#f1df2a 545px,#c0bc41 546px,#73705d 547px,#4a285f 548px,#440857 549px,#440456 550px,#440e5e 551px,#412a70 552px,#375282 553px,#2b748c 554px,#24878d 555px,#20928c 557px,#21918c 607px)"></i>
<i style="height:2px;background:linear-gradient(90deg,#24868e 0px,#26838e 107px,#2c728e 179px,#24868e 274px,#20928c 372px,#1f988b 428px,#1f9a8a 443px,#277f8e 464px,#34608d 477px,#443782 487px,#471265 494px,#440255 497px,#440356 500px,#450a5c 501px,#461869 502px,#3c4b84 504px,#326a8a 505px,#328e84 506px,#52b26c 507px,#96d04a 508px,#d8e030 509px,#f6e626 510px,#fde725 511px,#fde725 520px,#f6e626 521px,#d6dc32 522px,#94ba4e 523px,#567666 524px,#423064 525px,#430b59 526px,#440254 527px,#440254 534px,#430a57 535px,#482f5f 536px,#6f7c5c 537px,#bec341 538px,#f1e12b 539px,#fce725 540px,#fce625 544px,#efde2a 545px,#bdb93e 546px,#726d5c 547px,#4a265f 548px,#440857 549px,#440456 550px,#440e5e 551px,#402c71 552px,#365484 553px,#2b758c 554px,#24878d 555px,#21908c 556px,#21918c 607px)"></i>
<i style="height:2px;background:linear-gradient(90deg,#24868e 0px,#26828e 116px,#2c728e 177px,#24878e 283px,#20938c 380px,#1f988a 428px,#1f9a8a 443px,#287c8e 465px,#375a8c 478px,#463380 487px,#481467 493px,#440256 496px,#450457 500px,#460c5f 501px,#461e6d 502px,#395487 504px,#30748a 505px,#38987e 506px,#64bc62 507px,#acd63e 508px,#e3e22a 509px,#f9e625 510px,#fde725 514px,#fde725 520px,#f4e528 521px,#ced938 522px,#86b256 523px,#506c6a 524px,#422862 525px,#430857 526px,#440154 528px,#440254 534px,#430a57 535px,#46345e 536px,#6e845b 537px,#bdc740 538px,#f1e22a 539px,#fce725 540px,#fae625 544px,#e8de28 545px,#b4b63e 546px,#6e695a 547px,#4a245e 548px,#440757 549px,#440456 550px,#44105f 551px,#402e72 552px,#365684 553px,#2b768c 554px,#24888d 555px,#20928c 557px,#21918c 607px)"></i>
<i style="height:2px;background:linear-gradient(90deg,#24868e 0px,#26818e 120px,#2c738e 178px,#23888e 293px,#20948c 386px,#1f9a8a 428px,#1f9a8a 443px,#287c8e 464px,#365c8d 477px,#463580 486px,#471062 493px,#440254 496px,#450658 500px,#461062 501px,#452471 502px,#403e80 503px,#365c88 504px,#307f88 505px,#40a478 506px,#78c457 507px,#c2db35 508px,#eee426 509px,#fce725 510px,#fce725 520px,#f2e429 521px,#c6d53c 522px,#7aa85e 523px,#4a626e 524px,#422363 525px,#430757 526px,#440154 529px,#440254 534px,#440c56 535px,#49385c 536px,#728b56 537px,#c0cc3d 538px,#f1e32a 539px,#fce725 540px,#fde725 543px,#f8e626 544px,#e2dc2b 545px,#a8b242 546px,#68655d 547px,#49225f 548px,#440757 549px,#440456 550px,#441060 551px,#403074 552px,#355885 553px,#2a778c 554px,#24888d 555px,#20928c 557px,#21918c 607px)"></i>
<i style="height:2px;background:linear-gradient(90deg,#24868e 0px,#27808e 122px,#2b748e 182px,#23888e 296px,#1f948c 385px,#1e9b8a 428px,#1f9a8a 443px,#2a788e 466px,#39568c 478px,#46317e 486px,#471264 492px,#440255 495px,#440255 499px,#45085a 500px,#461466 501px,#3e4783 503px,#33668a 504px,#318a85 505px,#4cae70 506px,#8ecc4e 507px,#d3df32 508px,#f5e627 509px,#fce725 510px,#fce725 520px,#f0e42a 521px,#bfd03f 522px,#719e62 523px,#485770 524px,#421e63 525px,#440657 526px,#440154 530px,#440254 534px,#460c55 535px,#503d58 536px,#7e9250 537px,#c8d038 538px,#f2e428 539px,#fce725 540px,#fde725 543px,#f8e626 544px,#dada30 545px,#9eae49 546px,#626061 547px,#482060 548px,#440657 549px,#440457 550px,#441260 551px,#3f3274 552px,#355a86 553px,#2a788c 554px,#24898d 555px,#20928c 557px,#21918c 607px)"></i>
<i style="height:2px;background:linear-gradient(90deg,#24868e 0px,#277f8e 125px,#2b758e 182px,#1f958b 383px,#1e9c8a 427px,#1e9b8a 442px,#2a788e 465px,#375a8c 476px,#46327e 485px,#460c60 492px,#440254 495px,#440356 499px,#450a5c 500px,#461a6a 501px,#3a5086 503px,#30718a 504px,#369480 505px,#5cb866 506px,#a3d442 507px,#dfe22c 508px,#f8e626 509px,#fde725 512px,#fce725 520px,#ebe229 521px,#b4ca3f 522px,#689263 523px,#464a6e 524px,#431861 525px,#440456 526px,#440254 534px,#480e54 535px,#5c4252 536px,#919a46 537px,#d2d432 538px,#f6e528 539px,#fde725 540px,#fde725 543px,#f6e528 544px,#d4d834 545px,#92aa50 546px,#5c5c64 547px,#481e60 548px,#440657 549px,#440457 550px,#441261 551px,#3f3476 552px,#345c86 553px,#2a798c 554px,#23898d 555px,#20928c 557px,#21918c 607px)"></i>
<i style="height:2px;background:linear-gradient(90deg,#24868e 0px,#287e8e 129px,#2b768e 185px,#1f968b 393px,#1e9c89 428px,#1f9a8a 443px,#2b748e 466px,#3a548c 477px,#462f7c 485px,#450456 493px,#440254 498px,#460d5f 500px,#45206e 501px,#375a88 503px,#307c88 504px,#3ca07a 505px,#72c25a 506px,#bad937 507px,#eae427 508px,#fae725 509px,#fde725 519px,#f9e626 520px,#e2e02c 521px,#a4c343 522px,#608464 523px,#443c6a 524px,#44115d 525px,#440456 526px,#450455 534px,#4c1457 535px,#6a4d52 536px,#a8a43c 537px,#e0d82c 538px,#f8e626 539px,#fde725 542px,#fde725 543px,#f4e528 544px,#ced638 545px,#88a455 546px,#565666 547px,#461b60 548px,#440657 549px,#440557 550px,#431462 551px,#3e3676 552px,#345e87 553px,#297a8d 554px,#238a8d 555px,#20928c 557px,#21918c 607px)"></i>
<i style="height:2px;background:linear-gradient(90deg,#24868e 0px,#287e8e 129px,#2a768e 187px,#1f988b 399px,#1e9d89 439px,#26838e 458px,#34608d 473px,#443a84 482px,#471063 490px,#440255 493px,#440255 498px,#450658 499px,#461263 500px,#442874 501px,#3e4482 502px,#346489 503px,#308786 504px,#48ab73 505px,#88ca51 506px,#cede33 507px,#f4e626 508px,#fce725 509px,#fde725 519px,#f6e626 520px,#d7dc32 521px,#94ba4c 522px,#567666 523px,#422f64 524px,#430b59 525px,#440254 526px,#440254 533px,#450556 534px,#4e1a5b 535px,#775956 536px,#bdad3b 537px,#eedc28 538px,#fce625 539px,#fce725 543px,#f3e429 544px,#c8d43b 545px,#809e5a 546px,#525068 547px,#46185f 548px,#440557 549px,#440557 550px,#431462 551px,#336088 553px,#297c8d 554px,#238a8d 555px,#20928c 557px,#21918c 607px)"></i>
<i style="height:2px;background:linear-gradient(90deg,#24868e 0px,#287d8e 134px,#2a778e 190px,#1f998a 407px,#1f9e89 438px,#24868e 456px,#32648e 471px,#443c84 481px,#481769 488px,#440256 492px,#440255 498px,#45085a 499px,#461868 500px,#3b4e85 502px,#326e8a 503px,#349282 504px,#58b668 505px,#9ed246 506px,#dce12e 507px,#f8e626 508px,#fde725 510px,#fde725 519px,#f4e528 520px,#ced938 521px,#85b256 522px,#4f6a6a 523px,#422862 524px,#430857 525px,#440154 527px,#440254 533px,#440657 534px,#4e205e 535px,#78645a 536px,#c4b440 537px,#f2de2a 538px,#fce625 539px,#fce725 543px,#f2e42a 544px,#c3d03e 545px,#78985c 546px,#4d4a68 547px,#45165e 548px,#440456 549px,#440557 550px,#431663 551px,#326088 553px,#287c8d 554px,#238b8d 555px,#20928c 557px,#21918c 607px)"></i>
<i style="height:2px;background:linear-gradient(90deg,#24868e 0px,#287d8e 134px,#2a788e 192px,#20918c 345px,#1fa088 431px,#1f988b 444px,#2e6e8e 467px,#404788 478px,#482978 484px,#450456 491px,#440456 498px,#450b5d 499px,#451e6c 500px,#385888 502px,#307a88 503px,#3b9e7c 504px,#6dc05c 505px,#b5d839 506px,#e8e428 507px,#fae625 508px,#fce725 519px,#f2e42a 520px,#c5d43d 521px,#78a75e 522px,#4a5f6e 523px,#422263 524px,#440757 525px,#440154 528px,#440254 533px,#440857 534px,#4a265f 535px,#756e5c 536px,#c2ba41 537px,#f2df2b 538px,#fce625 539px,#fce725 543px,#f1e32a 544px,#c0ce3f 545px,#72925e 546px,#4a4467 547px,#44135d 548px,#440456 549px,#440557 550px,#421663 551px,#3c3c79 552px,#326288 553px,#287e8d 554px,#228b8d 555px,#20938c 557px,#21918c 607px)"></i>
<i style="height:2px;background:linear-gradient(90deg,#25858e 0px,#287d8e 135px,#2a788e 193px,#21908c 341px,#1f9f88 436px,#24878e 454px,#32648d 470px,#443a83 480px,#470f62 488px,#440154 492px,#450658 498px,#461062 499px,#442572 500px,#3e4281 501px,#346289 502px,#308586 503px,#46a974 504px,#84c952 505px,#ccdd34 506px,#f2e626 507px,#fce725 508px,#fce725 519px,#f0e32a 520px,#bdce40 521px,#6f9a63 522px,#465270 523px,#421c62 524px,#440657 525px,#440154 531px,#440254 533px,#440957 534px,#482c5f 535px,#71765d 536px,#c0c041 537px,#f1e02b 538px,#fce725 539px,#fce725 543px,#f0e22a 544px,#beca40 545px,#6e8c5e 546px,#483e65 547px,#44105c 548px,#440456 549px,#440557 550px,#421864 551px,#316489 553px,#287e8d 554px,#228c8d 555px,#20928c 558px,#21918c 607px)"></i>
<i style="height:2px;background:linear-gradient(90deg,#25858e 0px,#287c8e 136px,#297a8e 200px,#218f8d 336px,#1f9f88 436px,#25848e 455px,#34618d 470px,#453782 480px,#450659 489px,#440154 494px,#440255 497px,#45085a 498px,#461666 499px,#3c4c84 501px,#326d8a 502px,#349182 503px,#56b46a 504px,#9bd146 505px,#dbe02e 506px,#f7e626 507px,#fde725 509px,#fae625 519px,#e8e12a 520px,#b0c840 521px,#668c62 522px,#46446c 523px,#44145f 524px,#440456 525px,#440154 531px,#440254 533px,#430a57 534px,#46325e 535px,#6e805c 536px,#bec440 537px,#f1e22a 538px,#fce725 539px,#fce725 543px,#f0e22a 544px,#bdc741 545px,#6e855e 546px,#473762 547px,#440c5a 548px,#440355 549px,#440657 550px,#421864 551px,#3b3f7a 552px,#306689 553px,#27808d 554px,#228c8d 555px,#20938c 557px,#21918c 607px)"></i>
<i style="height:2px;background:linear-gradient(90deg,#25858e 0px,#287c8e 142px,#297a8e 204px,#218f8d 336px,#1fa088 435px,#25858e 454px,#33628d 469px,#443982 479px,#460d60 487px,#440254 490px,#440356 497px,#450b5d 498px,#451d6c 499px,#385788 501px,#307989 502px,#3a9d7c 503px,#6abe5e 504px,#b3d83a 505px,#e7e428 506px,#fae625 507px,#fde725 514px,#fde725 518px,#f8e626 519px,#ddde2e 520px,#9ebe47 521px,#5c7d64 522px,#443466 523px,#430d5a 524px,#440255 525px,#440254 533px,#440c56 534px,#48365c 535px,#708858 536px,#beca3e 537px,#f1e22a 538px,#fce725 539px,#fce725 543px,#f1e12b 544px,#bec441 545px,#6e7e5d 546px,#473160 547px,#430a58 548px,#440255 549px,#440657 550px,#411964 551px,#3a407a 552px,#306889 553px,#27808d 554px,#228c8d 555px,#20938c 557px,#21918c 607px)"></i>
<i style="height:2px;background:linear-gradient(90deg,#25858e 0px,#287c8e 145px,#287c8e 218px,#218f8d 336px,#1fa088 435px,#25848e 454px,#34608d 469px,#443b84 478px,#470f62 486px,#440255 489px,#440254 496px,#450558 497px,#461062 498px,#442572 499px,#3e4281 500px,#346289 501px,#308586 502px,#46a975 503px,#83c854 504px,#cadd34 505px,#f2e526 506px,#fce725 507px,#fde725 518px,#f6e628 519px,#d2da35 520px,#8cb452 521px,#526f68 522px,#422a62 523px,#430858 524px,#440154 526px,#440254 533px,#450c56 534px,#4e3c58 535px,#7c9152 536px,#c6d03a 537px,#f2e429 538px,#fce725 539px,#fce725 543px,#f1e02b 544px,#bec241 545px,#707a5d 546px,#482e5f 547px,#430957 548px,#440255 549px,#440657 550px,#411a64 551px,#3a427b 552px,#2f6a8a 553px,#26828d 554px,#228d8d 555px,#20938c 557px,#21918c 607px)"></i>
<i style="height:2px;background:linear-gradient(90deg,#25858e 0px,#287c8e 147px,#287c8e 217px,#218e8d 332px,#1e9d89 413px,#1fa088 434px,#23888e 451px,#34628d 468px,#433d84 477px,#481668 484px,#440356 488px,#440255 496px,#45085a 497px,#461666 498px,#3b4c84 500px,#326e8a 501px,#339182 502px,#56b46a 503px,#9ad048 504px,#dae02f 505px,#f7e626 506px,#fde725 508px,#fce725 518px,#f2e429 519px,#c8d63c 520px,#7caa5c 521px,#4c626d 522px,#422463 523px,#430757 524px,#440154 527px,#440254 533px,#480f56 534px,#5c4454 535px,#919a46 536px,#d2d433 537px,#f5e528 538px,#fde725 539px,#fce725 543px,#f1e02b 544px,#bfbe41 545px,#72765d 546px,#482c5f 547px,#440957 548px,#440255 549px,#440658 550px,#411c66 551px,#39467c 552px,#2e6c8a 553px,#26828d 554px,#228e8d 555px,#20928c 558px,#21918c 607px)"></i>
<i style="height:2px;background:linear-gradient(90deg,#25858e 0px,#297a8e 160px,#26828e 273px,#1f9e89 413px,#1fa088 435px,#26828e 454px,#34608d 468px,#443a82 477px,#471366 484px,#440255 488px,#440456 496px,#450b5d 497px,#451d6c 498px,#385888 500px,#307a89 501px,#3a9d7c 502px,#6abe5e 503px,#b2d83a 504px,#e6e428 505px,#fae625 506px,#fde725 513px,#fce725 518px,#f0e42a 519px,#bfd03f 520px,#729c62 521px,#48546f 522px,#421c62 523px,#440657 524px,#440154 530px,#450456 533px,#4c1659 534px,#6c5054 535px,#aaa63e 536px,#e2d92c 537px,#f9e626 538px,#fde725 542px,#fce625 543px,#efdf2a 544px,#bebc40 545px,#72715c 546px,#49285f 547px,#440857 548px,#440355 549px,#44085a 550px,#412069 551px,#38497e 552px,#2e6e8a 553px,#26848d 554px,#228e8d 555px,#20928c 558px,#21918c 607px)"></i>
<i style="height:2px;background:linear-gradient(90deg,#25858e 0px,#287b8e 204px,#228b8d 320px,#1f9e89 408px,#1fa188 433px,#24868e 451px,#365e8d 468px,#453681 477px,#450658 486px,#440154 492px,#450658 496px,#461062 497px,#442672 498px,#3e4382 499px,#34638a 500px,#308686 501px,#46a975 502px,#82c854 503px,#cadd34 504px,#f2e526 505px,#fce725 506px,#fae625 518px,#eae229 519px,#b2c840 520px,#688e62 521px,#46456c 522px,#441560 523px,#440456 524px,#440154 530px,#450656 533px,#4e1e5c 534px,#775e58 535px,#beb03d 536px,#eedc2a 537px,#fce625 538px,#fae625 543px,#e8de2a 544px,#b2b83e 545px,#6c6c5c 546px,#49265f 547px,#440857 548px,#440356 549px,#440a5c 550px,#41246c 551px,#384c80 552px,#2d708b 553px,#25848d 554px,#218e8c 555px,#20928c 558px,#21918c 607px)"></i>
<i style="height:2px;background:linear-gradient(90deg,#25858e 0px,#287c8e 203px,#238a8d 316px,#1f9f88 409px,#1fa188 433px,#25848e 452px,#365c8c 468px,#463480 477px,#450456 486px,#440255 495px,#45085a 496px,#461868 497px,#3b4e85 499px,#316f8a 500px,#339282 501px,#56b56a 502px,#9ad148 503px,#dae02f 504px,#f7e626 505px,#fde725 507px,#fde725 517px,#f8e626 518px,#dede2e 519px,#9fbf46 520px,#5c7d62 521px,#443466 522px,#430d5a 523px,#440255 524px,#440254 532px,#440757 533px,#4c245e 534px,#766a5c 535px,#c2b840 536px,#f2de2a 537px,#fce625 538px,#fde725 542px,#f8e626 543px,#dedc2e 544px,#a3b246 545px,#64665f 546px,#482360 547px,#440757 548px,#440356 549px,#440c5d 550px,#41286e 551px,#375082 552px,#2c728b 553px,#25868d 554px,#218f8c 555px,#20918c 559px,#21918c 607px)"></i>
<i style="height:2px;background:linear-gradient(90deg,#25858e 0px,#287c8e 205px,#23898d 312px,#1f9f88 406px,#1fa287 431px,#238a8d 448px,#33628d 465px,#443b84 475px,#481a6c 481px,#440255 486px,#440456 495px,#450c5e 496px,#45206e 497px,#375a88 499px,#2f7b89 500px,#3a9e7c 501px,#6ac05e 502px,#b2d83a 503px,#e6e428 504px,#fae625 505px,#fde725 512px,#fde725 517px,#f6e628 518px,#d1da35 519px,#8cb452 520px,#526e68 521px,#422a62 522px,#430858 523px,#440154 525px,#440254 532px,#440857 533px,#492a5f 534px,#72745d 535px,#c0be41 536px,#f1e02b 537px,#fce725 538px,#fde725 542px,#f6e527 543px,#d5d934 544px,#94ac4f 545px,#5c5f64 546px,#472060 547px,#440657 548px,#440456 549px,#440e5e 550px,#402b70 551px,#365384 552px,#2c748c 553px,#24868d 554px,#20928c 556px,#21918c 607px)"></i>
<i style="height:2px;background:linear-gradient(90deg,#25858e 0px,#287c8e 209px,#238a8d 316px,#1fa088 408px,#1fa287 431px,#24878e 449px,#34628d 465px,#443882 475px,#471264 482px,#450456 485px,#440255 494px,#450659 495px,#461364 496px,#3d4683 498px,#33668a 499px,#308886 500px,#46aa74 501px,#83c952 502px,#cadd34 503px,#f2e526 504px,#fce725 505px,#fce725 517px,#f2e429 518px,#c6d63c 519px,#7ca85d 520px,#4b606d 521px,#422263 522px,#440757 523px,#440154 526px,#440254 532px,#430a57 533px,#47305e 534px,#6e7e5c 535px,#bec440 536px,#f1e22a 537px,#fce725 538px,#fde725 542px,#f4e528 543px,#ccd638 544px,#87a556 545px,#565868 546px,#461c60 547px,#440657 548px,#440456 549px,#441060 550px,#402f74 551px,#365684 552px,#2b768c 553px,#24888d 554px,#20928c 556px,#21918c 607px)"></i>
<i style="height:2px;background:linear-gradient(90deg,#25858e 0px,#287c8e 208px,#23898d 312px,#1fa088 405px,#20a387 430px,#238a8d 447px,#34608d 465px,#443a83 474px,#481467 481px,#440255 485px,#440356 494px,#450a5c 495px,#461b6a 496px,#3a5286 498px,#30728a 499px,#339482 500px,#56b66a 501px,#9bd147 502px,#dae02e 503px,#f7e626 504px,#fde725 506px,#fce725 517px,#f0e32a 518px,#bece40 519px,#709a62 520px,#48526f 521px,#431b62 522px,#440657 523px,#440154 529px,#440254 532px,#440c56 533px,#48385c 534px,#718858 535px,#bfca3e 536px,#f1e22a 537px,#fce725 538px,#fce725 542px,#f2e429 543px,#c6d23c 544px,#7c9d5c 545px,#4f506a 546px,#451860 547px,#440557 548px,#440457 549px,#441261 550px,#3f3276 551px,#345a86 552px,#2a788c 553px,#24888d 554px,#20928c 556px,#21918c 607px)"></i>
<i style="height:2px;background:linear-gradient(90deg,#25858e 0px,#287c8e 206px,#23888e 309px,#1fa188 405px,#20a387 430px,#23888e 447px,#34608d 464px,#443882 474px,#471264 481px,#440254 485px,#450458 494px,#461061 495px,#452470 496px,#403f80 497px,#365d88 498px,#2e7e88 499px,#3aa07b 500px,#6cc05c 501px,#b4d83a 502px,#e6e428 503px,#fae625 504px,#fde725 511px,#fae625 517px,#e6e02a 518px,#adc640 519px,#658a62 520px,#46406a 521px,#44135e 522px,#440456 523px,#440254 532px,#460c55 533px,#513e58 534px,#80924f 535px,#c8d038 536px,#f3e428 537px,#fce725 538px,#fce725 542px,#f1e32a 543px,#c0ce40 544px,#729560 545px,#4a486a 546px,#44155e 547px,#440456 548px,#440557 549px,#431462 550px,#345e87 552px,#297a8d 553px,#238a8d 554px,#20928c 556px,#21918c 607px)"></i>
<i style="height:2px;background:linear-gradient(90deg,#25858e 0px,#287d8e 212px,#23888e 309px,#1fa287 405px,#20a486 428px,#21908d 443px,#34628d 463px,#443a82 473px,#481467 480px,#440255 484px,#440255 493px,#45085a 494px,#461666 495px,#3c4a84 497px,#326a8a 498px,#308b86 499px,#48ad72 500px,#86ca51 501px,#ccde33 502px,#f2e626 503px,#fce725 504px,#fde725 516px,#f7e626 517px,#dadd30 518px,#98bc4a 519px,#597864 520px,#443064 521px,#430c59 522px,#440254 523px,#440354 532px,#491256 533px,#624854 534px,#999e44 535px,#d8d630 536px,#f6e526 537px,#fde725 538px,#fce725 542px,#f0e22a 543px,#beca40 544px,#6e8d60 545px,#484068 546px,#44125c 547px,#440456 548px,#440557 549px,#421663 550px,#326188 552px,#287c8d 553px,#238a8d 554px,#20928c 556px,#21918c 607px)"></i>
<i style="height:2px;background:linear-gradient(90deg,#25858e 0px,#287d8e 218px,#23898d 313px,#1fa287 403px,#21a586 427px,#21908c 442px,#33628d 462px,#443c84 472px,#471264 480px,#440254 484px,#440456 493px,#450c5e 494px,#451e6e 495px,#385688 497px,#2e768a 498px,#349780 499px,#59b868 500px,#9ed245 501px,#dce12e 502px,#f8e626 503px,#fde725 505px,#fde725 516px,#f4e528 517px,#ccd838 518px,#84b058 519px,#4f686a 520px,#422662 521px,#430857 522px,#440154 524px,#450456 532px,#4c1a5b 533px,#725856 534px,#b5ab3c 535px,#e8db2a 536px,#fae625 537px,#fce725 542px,#f0e22b 543px,#bdc641 544px,#6e8560 545px,#473865 546px,#440e5a 547px,#440355 548px,#440557 549px,#421864 550px,#316489 552px,#287e8d 553px,#238b8d 554px,#20928c 556px,#21918c 607px)"></i>
<i style="height:2px;background:linear-gradient(90deg,#25858e 0px,#287d8e 219px,#23898d 313px,#20a287 400px,#21a586 427px,#228c8d 444px,#365e8d 463px,#443882 472px,#460a5c 481px,#440154 484px,#440255 492px,#450659 493px,#461364 494px,#3e4482 496px,#34628a 497px,#2e8288 498px,#3ca47a 499px,#70c25a 500px,#b6d838 501px,#e8e428 502px,#fae625 503px,#fce725 516px,#f2e42a 517px,#c2d23e 518px,#75a260 519px,#495a6e 520px,#421f62 521px,#440657 522px,#440154 525px,#440254 531px,#440657 532px,#4c225e 533px,#76665b 534px,#c2b53f 535px,#f0de2a 536px,#fce625 537px,#fce725 542px,#f1e12b 543px,#bec341 544px,#707d5e 545px,#483262 546px,#440b58 547px,#440255 548px,#440658 549px,#411a64 550px,#3a417b 551px,#30688a 552px,#27808d 553px,#228c8d 554px,#20928c 557px,#21918c 607px)"></i>
<i style="height:2px;background:linear-gradient(90deg,#25858e 0px,#287d8e 219px,#23888e 309px,#20a287 394px,#21a685 426px,#228c8d 443px,#355e8d 462px,#453680 472px,#450456 482px,#440356 492px,#450a5c 493px,#461a6a 494px,#3a4f86 496px,#306e8a 497px,#308e85 498px,#4ab070 499px,#8acc4f 500px,#cede32 501px,#f3e626 502px,#fce725 503px,#fce625 516px,#ece22a 517px,#b6ca40 518px,#6a9062 519px,#46486c 520px,#431660 521px,#440456 522px,#440254 531px,#440857 532px,#4a2a5f 533px,#73725d 534px,#c0bc41 535px,#f1e02b 536px,#fce625 537px,#fce625 542px,#f0e02a 543px,#bdbf40 544px,#70765c 545px,#482c60 546px,#440957 547px,#440355 548px,#44085a 549px,#411f68 550px,#39467e 551px,#2e6b8a 552px,#26828d 553px,#228d8d 554px,#20928c 557px,#21918c 607px)"></i>
<i style="height:2px;background:linear-gradient(90deg,#25858e 0px,#287d8e 219px,#23888e 309px,#20a287 390px,#22a785 425px,#218f8d 441px,#365c8d 462px,#443882 471px,#470e61 479px,#440154 483px,#440254 491px,#450558 492px,#461062 493px,#452471 494px,#403e80 495px,#365b88 496px,#2e7a8a 497px,#359b80 498px,#5ebb64 499px,#a2d442 500px,#dee22c 501px,#f8e626 502px,#fde725 504px,#fde725 515px,#f8e626 516px,#dede2d 517px,#a0c046 518px,#5d7e62 519px,#443666 520px,#430d5a 521px,#440255 522px,#440254 531px,#430a57 532px,#47305e 533px,#6e7e5c 534px,#bec440 535px,#f1e12a 536px,#fce725 537px,#fae625 542px,#e8de2a 543px,#b0ba40 544px,#6a705c 545px,#48285f 546px,#440857 547px,#440456 548px,#440c5c 549px,#41266e 550px,#384c81 551px,#2e6f8b 552px,#26848d 553px,#20928c 555px,#21918c 607px)"></i>
<i style="height:2px;background:linear-gradient(90deg,#25858e 0px,#287d8e 220px,#23888e 309px,#20a387 388px,#22a884 424px,#21908c 440px,#365e8d 461px,#463480 471px,#450456 481px,#440255 491px,#45085b 492px,#461768 493px,#3c4984 495px,#32678a 496px,#2e8688 497px,#3fa778 498px,#76c657 499px,#bcda36 500px,#eae427 501px,#fae725 502px,#fde725 515px,#f5e528 516px,#d0da36 517px,#8ab454 518px,#526d68 519px,#422962 520px,#430858 521px,#440154 523px,#440254 531px,#440c56 532px,#48375c 533px,#728958 534px,#c0ca3e 535px,#f1e22a 536px,#fce725 537px,#fde725 541px,#f8e626 542px,#dcdc2f 543px,#9eb448 544px,#606a61 545px,#462660 546px,#440857 547px,#440456 548px,#440f60 549px,#402c72 550px,#375284 551px,#2c728c 552px,#25858d 553px,#20928c 555px,#21918c 607px)"></i>
<i style="height:2px;background:linear-gradient(90deg,#25858e 0px,#287e8e 221px,#24878e 306px,#20a287 384px,#23a984 423px,#20918c 439px,#355e8d 460px,#453681 470px,#450458 480px,#440254 490px,#440457 491px,#460e60 492px,#46206e 493px,#395588 495px,#2f738a 496px,#309384 497px,#4fb36e 498px,#90ce4c 499px,#d2df31 500px,#f4e626 501px,#fce725 502px,#fce725 515px,#f2e429 516px,#c4d43c 517px,#78a65e 518px,#4a5e6e 519px,#422162 520px,#440657 521px,#440154 524px,#440254 531px,#460e55 532px,#533e57 533px,#82944e 534px,#cad138 535px,#f3e428 536px,#fce725 537px,#fde725 541px,#f5e528 542px,#d0d836 543px,#8cad54 544px,#566268 545px,#452262 546px,#440757 547px,#440457 548px,#441262 549px,#403276 550px,#365886 551px,#2b768c 552px,#24868d 553px,#20928c 555px,#21918c 607px)"></i>
<i style="height:2px;background:linear-gradient(90deg,#25858e 0px,#277e8e 226px,#24878e 306px,#20a287 381px,#24aa83 422px,#1f968b 436px,#34608d 459px,#443882 469px,#460b5e 478px,#440154 482px,#440255 490px,#45075a 491px,#461466 492px,#3e4483 494px,#34618a 495px,#2d7f8a 496px,#37a07d 497px,#64be60 498px,#a9d63e 499px,#e1e22a 500px,#f8e626 501px,#fde725 504px,#fce725 515px,#ede229 516px,#b9cc3f 517px,#6c9462 518px,#464c6e 519px,#431861 520px,#440456 521px,#440154 530px,#450455 531px,#4a1458 532px,#654c54 533px,#9fa242 534px,#dbd82e 535px,#f7e626 536px,#fde725 538px,#fce725 541px,#f2e429 542px,#c7d53c 543px,#7ea55c 544px,#4e5b6c 545px,#441e62 546px,#440657 547px,#440557 548px,#431462 549px,#345d88 551px,#2a788d 552px,#24888d 553px,#20928c 555px,#21918c 607px)"></i>
<i style="height:2px;background:linear-gradient(90deg,#25858e 0px,#277e8e 232px,#23888e 310px,#20a486 382px,#24aa83 422px,#1f958b 436px,#365e8d 459px,#453580 469px,#450458 479px,#440254 489px,#450c5e 491px,#461c6c 492px,#3b4f86 494px,#306d8b 495px,#2e8c87 496px,#44ac74 497px,#7dc854 498px,#c2dc34 499px,#ede426 500px,#fbe725 501px,#fde725 514px,#f9e626 515px,#e1df2c 516px,#a4c144 517px,#608062 518px,#443866 519px,#430e5c 520px,#440356 521px,#440254 530px,#450656 531px,#4d1d5c 532px,#745e58 533px,#baaf3e 534px,#ecdc2a 535px,#fbe625 536px,#fce725 541px,#f2e42a 542px,#c1d03f 543px,#749c61 544px,#49536e 545px,#431b62 546px,#440657 547px,#440658 548px,#421864 549px,#3c3c7a 550px,#326289 551px,#287c8d 552px,#23898d 553px,#20928c 555px,#21918c 607px)"></i>
<i style="height:2px;background:linear-gradient(90deg,#25858e 0px,#277e8e 240px,#23898d 313px,#20a486 379px,#25ab82 421px,#1f968b 435px,#355e8d 458px,#453782 468px,#45065a 478px,#440154 483px,#440255 489px,#450658 490px,#461264 491px,#403f81 493px,#365b8a 494px,#2e798a 495px,#329882 496px,#55b86a 497px,#98d148 498px,#d7e02f 499px,#f6e626 500px,#fde725 502px,#fde725 514px,#f6e628 515px,#d2da35 516px,#8cb452 517px,#536f68 518px,#422a62 519px,#430958 520px,#440154 522px,#440254 530px,#440857 531px,#4b265f 532px,#756c5c 533px,#c2b940 534px,#f1de2a 535px,#fce625 536px,#fce725 541px,#f1e22a 542px,#becc42 543px,#6e9464 544px,#474c6f 545px,#431862 546px,#440657 547px,#44085a 548px,#421c68 549px,#3b427d 550px,#30668a 551px,#287e8d 552px,#238a8d 553px,#20928c 556px,#21918c 607px)"></i>
<i style="height:2px;background:linear-gradient(90deg,#25858e 0px,#277e8e 246px,#238a8d 315px,#20a386 376px,#26ac82 420px,#1f988b 434px,#365c8d 458px,#443882 467px,#46085b 477px,#440154 481px,#440356 489px,#450a5c 490px,#46196a 491px,#3c4a85 493px,#32678a 494px,#2c8588 495px,#3ba57a 496px,#6cc25c 497px,#b1d83a 498px,#e5e428 499px,#fae625 500px,#fde725 507px,#fce725 514px,#f2e429 515px,#c5d43c 516px,#7aa65e 517px,#4a5e6e 518px,#422162 519px,#440657 520px,#440154 523px,#440254 530px,#440a57 531px,#482d5f 532px,#70795c 533px,#bec041 534px,#f1e02b 535px,#fce725 536px,#fce725 541px,#f0e22b 542px,#bdc842 543px,#6e8c65 544px,#48446e 545px,#441560 546px,#440658 547px,#440c5c 548px,#42246e 549px,#3a4a80 550px,#2e6b8b 551px,#27808d 552px,#21918c 554px,#21918c 607px)"></i>
<i style="height:2px;background:linear-gradient(90deg,#25858e 0px,#277e8e 248px,#238a8d 315px,#20a486 375px,#26ad81 419px,#1f988a 433px,#365d8d 457px,#453680 467px,#450659 477px,#440154 482px,#450558 489px,#461062 490px,#413a7f 492px,#385688 493px,#2e738b 494px,#2f9285 495px,#4ab170 496px,#87cc4f 497px,#cade32 498px,#f0e526 499px,#fce725 500px,#fce725 514px,#ede229 515px,#b8cc3f 516px,#6c9462 517px,#464b6d 518px,#431860 519px,#440456 520px,#440254 530px,#430a56 531px,#48355d 532px,#70855a 533px,#bec83f 534px,#f1e22a 535px,#fce725 536px,#fce725 541px,#efe02a 542px,#bcc442 543px,#6e8564 544px,#483e6c 545px,#441260 546px,#440658 547px,#440f60 548px,#412b72 549px,#385084 550px,#2e6f8c 551px,#26828d 552px,#20918c 554px,#21918c 607px)"></i>
<i style="height:2px;background:linear-gradient(90deg,#25858e 0px,#277e8e 250px,#238a8d 315px,#20a486 373px,#27ae80 418px,#1f9c8a 431px,#32648e 454px,#443c84 465px,#481668 473px,#440255 478px,#440256 488px,#45085b 489px,#461668 490px,#3e4684 492px,#34618a 493px,#2c7f8a 494px,#359e7f 495px,#5ebc64 496px,#a2d442 497px,#dce22c 498px,#f7e626 499px,#fde725 501px,#fde725 513px,#f8e626 514px,#e0df2d 515px,#a2c045 516px,#5e8062 517px,#443666 518px,#430e5a 519px,#440256 520px,#440254 530px,#450d56 531px,#503d58 532px,#7e9251 533px,#c6d039 534px,#f2e428 535px,#fce725 536px,#fae625 541px,#e6df2a 542px,#aebe42 543px,#677c64 544px,#48386a 545px,#44105e 546px,#440658 547px,#441262 548px,#365686 550px,#2c738c 551px,#25848d 552px,#20918c 554px,#21918c 607px)"></i>
<i style="height:2px;background:linear-gradient(90deg,#25858e 0px,#277e8e 252px,#228b8d 317px,#20a486 374px,#28ae80 418px,#1f9a8a 431px,#33628d 454px,#443a82 465px,#471366 473px,#440254 478px,#450457 488px,#460e60 489px,#42367d 491px,#3a5188 492px,#306e8b 493px,#2c8c87 494px,#40ab76 495px,#76c656 496px,#bcda36 497px,#eae427 498px,#fae725 499px,#fde725 513px,#f5e528 514px,#d0da36 515px,#8ab354 516px,#526d68 517px,#422862 518px,#430858 519px,#440154 521px,#440455 530px,#4a1258 531px,#624a55 532px,#9aa044 533px,#d8d630 534px,#f6e526 535px,#fde725 536px,#fde725 540px,#f7e626 541px,#dadc30 542px,#99b84c 543px,#5c7468 544px,#463269 545px,#440e5c 546px,#440758 547px,#431564 548px,#345c88 550px,#2a768d 551px,#24868d 552px,#20918c 554px,#21918c 607px)"></i>
<i style="height:2px;background:linear-gradient(90deg,#25858e 0px,#277e8e 253px,#238a8d 314px,#20a486 371px,#29af7f 416px,#1f9e89 429px,#2c718e 448px,#3f4888 461px,#482474 469px,#450457 476px,#440255 487px,#45075a 488px,#461466 489px,#3f4282 491px,#365d8a 492px,#2d7a8a 493px,#309882 494px,#52b66b 495px,#92d04a 496px,#d3e030 497px,#f4e626 498px,#fce725 499px,#fce725 513px,#f2e42a 514px,#c3d33e 515px,#76a45f 516px,#4a5c6e 517px,#422062 518px,#440657 519px,#440154 522px,#440254 529px,#450656 530px,#4c1c5c 531px,#735c58 532px,#b8ae3e 533px,#eadc2a 534px,#fbe625 535px,#fde725 540px,#f4e528 541px,#ced938 542px,#87b056 543px,#526b6e 544px,#442c68 545px,#440c5c 546px,#44085a 547px,#431a66 548px,#3c3d7b 549px,#326189 550px,#2a798d 551px,#24888d 552px,#20918c 554px,#21918c 607px)"></i>
<i style="height:2px;background:linear-gradient(90deg,#25858e 0px,#277e8e 255px,#238a8d 314px,#20a486 369px,#2ab07f 415px,#1f9f88 428px,#2b748e 446px,#3e4989 460px,#482172 469px,#440256 476px,#440456 487px,#460c5e 488px,#461c6c 489px,#3b4d86 491px,#31698b 492px,#2c8688 493px,#39a57b 494px,#68c25e 495px,#acd83c 496px,#e2e22a 497px,#f8e626 498px,#fde725 501px,#fbe625 513px,#eae22a 514px,#b4ca40 515px,#699062 516px,#46486c 517px,#431660 518px,#440456 519px,#440254 529px,#440857 530px,#4b265f 531px,#756c5c 532px,#c1b940 533px,#f1de2a 534px,#fce625 535px,#fce725 540px,#f2e429 541px,#c5d43d 542px,#79a85f 543px,#4a6271 544px,#432668 545px,#440a5b 546px,#440a5c 547px,#43206b 548px,#3c447f 549px,#31658a 550px,#287c8d 551px,#24888d 552px,#20928c 554px,#21918c 607px)"></i>
<i style="height:2px;background:linear-gradient(90deg,#25858e 0px,#277e8e 259px,#228c8d 319px,#20a586 370px,#2ab07f 415px,#1f9e89 428px,#2e6e8e 448px,#414286 461px,#481a6c 470px,#450456 475px,#440255 486px,#450659 487px,#461264 488px,#403e80 490px,#37588a 491px,#2e758b 492px,#2e9285 493px,#48b172 494px,#83cc50 495px,#c6dd32 496px,#eee426 497px,#fce725 498px,#fde725 512px,#f7e626 513px,#dbde30 514px,#9abd4a 515px,#5a7a64 516px,#443265 517px,#430c5a 518px,#440255 519px,#440254 529px,#430a57 530px,#482e5f 531px,#707a5c 532px,#bec240 533px,#f1e02a 534px,#fce725 535px,#fce725 540px,#f1e42a 541px,#bfd040 542px,#709e64 543px,#465872 544px,#422066 545px,#440a5a 546px,#440e5e 547px,#42266f 548px,#3a4a82 549px,#30698c 550px,#287e8d 551px,#21908c 553px,#21918c 607px)"></i>
<i style="height:2px;background:linear-gradient(90deg,#25858e 0px,#277e8e 260px,#228c8d 318px,#20a486 368px,#2bb17e 414px,#1f9d89 428px,#2f6c8e 448px,#424086 461px,#481c6e 469px,#440256 475px,#440456 486px,#460a5d 487px,#461a6a 488px,#3d4a85 490px,#33648b 491px,#2c818a 492px,#349f7f 493px,#5cbc64 494px,#9ed444 495px,#dbe12e 496px,#f6e626 497px,#fde725 499px,#fce725 512px,#f4e428 513px,#ccd839 514px,#82ae58 515px,#4e686b 516px,#422662 517px,#430857 518px,#440154 520px,#440254 529px,#440c56 530px,#48365c 531px,#718858 532px,#bfca3e 533px,#f1e22a 534px,#fce725 535px,#fce725 540px,#f0e22a 541px,#bdcc42 542px,#6d9666 543px,#455072 544px,#421c64 545px,#44085a 546px,#441060 547px,#422c73 548px,#385084 549px,#2e6d8c 550px,#27808d 551px,#21908c 553px,#21918c 607px)"></i>
<i style="height:2px;background:linear-gradient(90deg,#25858e 0px,#277e8e 261px,#228c8d 318px,#20a486 367px,#2cb17e 413px,#1fa088 426px,#287c8e 441px,#3e4a89 458px,#482776 466px,#450456 474px,#440255 485px,#450658 486px,#461162 487px,#413b80 489px,#395588 490px,#2f708b 491px,#2c8e87 492px,#40ab76 493px,#74c656 494px,#b8da36 495px,#e8e428 496px,#fae725 497px,#fce725 512px,#f0e429 513px,#bed03e 514px,#719d62 515px,#48556f 516px,#421c62 517px,#440657 518px,#440154 524px,#440254 529px,#460e56 530px,#544058 531px,#84954e 532px,#cad138 533px,#f4e428 534px,#fce725 535px,#fce725 540px,#efe22a 541px,#bbc842 542px,#6c8d67 543px,#464872 544px,#431862 545px,#44085a 546px,#441363 547px,#375586 549px,#2d718c 550px,#26828d 551px,#21908c 553px,#21918c 607px)"></i>
<i style="height:2px;background:linear-gradient(90deg,#25858e 0px,#277e8e 262px,#228d8d 320px,#20a486 366px,#2db27d 412px,#1fa287 425px,#287e8e 440px,#404888 458px,#482474 466px,#440256 474px,#440456 485px,#450a5c 486px,#442e78 488px,#34618a 490px,#2c7c8a 491px,#309a82 492px,#51b76b 493px,#91d04a 494px,#d1df30 495px,#f3e626 496px,#fce725 497px,#fde725 511px,#f9e626 512px,#e4e02c 513px,#a8c543 514px,#628864 515px,#44406b 516px,#43125e 517px,#440456 518px,#440154 528px,#450456 529px,#4a175a 530px,#685258 531px,#a4a642 532px,#ded82e 533px,#f8e626 534px,#fde725 536px,#fae625 540px,#e7e02a 541px,#aec242 542px,#668466 543px,#464070 544px,#441562 545px,#440a5c 546px,#441866 547px,#365a88 549px,#2c748d 550px,#25848d 551px,#20918c 553px,#21918c 607px)"></i>
<i style="height:2px;background:linear-gradient(90deg,#25858e 0px,#277e8e 262px,#218e8d 322px,#21a685 368px,#2eb37d 411px,#20a287 424px,#24868e 436px,#3c508b 455px,#472a7a 464px,#450456 473px,#440255 484px,#450658 485px,#461062 486px,#42397e 488px,#306d8c 490px,#2b8988 491px,#39a67a 492px,#68c25e 493px,#acd83e 494px,#e2e22a 495px,#f8e626 496px,#fde725 499px,#fde725 511px,#f6e628 512px,#d3da34 513px,#8eb751 514px,#537268 515px,#422e64 516px,#430a58 517px,#440254 518px,#440254 528px,#440656 529px,#4c225e 530px,#74655a 531px,#bcb43e 532px,#eedd2a 533px,#fce625 534px,#fde725 539px,#f7e626 540px,#dadc30 541px,#9aba4c 542px,#5c7a6a 543px,#45396e 544px,#441260 545px,#450c5c 546px,#441c6a 547px,#345f8a 549px,#2a778d 550px,#24868d 551px,#20918c 553px,#21918c 607px)"></i>
<i style="height:2px;background:linear-gradient(90deg,#25858e 0px,#277e8e 263px,#218e8d 321px,#21a685 367px,#2eb37c 411px,#20a486 423px,#24888e 435px,#3b528b 454px,#46317e 462px,#450458 472px,#440254 483px,#450a5c 485px,#442c78 487px,#355e8a 489px,#2c798c 490px,#2e9584 491px,#48b270 492px,#82cc50 493px,#c4dd32 494px,#eee426 495px,#fbe724 496px,#fce725 511px,#f2e429 512px,#c4d43c 513px,#78a65e 514px,#4a606e 515px,#422263 516px,#430857 517px,#440154 519px,#440254 528px,#440857 529px,#492b5f 530px,#72745d 531px,#c0be41 532px,#f1e02a 533px,#fce625 534px,#fde725 539px,#f4e528 540px,#ced938 541px,#86b258 542px,#527070 543px,#44326e 544px,#44105f 545px,#450c5e 546px,#43216c 547px,#3c4380 548px,#32638a 549px,#2a7a8d 550px,#24878d 551px,#20918c 553px,#21918c 607px)"></i>
<i style="height:2px;background:linear-gradient(90deg,#25858e 0px,#277e8e 264px,#218e8d 321px,#21a685 365px,#2fb47c 410px,#21a586 422px,#228b8d 433px,#39568c 452px,#472e7c 462px,#450356 472px,#440255 483px,#450658 484px,#461062 485px,#42387e 487px,#316a8c 489px,#2a858a 490px,#34a27e 491px,#5cbe65 492px,#9ed444 493px,#d9e12d 494px,#f6e626 495px,#fde725 497px,#fae625 511px,#e8e22a 512px,#b0ca40 513px,#679464 514px,#454c6e 515px,#421861 516px,#440556 517px,#440154 525px,#440254 528px,#430a56 529px,#48335e 530px,#70825a 531px,#bec640 532px,#f1e22a 533px,#fce725 534px,#fce725 539px,#f2e42a 540px,#c5d43d 541px,#78a860 542px,#4a6674 543px,#432c6c 544px,#440e5e 545px,#450e60 546px,#422670 547px,#3b4882 548px,#30678b 549px,#287c8d 550px,#218f8d 552px,#21918c 607px)"></i>
<i style="height:2px;background:linear-gradient(90deg,#25858e 0px,#277e8e 264px,#218e8d 320px,#21a685 364px,#30b47c 409px,#20a486 422px,#24878e 434px,#3a548c 452px,#46307e 461px,#440255 472px,#440456 483px,#460a5c 484px,#442c78 486px,#365c8a 488px,#2d768c 489px,#2c9186 490px,#40ae76 491px,#74c856 492px,#b6da37 493px,#e7e428 494px,#fae625 495px,#fde725 502px,#fde725 510px,#f7e626 511px,#d8dd30 512px,#96bd4c 513px,#587c68 514px,#423668 515px,#430e5c 516px,#440356 517px,#440254 528px,#450d56 529px,#4e3d5a 530px,#7a9053 531px,#c5cf3a 532px,#f2e42a 533px,#fce725 534px,#fce725 539px,#f1e32a 540px,#bfd040 541px,#709e65 542px,#465c75 543px,#43256a 544px,#450d5d 545px,#451162 546px,#422a73 547px,#3a4e84 548px,#2f6b8c 549px,#287e8e 550px,#21908c 552px,#21918c 607px)"></i>
<i style="height:2px;background:linear-gradient(90deg,#25858e 0px,#277e8e 265px,#218f8d 322px,#21a685 363px,#31b57b 408px,#21a586 421px,#228a8d 432px,#39568c 451px,#472e7c 461px,#440356 471px,#440255 482px,#450658 483px,#461062 484px,#42377e 486px,#32678c 488px,#2a828a 489px,#309d82 490px,#52b96a 491px,#8fd04a 492px,#cedf2f 493px,#f2e625 494px,#fce724 495px,#fce725 510px,#f3e428 511px,#c8d73a 512px,#7eae5b 513px,#4c686c 514px,#412764 515px,#430858 516px,#440154 518px,#440456 528px,#49165a 529px,#604e59 530px,#98a248 531px,#d6d632 532px,#f6e527 533px,#fde725 534px,#fce725 539px,#f0e22a 540px,#bccb42 541px,#6c9668 542px,#455274 543px,#432068 544px,#450c5e 545px,#451565 546px,#385486 548px,#2e6f8c 549px,#26808e 550px,#21908c 552px,#21918c 607px)"></i>
<i style="height:2px;background:linear-gradient(90deg,#25858e 0px,#277e8e 265px,#218e8d 319px,#21a685 362px,#32b57a 407px,#22a884 419px,#218e8d 430px,#3a548b 451px,#463480 459px,#450458 470px,#440254 481px,#460a5e 483px,#442c78 485px,#375a8a 487px,#2a8e88 489px,#39a97a 490px,#67c35e 491px,#a9d83e 492px,#e0e22a 493px,#f8e625 494px,#fde725 496px,#fbe625 510px,#ebe22a 511px,#b6ce3f 512px,#6a9b63 513px,#455570 514px,#421e62 515px,#440657 516px,#440154 522px,#440254 527px,#440656 528px,#4b205e 529px,#70625a 530px,#b6b240 531px,#eadc2a 532px,#fbe625 533px,#fce625 539px,#ece02a 540px,#b6c642 541px,#6a8c67 542px,#464872 543px,#441a65 544px,#450c5e 545px,#441a68 546px,#365888 548px,#2c728d 549px,#26828d 550px,#21908c 552px,#21918c 607px)"></i>
<i style="height:2px;background:linear-gradient(90deg,#25858e 0px,#277e8e 266px,#21908d 321px,#21a685 360px,#32b67a 406px,#22a884 419px,#228d8d 430px,#3b528b 451px,#472c7a 460px,#440356 470px,#440255 481px,#450759 482px,#461264 483px,#42377e 485px,#32668c 487px,#2a7f8c 488px,#2d9a84 489px,#48b470 490px,#80cc50 491px,#c1dc32 492px,#ece426 493px,#fae724 494px,#fde725 509px,#f8e626 510px,#dcde2f 511px,#9bc24a 512px,#5a8568 513px,#42406c 514px,#43135e 515px,#440456 516px,#440254 527px,#440857 528px,#492a5f 529px,#72735c 530px,#c0bd41 531px,#f1e02a 532px,#fce625 533px,#fde725 538px,#f8e626 539px,#e0de2d 540px,#a2bf47 541px,#60816a 542px,#453f70 543px,#441662 544px,#450d5e 545px,#441e6b 546px,#3e3e7e 547px,#345e8a 548px,#2b768d 549px,#228d8d 551px,#20918c 555px,#21918c 607px)"></i>
<i style="height:2px;background:linear-gradient(90deg,#25858e 0px,#277e8e 262px,#228c8d 314px,#20a486 356px,#34b679 403px,#29af80 414px,#1f9b8a 424px,#365c8d 447px,#46327f 458px,#450457 469px,#450456 481px,#460c5e 482px,#452c78 484px,#37598a 486px,#298b8a 488px,#34a57d 489px,#5cbf64 490px,#9cd444 491px,#d7e12d 492px,#f5e625 493px,#fce724 494px,#fce725 509px,#f4e528 510px,#cbd838 511px,#82b258 512px,#4c6e6d 513px,#412c66 514px,#430a59 515px,#440254 516px,#440254 527px,#430a57 528px,#48325e 529px,#70825b 530px,#bec640 531px,#f1e22a 532px,#fce725 533px,#fde725 538px,#f6e628 539px,#d2da35 540px,#8db654 541px,#547670 542px,#443770 543px,#441361 544px,#450e5f 545px,#44226e 546px,#3c4480 547px,#32628a 548px,#2a798d 549px,#228e8d 551px,#20918c 555px,#21918c 607px)"></i>
<i style="height:2px;background:linear-gradient(90deg,#25858e 0px,#277e8e 260px,#238a8d 309px,#20a486 355px,#35b779 402px,#2ab07f 413px,#1f9a8a 424px,#34628d 445px,#443882 456px,#460c60 466px,#440254 470px,#440256 480px,#45075a 481px,#462472 483px,#3c4d87 485px,#2a7c8c 487px,#2b9686 488px,#41b074 489px,#74c856 490px,#b4da38 491px,#e5e428 492px,#fae625 493px,#fde725 500px,#fce725 509px,#ece329 510px,#b8d03e 511px,#6ca062 512px,#455b70 513px,#412063 514px,#440657 515px,#440154 518px,#440254 527px,#450e56 528px,#4e3d5a 529px,#7a9054 530px,#c4ce3b 531px,#f2e42a 532px,#fce725 533px,#fce725 538px,#f2e429 539px,#c7d63c 540px,#7cac5e 541px,#4b6b74 542px,#43306e 543px,#441160 544px,#451062 545px,#432871 546px,#3b4882 547px,#30678b 548px,#287c8e 549px,#218e8d 551px,#21908d 557px,#21918c 607px)"></i>
<i style="height:2px;background:linear-gradient(90deg,#25858e 0px,#287d8e 258px,#228c8d 313px,#20a486 354px,#35b778 400px,#2db27d 411px,#1f9e89 422px,#2f6c8e 441px,#423e85 454px,#48186a 463px,#440255 469px,#440254 479px,#460d60 481px,#442e7a 483px,#38588a 485px,#29888a 487px,#31a280 488px,#53bc69 489px,#8ed049 490px,#ccdf2e 491px,#f0e525 492px,#fce724 493px,#fde725 508px,#f8e626 509px,#dcdf2e 510px,#9cc448 511px,#5a8b69 512px,#424670 513px,#421661 514px,#440456 515px,#440154 526px,#440456 527px,#49175a 528px,#60505b 529px,#98a348 530px,#d6d732 531px,#f6e527 532px,#fde725 533px,#fce725 538px,#f1e42a 539px,#c0d140 540px,#70a265 541px,#466076 542px,#432a6c 543px,#451060 544px,#451464 545px,#422e75 546px,#3a4e84 547px,#306b8c 548px,#287e8e 549px,#218f8d 551px,#21918c 607px)"></i>
<i style="height:2px;background:linear-gradient(90deg,#25858e 0px,#287d8e 259px,#228c8d 312px,#20a486 353px,#36b878 400px,#2cb27e 411px,#1f9e88 421px,#2c728e 438px,#404487 452px,#482274 460px,#440256 468px,#440256 479px,#45085b 480px,#462473 482px,#3c4d88 484px,#2b7b8c 486px,#2a9487 487px,#3bad78 488px,#68c55c 489px,#a8d83e 490px,#dee22b 491px,#f7e625 492px,#fde725 494px,#fce725 508px,#f4e528 509px,#ccda38 510px,#83b558 511px,#4d746e 512px,#413168 513px,#430d5a 514px,#440255 515px,#440254 526px,#440657 527px,#4b225e 528px,#70665c 529px,#b6b440 530px,#eadd2a 531px,#fbe625 532px,#fce725 538px,#f0e22a 539px,#bccc42 540px,#6c9868 541px,#455676 542px,#43246a 543px,#451061 544px,#451968 545px,#385486 547px,#2e6f8c 548px,#26808e 549px,#21908c 551px,#21918c 607px)"></i>
<i style="height:2px;background:linear-gradient(90deg,#25858e 0px,#287d8e 259px,#228d8d 314px,#20a486 352px,#36b878 398px,#31b57b 408px,#1fa088 420px,#2b768e 436px,#404688 451px,#482072 460px,#450456 467px,#440255 478px,#460e60 480px,#404284 483px,#2f6e8c 485px,#28868a 486px,#2e9f82 487px,#4ab86e 488px,#82cd4e 489px,#c0dc32 490px,#eae426 491px,#fae724 492px,#fbe725 508px,#ece329 509px,#b8d13e 510px,#6ca462 511px,#445f70 512px,#402264 513px,#430858 514px,#440154 516px,#440254 526px,#440857 527px,#482c5f 528px,#71765c 529px,#bebf41 530px,#f1e02a 531px,#fce625 532px,#fbe625 538px,#ebe02a 539px,#b4c642 540px,#688c68 541px,#464c74 542px,#441e68 543px,#451062 544px,#451e6b 545px,#403a7d 546px,#365a88 547px,#2c738d 548px,#228c8d 550px,#20928c 553px,#21918c 607px)"></i>
<i style="height:2px;background:linear-gradient(90deg,#25858e 0px,#287d8e 259px,#228c8d 311px,#20a486 351px,#36b878 396px,#32b57a 407px,#1f9e88 420px,#2c728e 437px,#414487 451px,#482272 459px,#440255 467px,#440456 478px,#460a5c 479px,#462674 481px,#3c4d88 483px,#2b798c 485px,#289188 486px,#36aa7b 487px,#5ec262 488px,#9cd442 489px,#d5e02c 490px,#f4e625 491px,#fce724 492px,#fde725 507px,#f8e626 508px,#dcdf2e 509px,#9cc649 510px,#5a8e6a 511px,#414b72 512px,#421a62 513px,#440657 514px,#440154 518px,#440254 526px,#440b57 527px,#48345e 528px,#70855a 529px,#bec83f 530px,#f1e22a 531px,#fce725 532px,#fde725 537px,#f8e626 538px,#ddde2f 539px,#9ebe4a 540px,#5d816c 541px,#444274 542px,#441a67 543px,#461262 544px,#44226f 545px,#3e4280 546px,#34608a 547px,#2a768d 548px,#228d8d 550px,#20918c 554px,#21918c 607px)"></i>
<i style="height:2px;background:linear-gradient(90deg,#25858e 0px,#287d8e 259px,#228c8d 311px,#20a486 350px,#38b977 397px,#30b47c 408px,#1f9e89 420px,#31688e 440px,#433c84 452px,#471264 462px,#440255 467px,#440255 477px,#450659 478px,#471e6e 480px,#38588a 483px,#28848c 485px,#2c9c84 486px,#44b472 487px,#76ca54 488px,#b4da37 489px,#e4e428 490px,#f9e625 491px,#fde725 495px,#fce725 507px,#f4e528 508px,#ccda38 509px,#82b658 510px,#4c7870 511px,#41366c 512px,#43105c 513px,#440456 514px,#440355 526px,#461058 527px,#52435c 528px,#829652 529px,#c9d139 530px,#f3e428 531px,#fce725 532px,#fde725 537px,#f4e528 538px,#ceda37 539px,#87b457 540px,#517672 541px,#443972 542px,#451866 543px,#461465 544px,#442873 545px,#3c4882 546px,#32658b 547px,#2a7a8e 548px,#228e8d 550px,#20918c 554px,#21918c 607px)"></i>
<i style="height:2px;background:linear-gradient(90deg,#24868e 0px,#287d8e 259px,#228d8d 312px,#20a486 349px,#38b977 395px,#34b679 405px,#20a486 417px,#24878e 428px,#3e4a89 448px,#482576 457px,#440255 466px,#450457 477px,#471769 479px,#3c4e88 482px,#2b788c 484px,#288f89 485px,#32a87e 486px,#56be66 487px,#90d247 488px,#ccdf2e 489px,#efe524 490px,#fce724 491px,#fbe725 507px,#eae32a 508px,#b6d23e 509px,#6ba462 510px,#446272 511px,#402565 512px,#430858 513px,#440154 515px,#440254 525px,#440656 526px,#4a1c5d 527px,#665a5c 528px,#a3aa46 529px,#deda2e 530px,#f8e626 531px,#fde725 533px,#fce725 537px,#f2e42a 538px,#c4d43e 539px,#76aa61 540px,#486a77 541px,#433272 542px,#461666 543px,#461868 544px,#422e76 545px,#3a4e84 546px,#306a8c 547px,#287c8e 548px,#218f8d 550px,#21918c 607px)"></i>
<i style="height:2px;background:linear-gradient(90deg,#24868e 0px,#287d8e 259px,#228d8d 311px,#20a486 349px,#36b878 391px,#36b878 403px,#20a486 416px,#228b8d 426px,#3d4c8a 447px,#482676 456px,#440356 465px,#440256 476px,#461264 478px,#404485 481px,#2f6c8d 483px,#28828c 484px,#2a9a85 485px,#3fb274 486px,#6ec85a 487px,#abd83c 488px,#dee22a 489px,#f6e625 490px,#fde725 492px,#fde725 506px,#f7e626 507px,#dbdf30 508px,#99c64a 509px,#58906c 510px,#404e72 511px,#421a62 512px,#440657 513px,#440154 519px,#440254 525px,#440857 526px,#4a265f 527px,#716e5c 528px,#bcb940 529px,#eede2a 530px,#fce625 531px,#fce725 537px,#f0e32a 538px,#becf42 539px,#6e9e67 540px,#445e79 541px,#432c70 542px,#461666 543px,#461c6c 544px,#42357a 545px,#385487 546px,#2e6e8c 547px,#27808e 548px,#218f8d 550px,#21918c 607px)"></i>
<i style="height:2px;background:linear-gradient(90deg,#24868e 0px,#287d8e 259px,#228d8d 311px,#20a486 348px,#38b977 392px,#36b878 402px,#21a685 415px,#228c8d 425px,#3b528b 445px,#472d7c 454px,#450457 464px,#440254 475px,#460c5e 477px,#423a81 480px,#2c778d 483px,#278e8a 484px,#30a57f 485px,#50bc6a 486px,#87d04c 487px,#c2dd30 488px,#eae426 489px,#fae724 490px,#fce725 506px,#f3e428 507px,#cad938 508px,#80b659 509px,#4b7971 510px,#40386d 511px,#43105e 512px,#440456 513px,#440254 525px,#430a57 526px,#48305e 527px,#707e5c 528px,#bec440 529px,#f1e22a 530px,#fce725 531px,#fce725 537px,#eee22a 538px,#b8ca42 539px,#6a9469 540px,#455478 541px,#44276f 542px,#461868 543px,#452270 544px,#365a89 546px,#2c728d 547px,#228b8d 549px,#20928c 552px,#21918c 607px)"></i>
<i style="height:2px;background:linear-gradient(90deg,#24868e 0px,#287d8e 259px,#228d8d 310px,#20a486 347px,#38b977 391px,#37b877 401px,#22a685 414px,#228e8d 424px,#3c508a 445px,#482676 455px,#440256 464px,#440356 475px,#461264 477px,#404485 480px,#2f6c8d 482px,#28828c 483px,#299886 484px,#3bb078 485px,#66c55e 486px,#a2d63f 487px,#d8e12a 488px,#f4e624 489px,#fce724 490px,#fae625 506px,#e8e229 507px,#b2d03e 508px,#68a462 509px,#426272 510px,#402665 511px,#430858 512px,#440154 514px,#440254 525px,#440e58 526px,#4c3c5d 527px,#768e56 528px,#c2cc3c 529px,#f2e42a 530px,#fce725 531px,#fde725 536px,#f9e626 537px,#e1df2c 538px,#a4c246 539px,#60886b 540px,#444b78 541px,#45246e 542px,#461a6a 543px,#442874 544px,#34608a 546px,#2a768d 547px,#25848e 548px,#21908c 550px,#21918c 607px)"></i>
<i style="height:2px;background:linear-gradient(90deg,#24868e 0px,#287d8e 259px,#228d8d 310px,#20a486 346px,#36b878 387px,#39b977 399px,#26ac82 411px,#1f968b 420px,#3b508b 444px,#472c7a 453px,#450457 463px,#440255 474px,#460e60 476px,#423b81 479px,#2c768d 482px,#278c8a 483px,#2ea480 484px,#4cba6d 485px,#7fce50 486px,#bbdc34 487px,#e7e427 488px,#fae625 489px,#fde725 496px,#fde725 505px,#f7e626 506px,#d8de30 507px,#95c44c 508px,#55906c 509px,#3f4e73 510px,#421b62 511px,#440657 512px,#440154 518px,#440456 525px,#48175c 526px,#5c505e 527px,#92a24c 528px,#d2d634 529px,#f6e428 530px,#fde725 531px,#fde725 536px,#f5e628 537px,#d2da35 538px,#8cb854 539px,#537c73 540px,#444378 541px,#46226e 542px,#471e6e 543px,#442f78 544px,#32668c 546px,#2a7a8e 547px,#228e8d 549px,#20918c 553px,#21918c 607px)"></i>
<i style="height:2px;background:linear-gradient(90deg,#24868e 0px,#287d8e 259px,#218e8d 311px,#21a685 348px,#3aba76 392px,#34b679 403px,#1fa088 416px,#2b748e 432px,#414487 447px,#482272 455px,#440256 463px,#440456 474px,#471466 476px,#3f4485 479px,#2f6c8d 481px,#289787 483px,#38ae79 484px,#60c461 485px,#9ad442 486px,#d2e02c 487px,#f2e624 488px,#fce724 489px,#fce725 505px,#f2e428 506px,#c7d83a 507px,#7cb55a 508px,#4a7872 509px,#40386e 510px,#43105e 511px,#440456 512px,#440254 524px,#440757 525px,#4a245e 526px,#6d675c 527px,#b2b442 528px,#e8dd2b 529px,#fae626 530px,#fce725 536px,#f2e429 537px,#c6d63c 538px,#78ad60 539px,#497179 540px,#433c78 541px,#462270 542px,#462372 543px,#42367c 544px,#306b8c 546px,#287d8e 547px,#218e8d 549px,#21908d 555px,#21918c 607px)"></i>
<i style="height:2px;background:linear-gradient(90deg,#24868e 0px,#287d8e 259px,#218e8d 310px,#21a685 347px,#3aba76 390px,#36b878 401px,#20a386 414px,#24868e 425px,#3d4c8a 444px,#482878 453px,#450456 462px,#440255 473px,#460e60 475px,#423c82 478px,#2c768d 481px,#278c8a 482px,#2ca282 483px,#48b870 484px,#78cc53 485px,#b4da37 486px,#e4e428 487px,#f8e625 488px,#fde725 490px,#fae625 505px,#e5e22a 506px,#accf40 507px,#64a264 508px,#406173 509px,#402666 510px,#430858 511px,#440154 513px,#440254 524px,#440a57 525px,#482e5f 526px,#70785c 527px,#bec040 528px,#f0e02a 529px,#fce725 530px,#fce725 536px,#f0e32a 537px,#bed040 538px,#6ea267 539px,#44667c 540px,#433879 541px,#462472 542px,#462a76 543px,#403e81 544px,#2e708d 546px,#238a8d 548px,#20928c 551px,#21918c 607px)"></i>
<i style="height:2px;background:linear-gradient(90deg,#24868e 0px,#287d8e 259px,#218e8d 310px,#21a685 346px,#3aba76 389px,#37b878 400px,#20a486 413px,#228a8d 423px,#3c4e8a 443px,#482a78 452px,#440256 462px,#450456 473px,#471567 475px,#3f4686 478px,#28808c 481px,#289687 482px,#36ac7b 483px,#5cc264 484px,#93d345 485px,#ccdf2d 486px,#eee524 487px,#fae724 488px,#fde725 504px,#f6e626 505px,#d4de32 506px,#90c250 507px,#528e70 508px,#3e4d74 509px,#421a63 510px,#440657 511px,#440154 517px,#440254 524px,#440c58 525px,#4a385e 526px,#728859 527px,#c0ca3e 528px,#f1e22a 529px,#fce725 530px,#fce625 536px,#ece22a 537px,#b4ca42 538px,#66976a 539px,#435d7e 540px,#44357a 541px,#462876 542px,#44307b 543px,#34608b 545px,#2c758e 546px,#228c8d 548px,#20928c 551px,#21918c 607px)"></i>
<i style="height:2px;background:linear-gradient(90deg,#24868e 0px,#287d8e 259px,#228d8d 307px,#20a486 343px,#3aba76 387px,#38b977 399px,#20a386 413px,#24868e 424px,#3d4c8a 443px,#482676 452px,#450456 461px,#440256 472px,#461062 474px,#423c82 477px,#2c768d 480px,#268a8a 481px,#2ca082 482px,#44b672 483px,#72ca56 484px,#aeda3a 485px,#dfe228 486px,#f6e624 487px,#fde725 489px,#fce725 504px,#efe428 505px,#c0d63a 506px,#76b25d 507px,#467674 508px,#40386e 509px,#43105e 510px,#440456 511px,#440154 523px,#440456 524px,#46165c 525px,#564e60 526px,#869e52 527px,#ccd438 528px,#f4e428 529px,#fce725 530px,#fde725 535px,#f8e626 536px,#dcde2e 537px,#9cc24a 538px,#5a8c70 539px,#42557e 540px,#44347c 541px,#462c79 542px,#42387f 543px,#32668c 545px,#25868e 547px,#20928c 550px,#21918c 607px)"></i>
<i style="height:2px;background:linear-gradient(90deg,#24868e 0px,#287d8e 258px,#218e8d 309px,#21a685 345px,#3aba76 386px,#38b977 398px,#22a685 411px,#228e8d 421px,#3c4e8a 442px,#482878 451px,#440255 461px,#440254 471px,#460b5e 473px,#44347e 476px,#2f6c8d 479px,#279588 481px,#34ab7c 482px,#56c066 483px,#c6de2f 485px,#ece426 486px,#fae724 487px,#fde725 503px,#f8e626 504px,#e0e12c 505px,#a3cc44 506px,#5e9f67 507px,#3f5f74 508px,#402466 509px,#430859 510px,#440154 512px,#440254 523px,#440657 524px,#48225f 525px,#66655e 526px,#a7b245 527px,#e1dc2e 528px,#f8e626 529px,#fde725 532px,#fde725 535px,#f4e528 536px,#cdda38 537px,#84b85a 538px,#4d8078 539px,#404f80 540px,#44347e 541px,#45327d 542px,#404083 543px,#2f6c8d 545px,#24888d 547px,#20928c 550px,#21918c 607px)"></i>
<i style="height:2px;background:linear-gradient(90deg,#24868e 0px,#287d8e 258px,#228d8d 306px,#20a486 341px,#3bbb75 387px,#38b977 398px,#20a386 412px,#24868e 423px,#3e4c8a 442px,#482676 451px,#450356 460px,#440256 471px,#461164 473px,#423e83 476px,#2c768d 479px,#268a8a 480px,#2aa084 481px,#42b672 482px,#6ec958 483px,#a8d83c 484px,#dae22a 485px,#f5e624 486px,#fce724 487px,#fce725 503px,#f4e628 504px,#cfdc35 505px,#88bf54 506px,#4d8a72 507px,#3e4a74 508px,#421a62 509px,#440657 510px,#440154 516px,#440254 523px,#440857 524px,#482c5f 525px,#6e775c 526px,#bcbf40 527px,#eee02a 528px,#fce625 529px,#fce725 535px,#f2e42a 536px,#c2d43e 537px,#72ac64 538px,#44767e 539px,#404a82 540px,#443680 541px,#443880 542px,#2c718e 545px,#238a8d 547px,#20928c 550px,#21918c 607px)"></i>
<i style="height:2px;background:linear-gradient(90deg,#24868e 0px,#287d8e 258px,#228e8d 306px,#20a486 340px,#3cbb75 386px,#3aba76 396px,#23a884 409px,#20928c 418px,#3b508b 440px,#472c7a 449px,#450458 459px,#440154 469px,#450558 471px,#47186a 473px,#3e4686 476px,#28808c 479px,#269488 480px,#32aa7d 481px,#54be68 482px,#c0dd30 484px,#e9e426 485px,#fae624 486px,#fde725 493px,#fae725 503px,#eae328 504px,#b7d43c 505px,#6dae60 506px,#437276 507px,#3f366e 508px,#43105e 509px,#440456 510px,#440254 523px,#440c58 524px,#483860 525px,#71885a 526px,#bfc83f 527px,#f1e22a 528px,#fce725 529px,#fce725 535px,#eee22a 536px,#b8ce41 537px,#68a269 538px,#406d82 539px,#404884 540px,#443a82 541px,#423f84 542px,#2a768e 545px,#228a8d 547px,#20928c 550px,#21918c 607px)"></i>
<i style="height:2px;background:linear-gradient(90deg,#24868e 0px,#287d8e 258px,#218e8d 307px,#21a685 342px,#3cbb75 385px,#3aba76 396px,#21a586 410px,#228c8d 420px,#3c4e8a 440px,#472a7a 449px,#440256 459px,#440456 470px,#471264 472px,#423e83 475px,#2c768d 478px,#268a8c 479px,#2a9f84 480px,#3fb474 481px,#6ac85a 482px,#a3d83e 483px,#d6e12a 484px,#f3e624 485px,#fce724 486px,#fde725 502px,#f7e626 503px,#dae030 504px,#98c94a 505px,#569a6c 506px,#3d5b76 507px,#402366 508px,#430858 509px,#440154 511px,#440456 523px,#46175e 524px,#524e64 525px,#829e56 526px,#c9d23a 527px,#f3e428 528px,#fce725 529px,#fde725 534px,#f9e626 535px,#e0e02d 536px,#a2c647 537px,#5a976e 538px,#3e6684 539px,#404785 540px,#423e84 541px,#3f4686 542px,#297a8e 545px,#228c8d 547px,#20928c 550px,#21918c 607px)"></i>
<i style="height:2px;background:linear-gradient(90deg,#24868e 0px,#287d8e 258px,#228d8d 304px,#20a486 339px,#3cbb75 384px,#39b976 396px,#20a486 410px,#238a8d 420px,#3d4c8a 440px,#482878 449px,#450456 458px,#440255 469px,#460e60 471px,#443780 474px,#2f6c8d 477px,#269488 479px,#32aa7e 480px,#51be69 481px,#bcdc32 483px,#e7e426 484px,#f9e624 485px,#fde725 489px,#fce725 502px,#f2e428 503px,#c7da38 504px,#7ebb59 505px,#488576 506px,#3e4774 507px,#421862 508px,#440657 509px,#440154 513px,#440254 522px,#440757 523px,#472360 524px,#606660 525px,#9eb249 526px,#dcda30 527px,#f8e626 528px,#fde725 530px,#fde725 534px,#f5e628 535px,#d0dc36 536px,#88be56 537px,#4c8c78 538px,#3c6086 539px,#3f4886 540px,#404486 541px,#345e8c 543px,#287e8e 545px,#228e8d 547px,#20918c 551px,#21918c 607px)"></i>
<i style="height:2px;background:linear-gradient(90deg,#24868e 0px,#287d8e 258px,#218f8d 307px,#21a685 341px,#3cbb75 383px,#3aba76 395px,#21a586 409px,#228c8d 419px,#3c4e8a 439px,#482a78 448px,#440256 458px,#450456 469px,#471466 471px,#414084 474px,#2b768d 477px,#268a8c 478px,#2a9e84 479px,#3eb475 480px,#67c75c 481px,#9ed63f 482px,#d2e02a 483px,#f1e624 484px,#fce724 485px,#fde725 501px,#f9e626 502px,#e4e22a 503px,#aad040 504px,#62a965 505px,#406d78 506px,#3f326e 507px,#430e5e 508px,#440456 509px,#440254 522px,#430a57 523px,#472e5f 524px,#6c785c 525px,#b7bf40 526px,#ece02a 527px,#fce625 528px,#fce725 534px,#f2e429 535px,#c4d63d 536px,#75b262 537px,#428280 538px,#3a5c88 539px,#3e4a88 540px,#3e4a88 541px,#26818e 545px,#218e8d 547px,#21908c 552px,#21918c 607px)"></i>
<i style="height:2px;background:linear-gradient(90deg,#24868e 0px,#287d8e 257px,#228d8d 303px,#20a486 337px,#38b977 376px,#3cbb75 392px,#26ac81 405px,#1f9a8a 413px,#355e8d 434px,#443882 444px,#460a5c 455px,#440154 460px,#440256 468px,#461062 470px,#443880 473px,#2f6c8d 476px,#269488 478px,#30a97e 479px,#4fbe6a 480px,#80cf4e 481px,#b8dc34 482px,#e4e427 483px,#f8e624 484px,#fde725 486px,#fce725 501px,#f5e627 502px,#d2de33 503px,#8cc451 504px,#4e9470 505px,#3c5676 506px,#402166 507px,#440858 508px,#440154 510px,#440255 522px,#44105a 523px,#483c63 524px,#708a5d 525px,#beca40 526px,#f0e22a 527px,#fce725 528px,#fce725 534px,#ede22a 535px,#b8d040 536px,#66a868 537px,#3c7a84 538px,#3a5a8a 539px,#3e4c89 540px,#3c508a 541px,#26848e 545px,#20918c 548px,#21918c 607px)"></i>
<i style="height:2px;background:linear-gradient(90deg,#24868e 0px,#287d8e 257px,#218e8d 304px,#21a685 339px,#3cbb75 381px,#3bba76 393px,#24aa83 406px,#20948c 415px,#3b528b 437px,#472d7c 446px,#450458 456px,#440254 467px,#460c5e 469px,#45317c 472px,#33648c 475px,#268a8c 477px,#299e84 478px,#3cb476 479px,#65c65e 480px,#9bd640 481px,#d0e02a 482px,#f0e624 483px,#fce724 484px,#fae725 501px,#ebe428 502px,#bad63a 503px,#70b45e 504px,#437e78 505px,#3e4274 506px,#421662 507px,#440456 508px,#440154 520px,#440656 522px,#451b60 523px,#505468 524px,#80a05a 525px,#c8d43b 526px,#f3e428 527px,#fce725 528px,#fde725 533px,#f8e626 534px,#dee02e 535px,#9ec848 536px,#569e70 537px,#387286 538px,#39588a 539px,#3c508a 540px,#39568c 541px,#287d8e 544px,#21908d 547px,#21918c 607px)"></i>
<i style="height:2px;background:linear-gradient(90deg,#24868e 0px,#287d8e 257px,#218f8d 305px,#21a685 338px,#3cbb75 380px,#3cbb75 391px,#26ac81 404px,#1f9a8a 412px,#365e8d 433px,#463480 444px,#450356 456px,#440456 467px,#471264 469px,#433a81 472px,#2f6e8d 475px,#269488 477px,#30a87e 478px,#4ebc6b 479px,#7ece50 480px,#b6dc35 481px,#e2e427 482px,#f8e624 483px,#fde725 485px,#fde725 500px,#f7e626 501px,#dbe02e 502px,#9acc48 503px,#57a26b 504px,#3c6779 505px,#3f2e6c 506px,#440e5c 507px,#440356 508px,#440254 521px,#440857 522px,#462660 523px,#5c6a62 524px,#9ab34a 525px,#dadb30 526px,#f7e626 527px,#fde725 529px,#fde725 533px,#f5e628 534px,#cfdc36 535px,#86c058 536px,#489479 537px,#366d88 538px,#38588b 539px,#3a548b 540px,#30688d 542px,#24888d 545px,#20918c 548px,#21918c 607px)"></i>
<i style="height:2px;background:linear-gradient(90deg,#24868e 0px,#287d8e 256px,#218e8d 303px,#21a685 337px,#3dbc74 381px,#3cbb75 391px,#24aa83 405px,#20948c 414px,#3b508b 436px,#472c7a 445px,#450458 455px,#440154 465px,#450658 467px,#472474 470px,#3a548a 473px,#268a8c 476px,#299e84 477px,#3cb276 478px,#62c65e 479px,#cce02c 481px,#eee524 482px,#fae724 483px,#fce725 500px,#f0e427 501px,#c6da36 502px,#7ebe58 503px,#478e76 504px,#3c5178 505px,#401e65 506px,#440758 507px,#440154 510px,#440254 521px,#430a58 522px,#463061 523px,#6a7c5d 524px,#b4c140 525px,#eae02a 526px,#fbe625 527px,#fce725 533px,#f2e429 534px,#c3d63d 535px,#73b662 536px,#3e8a80 537px,#34698a 538px,#385a8c 539px,#38588c 540px,#26838e 544px,#21908c 547px,#21918c 607px)"></i>
<i style="height:2px;background:linear-gradient(90deg,#24868e 0px,#287d8e 256px,#218f8d 304px,#21a685 337px,#38b977 373px,#3ebc74 388px,#28ae80 402px,#1f9a8a 411px,#365e8d 432px,#46327f 443px,#440356 455px,#450456 466px,#471266 468px,#423c82 471px,#2e6e8d 474px,#269488 476px,#30a87e 477px,#4cbc6c 478px,#7bce52 479px,#b2da36 480px,#e0e228 481px,#f6e624 482px,#fde725 484px,#fde725 499px,#f9e626 500px,#e3e22b 501px,#a9d240 502px,#62ae64 503px,#3e777a 504px,#3e3d74 505px,#421461 506px,#440456 507px,#440154 520px,#440456 521px,#44145e 522px,#494569 523px,#719160 524px,#becc40 525px,#f0e22a 526px,#fce725 527px,#fae625 533px,#eae22a 534px,#b2d040 535px,#62ac68 536px,#388284 537px,#34668c 538px,#365a8c 539px,#365d8c 540px,#24868e 544px,#20918c 547px,#21918c 607px)"></i>
<i style="height:2px;background:linear-gradient(90deg,#24868e 0px,#287d8e 256px,#218e8d 302px,#21a685 336px,#3ebc74 380px,#3bba75 391px,#22a784 405px,#228c8d 416px,#3d4c8a 436px,#482878 445px,#450456 454px,#440256 465px,#460e61 467px,#44357e 470px,#32668d 473px,#268b8c 475px,#289e84 476px,#3bb276 477px,#61c560 478px,#cadf2c 480px,#ece424 481px,#fae724 482px,#fce725 499px,#f4e627 500px,#d1de33 501px,#8ac651 502px,#4d9a72 503px,#3a607a 504px,#402a6b 505px,#440c5c 506px,#440255 507px,#440254 520px,#440657 521px,#442062 522px,#4f5c6b 523px,#80a65a 524px,#c8d53a 525px,#f3e428 526px,#fce725 527px,#fde725 532px,#f7e626 533px,#d9df30 534px,#96c84c 535px,#50a172 536px,#347b88 537px,#34648c 538px,#365d8d 539px,#306b8e 541px,#24888e 544px,#20918c 547px,#21918c 607px)"></i>
<i style="height:2px;background:linear-gradient(90deg,#24868e 0px,#287e8e 256px,#218e8d 301px,#21a685 335px,#3ebc74 379px,#3aba76 391px,#20a486 406px,#24868e 417px,#3c4e8a 435px,#482a78 444px,#440256 454px,#440254 464px,#460a5e 466px,#423d83 470px,#2e708d 473px,#269688 475px,#30a87e 476px,#4cbc6c 477px,#7acd52 478px,#b0da37 479px,#dee228 480px,#f6e624 481px,#fce724 482px,#fae625 499px,#e9e428 500px,#b6d63b 501px,#6eb75e 502px,#41847a 503px,#3b4a78 504px,#421c64 505px,#440658 506px,#440154 510px,#440254 520px,#430958 521px,#442a62 522px,#5a7063 523px,#98b84b 524px,#dadc30 525px,#f7e626 526px,#fde725 528px,#fde725 532px,#f4e528 533px,#cbdb38 534px,#7fbf5b 535px,#42987b 536px,#32758a 537px,#33638d 538px,#34608d 539px,#2a798e 542px,#228e8d 545px,#21908d 555px,#21918c 607px)"></i>
<i style="height:2px;background:linear-gradient(90deg,#24868e 0px,#287d8e 255px,#218e8d 301px,#21a685 334px,#3ebc74 378px,#3cbb75 389px,#23a984 403px,#20938c 412px,#3a548b 433px,#46307d 442px,#450456 453px,#440456 464px,#461063 466px,#443780 469px,#31688d 472px,#268c8c 474px,#28a084 475px,#3bb276 476px,#60c560 477px,#c8df2d 479px,#ece424 480px,#fae724 481px,#fde725 498px,#f6e626 499px,#d8e030 500px,#96cc4a 501px,#54a56c 502px,#3a6e7d 503px,#3e3772 504px,#431260 505px,#440456 506px,#440456 520px,#44105c 521px,#463a66 522px,#688460 523px,#b2c440 524px,#eae02a 525px,#fae625 526px,#fce725 532px,#f0e429 533px,#bfd63e 534px,#6eb664 535px,#3a8e81 536px,#31708c 537px,#33638d 538px,#34628d 539px,#238a8d 544px,#20918c 548px,#21918c 607px)"></i>
<i style="height:2px;background:linear-gradient(90deg,#24868e 0px,#287d8e 255px,#218f8d 301px,#21a685 334px,#3aba76 372px,#3ebc74 385px,#2eb27d 397px,#1f9e88 407px,#2b768e 422px,#414286 437px,#482072 445px,#440256 453px,#440256 463px,#460c60 465px,#46317c 468px,#34608c 471px,#27848c 473px,#269688 474px,#30aa7e 475px,#4cbc6c 476px,#78cd52 477px,#aeda38 478px,#dce228 479px,#f5e624 480px,#fde725 482px,#fce725 498px,#eee428 499px,#c0da37 500px,#78be59 501px,#449077 502px,#39587a 503px,#402469 504px,#440a5a 505px,#440154 507px,#440254 519px,#440656 520px,#431b61 521px,#48526e 522px,#729a62 523px,#c0cf3f 524px,#f1e42a 525px,#fce725 526px,#fde725 531px,#f9e626 532px,#e3e22c 533px,#a6cf43 534px,#5bac6a 535px,#348685 536px,#316c8c 537px,#33638d 538px,#2f6c8e 540px,#24868e 543px,#20918c 546px,#21918c 607px)"></i>
<i style="height:2px;background:linear-gradient(90deg,#24868e 0px,#287d8e 254px,#218f8d 301px,#21a685 333px,#38b977 369px,#3ebc73 384px,#2ab07f 398px,#1f9e89 407px,#2f6b8e 425px,#443c84 438px,#470e60 449px,#440154 454px,#450457 463px,#471e6f 466px,#3e4887 469px,#2a7a8d 472px,#258c8a 473px,#28a084 474px,#3bb476 475px,#60c560 476px,#c6df2e 478px,#eae424 479px,#fae724 480px,#fde725 497px,#f8e626 498px,#dee12d 499px,#a1d044 500px,#5cae68 501px,#3c7c7d 502px,#3c4477 503px,#421863 504px,#440657 505px,#440154 511px,#440254 519px,#430858 520px,#422663 521px,#4e666c 522px,#81ad59 523px,#cad739 524px,#f4e428 525px,#fce725 526px,#fde725 531px,#f6e628 532px,#d4de33 533px,#8cc652 534px,#4aa275 535px,#307e88 536px,#316a8d 537px,#32648d 538px,#2e6f8e 540px,#24888d 543px,#20918c 546px,#21918c 607px)"></i>
<i style="height:2px;background:linear-gradient(90deg,#24868e 0px,#287d8e 254px,#218f8d 300px,#21a685 332px,#3ebc74 376px,#3cbb75 387px,#24aa83 401px,#20948c 410px,#3b528b 432px,#482878 442px,#440256 452px,#440456 462px,#461062 464px,#44337e 467px,#34628c 470px,#26848c 472px,#269688 473px,#30aa7e 474px,#4cbc6c 475px,#77cd52 476px,#acda38 477px,#dae228 478px,#f4e624 479px,#fce724 480px,#fce725 497px,#f1e427 498px,#c8dc34 499px,#82c454 500px,#489b74 501px,#38667e 502px,#3e3270 503px,#44105e 504px,#440456 505px,#440256 519px,#430e5c 520px,#443468 521px,#597a66 522px,#98bc4b 523px,#d9dd30 524px,#f7e626 525px,#fde725 527px,#fce725 531px,#f2e428 532px,#c6da3a 533px,#78be5e 534px,#3e987e 535px,#2f798a 536px,#31688d 537px,#32668e 538px,#238a8d 543px,#20918c 547px,#21918c 607px)"></i>
<i style="height:2px;background:linear-gradient(90deg,#24868e 0px,#287e8e 254px,#218e8d 298px,#21a685 332px,#38b977 367px,#3fbc73 382px,#2eb27c 395px,#1fa088 405px,#2a768e 420px,#404487 435px,#481e70 444px,#440255 452px,#440256 461px,#460c5f 463px,#462e7a 466px,#375a8c 469px,#258e8a 472px,#28a084 473px,#3cb476 474px,#60c560 475px,#c4de2e 477px,#eae425 478px,#fae624 479px,#fde725 486px,#fde725 496px,#f9e626 497px,#e2e22a 498px,#aad43f 499px,#64b563 500px,#3c877c 501px,#3a507b 502px,#402068 503px,#440859 504px,#440154 506px,#440254 518px,#440556 519px,#421861 520px,#444a6f 521px,#659164 522px,#aec940 523px,#e8e12a 524px,#fae625 525px,#fae625 531px,#e8e229 532px,#b2d43e 533px,#64b466 534px,#368f82 535px,#2e748c 536px,#31688e 537px,#2e6c8e 539px,#228b8d 543px,#20918c 547px,#21918c 607px)"></i>
<i style="height:2px;background:linear-gradient(90deg,#24868e 0px,#287d8e 253px,#218f8d 299px,#21a685 331px,#3aba76 369px,#3ebc74 383px,#27ad81 398px,#1f9a8a 407px,#365c8d 428px,#453680 438px,#450659 450px,#440154 457px,#450458 461px,#471d6e 464px,#404486 467px,#2c748d 470px,#269888 472px,#30aa7e 473px,#4cbd6c 474px,#76cd54 475px,#aada38 476px,#d9e228 477px,#f3e624 478px,#fce724 479px,#fce725 496px,#f2e626 497px,#cede32 498px,#89c950 499px,#4ca472 500px,#387280 501px,#3c3e76 502px,#421662 503px,#440456 504px,#440154 517px,#430858 519px,#412364 520px,#465f71 521px,#72a462 522px,#c0d23e 523px,#f0e429 524px,#fce725 525px,#fde725 530px,#f7e626 531px,#d9e030 532px,#95cb4c 533px,#4eaa70 534px,#308787 535px,#2e728d 536px,#30688e 537px,#2e708e 539px,#228c8d 543px,#20918c 548px,#21918c 607px)"></i>
<i style="height:2px;background:linear-gradient(90deg,#24868e 0px,#287d8e 253px,#21908c 300px,#21a685 330px,#38b977 366px,#3ebc73 381px,#2eb27d 394px,#1f9f88 404px,#2a768e 419px,#404487 434px,#481e70 443px,#440256 451px,#440456 460px,#47196a 463px,#423e84 466px,#2f6d8d 469px,#24908a 471px,#28a284 472px,#3cb476 473px,#60c560 474px,#c2de2e 476px,#e9e426 477px,#f9e624 478px,#fde725 482px,#fde725 495px,#f9e625 496px,#e4e32a 497px,#afd63c 498px,#6aba5f 499px,#3e917b 500px,#385d7f 501px,#402c6f 502px,#440e5e 503px,#440456 504px,#440456 518px,#430e5c 519px,#41346c 520px,#4c7571 521px,#81b45a 522px,#cbd839 523px,#f4e528 524px,#fce725 525px,#fce725 530px,#f3e528 531px,#cadb38 532px,#7ec25a 533px,#40a07a 534px,#2e808a 535px,#2e6e8e 536px,#30698e 537px,#2c728e 539px,#228d8d 543px,#21908c 549px,#21918c 607px)"></i>
<i style="height:2px;background:linear-gradient(90deg,#24868e 0px,#287d8e 252px,#218f8d 298px,#21a685 329px,#3ebc74 373px,#3bba75 385px,#23a884 399px,#20918c 409px,#3b528b 430px,#482878 440px,#440255 451px,#440256 459px,#471668 462px,#443981 465px,#32668d 468px,#26888c 470px,#269a88 471px,#30ac7e 472px,#4cbd6c 473px,#76cd54 474px,#aada38 475px,#d7e228 476px,#f2e624 477px,#fce724 478px,#fce725 495px,#f3e626 496px,#d0de30 497px,#8ecc4c 498px,#50aa6e 499px,#367d81 500px,#3a4a7a 501px,#421d66 502px,#440859 503px,#440154 505px,#440254 517px,#440657 518px,#421962 519px,#404973 520px,#528b6e 521px,#91c14f 522px,#d6de32 523px,#f6e626 524px,#fde725 525px,#fae625 530px,#e9e329 531px,#b4d53d 532px,#67b863 533px,#369680 534px,#2c7c8c 535px,#2f6e8e 536px,#306a8e 537px,#287e8e 540px,#228e8d 543px,#21918c 607px)"></i>
<i style="height:2px;background:linear-gradient(90deg,#24868e 0px,#287d8e 252px,#218f8d 297px,#21a685 329px,#38b977 364px,#3fbc73 379px,#2eb37c 392px,#1f9f88 403px,#2c748e 419px,#404487 433px,#481b6d 443px,#440255 451px,#440255 458px,#471366 461px,#44347f 464px,#34608c 467px,#24908a 470px,#29a283 471px,#3cb576 472px,#60c660 473px,#c2de2e 475px,#e8e426 476px,#f9e624 477px,#fde725 481px,#fde725 494px,#fae625 495px,#e6e328 496px,#b3d83a 497px,#6ec05c 498px,#3e997a 499px,#356a82 500px,#3e3876 501px,#431462 502px,#440456 503px,#440154 516px,#440a5a 518px,#402668 519px,#3e5e76 520px,#5c9d68 521px,#a2cc44 522px,#e0e02c 523px,#f8e626 524px,#fde725 527px,#fde725 529px,#f7e626 530px,#d9e030 531px,#96ce4a 532px,#50ae6e 533px,#308e86 534px,#2c788d 535px,#2e6d8e 536px,#2f6c8e 537px,#228c8d 542px,#20918c 547px,#21918c 607px)"></i>
<i style="height:2px;background:linear-gradient(90deg,#24868e 0px,#287e8e 252px,#218e8d 295px,#21a685 328px,#3aba76 366px,#3ebc74 380px,#2ab07f 394px,#1f9b8a 404px,#33628d 424px,#443a83 435px,#470f62 446px,#440154 452px,#450458 458px,#481a6c 461px,#3e4a88 465px,#26898c 469px,#269a87 470px,#30ac7d 471px,#4cbe6c 472px,#76cd53 473px,#a8da38 474px,#d6e228 475px,#f2e624 476px,#fce724 477px,#fce725 494px,#f4e626 495px,#d2e030 496px,#92ce4a 497px,#53b06c 498px,#368681 499px,#385680 500px,#40296e 501px,#440d5d 502px,#440356 503px,#440456 517px,#431260 518px,#3e3872 519px,#407378 520px,#69ac62 521px,#b4d33b 522px,#eae228 523px,#fae725 524px,#fce725 529px,#f2e428 530px,#c8dc36 531px,#7cc458 532px,#40a479 533px,#2c888a 534px,#2c758e 535px,#2e6d8e 536px,#2c728e 538px,#228c8d 542px,#21918c 548px,#21918c 607px)"></i>
<i style="height:2px;background:linear-gradient(90deg,#24868e 0px,#287d8e 251px,#218f8d 296px,#21a685 327px,#3aba76 365px,#3ebc74 379px,#28ae80 394px,#1f9a8a 404px,#355e8d 425px,#463480 436px,#450558 449px,#440154 455px,#46085b 458px,#462c7a 462px,#3a548a 465px,#27828d 468px,#24928a 469px,#2aa482 470px,#3db675 471px,#60c660 472px,#c0de2f 474px,#e6e425 475px,#f8e624 476px,#fde725 479px,#fde725 493px,#fae625 494px,#e6e428 495px,#b5d938 496px,#71c25a 497px,#40a078 498px,#337484 499px,#3b447a 500px,#421b66 501px,#440758 502px,#440154 505px,#440254 516px,#440758 517px,#421c66 518px,#3b4c78 519px,#448678 520px,#78ba5c 521px,#c4d838 522px,#f0e427 523px,#fce725 524px,#fde725 528px,#f9e626 529px,#e4e22a 530px,#acd53f 531px,#62ba64 532px,#349b80 533px,#2a828c 534px,#2c748e 535px,#2e6e8e 536px,#2b768e 538px,#228e8d 542px,#21908d 552px,#21918c 607px)"></i>
<i style="height:2px;background:linear-gradient(90deg,#24868e 0px,#287d8e 251px,#218f8d 295px,#21a685 327px,#38b977 362px,#3ebc74 378px,#29af80 393px,#1f9a8a 403px,#365c8d 425px,#46327e 436px,#450458 449px,#440254 455px,#460c60 458px,#45337e 462px,#365c8c 465px,#248b8c 468px,#269c87 469px,#32ae7c 470px,#4ebe6b 471px,#76ce52 472px,#a8d939 473px,#d4e128 474px,#f1e624 475px,#fce724 476px,#fce725 493px,#f3e626 494px,#d2e02e 495px,#94d048 496px,#54b46a 497px,#348e81 498px,#356284 499px,#3e3475 500px,#441261 501px,#440456 502px,#440154 515px,#440456 516px,#440e5e 517px,#402e6f 518px,#38617e 519px,#479876 520px,#84c356 521px,#cedc36 522px,#f4e628 523px,#fce725 524px,#fce725 528px,#f4e626 529px,#d2df32 530px,#8dcc4e 531px,#4bb070 532px,#2d9386 533px,#297e8c 534px,#2c728e 535px,#2c728e 537px,#218e8d 542px,#21918c 607px)"></i>
<i style="height:2px;background:linear-gradient(90deg,#24868e 0px,#287d8e 250px,#218f8d 295px,#21a685 326px,#38b977 361px,#3ebc74 377px,#2cb17e 391px,#1f9e89 401px,#2a768e 416px,#424086 432px,#481668 443px,#440154 451px,#450659 456px,#482474 460px,#38568b 464px,#26848d 467px,#24948a 468px,#2aa682 469px,#3eb674 470px,#61c65f 471px,#c0de2f 473px,#e6e424 474px,#f8e624 475px,#fde725 478px,#fde725 492px,#f9e625 493px,#e5e428 494px,#b4d938 495px,#72c458 496px,#40a478 497px,#317d86 498px,#385080 499px,#42276e 500px,#440c5d 501px,#440356 502px,#440254 515px,#440658 516px,#421964 517px,#3c4178 518px,#367581 519px,#4ca572 520px,#8eca50 521px,#d4de33 522px,#f6e627 523px,#fde725 524px,#fae625 528px,#e9e428 529px,#b8d93a 530px,#70c25c 531px,#3aa67a 532px,#298c8a 533px,#2a7a8e 534px,#2c728e 535px,#2c748e 537px,#228c8d 541px,#20918c 546px,#21918c 607px)"></i>
<i style="height:2px;background:linear-gradient(90deg,#24868e 0px,#287d8e 250px,#218f8d 294px,#21a685 325px,#3aba76 363px,#3ebc74 376px,#2ab07f 391px,#1f9c89 401px,#30698e 420px,#423e85 432px,#481668 443px,#440255 450px,#450659 455px,#48186a 458px,#404486 462px,#287d8e 466px,#269e86 468px,#32ae7c 469px,#4ebf6a 470px,#a8da38 472px,#d4e128 473px,#f0e624 474px,#fce724 475px,#fce725 492px,#f2e625 493px,#d0e02e 494px,#93d048 495px,#55b66a 496px,#349481 497px,#326c86 498px,#3c407a 499px,#431a67 500px,#440759 501px,#440154 504px,#440456 515px,#440e5e 516px,#40296f 517px,#385680 518px,#368682 519px,#54b06c 520px,#96cf4a 521px,#d8e030 522px,#f6e626 523px,#fde725 524px,#fce725 527px,#f5e626 528px,#d6e02f 529px,#97d148 530px,#54b86a 531px,#309e82 532px,#28878c 533px,#2a788e 534px,#2c728e 536px,#228d8d 541px,#21918c 548px,#21918c 607px)"></i>
<i style="height:2px;background:linear-gradient(90deg,#24868e 0px,#287e8e 250px,#218e8d 292px,#21a685 324px,#3aba76 362px,#3ebc74 375px,#2eb37c 388px,#1fa088 399px,#2a788e 414px,#404488 430px,#48186a 442px,#440255 450px,#450659 454px,#481e70 458px,#3d4c88 462px,#26868c 466px,#249689 467px,#2ba782 468px,#40b874 469px,#62c75e 470px,#c0de2f 472px,#e6e424 473px,#f8e624 474px,#fde725 476px,#fde725 491px,#f8e625 492px,#e4e328 493px,#b2d938 494px,#71c558 495px,#40a877 496px,#308486 497px,#365c84 498px,#403275 499px,#441261 500px,#440456 501px,#440154 513px,#440658 515px,#431866 516px,#3d3c79 517px,#336a85 518px,#359480 519px,#59b868 520px,#9ad246 521px,#d8e12e 522px,#f6e626 523px,#fce725 524px,#fae625 527px,#e8e428 528px,#b8da38 529px,#75c857 530px,#40ae76 531px,#299687 532px,#27838c 533px,#2a778e 534px,#2c748e 536px,#218e8d 541px,#21918c 607px)"></i>
<i style="height:2px;background:linear-gradient(90deg,#24868e 0px,#287d8e 249px,#218f8d 293px,#21a685 324px,#3aba76 361px,#3ebc74 374px,#2eb27d 388px,#1f9e88 399px,#2c728e 416px,#414287 430px,#481769 442px,#440256 450px,#46095c 454px,#482675 458px,#39548a 462px,#248f8c 466px,#26a085 467px,#34b07a 468px,#50c06a 469px,#78ce52 470px,#a8da38 471px,#d4e128 472px,#f0e624 473px,#fce724 474px,#fce724 491px,#f0e626 492px,#cddf2e 493px,#90d048 494px,#54b869 495px,#339a80 496px,#307588 497px,#3a4c81 498px,#42266f 499px,#440d5e 500px,#440356 501px,#440456 514px,#440e5e 515px,#412970 516px,#385182 517px,#2f7a88 518px,#369f7e 519px,#5cbe64 520px,#9ad442 521px,#d3e02a 522px,#f2e624 523px,#fce724 524px,#fce725 526px,#f0e626 527px,#cfe02f 528px,#94d247 529px,#57be67 530px,#32a67e 531px,#26908a 532px,#2a768e 534px,#2b768e 536px,#218f8d 541px,#21918c 607px)"></i>
<i style="height:2px;background:linear-gradient(90deg,#24868e 0px,#287d8e 249px,#21908d 293px,#21a685 323px,#38b977 358px,#3ebc74 373px,#2eb27c 387px,#1fa088 398px,#2a788e 413px,#404488 429px,#48186b 441px,#450458 449px,#46095d 453px,#482273 457px,#3c508a 461px,#24888c 465px,#249888 466px,#2ca880 467px,#41b972 468px,#64c85e 469px,#c0de2e 471px,#e5e424 472px,#f8e624 473px,#fde725 475px,#fce725 490px,#f8e625 491px,#e1e229 492px,#afd83a 493px,#70c659 494px,#40ac76 495px,#2e8a86 496px,#336688 497px,#3d3e7c 498px,#441b68 499px,#44085a 500px,#440154 502px,#440255 513px,#44085a 514px,#441a67 515px,#3e3c7a 516px,#336387 517px,#2c8788 518px,#38a77b 519px,#5ec262 520px,#96d442 521px,#cae02a 522px,#ece423 523px,#fae624 524px,#fbe724 525px,#f4e624 526px,#dce229 527px,#aad83b 528px,#70c858 529px,#40b474 530px,#2a9e84 531px,#258b8c 532px,#2b768e 534px,#2a768e 536px,#21908d 541px,#21918c 607px)"></i>
<i style="height:2px;background:linear-gradient(90deg,#24868e 0px,#287d8e 248px,#218f8d 292px,#21a685 322px,#3aba76 360px,#3dbc74 373px,#2eb37c 386px,#1f9e89 398px,#2c728e 415px,#414287 429px,#48186a 441px,#450558 449px,#460d60 453px,#472978 457px,#38588c 461px,#24928a 465px,#27a284 466px,#36b279 467px,#52c168 468px,#7acf50 469px,#a9da38 470px,#d4e227 471px,#f0e623 472px,#fce724 473px,#fae724 490px,#eee426 491px,#c8de2f 492px,#8ed049 493px,#54ba69 494px,#329d80 495px,#2e7c89 496px,#375685 497px,#403076 498px,#441262 499px,#440456 500px,#440254 512px,#440456 513px,#441060 514px,#422c72 515px,#395084 516px,#2e728a 517px,#2a9286 518px,#3aae78 519px,#5ec461 520px,#bdde2c 522px,#dee322 523px,#efe620 524px,#f0e621 525px,#dfe324 526px,#b9dc32 527px,#53be68 529px,#32aa7d 530px,#269688 531px,#287c8e 533px,#2b768e 535px,#21908c 541px,#21918c 607px)"></i>
<i style="height:2px;background:linear-gradient(90deg,#24868e 0px,#287d8e 248px,#218f8d 291px,#21a685 322px,#38b977 356px,#3ebc74 371px,#2eb47c 385px,#1f9e88 397px,#2b768e 413px,#424086 429px,#481467 442px,#45065a 448px,#460d60 452px,#482676 456px,#3a538a 460px,#248b8c 464px,#249a88 465px,#2daa80 466px,#43ba71 467px,#66c95c 468px,#c0de2e 470px,#e4e424 471px,#f8e624 472px,#fde725 474px,#fce724 489px,#f6e624 490px,#dde229 491px,#aad83c 492px,#6dc65a 493px,#3fad76 494px,#2c8e86 495px,#306e8a 496px,#3b4982 497px,#422670 498px,#440d5e 499px,#440356 500px,#440256 512px,#450a5c 513px,#441e6a 514px,#3e3e7d 515px,#346088 516px,#2a7f8b 517px,#2a9a84 518px,#3cb276 519px,#5ec661 520px,#addc32 522px,#c8e024 523px,#d5e21e 524px,#d2e120 525px,#bade2c 526px,#64c75d 528px,#3eb674 529px,#2aa283 530px,#24928a 531px,#297b8e 533px,#2a778e 535px,#218e8d 540px,#21918c 607px)"></i>
<i style="height:2px;background:linear-gradient(90deg,#24868e 0px,#287e8e 248px,#218e8d 289px,#21a685 321px,#3aba76 358px,#3dbb74 373px,#26ad81 389px,#1f988a 399px,#365c8d 421px,#463480 432px,#46095c 446px,#460a5c 450px,#481c6e 454px,#404286 458px,#2b768e 462px,#23948a 464px,#28a484 465px,#37b378 466px,#54c267 467px,#aada37 469px,#d4e227 470px,#f0e623 471px,#fae724 472px,#fae724 489px,#eae426 490px,#c4de30 491px,#8ad04a 492px,#52bb6a 493px,#32a080 494px,#2c818a 495px,#346088 496px,#3e3c7c 497px,#441c6a 498px,#45095b 499px,#440154 501px,#440254 511px,#440558 512px,#451262 513px,#422c74 514px,#3a4e84 515px,#2f6d8b 516px,#28898a 517px,#2ca282 518px,#3fb674 519px,#84d24a 521px,#a1da38 522px,#b6de2b 523px,#bdde26 524px,#b4dd2c 525px,#9ad83c 526px,#4ebf6a 528px,#32ae7c 529px,#269c86 530px,#26828e 532px,#2a778e 534px,#20918c 541px,#21918c 607px)"></i>
<i style="height:2px;background:linear-gradient(90deg,#24868e 0px,#287d8e 247px,#218f8d 290px,#21a685 320px,#38b977 355px,#3dbc74 370px,#30b47c 383px,#1fa088 395px,#297a8e 410px,#3f4888 426px,#481d6e 438px,#46085c 447px,#471063 451px,#472a79 455px,#38568c 459px,#248d8c 463px,#249c87 464px,#2eac7e 465px,#46bc70 466px,#68ca5b 467px,#c0de2d 469px,#e4e424 470px,#f8e624 471px,#fde725 473px,#fce724 488px,#f4e624 489px,#d9e229 490px,#a6d83c 491px,#6bc65b 492px,#3eae76 493px,#2c9286 494px,#2e748a 495px,#385285 496px,#422f76 497px,#441362 498px,#440558 499px,#440154 507px,#440256 511px,#450a5c 512px,#441e6b 513px,#3f3c7d 514px,#365b88 515px,#2b788c 516px,#269188 517px,#2ea880 518px,#44ba70 519px,#84d34a 521px,#9dd93a 522px,#acdc31 523px,#aedc30 524px,#a2da38 525px,#85d34a 526px,#40b872 528px,#2ba881 529px,#249888 530px,#27808e 532px,#2a788e 534px,#21908c 540px,#21918c 607px)"></i>
<i style="height:2px;background:linear-gradient(90deg,#24868e 0px,#287d8e 247px,#218f8d 289px,#21a685 320px,#38b977 354px,#3dbc74 371px,#26ac82 388px,#1f988a 398px,#365c8d 420px,#46307e 432px,#470c60 444px,#460a5e 448px,#48196b 452px,#443b82 456px,#2f6b8e 460px,#23968a 463px,#28a682 464px,#3ab577 465px,#57c465 466px,#abda36 468px,#d4e226 469px,#f0e623 470px,#fae724 471px,#fde725 487px,#f9e624 488px,#e8e426 489px,#c0dd31 490px,#86d04b 491px,#52bc6a 492px,#32a27f 493px,#2a858a 494px,#32668a 495px,#3d4581 496px,#442470 497px,#450d5e 498px,#440356 499px,#440254 510px,#440457 511px,#451061 512px,#422973 513px,#3c4983 514px,#31668b 515px,#28818c 516px,#279986 517px,#32ae7c 518px,#6acc5a 520px,#88d448 521px,#9dd93b 522px,#a8db34 523px,#a6da35 524px,#94d640 525px,#53c268 527px,#37b278 528px,#27a284 529px,#25868d 531px,#29798e 533px,#26828e 536px,#21908c 540px,#21918c 607px)"></i>
<i style="height:2px;background:linear-gradient(90deg,#24868e 0px,#287e8e 247px,#218f8d 289px,#21a685 319px,#38b977 353px,#3dbc74 370px,#28ae80 386px,#1f9c8a 396px,#32668e 416px,#443882 429px,#470e61 443px,#460c60 448px,#481e70 452px,#404286 456px,#26818d 461px,#259f86 463px,#30ae7c 464px,#48bd6e 465px,#6bca5a 466px,#c1de2d 468px,#e4e424 469px,#f6e624 470px,#fde725 472px,#fce724 487px,#f2e624 488px,#d5e12a 489px,#a2d73e 490px,#69c65c 491px,#3eb076 492px,#2b9586 493px,#2c788b 494px,#365988 495px,#40387c 496px,#441a69 497px,#45095b 498px,#440154 500px,#440255 510px,#45085b 511px,#451a69 512px,#385588 514px,#268a8a 516px,#28a084 517px,#38b378 518px,#70ce56 520px,#8bd546 521px,#9dd93b 522px,#a5db36 523px,#9eda3a 524px,#88d448 525px,#48bc6e 527px,#30ad7e 528px,#249d86 529px,#26848e 531px,#29798e 533px,#21908c 540px,#21918c 607px)"></i>
<i style="height:2px;background:linear-gradient(90deg,#24868e 0px,#287d8e 246px,#218f8d 288px,#21a685 318px,#3aba76 355px,#3cbb75 371px,#24aa83 388px,#20958c 398px,#38578c 420px,#46307d 431px,#460c5f 444px,#471062 448px,#482474 452px,#39568b 457px,#248a8c 461px,#239888 462px,#2aa882 463px,#3cb775 464px,#5ac564 465px,#acda35 467px,#d4e226 468px,#f0e623 469px,#fae724 470px,#fce724 486px,#f8e624 487px,#e5e426 488px,#bbdc32 489px,#50bc6a 491px,#31a47f 492px,#29898a 493px,#306c8b 494px,#3b4c84 495px,#451262 497px,#440558 498px,#440154 506px,#440456 510px,#450e60 511px,#442571 512px,#3e4382 513px,#34608a 514px,#26928a 516px,#2ca681 517px,#3eb874 518px,#76d052 520px,#8ed644 521px,#9dd93b 522px,#a0da38 523px,#96d840 524px,#7cd14f 525px,#3eb874 527px,#2aa881 528px,#239888 529px,#26828e 531px,#297a8e 533px,#21908c 539px,#21918c 607px)"></i>
<i style="height:2px;background:linear-gradient(90deg,#24868e 0px,#287d8e 246px,#218f8d 288px,#21a685 317px,#3aba76 354px,#3cbb75 370px,#24aa82 387px,#1f968b 397px,#38588c 419px,#46317e 430px,#470d60 443px,#471062 447px,#482272 451px,#404687 455px,#2a778e 459px,#23928a 461px,#26a185 462px,#32b07c 463px,#4bbf6c 464px,#6ecc58 465px,#c2de2c 467px,#e4e423 468px,#f6e623 469px,#fde725 471px,#fbe724 486px,#f0e624 487px,#d0e02a 488px,#9dd63f 489px,#66c65d 490px,#3db076 491px,#2a9886 492px,#2b7c8b 493px,#345f8a 494px,#3e4080 495px,#44226e 496px,#450c5e 497px,#440356 498px,#440255 509px,#45085a 510px,#451767 511px,#3a4f86 513px,#28838c 515px,#269988 516px,#30ac7e 517px,#62c85f 519px,#7cd24f 520px,#90d642 521px,#9cd93c 522px,#9cd93c 523px,#8cd546 524px,#4fc06a 526px,#35b27a 527px,#26a284 528px,#24888d 530px,#287c8e 532px,#287e8e 534px,#21908c 539px,#21918c 607px)"></i>
<i style="height:2px;background:linear-gradient(90deg,#24868e 0px,#287d8e 245px,#218f8d 287px,#21a685 317px,#38b977 351px,#3dbb74 368px,#28ae80 384px,#1f9c8a 394px,#32668e 414px,#433e84 426px,#48186a 438px,#470d60 444px,#481668 448px,#46307c 452px,#38598c 456px,#248d8c 460px,#249b88 461px,#2baa80 462px,#3eb874 463px,#5cc662 464px,#aedb34 466px,#d5e226 467px,#f0e623 468px,#fae724 469px,#fce724 485px,#f6e624 486px,#e1e326 487px,#b6dc34 488px,#4ebc6b 490px,#30a57f 491px,#288c8a 492px,#2e708c 493px,#395387 494px,#451a68 496px,#45085a 497px,#440154 499px,#440456 509px,#450c5e 510px,#44226f 511px,#403e80 512px,#365a8a 513px,#268b8b 515px,#28a084 516px,#36b27a 517px,#69cc5b 519px,#81d24c 520px,#92d742 521px,#9ad93c 522px,#94d840 523px,#80d24c 524px,#44bc70 526px,#2eac7e 527px,#249e87 528px,#25868e 530px,#287c8e 532px,#23888d 536px,#20918c 540px,#21918c 607px)"></i>
<i style="height:2px;background:linear-gradient(90deg,#24868e 0px,#287d8e 245px,#218f8d 286px,#21a685 316px,#38b977 350px,#3dbb74 367px,#28ae80 383px,#1f9a8a 394px,#355e8d 416px,#463480 428px,#471063 441px,#471264 446px,#482675 450px,#39558b 455px,#24878c 459px,#26a484 461px,#34b27a 462px,#4ec06a 463px,#99d73f 465px,#c2de2b 466px,#e4e423 467px,#f6e623 468px,#fde725 470px,#fae724 485px,#ece424 486px,#cadf2c 487px,#98d542 488px,#64c65e 489px,#3cb176 490px,#2a9a85 491px,#2a808c 492px,#32658a 493px,#3c4883 494px,#451162 496px,#440558 497px,#440154 505px,#440255 508px,#450659 509px,#451465 510px,#3c4a85 512px,#2a7d8c 514px,#25928a 515px,#2aa682 516px,#3cb676 517px,#70ce57 519px,#86d44a 520px,#94d840 521px,#98d83e 522px,#8ed644 523px,#76cf53 524px,#3bb676 526px,#29a782 527px,#229889 528px,#26848e 530px,#287c8e 532px,#20918c 539px,#21918c 607px)"></i>
<i style="height:2px;background:linear-gradient(90deg,#24868e 0px,#287d8e 245px,#218f8d 286px,#21a685 315px,#3aba76 352px,#3aba76 370px,#23a884 386px,#20948c 396px,#3a528b 419px,#472c7a 430px,#471063 441px,#471264 445px,#472a79 450px,#365d8c 455px,#23908c 459px,#249e87 460px,#2dac7e 461px,#42ba72 462px,#60c860 463px,#aedb34 465px,#d5e225 466px,#f0e623 467px,#fae724 468px,#fce724 484px,#f4e624 485px,#dce227 486px,#afda36 487px,#7ace51 488px,#4cbc6c 489px,#30a67f 490px,#288e89 491px,#365989 493px,#403c7e 494px,#44206e 495px,#450c5e 496px,#440356 497px,#440356 508px,#450b5d 509px,#451e6c 510px,#385588 512px,#26848c 514px,#259a88 515px,#2eac7e 516px,#5cc762 518px,#8ad548 520px,#94d840 521px,#94d841 522px,#84d44a 523px,#33b17b 526px,#26a285 527px,#24898d 529px,#287e8e 531px,#25848e 534px,#20918c 539px,#21918c 607px)"></i>
<i style="height:2px;background:linear-gradient(90deg,#24868e 0px,#287d8e 244px,#218e8d 284px,#21a685 315px,#38b977 348px,#3cbb74 366px,#26ac82 383px,#1f988a 393px,#34608d 414px,#453882 426px,#481669 437px,#471063 443px,#482273 448px,#404486 452px,#287d8e 457px,#229889 459px,#28a682 460px,#37b478 461px,#51c268 462px,#9ad73e 464px,#c3df2b 465px,#e4e422 466px,#f6e623 467px,#fde725 469px,#fce724 483px,#f8e624 484px,#e8e424 485px,#c4de2e 486px,#60c460 488px,#3bb277 489px,#299b85 490px,#28838c 491px,#3b4e86 493px,#451868 495px,#45085a 496px,#440154 498px,#440254 507px,#450658 508px,#451263 509px,#3e4583 511px,#2b778d 513px,#258c8b 514px,#26a085 515px,#34b17b 516px,#64ca5e 518px,#7bd250 519px,#8cd646 520px,#94d741 521px,#8ed644 522px,#7ad050 523px,#41ba72 525px,#2cac7f 526px,#249d88 527px,#24868d 529px,#277e8e 531px,#20918c 539px,#21918c 607px)"></i>
<i style="height:2px;background:linear-gradient(90deg,#24868e 0px,#287d8e 244px,#218f8d 285px,#21a685 314px,#3aba76 350px,#3cbb75 366px,#26ac81 382px,#1f9a8a 392px,#355e8d 414px,#463480 426px,#481466 438px,#471264 443px,#482172 447px,#424085 451px,#2a788e 456px,#22938a 458px,#24a086 459px,#30ae7e 460px,#44bc70 461px,#62c85e 462px,#afdc32 464px,#d5e225 465px,#efe622 466px,#fae724 467px,#fbe724 483px,#f0e624 484px,#d4e128 485px,#a8d939 486px,#75cc54 487px,#4abc6d 488px,#30a680 489px,#279089 490px,#355e8a 492px,#3e4382 493px,#451062 495px,#440458 496px,#440154 506px,#450a5c 508px,#451c6a 509px,#3a5087 511px,#287f8c 513px,#24948a 514px,#2aa682 515px,#3ab677 516px,#6acc5a 518px,#80d24d 519px,#8ed644 520px,#91d742 521px,#88d448 522px,#52c268 524px,#38b478 525px,#28a682 526px,#22988a 527px,#25858e 529px,#277e8e 531px,#21908c 538px,#21918c 607px)"></i>
<i style="height:2px;background:linear-gradient(90deg,#24868e 0px,#287d8e 244px,#218f8d 284px,#21a685 313px,#38b977 347px,#3dbb74 364px,#27ad81 381px,#1f988b 392px,#385a8c 415px,#47307d 427px,#481567 437px,#471264 442px,#482071 446px,#423e84 450px,#2c748e 455px,#229b88 458px,#2aa981 459px,#3ab676 460px,#54c466 461px,#9cd83c 463px,#c3df2a 464px,#e4e422 465px,#f6e622 466px,#fde725 468px,#fce724 482px,#f6e624 483px,#e2e424 484px,#bcdd30 485px,#5cc462 487px,#3ab278 488px,#299c85 489px,#28858c 490px,#395488 492px,#451f6d 494px,#450b5d 495px,#440154 497px,#440254 506px,#440558 507px,#451062 508px,#3f4082 510px,#2d718d 512px,#259a88 514px,#2eac7f 515px,#59c664 517px,#84d44b 519px,#8ed644 520px,#8ed644 521px,#7fd24e 522px,#48be6e 524px,#30b07c 525px,#24a186 526px,#238a8d 528px,#27808e 530px,#23888e 534px,#20918c 539px,#21918c 607px)"></i>
<i style="height:2px;background:linear-gradient(90deg,#24868e 0px,#287d8e 243px,#218e8d 282px,#21a685 312px,#38b977 346px,#3dbb74 363px,#29af80 379px,#1f9b8a 390px,#34608d 412px,#453882 424px,#48186a 435px,#471265 441px,#481f70 445px,#443b83 449px,#2e708e 454px,#22968a 457px,#26a384 458px,#32b17c 459px,#48be6e 460px,#8ad447 462px,#b1dc32 463px,#d5e224 464px,#efe522 465px,#fae724 466px,#fae624 482px,#ece424 483px,#cde02a 484px,#a0d83c 485px,#70cb56 486px,#48ba6e 487px,#2ea780 488px,#269289 489px,#33628c 491px,#442e78 493px,#461768 494px,#45085a 495px,#440154 497px,#440256 506px,#45095b 507px,#451a69 508px,#3c4c86 510px,#2a7a8d 512px,#248e8a 513px,#26a085 514px,#32b07b 515px,#76d053 518px,#86d44a 519px,#8ed645 520px,#88d448 521px,#75cf54 522px,#3eb874 524px,#2baa80 525px,#229c88 526px,#24888d 528px,#26808e 531px,#21908c 537px,#21918c 607px)"></i>
<i style="height:2px;background:linear-gradient(90deg,#24868e 0px,#287d8e 243px,#218f8d 283px,#21a685 312px,#38b977 345px,#3dbb74 362px,#2aaf7f 378px,#1f9c8a 389px,#32648e 410px,#443882 423px,#481769 435px,#481466 441px,#482374 445px,#3e4c88 450px,#26848d 455px,#249e87 457px,#2cab80 458px,#3eb874 459px,#58c464 460px,#9fd83b 462px,#c4df2a 463px,#e4e422 464px,#f6e622 465px,#fde725 467px,#fce724 481px,#f3e623 482px,#dbe226 483px,#b3dc33 484px,#58c264 486px,#38b079 487px,#289c85 488px,#26868c 489px,#37588a 491px,#442672 493px,#461062 494px,#450558 495px,#440154 503px,#440457 506px,#450f60 507px,#403d80 509px,#2f6d8d 511px,#24958a 513px,#29a682 514px,#38b677 515px,#68cc5c 517px,#7bd250 518px,#88d548 519px,#8cd646 520px,#82d24c 521px,#4ec06a 523px,#35b37a 524px,#26a584 525px,#228e8c 527px,#26828e 529px,#25848e 532px,#20918c 538px,#21918c 607px)"></i>
<i style="height:2px;background:linear-gradient(90deg,#24868e 0px,#287d8e 243px,#21908c 284px,#21a685 311px,#3aba76 347px,#3aba76 365px,#22a884 382px,#21908c 393px,#3a528b 415px,#472c7b 426px,#481366 437px,#481a6c 442px,#462e7c 446px,#365d8c 451px,#248c8c 455px,#229989 456px,#27a683 457px,#34b37a 458px,#4cc06c 459px,#8dd445 461px,#b2dc30 462px,#d6e224 463px,#efe522 464px,#fae724 465px,#fce724 480px,#f8e624 481px,#e6e424 482px,#c4df2c 483px,#6aca5a 485px,#44ba70 486px,#2da680 487px,#269289 488px,#31668c 490px,#42367d 492px,#450b5d 494px,#440154 496px,#440255 505px,#45085b 506px,#461868 507px,#3d4885 509px,#2c758d 511px,#249c88 513px,#2dac7f 514px,#56c566 516px,#7ed24e 518px,#88d548 519px,#88d448 520px,#78d052 521px,#44bc70 523px,#2eae7e 524px,#24a086 525px,#25858e 528px,#26838e 531px,#21908c 537px,#21918c 607px)"></i>
<i style="height:2px;background:linear-gradient(90deg,#24868e 0px,#287d8e 242px,#218f8d 282px,#21a685 310px,#3aba76 346px,#3cbb75 362px,#25ac82 379px,#1f968b 390px,#38578c 413px,#472e7c 425px,#481668 435px,#481669 440px,#482777 444px,#3c508a 449px,#24878d 454px,#24a186 456px,#2eae7e 457px,#40ba72 458px,#5cc662 459px,#c6e028 462px,#e4e422 463px,#f6e622 464px,#fde725 466px,#fae724 480px,#efe623 481px,#d2e126 482px,#aada36 483px,#54c267 485px,#36b07a 486px,#279c86 487px,#26888c 488px,#355d8a 490px,#442d78 492px,#461668 493px,#45085a 494px,#440154 496px,#440457 505px,#460e60 506px,#413a80 508px,#30698c 510px,#24908a 512px,#26a284 513px,#32b17b 514px,#5cc862 516px,#80d34d 518px,#88d548 519px,#82d44c 520px,#6ecd58 521px,#3ab676 523px,#29a882 524px,#229c88 525px,#25848e 528px,#25848e 531px,#21908c 537px,#21918c 607px)"></i>
<i style="height:2px;background:linear-gradient(90deg,#24868e 0px,#287d8e 242px,#21908c 283px,#21a685 310px,#3aba76 345px,#3bba75 362px,#23a884 380px,#20928c 391px,#38588c 412px,#47307d 424px,#481769 434px,#48166a 439px,#472c7a 444px,#38578c 449px,#228f8c 454px,#28a982 456px,#38b678 457px,#6ecc58 459px,#b5dc30 461px,#d7e223 462px,#efe622 463px,#fae724 464px,#fce724 479px,#f4e623 480px,#dfe324 481px,#badd2e 482px,#64c85e 484px,#42b872 485px,#2ca680 486px,#259489 487px,#306a8c 489px,#413c81 491px,#461062 493px,#450658 494px,#440154 500px,#440256 504px,#45085b 505px,#461868 506px,#3e4684 508px,#2d718d 510px,#249688 512px,#29a782 513px,#38b578 514px,#75d054 517px,#82d34c 518px,#85d44a 519px,#7bd150 520px,#48be6e 522px,#32b27b 523px,#25a484 524px,#228e8c 526px,#26828e 529px,#21918c 537px,#21918c 607px)"></i>
<i style="height:2px;background:linear-gradient(90deg,#24868e 0px,#287d8e 242px,#218f8d 281px,#21a685 309px,#38b977 342px,#3cbb74 359px,#26ac82 377px,#1f968b 388px,#385a8c 411px,#463480 422px,#48186a 433px,#48186a 438px,#482575 442px,#3e4a88 447px,#248b8c 453px,#25a484 455px,#30b17c 456px,#44bd70 457px,#80d24c 459px,#c7e028 461px,#e5e421 462px,#f6e622 463px,#fde725 465px,#fce724 478px,#f8e624 479px,#e8e423 480px,#c9e029 481px,#75ce54 483px,#50c06a 484px,#34b07b 485px,#269d86 486px,#268a8c 487px,#34618c 489px,#43347c 491px,#450c5e 493px,#440456 494px,#440254 503px,#450558 504px,#460f60 505px,#42397e 507px,#32668c 509px,#248c8c 511px,#249c87 512px,#2cac7f 513px,#68cc5c 516px,#78d152 517px,#81d34c 518px,#80d24d 519px,#71ce56 520px,#3eba74 522px,#2cac7f 523px,#229f86 524px,#24868e 527px,#25848e 530px,#21918c 537px,#21918c 607px)"></i>
<i style="height:2px;background:linear-gradient(90deg,#24868e 0px,#287d8e 241px,#218f8d 280px,#21a685 308px,#3aba76 344px,#3aba76 362px,#22a884 379px,#228c8d 392px,#3d4e8a 414px,#482072 428px,#481668 435px,#482071 440px,#423f84 445px,#287b8e 451px,#239f87 454px,#2bac80 455px,#3cb875 456px,#54c467 457px,#b7dd2e 460px,#d8e223 461px,#efe622 462px,#fae724 463px,#fae724 478px,#efe622 479px,#d5e225 480px,#b0dc33 481px,#5ec661 483px,#3eb774 484px,#2aa682 485px,#24948a 486px,#2f6d8d 488px,#404384 490px,#461868 492px,#45085c 493px,#440154 495px,#440256 503px,#450a5c 504px,#461869 505px,#3f4484 507px,#2e6e8d 509px,#23928a 511px,#26a284 512px,#31b07c 513px,#6ccd5a 516px,#79d152 517px,#7ed24e 518px,#79d052 519px,#66cb5c 520px,#36b479 522px,#27a782 523px,#22908c 525px,#25838e 528px,#21918c 537px,#21918c 607px)"></i>
<i style="height:2px;background:linear-gradient(90deg,#24868e 0px,#287d8e 241px,#218f8d 280px,#21a685 308px,#38b977 340px,#3cbb74 357px,#28ae80 374px,#1f9c89 384px,#306a8e 404px,#433e84 418px,#481e6f 429px,#48176a 435px,#482374 440px,#404688 445px,#26838e 451px,#229b88 453px,#27a783 454px,#34b37a 455px,#4abf6d 456px,#85d34a 458px,#cae026 460px,#e6e421 461px,#f6e622 462px,#fde725 464px,#fce724 477px,#f4e622 478px,#e0e322 479px,#bede2c 480px,#6ecc58 482px,#4abe6c 483px,#32ae7c 484px,#269d86 485px,#2a788d 487px,#3a5188 489px,#462674 491px,#461465 492px,#45075a 493px,#440154 496px,#440255 502px,#450659 503px,#461163 504px,#423980 506px,#33638c 508px,#239888 511px,#28a882 512px,#4ac06e 514px,#6ece58 516px,#78d152 517px,#7ad251 518px,#70ce56 519px,#2eaf7d 522px,#24a286 523px,#24888e 526px,#25848e 529px,#21918c 536px,#21918c 607px)"></i>
<i style="height:2px;background:linear-gradient(90deg,#24868e 0px,#287d8e 241px,#20928c 283px,#21a685 307px,#38b977 339px,#3cbb75 357px,#25ac82 375px,#1f968b 386px,#39568c 410px,#472c7a 423px,#48186a 433px,#481f70 438px,#443a83 443px,#2c748e 449px,#22968a 452px,#24a285 453px,#2eaf7e 454px,#40ba73 455px,#77d052 457px,#bade2c 459px,#dae222 460px,#f0e622 461px,#fae724 462px,#fce724 476px,#f7e622 477px,#e7e422 478px,#cae028 479px,#7dd04e 481px,#58c464 482px,#3cb676 483px,#2aa682 484px,#24948a 485px,#2e708d 487px,#3e4a86 489px,#462170 491px,#461062 492px,#450658 493px,#440154 499px,#440456 502px,#460c5e 503px,#44307a 505px,#375a8a 507px,#248e8c 510px,#249e86 511px,#2cac80 512px,#60c960 515px,#6ece58 516px,#76d054 517px,#74d055 518px,#66cb5d 519px,#39b677 521px,#29aa81 522px,#21948b 524px,#25848e 527px,#21918c 536px,#21918c 607px)"></i>
<i style="height:2px;background:linear-gradient(90deg,#24868e 0px,#287d8e 240px,#218e8d 277px,#21a685 306px,#3aba76 341px,#3bbb75 357px,#22a884 376px,#21908c 388px,#3c508b 411px,#482274 426px,#481a6c 434px,#482777 439px,#3e4a88 444px,#24868d 450px,#229e87 452px,#2aaa81 453px,#38b678 454px,#6acc5a 456px,#cce025 459px,#e7e421 460px,#f7e622 461px,#fde725 463px,#fde724 475px,#fae624 476px,#eee522 477px,#d4e224 478px,#b2dc32 479px,#66c95c 481px,#46bc70 482px,#30ad7e 483px,#259c87 484px,#2a7a8d 486px,#38568a 488px,#44307c 490px,#460e60 492px,#440255 494px,#440356 501px,#45095c 502px,#462876 504px,#3b5089 506px,#26848d 509px,#24a384 511px,#3eba74 513px,#60ca60 515px,#6cce5a 516px,#70ce57 517px,#6acc5a 518px,#31b27c 521px,#25a584 522px,#21908c 524px,#25838e 527px,#21918c 536px,#21918c 607px)"></i>
<i style="height:2px;background:linear-gradient(90deg,#24868e 0px,#287d8e 240px,#218f8d 278px,#21a685 306px,#38b977 338px,#3cbb75 354px,#2cb17e 369px,#1f9e89 381px,#2e6c8e 401px,#423e85 416px,#481e70 428px,#481c6e 434px,#472b7a 439px,#3c508a 444px,#228e8c 450px,#26a684 452px,#32b27c 453px,#44bd70 454px,#7dd14e 456px,#bede2a 458px,#dce222 459px,#f1e622 460px,#fae724 461px,#fbe724 475px,#f2e622 476px,#dde222 477px,#bcde2c 478px,#51c169 481px,#37b478 482px,#28a483 483px,#23948a 484px,#34628c 487px,#423f84 489px,#460d5f 492px,#440255 494px,#440256 500px,#45085a 501px,#462472 503px,#3e4987 505px,#287c8e 508px,#229a88 510px,#26a782 511px,#42bc72 513px,#5ec962 515px,#66cc5d 516px,#68cc5c 517px,#5ec961 518px,#2aac80 521px,#22a186 522px,#24888e 525px,#25848e 528px,#21918c 535px,#21918c 607px)"></i>
<i style="height:2px;background:linear-gradient(90deg,#24868e 0px,#287d8e 240px,#20918c 280px,#21a685 305px,#38b977 337px,#3cbb75 353px,#2ab07f 369px,#1f9e89 380px,#2e6e8e 400px,#433c84 416px,#481e70 428px,#481e70 434px,#46307d 439px,#34608d 445px,#21968a 450px,#2cad7e 452px,#3cb974 453px,#70ce56 455px,#b0dc30 457px,#d0e124 458px,#eae420 459px,#f8e622 460px,#fde725 463px,#fce724 474px,#f5e622 475px,#e4e422 476px,#c6e028 477px,#5cc662 480px,#40b973 481px,#2cab80 482px,#249c88 483px,#287c8e 485px,#3c4c88 488px,#462a78 490px,#460d60 492px,#440255 494px,#440256 499px,#461264 501px,#404384 504px,#2c748e 507px,#229e88 510px,#34b47a 512px,#5ac864 515px,#5fca61 516px,#5dc862 517px,#41bc72 519px,#26a783 521px,#21938c 523px,#25848e 526px,#21918c 535px,#21918c 607px)"></i>
<i style="height:2px;background:linear-gradient(90deg,#24868e 0px,#287e8e 240px,#218e8d 276px,#21a685 304px,#38b977 336px,#3cbb75 352px,#27ad81 370px,#1f9a8a 381px,#365e8d 405px,#46327e 419px,#481e6f 429px,#482274 435px,#443c84 440px,#2c728e 446px,#22928c 449px,#28a982 451px,#36b479 452px,#64ca5e 454px,#c2df28 457px,#e0e420 458px,#f3e622 459px,#fce724 460px,#fce724 473px,#f8e622 474px,#e9e421 475px,#cee125 476px,#aedb32 477px,#68ca5b 479px,#4abf6e 480px,#33b17a 481px,#26a384 482px,#26858d 484px,#3e4887 488px,#471b6c 491px,#450658 493px,#440254 497px,#46085b 499px,#47206f 501px,#413f84 503px,#2e6d8e 506px,#21968a 509px,#2aac80 511px,#4dc26c 514px,#58c666 516px,#52c568 517px,#2aac80 520px,#20998a 522px,#24868e 525px,#23888e 529px,#21918c 534px,#21918c 607px)"></i>
<i style="height:2px;background:linear-gradient(90deg,#24868e 0px,#287d8e 239px,#20918c 279px,#21a685 304px,#38b977 335px,#3cbb75 351px,#27ae80 369px,#1f988b 381px,#38588c 406px,#472e7c 420px,#481e70 429px,#482374 434px,#443b83 439px,#2e6e8e 445px,#219989 449px,#25a584 450px,#30b17c 451px,#5ac664 453px,#b6dd2e 456px,#d4e222 457px,#ece420 458px,#f8e622 459px,#fde725 463px,#fae624 473px,#eee521 474px,#d6e223 475px,#b7dd2e 476px,#54c467 479px,#3bb776 480px,#2aaa80 481px,#239b88 482px,#2e708e 485px,#404486 488px,#471c6e 491px,#46085b 493px,#440254 496px,#46095c 498px,#462c79 501px,#37588c 504px,#228e8c 508px,#24a584 510px,#41bd72 513px,#50c46a 515px,#4fc46a 516px,#3cba75 518px,#25a883 520px,#228e8c 523px,#25848e 526px,#21918c 534px,#21918c 607px)"></i>
<i style="height:2px;background:linear-gradient(90deg,#24868e 0px,#287d8e 239px,#21908d 277px,#21a685 303px,#3aba76 337px,#3bba75 352px,#24aa82 370px,#1f968b 381px,#3c508b 408px,#482677 423px,#481f70 430px,#462e7c 436px,#3b508a 441px,#248a8c 447px,#23a186 449px,#2bac80 450px,#3ab876 451px,#6bcc5a 453px,#c8e026 456px,#e2e420 457px,#f4e622 458px,#fde725 460px,#fbe724 472px,#f2e622 473px,#dee322 474px,#c0df29 475px,#5ec861 478px,#44bc71 479px,#30b07c 480px,#25a285 481px,#22948a 482px,#365d8c 486px,#45347f 489px,#460c5e 493px,#450457 495px,#460a5d 497px,#443880 501px,#34618c 504px,#21938b 508px,#25a884 510px,#40bc73 513px,#4ac26e 515px,#3fbc73 517px,#22a386 520px,#24878e 524px,#24868e 527px,#21908c 533px,#21918c 607px)"></i>
<i style="height:2px;background:linear-gradient(90deg,#24878e 0px,#287d8e 239px,#20918c 278px,#22a884 304px,#3aba76 336px,#3bba76 351px,#24aa82 369px,#1f968b 380px,#3b528b 407px,#482878 422px,#482072 430px,#472e7c 435px,#3c4e8a 440px,#24878d 446px,#229d88 448px,#34b47a 450px,#60c860 452px,#bade2b 455px,#d8e222 456px,#eee520 457px,#f9e623 458px,#fde725 462px,#fce724 471px,#f6e622 472px,#e6e420 473px,#cbe026 474px,#8ad447 476px,#4dc06b 478px,#36b578 479px,#28a882 480px,#229a88 481px,#2c728e 484px,#423e84 488px,#471467 492px,#46095c 495px,#471365 497px,#414185 501px,#2c748e 505px,#21978a 508px,#26aa82 510px,#3fbc73 513px,#44c070 515px,#38b877 517px,#25a883 519px,#20978a 521px,#24868e 524px,#24868e 527px,#21918c 533px,#21918c 607px)"></i>
<i style="height:2px;background:linear-gradient(90deg,#24878e 0px,#287d8e 238px,#21908d 276px,#21a685 301px,#38b977 333px,#3cbb75 348px,#28ae80 365px,#1f9a8a 377px,#34608d 401px,#453882 415px,#482273 426px,#482676 432px,#423e84 437px,#2a7a8e 444px,#21998a 447px,#2eb07d 449px,#56c466 451px,#cce024 455px,#e6e420 456px,#f6e622 457px,#fde725 459px,#fce724 470px,#f8e622 471px,#ece420 472px,#d4e222 473px,#96d73f 475px,#58c664 477px,#3fba73 478px,#2dae7e 479px,#24a186 480px,#24868d 482px,#3a538a 486px,#482474 490px,#471062 493px,#460d60 495px,#481a6c 497px,#3e4988 501px,#2a7a8e 505px,#209b89 508px,#30b47c 511px,#41be72 514px,#3aba76 516px,#22a486 519px,#24888e 523px,#25858e 526px,#21908c 532px,#21918c 607px)"></i>
<i style="height:2px;background:linear-gradient(90deg,#24878e 0px,#287d8e 238px,#21908c 276px,#21a685 301px,#38b977 332px,#3bbb75 348px,#24aa82 367px,#1f968b 378px,#3a528b 405px,#482878 421px,#482274 429px,#46327e 434px,#3a528b 439px,#248b8c 445px,#23a186 447px,#2aac80 448px,#4ec26b 450px,#c0de29 454px,#dce220 455px,#f0e620 456px,#fae724 457px,#fae724 470px,#f0e620 471px,#dde220 472px,#c1df28 473px,#64ca5e 476px,#34b47a 478px,#27a783 479px,#238e8c 481px,#3c4e8a 486px,#482274 490px,#471164 493px,#471264 495px,#462b79 498px,#3c508a 501px,#238a8d 506px,#24a884 509px,#3dbc74 513px,#3cba74 515px,#21a087 519px,#24888e 523px,#24868e 526px,#21908c 532px,#21918c 607px)"></i>
<i style="height:2px;background:linear-gradient(90deg,#24878e 0px,#287d8e 238px,#21908d 275px,#21a685 300px,#39ba76 333px,#39ba76 350px,#22a884 368px,#228d8d 381px,#3c4e8a 406px,#482878 421px,#482374 428px,#46317e 433px,#385a8c 439px,#22928c 445px,#28a882 447px,#46be6f 449px,#78d052 451px,#b4dc2e 453px,#d0e122 454px,#e8e420 455px,#f6e622 456px,#fde725 458px,#fce724 469px,#f5e622 470px,#e4e420 471px,#cbe024 472px,#8ed544 474px,#54c467 476px,#3cb874 477px,#2cad7f 478px,#24a086 479px,#24868d 481px,#3e4a88 486px,#482172 490px,#471265 493px,#481668 495px,#423e84 499px,#2e6e8e 503px,#20998a 507px,#2cb07e 510px,#3cbb75 513px,#38b878 515px,#22a584 518px,#238a8d 522px,#25848e 525px,#21908c 531px,#21918c 607px)"></i>
<i style="height:2px;background:linear-gradient(90deg,#24878e 0px,#287e8e 238px,#21908c 275px,#21a685 299px,#38b977 330px,#39ba76 349px,#22a884 367px,#228e8d 380px,#3c4e8a 405px,#482878 420px,#482474 427px,#46307e 432px,#38578c 438px,#228f8c 444px,#25a584 446px,#2eb07e 447px,#54c467 449px,#c5e026 453px,#dfe420 454px,#f2e620 455px,#fde724 457px,#fce724 468px,#f8e622 469px,#ebe420 470px,#d4e222 471px,#b8de2c 472px,#5ec861 475px,#32b27b 477px,#26a683 478px,#228e8c 480px,#3b518a 485px,#472877 489px,#481668 492px,#481668 494px,#462e7b 497px,#365c8c 501px,#21938c 506px,#26ac82 509px,#38b877 512px,#38b877 514px,#21a286 518px,#23888e 522px,#25858e 525px,#21908c 531px,#21918c 607px)"></i>
<i style="height:1px;background:linear-gradient(90deg,#24878e 0px,#287d8e 237px,#218f8d 273px,#21a685 299px,#38b977 330px,#39b977 349px,#22a884 366px,#228c8d 380px,#3d4d8a 405px,#482878 420px,#482475 427px,#46327f 432px,#375b8c 438px,#21938b 444px,#27a982 446px,#33b47a 447px,#5dc862 449px,#b2dc2f 452px,#cee123 453px,#e7e41f 454px,#f6e622 455px,#fde725 457px,#fce724 468px,#f5e622 469px,#e4e41f 470px,#cae024 471px,#55c467 475px,#2dae7e 477px,#21968a 479px,#32668d 483px,#443882 487px,#481a6c 491px,#481568 493px,#472776 496px,#3a548b 500px,#20958b 506px,#28ad81 509px,#38b977 513px,#29ae80 516px,#20988a 519px,#25858e 523px,#228b8d 527px,#21908d 534px,#21918c 607px)"></i>
</div>
<svg width="1000" height="910" viewBox="0 0 1000 910">
<defs><clipPath id="ax"><rect x="162.7" y="63" width="604" height="726.3"/></clipPath>
<linearGradient id="cb" x1="0" y1="1" x2="0" y2="0">
<stop offset="0.0000" stop-color="#440154"/><stop offset="0.0312" stop-color="#470d60"/><stop offset="0.0625" stop-color="#48186a"/><stop offset="0.0938" stop-color="#482374"/><stop offset="0.1250" stop-color="#472d7b"/><stop offset="0.1562" stop-color="#453781"/><stop offset="0.1875" stop-color="#424086"/><stop offset="0.2188" stop-color="#3e4989"/><stop offset="0.2500" stop-color="#3b528b"/><stop offset="0.2812" stop-color="#375b8d"/><stop offset="0.3125" stop-color="#33638d"/><stop offset="0.3438" stop-color="#2f6b8e"/><stop offset="0.3750" stop-color="#2c728e"/><stop offset="0.4062" stop-color="#297a8e"/><stop offset="0.4375" stop-color="#26828e"/><stop offset="0.4688" stop-color="#23898e"/><stop offset="0.5000" stop-color="#21918c"/><stop offset="0.5312" stop-color="#1f988b"/><stop offset="0.5625" stop-color="#1fa088"/><stop offset="0.5938" stop-color="#22a785"/><stop offset="0.6250" stop-color="#28ae80"/><stop offset="0.6562" stop-color="#32b67a"/><stop offset="0.6875" stop-color="#3fbc73"/><stop offset="0.7188" stop-color="#4ec36b"/><stop offset="0.7500" stop-color="#5ec962"/><stop offset="0.7812" stop-color="#70cf57"/><stop offset="0.8125" stop-color="#84d44b"/><stop offset="0.8438" stop-color="#98d83e"/><stop offset="0.8750" stop-color="#addc30"/><stop offset="0.9062" stop-color="#c2df23"/><stop offset="0.9375" stop-color="#d8e219"/><stop offset="0.9688" stop-color="#ece51b"/><stop offset="1.0000" stop-color="#fde725"/>
</linearGradient></defs>
<path clip-path="url(#ax)" d="M153.9,672.1 C154.1,670.1 154.9,664.3 155.4,660.5 C155.9,656.6 156.4,652.7 156.9,648.8 C157.4,645.0 157.9,641.1 158.4,637.2 C158.8,633.4 159.3,629.5 159.8,625.6 C160.3,621.8 160.7,617.9 161.2,614.0 C161.7,610.2 162.1,606.3 162.6,602.5 C163.0,598.6 163.5,594.7 163.9,590.9 C164.4,587.0 164.8,583.2 165.2,579.3 C165.7,575.4 166.1,571.6 166.6,567.7 C167.0,563.9 167.5,560.0 167.9,556.2 C168.3,552.3 168.8,548.4 169.2,544.6 C169.6,540.7 170.1,536.9 170.5,533.0 C171.0,529.2 171.4,525.3 171.9,521.5 C172.3,517.6 172.7,513.8 173.2,509.9 C173.6,506.1 174.1,502.2 174.5,498.3 C175.0,494.5 175.5,490.6 175.9,486.8 C176.4,482.9 176.9,479.1 177.3,475.2 C177.8,471.4 178.3,467.5 178.8,463.7 C179.2,459.8 179.7,456.0 180.2,452.1 C180.7,448.3 181.2,444.4 181.7,440.6 C182.3,436.7 182.8,432.9 183.3,429.0 C183.8,425.2 184.4,421.3 184.9,417.5 C185.4,413.6 186.0,409.8 186.6,405.9 C187.1,402.1 187.7,398.2 188.3,394.3 C188.9,390.5 189.4,386.6 190.1,382.8 C190.7,378.9 191.3,375.1 191.9,371.2 C192.5,367.4 193.2,363.5 193.8,359.6 C194.5,355.8 195.1,351.9 195.8,348.1 C196.5,344.2 197.2,340.4 197.9,336.5 C198.6,332.6 199.3,328.8 200.1,324.9 C200.8,321.1 201.5,317.2 202.4,313.4 C203.3,309.6 204.2,305.8 205.5,302.1 C206.7,298.5 208.1,294.9 209.9,291.6 C211.7,288.2 213.9,284.7 216.4,281.9 C219.0,279.2 222.2,275.7 225.2,275.0 C228.2,274.3 231.6,275.5 234.5,277.6 C237.3,279.6 240.1,283.9 242.4,287.3 C244.6,290.8 246.4,294.6 248.0,298.2 C249.5,301.9 250.7,305.5 251.8,309.2 C252.9,312.9 253.8,316.6 254.8,320.3 C255.8,324.0 256.7,327.7 257.7,331.4 C258.6,335.2 259.6,338.9 260.6,342.6 C261.5,346.4 262.5,350.1 263.4,353.9 C264.4,357.7 265.4,361.4 266.3,365.2 C267.3,369.0 268.2,372.8 269.2,376.6 C270.1,380.3 271.1,384.1 272.0,387.9 C272.9,391.7 273.9,395.5 274.8,399.3 C275.7,403.1 276.6,406.9 277.5,410.7 C278.5,414.5 279.4,418.3 280.3,422.1 C281.2,425.9 282.0,429.7 282.9,433.5 C283.8,437.2 284.7,441.0 285.5,444.8 C286.4,448.6 287.2,452.4 288.1,456.1 C288.9,459.9 289.8,463.7 290.6,467.4 C291.5,471.2 292.4,475.0 293.2,478.7 C294.1,482.5 295.0,486.2 295.9,490.0 C296.9,493.8 297.8,497.5 298.8,501.3 C299.8,505.0 300.8,508.8 301.8,512.6 C302.9,516.3 303.9,520.1 305.1,523.8 C306.2,527.6 307.4,531.4 308.6,535.1 C309.9,538.9 311.1,542.7 312.6,546.3 C314.0,550.0 315.5,553.7 317.2,557.2 C318.9,560.8 320.7,564.3 322.8,567.6 C324.8,571.0 327.1,574.6 329.5,577.3 C331.9,580.0 334.7,583.4 337.3,583.6 C339.9,583.8 342.8,580.8 345.3,578.4 C347.7,576.0 350.1,572.5 352.2,569.3 C354.3,566.1 356.3,562.7 358.1,559.2 C359.9,555.7 361.5,552.0 363.1,548.3 C364.7,544.6 366.1,540.8 367.5,537.0 C368.8,533.3 370.1,529.5 371.4,525.7 C372.6,522.0 373.8,518.3 375.0,514.6 C376.2,510.9 377.3,507.2 378.4,503.6 C379.5,499.9 380.6,496.2 381.7,492.6 C382.7,488.9 383.8,485.2 384.8,481.5 C385.9,477.8 386.9,474.0 387.9,470.3 C388.9,466.6 389.9,462.8 390.9,459.1 C391.9,455.3 392.9,451.5 393.9,447.8 C394.9,444.0 395.9,440.2 396.9,436.4 C397.8,432.6 398.8,428.9 399.8,425.1 C400.8,421.3 401.7,417.5 402.7,413.7 C403.7,409.9 404.6,406.1 405.6,402.3 C406.6,398.6 407.5,394.8 408.5,391.0 C409.5,387.2 410.5,383.5 411.4,379.7 C412.4,376.0 413.4,372.2 414.4,368.5 C415.4,364.8 416.4,361.1 417.4,357.4 C418.4,353.7 419.5,350.0 420.6,346.3 C421.7,342.6 422.9,338.9 424.2,335.2 C425.4,331.6 426.7,327.9 428.2,324.2 C429.7,320.5 431.2,316.8 432.9,313.2 C434.7,309.6 436.4,305.8 438.9,302.9 C441.3,299.9 444.3,297.1 447.6,295.6 C450.9,294.2 455.2,293.4 458.7,294.2 C462.1,294.9 465.5,297.6 468.4,300.1 C471.2,302.6 473.6,306.0 475.7,309.2 C477.8,312.4 479.5,315.9 481.1,319.5 C482.6,323.0 483.9,326.8 485.2,330.5 C486.5,334.2 487.6,338.0 488.8,341.8 C490.0,345.5 491.2,349.2 492.5,352.9 C493.7,356.6 494.9,360.3 496.2,364.0 C497.4,367.6 498.7,371.3 499.9,375.0 C501.1,378.6 502.3,382.3 503.4,386.0 C504.6,389.7 505.7,393.4 506.9,397.1 C508.0,400.8 509.1,404.6 510.2,408.3 C511.3,412.0 512.4,415.8 513.4,419.5 C514.5,423.2 515.6,427.0 516.7,430.7 C517.8,434.4 518.9,438.2 520.0,441.9 C521.2,445.6 522.3,449.4 523.5,453.1 C524.6,456.8 525.8,460.5 527.1,464.2 C528.3,467.9 529.5,471.6 530.8,475.2 C532.1,478.9 533.5,482.5 534.9,486.2 C536.3,489.8 537.7,493.4 539.2,497.0 C540.7,500.6 542.3,504.2 544.0,507.6 C545.7,511.1 547.4,514.6 549.4,518.0 C551.4,521.4 553.4,524.8 555.8,527.9 C558.2,530.9 560.6,534.6 563.7,536.5 C566.8,538.4 571.1,539.6 574.5,539.2 C577.9,538.9 581.3,536.9 584.1,534.5 C586.8,532.0 588.8,528.2 590.8,524.6 C592.8,521.1 594.3,516.9 596.0,513.3 C597.7,509.6 599.3,506.2 600.9,502.7 C602.5,499.2 604.0,495.9 605.5,492.4 C607.0,488.9 608.4,485.4 609.9,481.8 C611.3,478.3 612.7,474.6 614.1,471.0 C615.5,467.3 616.8,463.6 618.2,460.0 C619.5,456.3 620.8,452.6 622.2,448.9 C623.5,445.2 624.8,441.5 626.1,437.9 C627.5,434.2 628.8,430.6 630.1,426.9 C631.5,423.3 633.3,418.4 634.2,416.0 C635.1,413.6 633.5,417.7 635.6,412.4 C637.7,407.0 644.5,389.9 647.0,384.0 C649.5,378.1 648.8,380.3 650.5,376.7 C652.2,373.1 654.9,366.6 657.0,362.4 C659.1,358.2 661.2,354.3 663.0,351.4 C664.8,348.5 666.6,347.0 668.0,345.2 C669.4,343.4 670.3,342.5 671.4,340.4 C672.5,338.3 673.6,335.4 674.6,332.7 C675.6,330.0 676.9,325.4 677.4,324.0" fill="none" stroke="#ff00ff" stroke-width="9.2" stroke-linejoin="round" stroke-linecap="round"/>
<path clip-path="url(#ax)" d="M677.4,324.0 C677.8,322.2 679.0,316.7 679.6,313.0 C680.2,309.3 680.7,305.4 681.3,302.0 C681.9,298.6 682.7,294.4 683.2,292.5 C683.7,290.6 684.0,288.9 684.5,290.5 C685.0,292.1 685.7,296.4 686.3,302.0 C686.9,307.6 687.8,316.7 688.3,324.0 C688.8,331.3 689.1,337.2 689.5,346.0 C689.9,354.8 690.3,366.9 690.8,376.7 C691.3,386.5 692.0,396.8 692.5,405.0 C693.0,413.2 693.5,417.7 694.0,426.2 C694.5,434.7 694.8,453.7 695.5,456.0 C696.2,458.3 697.5,445.0 698.5,440.0 C699.5,435.0 701.1,432.0 701.8,426.2 C702.5,420.4 702.5,411.8 702.8,405.3 C703.0,398.8 702.8,389.2 703.3,387.0 C703.8,384.8 704.7,388.9 705.5,392.0 C706.3,395.1 707.0,399.6 708.0,405.3 C709.0,411.0 710.3,421.8 711.2,426.2 C712.1,430.6 712.4,431.2 713.2,431.5 C714.0,431.8 714.9,428.9 716.0,428.0 C717.1,427.1 718.7,426.8 720.0,426.2 C721.3,425.6 723.0,425.3 724.0,424.5 C725.0,423.7 725.3,421.5 726.0,421.5 C726.7,421.5 727.0,423.7 728.0,424.5 C729.0,425.3 724.2,425.9 732.0,426.2 C739.8,426.5 767.8,426.2 775.0,426.2" fill="none" stroke="#ff00ff" stroke-width="7.6" stroke-linejoin="round" stroke-linecap="round"/>
<path clip-path="url(#ax)" d="M219.2,279.0 L222.1,276.6 L225.2,275.0 L228.4,274.6 L231.5,275.5 L234.5,277.6" fill="none" stroke="#ff00ff" stroke-width="11.5" stroke-linecap="round" stroke-linejoin="round"/><path clip-path="url(#ax)" d="M332.0,580.2 L334.6,582.5 L337.3,583.6 L340.0,583.0 L342.7,581.1 L345.3,578.4" fill="none" stroke="#ff00ff" stroke-width="14.5" stroke-linecap="round" stroke-linejoin="round"/><path clip-path="url(#ax)" d="M447.6,295.6 L451.2,294.4 L455.0,293.9 L458.7,294.2 L462.2,295.5" fill="none" stroke="#ff00ff" stroke-width="12.5" stroke-linecap="round" stroke-linejoin="round"/><path clip-path="url(#ax)" d="M563.7,536.5 L567.1,538.3 L570.7,539.2 L574.5,539.2 L578.1,538.4" fill="none" stroke="#ff00ff" stroke-width="11.5" stroke-linecap="round" stroke-linejoin="round"/>
<g fill="none" stroke="#000" stroke-width="3.5">
<rect x="161" y="61.3" width="607.3" height="729.6"/>
<path d="M161 99.05h-14.5M161 262.6h-14.5M161 426.2h-14.5M161 589.7h-14.5M161 753.3h-14.5"/>
<path d="M266.9 790.9v15.5M491.6 790.9v15.5M716.6 790.9v15.5"/>
</g>
<g stroke="#000" stroke-width="2">
<path d="M768.3 152h4M768.3 243.4h4M768.3 335h4M768.3 517.5h4M768.3 608.3h4M768.3 700h4"/>
</g>
<rect x="856.1" y="61.3" width="35.3" height="729.6" fill="url(#cb)"/>
<g fill="none" stroke="#000" stroke-width="3.5">
<rect x="856.1" y="61.3" width="35.3" height="729.6"/>
<path d="M891.4 61.2h15.5M891.4 243.4h15.5M891.4 425.7h15.5M891.4 608h15.5M891.4 790.3h15.5"/>
</g>
</svg>
<div class="t" style="font-size:46.3px;left:58.38px;top:76.82px;transform-origin:0 0;transform:scaleX(1.0850);">1.0</div>
<div class="t" style="font-size:46.3px;left:57.17px;top:239.57px;transform-origin:0 0;transform:scaleX(1.0948);">0.5</div>
<div class="t" style="font-size:46.3px;left:57.25px;top:403.32px;transform-origin:0 0;transform:scaleX(1.1096);">0.0</div>
<div class="t" style="font-size:46.3px;left:21.48px;top:567.72px;transform-origin:0 0;transform:scaleX(1.1764);">&#8722;0.5</div>
<div class="t" style="font-size:46.3px;left:21.48px;top:730.12px;transform-origin:0 0;transform:scaleX(1.1764);">&#8722;1.0</div>
<div class="t" style="font-size:46.3px;left:234.98px;top:817.80px;transform-origin:0 0;transform:scaleX(1.2191);">&#8722;2</div>
<div class="t" style="font-size:46.3px;left:460.47px;top:817.57px;transform-origin:0 0;transform:scaleX(1.1796);">&#8722;1</div>
<div class="t" style="font-size:46.3px;left:703.31px;top:816.92px;transform-origin:0 0;transform:scaleX(1.0214);">0</div>
<div class="t" style="font-size:35.7px;left:923.58px;top:43.77px;transform-origin:0 0;transform:scaleX(1.1342);">20</div>
<div class="t" style="font-size:35.7px;left:923.12px;top:226.52px;transform-origin:0 0;transform:scaleX(1.1148);">10</div>
<div class="t" style="font-size:35.7px;left:924.23px;top:408.42px;transform-origin:0 0;transform:scaleX(1.0329);">0</div>
<div class="t" style="font-size:35.7px;left:924.25px;top:591.27px;transform-origin:0 0;transform:scaleX(1.2022);">&#8722;10</div>
<div class="t" style="font-size:35.7px;left:924.26px;top:774.37px;transform-origin:0 0;transform:scaleX(1.1987);">&#8722;20</div>
<div class="t" style="font-size:42.9px;left:774.07px;top:-2.46px;transform-origin:0 0;transform:scaleX(0.8750);font-style:italic">E</div>
<div class="t" style="font-size:29.4px;left:800.30px;top:15.40px;transform-origin:0 0;transform:scaleX(1.0068);font-style:italic">z</div>
<div class="t" style="font-size:38.3px;left:829.32px;top:-1.40px;transform-origin:0 0;transform:scaleX(1.1650);">(MV/m)</div>
<div class="t" style="font-size:44.0px;left:392.54px;top:861.55px;transform-origin:0 0;transform:scaleX(1.1061);font-style:italic">&#958;</div>
<div class="t" style="font-size:38.3px;left:429.61px;top:862.60px;transform-origin:0 0;transform:scaleX(1.2133);">(mm)</div>
<div class="t" style="font-size:38.6px;left:-1.32px;top:495.81px;transform-origin:0 0;transform:rotate(-90deg) scaleX(1.2253)">r (mm)</div>
</body></html>
